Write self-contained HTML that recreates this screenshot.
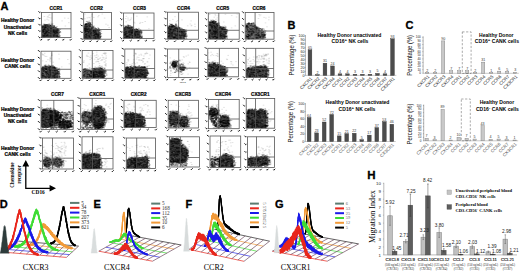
<!DOCTYPE html>
<html><head><meta charset="utf-8"><style>
html,body{margin:0;padding:0;background:#fff;}
svg{display:block;font-family:"Liberation Sans",sans-serif;}
</style></head><body>
<svg width="520" height="272" viewBox="0 0 520 272" font-family="'Liberation Sans',sans-serif">
<rect width="520" height="272" fill="#fff"/>
<defs><filter id="bl" x="-20%" y="-20%" width="140%" height="140%"><feGaussianBlur stdDeviation=".7"/></filter></defs>
<clipPath id="c0"><rect x="41.5" y="12.4" width="29.5" height="25.2"/></clipPath>
<g clip-path="url(#c0)"><g filter="url(#bl)" fill="#080808">
<path d="M41.5 37.6L41.5 27L43 25.8L46 25L50 25.3L53 26.5L55 28.5L58.6 29.3L58.6 37.6Z" fill-opacity="0.75"/>
</g></g>
<clipPath id="c1"><rect x="83.7" y="12.4" width="27.8" height="26.8"/></clipPath>
<g clip-path="url(#c1)"><g filter="url(#bl)" fill="#080808">
<path d="M83.7 39.2L83.7 26L86 23.5L89 23.5L91 25.5L92.5 28.5L95 30L99.5 30.5L99.5 39.2Z" fill-opacity="0.75"/>
</g></g>
<clipPath id="c2"><rect x="123.4" y="13" width="30.6" height="25.5"/></clipPath>
<g clip-path="url(#c2)"><g filter="url(#bl)" fill="#080808">
<path d="M123.4 38.5L123.4 28L125.5 26.5L129 26.5L132 28L134 30L140.5 30.8L140.5 38.5Z" fill-opacity="0.75"/>
</g></g>
<clipPath id="c3"><rect x="167.5" y="12.2" width="31" height="27"/></clipPath>
<g clip-path="url(#c3)"><g filter="url(#bl)" fill="#080808">
<path d="M167.5 39.2L167.5 27.5L170 25.8L174 25.7L177 27L179 29.5L184.7 30.5L184.7 39.2Z" fill-opacity="0.75"/>
</g></g>
<clipPath id="c4"><rect x="208.3" y="13" width="30.9" height="26.2"/></clipPath>
<g clip-path="url(#c4)"><g filter="url(#bl)" fill="#080808">
<path d="M208.3 39.2L208.3 24L210.5 22L214 21.8L216.5 23.5L218.5 26.5L221 27.8L225.8 28.5L225.8 39.2Z" fill-opacity="0.75"/>
</g></g>
<clipPath id="c5"><rect x="245.2" y="12.5" width="28.8" height="26.7"/></clipPath>
<g clip-path="url(#c5)"><g filter="url(#bl)" fill="#080808">
<path d="M245.2 39.2L245.2 26L248 24L252.5 24.2L255 27L258 29.5L263.9 31L263.9 39.2Z" fill-opacity="0.61"/>
</g></g>
<clipPath id="c6"><rect x="41" y="51.2" width="30" height="27.1"/></clipPath>
<g clip-path="url(#c6)"><g filter="url(#bl)" fill="#080808">
<path d="M41 78.3L41 68L44 66.5L49 66.5L53 67.5L56 69L58.2 70.5L58.2 78.3Z" fill-opacity="0.72"/>
</g></g>
<clipPath id="c7"><rect x="82.2" y="50.5" width="30.8" height="27.8"/></clipPath>
<g clip-path="url(#c7)"><g filter="url(#bl)" fill="#080808">
<path d="M82.2 78.3L82.2 71L84 69.5L89 69.5L92.5 71L92.5 78.3Z" fill-opacity="0.61"/>
<path d="M92.5 78.3L92.5 70L94 69L99 68.2L103 68.8L104.7 70.5L104.7 78.3Z" fill-opacity="0.78"/>
</g></g>
<clipPath id="c8"><rect x="124.8" y="49" width="29.9" height="29.2"/></clipPath>
<g clip-path="url(#c8)"><g filter="url(#bl)" fill="#080808">
<path d="M124.8 78.2L124.8 68.8L127 67.8L136 67.6L144 67.4L146.5 68.5L146.5 78.2Z" fill-opacity="0.78"/>
</g></g>
<clipPath id="c9"><rect x="167.5" y="49" width="31" height="28.5"/></clipPath>
<g clip-path="url(#c9)"><g filter="url(#bl)" fill="#080808">
<ellipse cx="174.2" cy="64.3" rx="2.6" ry="3.4" fill-opacity="0.74"/>
<ellipse cx="182.5" cy="68.3" rx="3" ry="2.1" fill-opacity="0.74"/>
</g></g>
<clipPath id="c10"><rect x="207.8" y="48.3" width="30.7" height="28.5"/></clipPath>
<g clip-path="url(#c10)"><g filter="url(#bl)" fill="#080808">
<path d="M207.8 76.8L207.8 65.5L210 64L215 63.8L218 65L219.5 66.5L223 66.8L225.7 68L225.7 76.8Z" fill-opacity="0.75"/>
</g></g>
<clipPath id="c11"><rect x="246" y="48.3" width="27.7" height="29.2"/></clipPath>
<g clip-path="url(#c11)"><g filter="url(#bl)" fill="#080808">
<path d="M246 77.5L246 69L250 67.5L258 67.2L263 66.5L267 67.5L267 77.5Z" fill-opacity="0.72"/>
</g></g>
<clipPath id="c12"><rect x="41" y="100.3" width="32.2" height="29.2"/></clipPath>
<g clip-path="url(#c12)"><g filter="url(#bl)" fill="#080808">
<path d="M41 127L41 111L44 109.5L50 109.8L55 111L59 113L60 118L58 123L52 126L45 127Z" fill-opacity="0.74"/>
<ellipse cx="65" cy="124.5" rx="6.5" ry="4.2" fill-opacity="0.74"/>
</g></g>
<clipPath id="c13"><rect x="80.7" y="98.3" width="32.8" height="31.2"/></clipPath>
<g clip-path="url(#c13)"><g filter="url(#bl)" fill="#080808">
<ellipse cx="86.5" cy="117.5" rx="5" ry="6.5" fill-opacity="0.61"/>
<ellipse cx="98.3" cy="117.8" rx="7" ry="11" fill-opacity="0.77"/>
</g></g>
<clipPath id="c14"><rect x="124" y="100.3" width="32.2" height="27.2"/></clipPath>
<g clip-path="url(#c14)"><g filter="url(#bl)" fill="#080808">
<path d="M124 127.5L124 114.5L127 113.5L134 114L139 115L142.5 116.5L143.5 119L143.5 127.5Z" fill-opacity="0.78"/>
</g></g>
<clipPath id="c15"><rect x="168.2" y="100.3" width="30.3" height="27.7"/></clipPath>
<g clip-path="url(#c15)"><g filter="url(#bl)" fill="#080808">
<ellipse cx="174" cy="118.5" rx="5.8" ry="6.8" fill-opacity="0.71"/>
<ellipse cx="184.2" cy="121.5" rx="4.2" ry="5.5" fill-opacity="0.71"/>
</g></g>
<clipPath id="c16"><rect x="208.5" y="99.5" width="30.7" height="29.2"/></clipPath>
<g clip-path="url(#c16)"><g filter="url(#bl)" fill="#080808">
<ellipse cx="213.5" cy="111.8" rx="4.6" ry="4.4" fill-opacity="0.71"/>
<ellipse cx="224.5" cy="121.5" rx="5" ry="5.6" fill-opacity="0.71"/>
</g></g>
<clipPath id="c17"><rect x="246.2" y="98.5" width="28.5" height="29.7"/></clipPath>
<g clip-path="url(#c17)"><g filter="url(#bl)" fill="#080808">
<path d="M246.2 128.2L246.2 112L250 110.5L256 110.5L262 110L265.5 111L266.2 114L266.2 128.2Z" fill-opacity="0.77"/>
</g></g>
<clipPath id="c18"><rect x="42.5" y="138" width="31" height="31"/></clipPath>
<g clip-path="url(#c18)"><g filter="url(#bl)" fill="#080808">
<ellipse cx="47.5" cy="162.5" rx="4.6" ry="5" fill-opacity="0.61"/>
<ellipse cx="57.8" cy="162.5" rx="4.8" ry="4.6" fill-opacity="0.59"/>
</g></g>
<clipPath id="c19"><rect x="82" y="136.8" width="31" height="32.2"/></clipPath>
<g clip-path="url(#c19)"><g filter="url(#bl)" fill="#080808">
<path d="M82 169L82 156L85 154.5L91 154L96 154.5L99 156L100.2 159L100.2 169Z" fill-opacity="0.78"/>
</g></g>
<clipPath id="c20"><rect x="126.3" y="138" width="29.2" height="30.5"/></clipPath>
<g clip-path="url(#c20)"><g filter="url(#bl)" fill="#080808">
<path d="M126.3 168.5L126.3 160L129 158.5L135 157.8L135 168.5Z" fill-opacity="0.71"/>
<path d="M135 168.5L135 157.8L141 157.5L146 156.5L148 158.5L148 168.5Z" fill-opacity="0.76"/>
</g></g>
<clipPath id="c21"><rect x="169.5" y="136.8" width="30" height="30.2"/></clipPath>
<g clip-path="url(#c21)"><g filter="url(#bl)" fill="#080808">
<path d="M169.5 162.5L169.5 141L172 139.2L177 139L180 140.5L181 145L184 147.5L187 151L187.4 157L185 161L178 162L169.5 162Z" fill-opacity="0.76"/>
</g></g>
<clipPath id="c22"><rect x="210" y="136" width="30.7" height="31.5"/></clipPath>
<g clip-path="url(#c22)"><g filter="url(#bl)" fill="#080808">
<path d="M219 167.5L219 157.5L222 156L225 154L228 155.5L232 157L233.2 160L233.2 167.5Z" fill-opacity="0.76"/>
</g></g>
<clipPath id="c23"><rect x="247.5" y="136.8" width="27" height="30.7"/></clipPath>
<g clip-path="url(#c23)"><g filter="url(#bl)" fill="#080808">
<path d="M247.5 166L247.5 158.5L251 157.5L258 157.2L263 156.5L267 157L268.5 159L268.5 165L260 166L250 166.5Z" fill-opacity="0.75"/>
</g></g>
<g stroke-linecap="square" fill="none">
<path d="M55.2 30.4h.6M42.5 36.8h.6M43.9 36.1h.6M42.3 33.2h.6M44 28.3h.6M48.7 34.5h.6M48.9 30.3h.6M48.4 31.6h.6M46.3 37h.6M44.8 26.7h.6M50.9 29.4h.6M53.1 29.6h.6M48.9 29h.6M50.6 28.5h.6M53 30.2h.6M53.6 28.7h.6M49.3 32h.6M53.8 33.2h.6M48.8 26.1h.6M86 37.6h.6M88.3 29.8h.6M92.8 32.7h.6M96.2 30.5h.6M96.6 31.6h.6M85.1 35.6h.6M90.2 27.8h.6M97.1 32.9h.6M87 32.6h.6M92 32.9h.6M86.7 37.6h.6M89.6 32.3h.6M88.7 30.3h.6M91.1 27.5h.6M90.1 28h.6M98.9 38.2h.6M86 35.6h.6M97.8 34h.6M136.2 36.1h.6M125.4 37.3h.6M126.3 34h.6M140.3 35h.6M130 34.3h.6M132.3 34.3h.6M133.2 37.5h.6M136.3 31.2h.6M136.3 34.7h.6M127.8 34.8h.6M133 33h.6M132.3 36.3h.6M135.4 37.3h.6M126.3 36.9h.6M130.7 37h.6M128.2 37.7h.6M124.4 36.3h.6M140.2 33.8h.6M175.9 26.6h.6M176.8 38.6h.6M179.1 36.2h.6M184.5 34.3h.6M173.6 35.3h.6M174.2 28h.6M182.1 38h.6M180.1 34.2h.6M176.1 32.3h.6M168.3 34.7h.6M179.2 31.1h.6M168.7 37.6h.6M177.9 37.7h.6M172.3 30.5h.6M169.3 33.2h.6M176.4 30h.6M173 28.3h.6M182.5 36.4h.6M180 33.4h.6M173 32.3h.6M180 37.2h.6M223.1 37.7h.6M221.2 38.9h.6M212 24h.6M211.9 31.2h.6M214 33.2h.6M214.7 29.6h.6M208.9 32.8h.6M221.4 32.4h.6M209.9 35.7h.6M209.4 33.9h.6M210.1 28.8h.6M221 29.4h.6M210.5 34.8h.6M208.7 38.5h.6M211.5 37h.6M218.8 38.6h.6M221.6 34.5h.6M214.5 37.4h.6M212.9 26.3h.6M209.5 26.9h.6M215.1 32.9h.6M221.9 31.2h.6M211.5 29.8h.6M247.4 37.2h.6M248.9 34.6h.6M256.4 30.8h.6M261.9 38.9h.6M248.5 28.7h.6M249.1 35h.6M250.4 27.7h.6M259.3 35.8h.6M248.3 29.3h.6M250.4 27.1h.6M261.5 35.6h.6M262.5 38.5h.6M247.3 37.5h.6M259.8 32.6h.6M257.4 31.5h.6M262.1 33h.6M248.7 34.3h.6M247.5 37.4h.6M245.4 25.9h.6M248.1 31.7h.6M261.2 34.5h.6M252.9 27.5h.6M246.2 32.8h.6M250.2 33.4h.6M257.7 29.9h.6M247.1 38h.6M262.6 35.6h.6M249 37.9h.6M256.9 32h.6M263.4 38.7h.6M252.1 36.7h.6M260.7 33.4h.6M259.4 34.4h.6M261.7 36.8h.6M45.6 74.3h.6M46.3 70.3h.6M49 75h.6M53.6 73h.6M53.1 77.4h.6M49.1 71.5h.6M48.6 70.7h.6M57.6 74.3h.6M47 74.9h.6M45.3 70.3h.6M51.8 75.7h.6M48.4 77.2h.6M43.9 73.5h.6M45 75.2h.6M44 74.3h.6M51.2 71.1h.6M42.9 67.7h.6M43.2 72.7h.6M56 71.3h.6M86.6 77.1h.6M87.5 70.4h.6M85.5 77.4h.6M89 71.8h.6M83.1 77.4h.6M90.9 77.2h.6M83.9 70.3h.6M85.6 77h.6M84.5 76.3h.6M104.6 75.6h.6M97.9 74.1h.6M102 70.1h.6M99.5 77.2h.6M100.4 69h.6M96.6 70.1h.6M104.1 73.7h.6M96 75.4h.6M98.7 77h.6M97 78.2h.6M132.6 78.2h.6M134.9 73.2h.6M138.5 77.1h.6M126.9 76.1h.6M133.7 71h.6M131.4 73.3h.6M127.9 74.2h.6M139.7 72.2h.6M138.7 77.4h.6M133.6 73.9h.6M133.8 71.8h.6M142.8 71.8h.6M143.2 73.5h.6M137 71.9h.6M144.9 77.5h.6M141.5 72.2h.6M137.6 71.6h.6M129.3 68.4h.6M125.8 73h.6M129.1 70.8h.6M131.3 67.9h.6M136.5 68.9h.6M136.5 74.8h.6M176.4 63.2h.6M173.8 67.4h.6M183.4 69h.6M182 68.7h.6M212.6 67h.6M223.6 70.7h.6M216.9 66.3h.6M214.5 67.7h.6M216.6 67.8h.6M219.9 72.4h.6M224.4 69.7h.6M225.3 76.2h.6M217.1 75.5h.6M223.6 68.9h.6M208.3 67.3h.6M210.4 72.2h.6M213 64.9h.6M219.9 66.7h.6M212.8 66.9h.6M220.6 67.9h.6M220.7 71.9h.6M222.7 75.6h.6M212.4 68.4h.6M261.2 71.2h.6M266.4 71h.6M254.7 73.7h.6M257.5 71.7h.6M264.7 69.5h.6M255.4 77.4h.6M256.6 74.2h.6M264.8 76h.6M250.7 67.9h.6M258.1 72h.6M248.9 70.8h.6M253.8 70.5h.6M263.3 75.9h.6M256.3 69.2h.6M256.6 74.3h.6M256.2 72.2h.6M248 74.2h.6M258.4 76.9h.6M259.2 69.4h.6M257.4 74.9h.6M47.8 118h.6M55.3 117h.6M53.8 119.8h.6M56.8 120.9h.6M42.2 120.3h.6M42.7 122.4h.6M56.8 117.7h.6M49.6 122.5h.6M47.9 123.9h.6M42.3 112.2h.6M41.6 123.9h.6M47.5 117.7h.6M46.6 120.8h.6M58.4 114.1h.6M53.7 113.4h.6M57.8 116.8h.6M48.1 118.4h.6M55.5 121.2h.6M53.6 122.3h.6M52.2 123.6h.6M50.7 123.9h.6M55 122.2h.6M48.1 114.9h.6M55.1 123.9h.6M66.9 121.3h.6M63.3 123.5h.6M65.8 120.7h.6M60.3 125.6h.6M61.3 123.9h.6M65.5 127.4h.6M89.9 121.4h.6M87.4 118.9h.6M85.2 115.1h.6M83.7 120.7h.6M83.2 117.5h.6M89.9 119.1h.6M86.8 120.4h.6M84.3 115.8h.6M86.9 118.9h.6M89.7 121.3h.6M82.5 119.8h.6M84.9 115.7h.6M101.2 116.2h.6M92.7 118.2h.6M93.3 116.4h.6M100 117h.6M102.7 126.1h.6M93 114h.6M95.7 112.8h.6M104 122.6h.6M100.8 121.6h.6M102.9 121.9h.6M103.8 115.4h.6M102.1 113h.6M95.2 108.8h.6M102.9 111.4h.6M94.3 117.9h.6M100.1 117.1h.6M103.3 114.5h.6M93.8 115.8h.6M98.7 118.3h.6M98.6 115.2h.6M96.3 128.1h.6M93 121.1h.6M93 124.3h.6M97.2 127h.6M133.7 116.9h.6M135.5 116.6h.6M127.6 115.6h.6M126.7 125.7h.6M138.8 118.4h.6M140 125.4h.6M124.9 118.7h.6M130 125.2h.6M136.8 122.5h.6M137.5 116.2h.6M140.5 119.6h.6M134.8 114.4h.6M126.1 119.5h.6M143.1 123.4h.6M131.2 122h.6M136.8 118.4h.6M134.6 116.4h.6M126.1 119h.6M124.2 127.2h.6M127.2 119.1h.6M129 125.7h.6M130 121.2h.6M132.1 126h.6M137.1 124h.6M178.4 115.1h.6M172.7 113.6h.6M177.7 116.3h.6M170.5 116.2h.6M174.6 119.2h.6M171.6 116.3h.6M176.5 122.8h.6M175.1 112.1h.6M176.4 121h.6M175.7 123.3h.6M172.7 123.3h.6M173.8 123.5h.6M176.8 120.8h.6M178.5 114.3h.6M169.7 120.5h.6M169.3 116.1h.6M176.4 119.9h.6M177.7 116.1h.6M168.6 119.8h.6M169.7 120.7h.6M180.7 123.9h.6M185.5 121.5h.6M183.8 126.5h.6M185.6 120.9h.6M182.4 125.7h.6M181.5 122.2h.6M182.2 117.4h.6M183.1 124h.6M182 121h.6M181.2 124.7h.6M210.7 114.6h.6M213.1 108.5h.6M217.6 112.6h.6M212.5 110h.6M217.4 111h.6M215.8 112.4h.6M215 112.9h.6M228.2 121.1h.6M224.2 120.7h.6M224.6 123h.6M222.2 125.8h.6M224.9 126.2h.6M220.3 118.7h.6M227.1 124.4h.6M265.2 123.1h.6M248.1 123.2h.6M259.3 117.7h.6M249 122.9h.6M251 116.2h.6M262 122.4h.6M260.6 111.9h.6M249.7 113.8h.6M258.4 116.8h.6M255.4 118.1h.6M258.6 120.3h.6M262 124.2h.6M256.3 123.5h.6M253.7 119.7h.6M264.9 112.3h.6M262.6 118.5h.6M264.9 123.2h.6M262.9 122.1h.6M246.3 114.8h.6M252.6 116h.6M263.4 114.7h.6M248.2 124.4h.6M260.8 115.2h.6M251.7 126.6h.6M249.1 110.9h.6M248.8 120.4h.6M252.8 118.8h.6M249.9 120.2h.6M263.6 125.9h.6M249.8 125.7h.6M247.1 122.8h.6M247.9 119.6h.6M251.7 119h.6M246.6 122.4h.6M256.9 113.8h.6M48.6 161.3h.6M45.9 159h.6M51.1 162.7h.6M44.6 159h.6M43.5 163.6h.6M47.4 162.9h.6M45.1 160.3h.6M51.5 163.6h.6M44.6 159.6h.6M49.5 165.7h.6M46 166.6h.6M47.8 162h.6M49.4 159.1h.6M47.4 162.9h.6M48 158.9h.6M47.9 159.3h.6M47.6 165.2h.6M44.2 162.8h.6M54.7 165.6h.6M59.5 158.9h.6M59.9 163h.6M59.6 159.3h.6M56.6 166h.6M58 162.4h.6M56.4 161.2h.6M54 164.4h.6M56.7 165.3h.6M61 161.1h.6M58.5 163h.6M58 164.9h.6M61.5 164.1h.6M56 165.6h.6M59.1 165h.6M56.3 165.6h.6M61.9 164.8h.6M59.2 158.1h.6M59.2 161h.6M58.7 163.4h.6M90.3 155.2h.6M87.3 166.3h.6M89.9 166.5h.6M82.1 163.4h.6M97.1 166.5h.6M98.7 156.5h.6M92.3 160.9h.6M93.6 156.6h.6M88 164.9h.6M99 159.3h.6M83.3 156.1h.6M94.6 158.4h.6M83.7 167.6h.6M83 163.5h.6M82.5 162.7h.6M91.5 157.8h.6M93.9 166.2h.6M98.7 164.8h.6M97 161.1h.6M97.7 159.5h.6M100.1 164.4h.6M97.8 162.4h.6M98.5 164.4h.6M94.5 165.4h.6M128.5 159.1h.6M135 161.1h.6M134.8 167.9h.6M133.2 161.6h.6M132.7 159.6h.6M134.6 163.3h.6M128.9 159.6h.6M143.9 162.6h.6M139.9 164.9h.6M138.8 163.3h.6M146.6 160.7h.6M141.4 159.5h.6M146.4 158.1h.6M145.6 163.8h.6M144.9 158.2h.6M145.8 161.2h.6M147.2 166.4h.6M140.8 166.6h.6M137.3 162.6h.6M140.7 161.2h.6M141.5 160.2h.6M185.7 153.9h.6M173 147.9h.6M173.8 156.1h.6M185.9 150.2h.6M181.9 161.2h.6M178.8 147.4h.6M173.2 139.6h.6M175.5 158.1h.6M173.9 159.2h.6M182.1 153.3h.6M186 157.2h.6M183.9 149.4h.6M169.6 143.9h.6M177.1 149h.6M173.4 152.5h.6M180.6 152.6h.6M171 160.6h.6M175.5 157.5h.6M172.9 157.5h.6M183.1 148.8h.6M173.8 147h.6M178.6 146.7h.6M174.8 145.9h.6M170.6 158.5h.6M171.5 160.6h.6M170.2 158.9h.6M171.2 160.9h.6M177.4 149.8h.6M183.3 157.1h.6M174.3 158.5h.6M186.9 154.9h.6M173.6 146h.6M178.6 161.1h.6M170.3 155.3h.6M170.6 151.8h.6M178.1 159.4h.6M224.5 165h.6M229.4 157.4h.6M229 161h.6M222.9 167h.6M227.4 166.3h.6M228.3 165.5h.6M229.6 166.2h.6M224.8 161.6h.6M229.2 160h.6M220.6 158.2h.6M230.2 159.3h.6M232.8 160.3h.6M229.2 162.3h.6M228.2 164.9h.6M228.8 165.8h.6M264.2 163.2h.6M254.5 162.7h.6M253.9 163.7h.6M253.2 160.7h.6M265.8 164.8h.6M251.8 159.7h.6M254.4 163.9h.6M255.7 160.9h.6M249.2 163.4h.6M252.3 163h.6M260.7 160.4h.6M260.5 158h.6M261.6 159.1h.6M266.7 164.2h.6M256.2 166.2h.6M263.5 157.5h.6M256.3 157.6h.6M264.5 163.5h.6M260.5 165.8h.6M264.8 163.1h.6" stroke="#aaa" stroke-width=".8" stroke-opacity=".3"/>
<path d="M177.2 62.9h.6M177.7 67.5h.6M174.2 66.1h.6M175.5 65.4h.6M177.4 66.5h.6M178.3 64.1h.6M171.7 64.4h.6M179.6 66h.6M182.7 64.5h.6M172.8 63.2h.6M175 65.7h.6M180 65.9h.6M174 69.1h.6M173.8 63.9h.6M177.4 61.3h.6M169.9 66.9h.6M177.5 61.4h.6M175.8 64.9h.6M181 64.7h.6M174.7 72.5h.6M179.6 67.6h.6M176 60.7h.6M170.6 70.9h.6M180.1 65.9h.6M180.8 68.3h.6M180.5 71.4h.6M179.4 66h.6M177.8 66.1h.6M174.6 66.3h.6M176.5 69.5h.6M178.6 66.1h.6M175.7 62.1h.6M173.4 68.6h.6M179.4 60.2h.6M179.6 64.4h.6M174.6 67.1h.6M169.9 68.1h.6M176 71h.6M182.3 65.2h.6M171.6 65.4h.6M180.8 69.8h.6M178.2 68.9h.6M176 67.1h.6M177.8 70.9h.6M179.1 68.9h.6M180.2 67.5h.6M173.5 66.4h.6M179.6 67.1h.6M174.7 72.2h.6M171.8 64.8h.6M175.6 63.2h.6M178.5 68.2h.6M181.1 72.3h.6M169.5 67.1h.6M173.2 66.4h.6M177.8 70.5h.6M181.5 63.8h.6M180.7 64.1h.6M175.7 70.9h.6M174.7 65.1h.6M176.2 68.5h.6M175.7 64.4h.6M178.2 71.4h.6M170.8 65.1h.6M176.6 64.7h.6M176.1 69.4h.6M174.1 66.1h.6M170 63.3h.6M69.7 123.8h.6M67.8 121.2h.6M66 114.1h.6M51.2 117.4h.6M72.1 123.7h.6M58.6 126.4h.6M51 127.6h.6M57.8 119.5h.6M67.2 122h.6M50.7 116.4h.6M53.4 113.3h.6M61 123.6h.6M52.5 115.4h.6M53.5 112.9h.6M63.9 119.5h.6M56.4 118.1h.6M61.1 119.2h.6M60.3 115.1h.6M60 112.9h.6M56.3 128.1h.6M56.1 117h.6M60.3 116.8h.6M65.6 112.3h.6M70.4 121.5h.6M51.9 124.3h.6M61.3 124.9h.6M56.6 114.9h.6M56.9 125.3h.6M65 120h.6M59.4 122.4h.6M65.5 114.7h.6M63.2 116.9h.6M64.6 117.3h.6M66.8 118.5h.6M70.8 120h.6M69.5 112.3h.6M60.1 125.5h.6M69 126.5h.6M52.9 122.1h.6M63.1 121.5h.6M63.9 125.2h.6M56.7 114.3h.6M56.1 116.8h.6M61.7 115.2h.6M68.2 120h.6M62.2 112.3h.6M59.6 121.1h.6M71.6 118.7h.6M52.8 125.2h.6M63.5 115h.6M55.5 116.4h.6M50.3 125.6h.6M51.1 123.5h.6M51.2 118.5h.6M57 117.9h.6M51 113h.6M61.8 125.4h.6M70.5 114.4h.6M55.2 113.6h.6M69.9 120.2h.6M64 126.5h.6M69.7 117h.6M68.6 111.7h.6M59.3 112.6h.6M54.3 119h.6M70.4 125.3h.6M50.2 115.4h.6M61.7 127.3h.6M61.9 112.8h.6M65.3 113.2h.6M54.2 125.7h.6M62.8 120.6h.6M52.8 119.1h.6M65.5 115.6h.6M50.9 118.4h.6M63.7 119.3h.6M60.5 115.8h.6M67 115.4h.6M66.1 116.2h.6M58.9 120.1h.6M58.2 113h.6M53.4 127.8h.6M59.8 122.7h.6M58.5 123h.6M67.6 125.8h.6M56.6 127h.6M56.4 116.7h.6M57.3 113.7h.6M55.4 119.7h.6M60.1 120.6h.6M67.1 117.4h.6M63.2 119.3h.6M54.1 126.2h.6M60.6 128.2h.6M60.4 113.8h.6M70.8 124.5h.6M54.7 113.9h.6M66.2 125.1h.6M71.4 117.3h.6M65 117.3h.6M52.2 126.3h.6M72.1 117.4h.6M60.2 122.3h.6M66.8 120.1h.6M68.8 118.3h.6M54.2 126.2h.6M62.1 124.9h.6M71.6 125.3h.6M59 127h.6M53 122.6h.6M54.9 114.3h.6M54 116h.6M53.2 113.1h.6M66.5 113.8h.6M56.9 125.4h.6M51 116.7h.6M66.5 114.3h.6M65.7 114.8h.6M55.4 113.9h.6M57.4 127.2h.6M53.2 117.3h.6M52 116.3h.6M63.5 123.8h.6M57.6 117.5h.6M60.6 114.5h.6M68 127.1h.6M58.8 122.1h.6M72.5 119.5h.6M65.6 124.3h.6M52.8 122.2h.6M70.6 126.3h.6M63.4 113.9h.6M62.2 114.7h.6M62.4 119h.6M66.4 125.8h.6M60.3 117.7h.6M70 114.4h.6M54.7 117.6h.6M66.2 126h.6M68.5 115.1h.6M69.3 113.9h.6M64.9 114.1h.6M53.1 112.8h.6M72.8 117.6h.6M71.9 126.5h.6M53.7 112.7h.6M53.2 128.2h.6M67.4 112.8h.6M62 115h.6M64.9 115.4h.6M62.3 115.7h.6M71.3 111.5h.6M71.8 122.6h.6M63.6 122.4h.6M72.4 118.3h.6M56.2 118.1h.6M64.3 121.8h.6M67.1 114.4h.6M50.5 117.6h.6M63.9 125.3h.6M55 119.1h.6M66.9 117.5h.6M55.4 120.8h.6M69.8 126.3h.6M54.8 116.7h.6M70.9 125.6h.6M50.8 125h.6M59.5 117.8h.6M68.1 125.8h.6M64.2 112.9h.6M71.5 115.2h.6M59.3 128.9h.6M52.1 127.3h.6M72 115.3h.6M70.6 126.6h.6M60.3 116.3h.6M55.7 123.4h.6M71.7 116.1h.6M59.7 122.4h.6M53 115.9h.6M70.5 125.7h.6M61.3 112.4h.6M51 116.6h.6M70 117.3h.6M64 116.3h.6M72.8 115h.6M54.4 113.2h.6M51.1 115.1h.6M57 115h.6M55.9 127h.6M71.1 126.5h.6M49.6 123.2h.6M72 126.8h.6M51.7 125.1h.6M57.1 118.4h.6M62.2 123.2h.6M58.1 126.7h.6M54.7 116.7h.6M62.4 119.1h.6M50.1 125.3h.6M49.8 120.5h.6M62.6 124.4h.6M53.5 118h.6M66.4 124.2h.6M61.1 121.6h.6M63.3 112.9h.6M60 124.8h.6M63.9 119h.6M60.4 125.2h.6M67.6 121h.6M63.7 117.2h.6M57.8 120.3h.6M52.7 120.8h.6M61.3 112.6h.6M55.6 128.1h.6M56.3 127.9h.6M51.1 126.6h.6M60.1 118.1h.6M50.3 124.2h.6M62.9 125.3h.6M63.2 122.9h.6M62.5 116h.6M50.5 118.5h.6M64.3 127.8h.6M68.8 111.4h.6M63.3 118.4h.6M66.6 122.5h.6M57.1 123.6h.6M52.7 124.1h.6M53.1 115.7h.6M70.1 124.9h.6M51.2 119.1h.6M70.3 118.5h.6M60.4 116.3h.6M55.2 127.5h.6M51 128.5h.6M48.1 123.1h.6M55.1 126.8h.6M49.9 116.4h.6M70.4 113.7h.6M72.6 113.1h.6M69.7 112.7h.6M64.4 112.5h.6M68.1 124.6h.6M61.3 114.9h.6M67.9 114.5h.6M61.5 115.5h.6M55.1 125.2h.6M57.9 115.1h.6M65.5 118h.6M71.4 122.6h.6M60.7 127.5h.6M60.6 121.9h.6M70.9 127.6h.6M52.2 118.2h.6M50.3 112.6h.6M54.6 127h.6M66.4 125.9h.6M52.2 114.8h.6M67.2 126.6h.6M51 119.2h.6M65.6 116.8h.6M55.2 114.8h.6M71.6 122.6h.6M67.1 118.6h.6M60.8 118.8h.6M50.2 122.4h.6M61.7 123.4h.6M52.6 121.7h.6M70.3 121.1h.6M72.6 123.3h.6M60.2 114.7h.6M59.4 127.6h.6M57.5 121.2h.6M56.1 115.7h.6M70.2 121.1h.6M59.4 124.5h.6M54.6 118h.6M59.6 119h.6M66.3 129.1h.6M56.1 114.9h.6M51.8 119.5h.6M55.3 120.3h.6M57.2 111.9h.6M70.4 112.3h.6M70.3 126.5h.6M56.2 120h.6M60.4 119.7h.6M54.2 125.3h.6M52.1 121.9h.6M55.4 117h.6M58.4 127.6h.6M65.9 117.8h.6M60 125.4h.6M51.2 113.1h.6M58.2 118.5h.6M52 120.7h.6M53.3 115.6h.6M60.2 121.6h.6M51.1 128.5h.6M69 120.7h.6M56.1 115.9h.6M58.4 115.1h.6M66.4 115.7h.6M56.3 120.3h.6M58.3 119.1h.6M65.5 118.6h.6M69 122.6h.6M60.2 115.5h.6M58.6 116.9h.6M59.9 124h.6M64.9 121.4h.6M66.1 118.8h.6M53.7 112.8h.6M67.4 113.2h.6M65.2 120.8h.6M72.3 122.9h.6M57.5 117.8h.6M70.5 115.9h.6M72.8 119.4h.6M53.9 116.2h.6M70.9 123h.6M64.3 124.8h.6M57.1 115.5h.6M57.6 119.9h.6M55.9 120.3h.6M55.3 117.2h.6M71.5 123.9h.6M70.2 126.8h.6M52.1 127.5h.6M57.8 111.5h.6M53.6 127.7h.6M62.2 115.9h.6M56.3 115.7h.6M67.2 121.3h.6M72.3 127.8h.6M58.9 121.2h.6M57.5 116.2h.6M67.3 114.7h.6M63.2 119.4h.6M70.6 116.7h.6M53 117.2h.6M64.1 114.5h.6M63.4 126.8h.6M68.8 121.6h.6M56.4 122.6h.6M56.4 120.1h.6M61.3 126.3h.6M54.3 119.4h.6M71.1 121.9h.6M72.5 123.1h.6M59.4 122.4h.6M63 126h.6M67.3 126.9h.6M52.6 120.1h.6M61.9 111.8h.6M56.4 124.9h.6M54.8 112.1h.6M52 117.4h.6M57.9 122.2h.6M56.8 111h.6M55.8 119.6h.6M58.3 114.4h.6M69.4 124.2h.6M50.4 124h.6M67.2 127.3h.6M60.9 114.3h.6M56.7 116.5h.6M59.6 126.7h.6M52.8 121.3h.6M71.3 115.5h.6M64.4 127.7h.6M68.2 116.7h.6M54.5 120.2h.6M52.5 128.4h.6M50.1 125.7h.6M65.8 122.4h.6M50.2 114.2h.6M61.1 121.8h.6M55.4 121.8h.6M68.8 112.5h.6M50.5 116h.6M69.9 119h.6M51.1 111.8h.6M64.5 124.5h.6M50.4 117.2h.6M94.4 127.3h.6M102.3 127h.6M99.3 127.3h.6M83.5 127.9h.6M98 129h.6M86.8 126.9h.6M101.1 124.3h.6M97.9 124.3h.6M90.9 128.4h.6M91.9 128.1h.6M89.4 125.8h.6M93.4 126.8h.6M83.4 128.7h.6M86.6 128.7h.6M102 125.2h.6M97.4 125.8h.6M98.9 123.7h.6M99.5 128.5h.6M101.7 128h.6M89.9 126.7h.6M99.9 125.7h.6M97.7 128.1h.6M86.1 128.3h.6M85.3 126.8h.6M89 127.4h.6M102.8 124.1h.6M96.3 125.8h.6M93.8 125.4h.6M85.2 126.3h.6M94.5 128.9h.6M85.3 127.5h.6M103.7 124.6h.6M97.8 128.6h.6M95.8 127h.6M98.4 127.9h.6M96.1 127.1h.6M89.7 127.7h.6M95.9 125.2h.6M103.5 127.4h.6M101 124.6h.6M95.5 129h.6M98.5 125.1h.6M98.5 127.9h.6M94.1 124.3h.6M96.3 127.2h.6M96.2 125.4h.6M97.3 125.2h.6M82.1 128.9h.6M87.1 127.8h.6M83.8 123.8h.6M91.6 124.1h.6M100.4 125.5h.6M82.9 128.3h.6M97.3 126.2h.6M91.8 127.5h.6M95.7 125.1h.6M87.2 125.4h.6M85.2 125.8h.6M94.8 127.7h.6M94.1 126.5h.6M95.3 128.1h.6M83.2 128.2h.6M86.9 125.6h.6M81.7 127h.6M87.5 124h.6M94.3 126.3h.6M102.5 124.7h.6M97.8 125.8h.6M97.7 128h.6M91.1 124.8h.6M94.5 124.3h.6M87.9 127.1h.6M101.3 125.1h.6M96.9 127.4h.6M85 126.6h.6M100.3 125.1h.6M87.7 124.4h.6M102.5 125.4h.6M99 124.3h.6M82.8 127.5h.6M83 123.8h.6M94.7 127.2h.6M81.5 127.2h.6M102.3 127.2h.6M100.8 126.2h.6M90.2 125.3h.6M90.1 127.6h.6M93.8 128.5h.6M89.9 125.5h.6M103.3 127.4h.6M101.3 126.1h.6M91.1 127.9h.6M87 129.1h.6M88.4 128.5h.6M100.2 125.1h.6M99.6 127h.6M102 127.3h.6M81.7 121.9h.6M86.8 125.9h.6M100.5 123.6h.6M93.3 126.7h.6M83.2 127.1h.6M102.1 125.1h.6M95.5 128.3h.6M93 122.3h.6M97 124.2h.6M97.4 124.9h.6M101.5 127.7h.6M88 127.8h.6M101.7 126.6h.6M99 125.4h.6M95.2 125.4h.6M93.9 124.6h.6M97.7 127.1h.6M103 123.3h.6M99.8 125.2h.6M97.2 128.7h.6M103.6 128.9h.6M89.9 127.7h.6M104.7 125.8h.6M82.4 125h.6M170.1 125.4h.6M175.2 127.3h.6M188.1 126.1h.6M179.8 126.4h.6M172 124.9h.6M173.5 125.9h.6M179.9 125.9h.6M169.5 125.1h.6M180.6 125.4h.6M176.2 125.7h.6M169.7 126.8h.6M181.9 125.3h.6M174 126.2h.6M179 127.3h.6M173.2 126.9h.6M169.8 126.7h.6M179.1 124.1h.6M177.9 127h.6M184.1 125.6h.6M178.5 126.1h.6M177.6 124.1h.6M169 123.2h.6M181.6 123.4h.6M176.1 127.7h.6M174.3 123h.6M186.5 124.1h.6M177 126.5h.6M186 127.4h.6M175 126.5h.6M170.3 125.7h.6M184.3 126.2h.6M188.3 126.8h.6M180.1 126.8h.6M183.3 123.7h.6M186.6 127h.6M188.7 126.5h.6M171.6 123.9h.6M171.2 125.9h.6M177.5 122.5h.6M171.2 126.5h.6M183.5 124.6h.6M179.7 125.2h.6M175.4 125.5h.6M176.2 125.9h.6M186.4 126.5h.6M172.7 123.4h.6M170.3 127.4h.6M184.1 125.7h.6M177 125.9h.6M182.8 124.1h.6M169.3 127h.6M179.5 125.4h.6M183.7 123.9h.6M180.6 124h.6M187.1 126h.6M187.4 126.9h.6M175.5 127.7h.6M184.6 124.1h.6M186.9 124.4h.6M173.3 127.1h.6M174.1 127.4h.6M172.9 123.8h.6M171.3 125.6h.6M169.5 125.1h.6M169 125h.6M184.9 123.1h.6M173.7 126.6h.6M183.4 126.1h.6M171.6 127.5h.6M172.5 124.4h.6M183 127h.6M173.9 124.6h.6M185.7 125.5h.6M173 124.5h.6M174.2 125.1h.6M183.3 125.8h.6M179 123.9h.6M180.1 126.1h.6M182.1 126.2h.6M188.1 124.7h.6M179.3 121.7h.6M173.9 126.5h.6M180.5 126.6h.6M181.3 127.4h.6M177.1 123.3h.6M175.5 126.3h.6M176.3 127h.6M176 124.9h.6M226.7 119h.6M224.9 123.4h.6M213.7 112.1h.6M218.7 125.3h.6M210 119.3h.6M226 123.5h.6M219.5 124.7h.6M229.1 124.5h.6M218.1 125.9h.6M215.8 123h.6M227.2 122.8h.6M215.4 119.1h.6M211.2 118.4h.6M209.2 114.1h.6M217.2 117.1h.6M215.1 126.8h.6M226.2 118.8h.6M214.1 117.7h.6M220.9 122.1h.6M221.7 127.8h.6M210.3 118.9h.6M209.4 117h.6M213.8 111.4h.6M214.1 114.9h.6M217.6 122.6h.6M212.9 121.8h.6M219.9 115.6h.6M220.7 121.8h.6M222.3 116.4h.6M214.1 125.1h.6M218 114.9h.6M213 116.8h.6M227.1 118.4h.6M218.5 125.3h.6M210.1 113.4h.6M215.8 123.2h.6M224.7 126.1h.6M212.2 116.7h.6M213.6 123.2h.6M213.1 124.3h.6M220.4 120.7h.6M215.5 115.5h.6M215.9 118.9h.6M222.6 122.9h.6M212.8 115.9h.6M215.1 120.8h.6M213.4 122.7h.6M222.7 116.9h.6M215.7 116.7h.6M210.8 119.4h.6M226.1 120.3h.6M229.6 124.1h.6M209.7 115.4h.6M222 115.1h.6M215.2 121.1h.6M216.2 118.6h.6M222.4 126.5h.6M222.4 123h.6M219.3 121.6h.6M216.4 116.7h.6M222.2 126.9h.6M222.8 128.2h.6M215.2 114.5h.6M222.1 125.8h.6M226.5 128.1h.6M217.2 123.8h.6M214.9 125.4h.6M222.4 116.6h.6M218.1 117.5h.6M208.9 115.8h.6M212 114.4h.6M222 115.5h.6M222.5 116.1h.6M222.1 118.2h.6M214.5 125.7h.6M227.4 120.9h.6M216.3 127.9h.6M212.1 119.7h.6M216.2 123.1h.6M224 126.6h.6M214.2 120.4h.6M229.4 125.1h.6M222.4 120.7h.6M214.4 122.5h.6M214.9 117.7h.6M223.5 118.3h.6M213.4 114.8h.6M220.7 119.3h.6M215.2 125h.6M216.3 126.8h.6M213.9 122.9h.6M226.4 121.8h.6M216.5 124h.6M227.7 120.4h.6M223.9 120.5h.6M212.4 116.2h.6M216.5 118.6h.6M211.7 121.5h.6M211.4 122.2h.6M222.3 125.2h.6M211.6 117.6h.6M213.9 124.2h.6M226.1 123.4h.6M224.7 125.8h.6M214 121.2h.6M227.4 127.7h.6M214.6 118.5h.6M213.8 122.2h.6M224.8 122.4h.6M215.7 119.6h.6M216.4 120.2h.6M218.3 119.8h.6M216.8 126h.6M221.7 122.4h.6M211.7 120.6h.6M227.1 127.7h.6M219.9 115.2h.6M215.8 126h.6M211.3 116.5h.6M228.5 124.7h.6M212.4 112.7h.6M217.4 118.1h.6M215.8 115.2h.6M220.6 117.5h.6M216.7 118.1h.6M215.4 122.2h.6M221.4 126.7h.6M220.6 126.3h.6M212.5 121.7h.6M222.3 115.5h.6M221.1 119h.6M213.8 123h.6M219.8 121.8h.6M214.4 121.3h.6M210.8 120.5h.6M213.8 116.2h.6M212.9 118.4h.6M219.8 115.4h.6M219.4 118.9h.6M227.3 125.5h.6M211.6 116.2h.6M226.4 126.6h.6M222.1 126.7h.6M227.6 120.8h.6M223.3 122.2h.6M212.5 124.3h.6M223.7 123.3h.6M214.3 121.5h.6M219.6 126.8h.6M218.8 126.3h.6M217.6 115h.6M216.2 118.9h.6M217.8 112.6h.6M226.6 118.7h.6M213.1 125.5h.6M212.8 114.8h.6M216.8 117.1h.6M223.8 117.9h.6M214 122.3h.6M219.1 125.5h.6M215.7 126.2h.6M214 111.9h.6M211.1 114.8h.6M212.2 117.9h.6M215.5 126.2h.6M212.2 122.6h.6M228 125.7h.6M225.5 123.7h.6M214.7 121.9h.6M216.5 124.7h.6M215.2 126.2h.6M209.5 116.1h.6M211.5 116.6h.6M224.3 117.9h.6M218.6 117.9h.6M227.8 117.7h.6M219 127.9h.6M211.7 112.4h.6M227.5 118.6h.6M213.1 118.4h.6M228.6 123.6h.6M221.9 126.2h.6M225.4 125.8h.6M211 114.5h.6M213.1 119h.6M220.1 122.4h.6M215.2 117.8h.6M225.6 122.3h.6M224.1 123h.6M228.3 121.2h.6M224.7 120.3h.6M228.2 124.1h.6M211.3 115.1h.6M212.8 119.1h.6M221.4 121.3h.6M212.3 116.4h.6M211.3 121.9h.6M213.5 110.3h.6M215.8 117.3h.6M212.2 112.3h.6M211.2 116.5h.6M215.4 124.4h.6M226.9 121.3h.6M221.8 122h.6M215.8 118.9h.6M213.7 121.8h.6M218.4 118.5h.6M211.3 110.5h.6M216.9 113.2h.6M218.1 127.6h.6M211.4 118.5h.6M211.9 118.8h.6M216.8 123.8h.6M211.7 120.8h.6M224 125.8h.6M222.3 125.3h.6M215.2 125.4h.6M212.8 112.6h.6M214.2 123.3h.6M213.5 120.6h.6M219.1 125.7h.6M227.4 117.2h.6M217.1 117.2h.6M216.5 124.2h.6M226.4 124.4h.6M210.7 117.6h.6M217.9 121.1h.6M213.8 121.6h.6M213.7 120.9h.6M211.5 121.4h.6M211.8 118.3h.6M219.6 118.4h.6M215.4 117.9h.6M219.3 127.4h.6M220.3 115.9h.6M212.9 119h.6M210.7 117.3h.6M228.2 123.3h.6M219.9 126.5h.6M213.3 127.9h.6M213.3 121h.6M219.9 119.3h.6M229 127.5h.6M211 116.6h.6M214.7 128.1h.6M221.1 116.8h.6M219.6 115.2h.6M223.3 126.5h.6M215.2 126.3h.6M219.1 119.4h.6M217.6 126.7h.6M220.2 116.8h.6M221.5 118.5h.6M216.5 125.4h.6M222 120.7h.6M229.1 125.9h.6M223.9 128.2h.6M225.1 123.6h.6M217.2 121.1h.6M220.5 126.6h.6M211.6 120.4h.6M221.1 124.7h.6M213.8 118h.6M211.9 115.9h.6M210.8 111.5h.6M223.4 116.2h.6M225.4 125.4h.6M214.5 124.7h.6M219.2 122.8h.6M225.1 124h.6M230.1 125.9h.6M216.1 119.8h.6M227.3 124.2h.6M216.9 127.3h.6M214.6 116.9h.6M217.2 114.5h.6M214.3 114.1h.6M216 119.6h.6M218.5 120.9h.6M220.9 117.2h.6M212.7 118.6h.6M223.2 123.9h.6M214.2 112.1h.6M211.6 111.9h.6M212 113.4h.6M219.9 121.8h.6M218.1 127.5h.6M221 119.1h.6M220.9 125.9h.6M213.7 123.3h.6M229.2 126.6h.6M211.3 119.7h.6M225.6 116.2h.6M210.6 112.1h.6M213.6 120.8h.6M230.8 125.8h.6M214 114.7h.6M214.5 114.5h.6M230.5 127.3h.6M217.9 114.3h.6M209.5 118.8h.6M228.4 126.6h.6M222.1 125.8h.6M213.8 115.5h.6M213.8 114h.6M219.5 114.1h.6M210.2 118.1h.6M217.1 114h.6M218.7 123.4h.6M226.1 115.8h.6M220.4 127.3h.6M216.3 117.9h.6M223.8 122.4h.6M214.3 114.2h.6M215.6 119.4h.6M216.2 125.2h.6M223.1 120.1h.6M215.3 124.6h.6M214.9 120.1h.6M218 122h.6M210.9 119h.6M222.1 121.3h.6M221.1 125.1h.6M215.6 125.7h.6M214.6 125.2h.6M215.9 122.7h.6M209.1 117.8h.6M214.5 118h.6M212.2 115.9h.6M218.3 112.9h.6M225.4 115.2h.6M212.6 113.8h.6M209.4 113.9h.6M212.6 123.2h.6M214.3 112.5h.6M218.5 123.5h.6M209.8 112.2h.6M209.8 114.4h.6M214 112.8h.6M226.8 122.5h.6M213.9 123h.6M224.6 123.1h.6M225.6 126.2h.6M227.8 122.2h.6M223.6 120.3h.6M215.7 126.2h.6M212.2 120.7h.6M212.4 118.8h.6M217.6 113.3h.6M227.7 120.9h.6M214.3 121.1h.6M216 124.2h.6M218.7 121.2h.6M175.6 159.9h.6M184.4 159.4h.6M186.8 161.2h.6M176.8 165h.6M181.6 163.8h.6M172.2 159.3h.6M173.1 160.6h.6M185.3 160.9h.6M179.5 159.7h.6M184.3 159.4h.6M172.3 165.7h.6M173.6 165.9h.6M170.5 163h.6M178.7 161.3h.6M182.6 162.5h.6M176.2 164.8h.6M185.8 165.2h.6M186 165.3h.6M184.9 163.7h.6M173.3 159.8h.6M175.5 160.2h.6M183.5 162.7h.6M181 160.8h.6M177 166.7h.6M184.4 165.7h.6M177.9 164.9h.6M180.6 161h.6M174.6 165.8h.6M173.8 161.7h.6M179.5 162.4h.6M172.8 160.8h.6M179.7 159.3h.6M173.2 161.5h.6M185.3 165.5h.6M171 160.5h.6M182.8 164.7h.6M178.2 163h.6M184 162.4h.6M183.1 165.9h.6M179 163.6h.6M182.2 166.6h.6M186.2 164h.6M171.3 162.1h.6M177.9 160.7h.6M173.5 162.6h.6M175.9 163.3h.6M172.6 163.3h.6M180.5 164.7h.6M182.2 159.7h.6M171 161.4h.6M184.7 162.8h.6M170.8 161.3h.6M170.6 164.3h.6M184.1 164.9h.6M181.4 159.2h.6M177.1 165.2h.6M182.3 163.8h.6M183.6 164.1h.6M180.2 163.2h.6M180.3 165.1h.6M176.2 160.1h.6M172.6 164.7h.6M185.2 162.3h.6M177.1 161.1h.6M177.8 160.2h.6M170.4 163h.6M183 160h.6M180.6 162.4h.6M186.7 163.6h.6M171.4 165.8h.6M171 162.1h.6M182.1 162.7h.6M181.4 165.4h.6M183.3 162.4h.6M175 164.6h.6M181.3 162.2h.6M172.4 164.2h.6M180.8 160.5h.6M171.6 162.8h.6M182.2 165.9h.6M180.1 160.8h.6M181.8 162.4h.6M170.9 165.2h.6M178 160.2h.6M177.1 163.1h.6M184.9 165h.6M171.5 164.7h.6M170.6 165h.6M179 160.2h.6M176.6 161.4h.6M183.2 161.3h.6M170.8 164.5h.6M186.2 166h.6M175.3 165.3h.6M180.9 164.3h.6M172.8 159.9h.6M173.2 164.4h.6M218.9 162.6h.6M217.6 158.5h.6M212 164.6h.6M214.1 162.5h.6M213.1 158h.6M217.8 158.1h.6M211.7 162.9h.6M213.6 165.6h.6M217.2 158.8h.6M215.2 165.1h.6M212.8 167.1h.6M210.9 162h.6M212.1 166.5h.6M210.5 159.1h.6M216.9 159.9h.6M213.9 166.8h.6M218 160h.6M211.2 164.5h.6M212.4 161.8h.6M217.7 159h.6M212.8 164.6h.6M219.4 164.7h.6M214.6 164.2h.6M218.3 154.8h.6M213.4 165.5h.6M211.8 165.6h.6M214.7 166.3h.6M213.3 159.3h.6M211.9 158.9h.6M216.6 159h.6M216.4 158.4h.6M210.6 164.7h.6M213.4 166.6h.6M211.7 163.8h.6M212.4 163.7h.6M211.8 162.1h.6M210.3 160.2h.6M216.1 161.2h.6M218.3 158.3h.6M215.9 165.1h.6M214.3 165.5h.6M212 156.6h.6M211.5 161.6h.6M212.2 161.2h.6M211.6 158.2h.6M215.3 157h.6M215.3 160.3h.6M213.9 159.7h.6M211.8 163.3h.6M212.1 166.5h.6M219.4 160.1h.6M213 166.9h.6M217.6 161.8h.6M215.2 160.1h.6M215.4 159.8h.6M211.9 159.3h.6M218.1 160.3h.6M214.7 163.4h.6M220 164.8h.6M210.5 165.5h.6M214.6 160.9h.6M214.8 157.1h.6M212.6 160.3h.6M212.6 158.6h.6M212.2 163.1h.6M211.2 165.9h.6M212.1 166h.6M218.2 161.5h.6M218.5 164.5h.6M214.6 160.6h.6M214.9 160.5h.6M211 164.3h.6M216.8 160.2h.6M217.1 165h.6M215.4 160.4h.6M217.6 159.5h.6M213.5 162.1h.6M217.4 165.6h.6M214.3 158.1h.6M212.8 164.9h.6M212.4 163.4h.6M215.4 159.9h.6M211.3 162.5h.6M214.8 159.5h.6M215.7 159.6h.6M215.2 164.3h.6M210.7 163.1h.6M213.7 161h.6M210.3 163.9h.6M217.5 158.6h.6M212.2 161.1h.6M219.7 161.8h.6M214.5 162.4h.6M216.6 163.1h.6M210.6 158.8h.6M216.9 158.8h.6M213.4 159.2h.6M216.7 164.8h.6M212.2 156.3h.6M214.5 164h.6M214.1 161.9h.6M214.4 157.5h.6M212.6 165.5h.6M211.8 163h.6M218.2 166.4h.6M216.3 159.7h.6M215 163.5h.6M211.3 159h.6M210.6 160.1h.6M214.4 166.7h.6M218.4 163.9h.6M214.6 164.8h.6M211.4 159.1h.6M211.9 165.5h.6M214.8 159.5h.6M219.3 165.1h.6M214.7 164.1h.6M211.8 161.7h.6M214.9 157.2h.6M213.7 159.7h.6M214.5 159.3h.6M216.8 159.5h.6M216.9 161.4h.6M219 160.6h.6M211.7 165h.6M215.6 163.9h.6M214.3 162.3h.6M215.7 159.1h.6M220.9 160.8h.6M210.7 160h.6M216.3 164.4h.6M213.4 164.1h.6M211.5 167h.6M211.8 164.8h.6M217.6 161.4h.6M216.5 164.1h.6M211.6 164.6h.6M213.8 163.3h.6M219.5 163.5h.6M213.4 166.9h.6M215.4 166.6h.6M214 162.7h.6M218.9 162h.6M213.6 164.4h.6M216.4 157h.6M211.6 166.3h.6M215 158.3h.6" stroke="#000" stroke-width=".7" stroke-opacity=".5"/>
<path d="M43.4 26.8h.6M44.6 27.3h.6M52.8 29.3h.6M45.7 27.3h.6M44 33.6h.6M51.4 28.2h.6M55.4 33.5h.6M48.8 32.7h.6M52.7 30.6h.6M43.1 29.6h.6M57.7 29.7h.6M54.7 35.9h.6M47.9 29.7h.6M50.3 28.2h.6M45.1 26.6h.6M53.2 31.4h.6M57.9 37.1h.6M56.4 36.9h.6M43.7 37.3h.6M56.4 32.8h.6M52.1 30.5h.6M48.8 26.8h.6M50.9 28.5h.6M43.6 36h.6M51.3 36h.6M46.5 32.3h.6M46.2 35.5h.6M45.1 33.2h.6M51 29.1h.6M42.9 31.1h.6M50.4 35.3h.6M45 27.3h.6M46.7 35.1h.6M45.5 33h.6M53.6 31.3h.6M43.4 31h.6M57.6 29.9h.6M51 30.3h.6M50.1 25.5h.6M56.6 32.3h.6M47.4 28.6h.6M44.7 36.8h.6M55.9 29.8h.6M51.8 32h.6M44.9 25.4h.6M41.9 27.1h.6M52.7 32.7h.6M58.4 33.3h.6M57.9 31.2h.6M55.8 31h.6M45.2 30.1h.6M42.8 32.3h.6M45.2 33.8h.6M44.5 33.7h.6M52.1 34h.6M53.2 30h.6M56.8 35.4h.6M54.6 32.6h.6M46 36.4h.6M58.1 37h.6M47.3 35.4h.6M53.1 35.6h.6M55.2 30.7h.6M48.3 35h.6M52.7 31.8h.6M43.2 35.6h.6M43 36.1h.6M45.3 26.7h.6M54.4 33.5h.6M48.5 32.5h.6M51 37h.6M50.2 31.8h.6M49.4 30.2h.6M53.3 36.7h.6M54.5 31.8h.6M47.5 26.2h.6M43.1 31.8h.6M56.5 35.9h.6M44.6 34.4h.6M55.3 31h.6M47.2 31.5h.6M53.9 30.7h.6M46.7 35.9h.6M48.2 30.3h.6M45.3 31.1h.6M53.6 29.6h.6M52.8 31.2h.6M46.4 31.9h.6M42.6 27.6h.6M44.1 35.7h.6M50.3 25.5h.6M46.1 31.4h.6M44.5 28.9h.6M57 30.6h.6M45.5 32.5h.6M43.4 31.6h.6M50.9 28.9h.6M54.2 32.8h.6M57.1 32.7h.6M44.6 27.3h.6M53.5 35.2h.6M42.6 30.3h.6M46.3 30.9h.6M56.4 32.1h.6M54.2 34.6h.6M46.2 32.8h.6M47.9 31h.6M50.6 33.4h.6M44.4 35.6h.6M44.3 28.9h.6M47.8 37h.6M42.1 37h.6M44.9 25.4h.6M43.6 29.5h.6M42.9 30.9h.6M47.4 34.3h.6M49.9 37.2h.6M57.2 36.3h.6M51.2 31.6h.6M44.4 29h.6M45.3 27.5h.6M52 29.1h.6M54.6 32.2h.6M56 31.4h.6M52.3 28h.6M53.4 30.1h.6M53.8 32.4h.6M43.9 28.8h.6M98.1 35.8h.6M94.5 30.8h.6M95.1 38.3h.6M86.5 23.9h.6M97.9 36.9h.6M85.4 26.7h.6M86.3 37.2h.6M98.2 34.5h.6M94.8 30.3h.6M86.9 26.5h.6M85 24.9h.6M88.2 32.2h.6M84.8 32.3h.6M91.6 28.3h.6M84.9 29.8h.6M97.1 35.1h.6M86.4 35.6h.6M85.1 30.8h.6M89.4 26.5h.6M84.5 28.2h.6M92.7 31.4h.6M96.6 33.5h.6M88.5 29h.6M86 27.9h.6M91.6 29.6h.6M88.3 35.7h.6M95.2 38h.6M92.3 32.6h.6M93.1 38h.6M88.9 36.9h.6M91.7 35.6h.6M93.1 30.6h.6M86.3 29.5h.6M85.8 34.3h.6M91.2 33.1h.6M85.7 31.7h.6M90.8 32.5h.6M91.2 32.2h.6M84.5 29h.6M85.6 24h.6M95.5 36.6h.6M87 29.5h.6M89.8 31.8h.6M86.9 28.8h.6M94.8 34.2h.6M96.3 34.5h.6M89 25.6h.6M96.3 34.5h.6M93.2 29.9h.6M84.4 30.5h.6M85.5 28.1h.6M95.8 32.7h.6M97.8 37h.6M95.1 38.2h.6M86.1 35.1h.6M93.7 32.1h.6M85.6 31.3h.6M98 34.7h.6M98.4 35.7h.6M84.7 29.8h.6M97.1 34.8h.6M91.4 30.6h.6M89.9 29.3h.6M89.3 30.9h.6M86.4 33.4h.6M92.8 31.2h.6M91.9 29.1h.6M92.1 28.2h.6M89.1 30.6h.6M93.4 35.6h.6M84.5 28.6h.6M87.5 30.7h.6M98 38.1h.6M95.1 38.2h.6M91.6 33.2h.6M85.8 34.9h.6M87.9 32.2h.6M87.4 31.5h.6M90 37.3h.6M92 35.5h.6M87.8 31.4h.6M92 28.4h.6M86.1 28.7h.6M94.4 32.6h.6M87.1 38.1h.6M85.9 26.2h.6M92.5 30.7h.6M97.5 36.9h.6M92.9 30.6h.6M85.5 31.1h.6M95.8 34h.6M85.2 36.3h.6M98.4 35.2h.6M86.4 37.6h.6M86 23.7h.6M94.8 34.3h.6M96 31.8h.6M93.9 35.4h.6M89.2 35.5h.6M89.7 30.7h.6M94.5 34.3h.6M94.6 35.8h.6M95.6 33.4h.6M99.4 38.8h.6M87.8 33.8h.6M95.6 30.9h.6M88.3 29h.6M86.2 36.1h.6M94 32.1h.6M85.4 24.5h.6M98.3 33.7h.6M84.5 37h.6M89.6 34.1h.6M96.5 38.3h.6M98.8 33.2h.6M95 36.9h.6M89.2 36.8h.6M89.2 36.6h.6M88.9 32.2h.6M85 29h.6M90.5 33.5h.6M98.9 38.3h.6M85.7 34.6h.6M85.5 24.5h.6M85.3 37.6h.6M94.9 31.7h.6M92.8 33.3h.6M85.4 31h.6M90.4 38.8h.6M86 30.4h.6M88.5 29.2h.6M87.2 29.7h.6M96.8 36h.6M91 34.4h.6M84.5 35.4h.6M96.7 33.8h.6M132 33h.6M130.1 30.3h.6M135.9 31.3h.6M140.4 38.2h.6M128.1 35.5h.6M132.7 35.7h.6M126.8 36.5h.6M131.5 33.9h.6M132.2 35.2h.6M126 31.7h.6M132.5 28.9h.6M131.4 33.2h.6M126.2 36.1h.6M136.7 34.3h.6M135.6 37.2h.6M135.4 36h.6M126.9 37.8h.6M135.5 31h.6M137.4 34.9h.6M125.8 37h.6M135.8 32h.6M137 32.2h.6M124.7 34.7h.6M131.9 32.6h.6M128.8 34.6h.6M140.3 32.1h.6M136.7 31.4h.6M131.4 32.7h.6M137.7 30.6h.6M124.2 35.8h.6M138.4 37.7h.6M129.5 28.6h.6M124.7 29.5h.6M132.9 30.3h.6M130.8 34.8h.6M131.4 30.8h.6M126.2 36.6h.6M123.8 32.7h.6M132.1 37.5h.6M129.9 34.4h.6M132.2 36.1h.6M132.3 37.9h.6M124.2 30.9h.6M134.6 34h.6M124.9 33.9h.6M135.4 34.9h.6M133.5 30.5h.6M124.6 27.9h.6M125.7 32.2h.6M134.4 33h.6M134.9 30.7h.6M126.6 33.6h.6M137.5 31h.6M126.1 37.5h.6M125.3 34.4h.6M130.2 31.7h.6M137.3 37.5h.6M128.9 27.6h.6M128.3 32.1h.6M130.4 37.3h.6M139.7 35h.6M132.3 36.9h.6M138.6 32.9h.6M138.1 34.6h.6M132.7 31.1h.6M136.1 37.8h.6M132.4 29.4h.6M130.3 30h.6M137.7 30.5h.6M132.8 31.3h.6M124.7 37.5h.6M134.8 35.2h.6M128.9 37.9h.6M131.4 31.3h.6M124.3 34.7h.6M134.5 34.2h.6M125.6 31.9h.6M123.9 32.8h.6M125.3 34.7h.6M127.2 36.1h.6M128.9 30.9h.6M129.5 35.2h.6M133.6 37h.6M128.8 37.4h.6M127.2 36.6h.6M137.5 35h.6M127.4 27.5h.6M129 31.9h.6M135 31.7h.6M127.4 27.8h.6M125.8 27h.6M128.5 36.6h.6M125.8 35.9h.6M140.1 36.4h.6M128.3 28.5h.6M129.7 33.9h.6M137.4 33.6h.6M131.8 30.3h.6M135.4 35.2h.6M137.3 31.8h.6M136.5 31.2h.6M126.1 33.8h.6M124.3 28.3h.6M139.6 38.1h.6M129.1 37.1h.6M139.2 36.2h.6M128.4 32h.6M135 35h.6M139 31.9h.6M130.3 32.3h.6M131.7 32.7h.6M140.3 36.6h.6M129.8 27.2h.6M126.9 36.3h.6M135.6 32.9h.6M131.5 32.1h.6M129.1 32.2h.6M125.5 33.4h.6M134.5 33h.6M136.8 36.7h.6M174.7 37.1h.6M174 30h.6M178.7 31.4h.6M176.5 28.2h.6M176.9 38.4h.6M176.2 28.7h.6M174.9 28.4h.6M177.9 30.8h.6M177.8 31.2h.6M170.6 29h.6M183.9 31.1h.6M181.1 31.7h.6M177.1 38.8h.6M169.5 35.5h.6M175.3 34.4h.6M168.6 35.7h.6M170.2 32.8h.6M182.5 34.9h.6M171.2 32.6h.6M180.1 37.5h.6M169.1 33.8h.6M170.8 38.4h.6M177.2 35h.6M177.2 31.8h.6M172.1 32.5h.6M181.4 35.5h.6M174.8 30h.6M178.6 34.9h.6M178.3 31.3h.6M168.4 34h.6M174.2 27h.6M179.3 35.4h.6M168.1 36.6h.6M178.3 37.9h.6M170.1 29.6h.6M178.1 31.9h.6M180.4 35.7h.6M175.9 38.5h.6M168.2 27.9h.6M174.2 37.5h.6M178.1 38h.6M175.5 26.9h.6M167.9 31.2h.6M174.6 37.1h.6M175.4 35.7h.6M178.8 35.1h.6M170.4 29.4h.6M183.9 38.7h.6M178.1 35.1h.6M170 38.6h.6M183.2 33.4h.6M168.2 37h.6M171.6 35.7h.6M171.6 34.6h.6M172 32h.6M171.9 36.1h.6M172.7 36.9h.6M183.7 37h.6M183.3 30.5h.6M180.5 38.8h.6M174.2 33.9h.6M184.6 34.1h.6M174.1 37.5h.6M182.1 36.1h.6M169.3 37.2h.6M172.5 26.6h.6M184.1 34.8h.6M169.4 28.3h.6M173.2 37.4h.6M179.6 30.6h.6M169.7 31.4h.6M181.9 32.9h.6M177.2 38.9h.6M183.8 36.3h.6M174.8 28.5h.6M173.8 38.3h.6M177.4 29.3h.6M173.1 29.8h.6M170.7 36.2h.6M167.9 33.1h.6M171.1 27.2h.6M181.2 34.1h.6M172.3 33.2h.6M172.7 30.4h.6M170.9 26.5h.6M182.2 32.2h.6M173.4 38.1h.6M180.5 37.8h.6M169.2 33.3h.6M170.9 33.6h.6M179.8 36.5h.6M169.4 31.1h.6M173.2 30.9h.6M171.1 30h.6M177.2 29.8h.6M178.1 31.3h.6M173 31.8h.6M175.1 30.8h.6M171.5 26.7h.6M174.1 26.4h.6M174.9 34.2h.6M180 30.3h.6M172.2 27h.6M168.4 28.1h.6M179.1 31.8h.6M181.1 31.5h.6M168.5 33.2h.6M173.4 29.1h.6M177.4 33.9h.6M172 26.6h.6M169.6 30.4h.6M176.2 35.5h.6M169 33.1h.6M183.5 35.7h.6M184.4 35.9h.6M169.9 34.4h.6M180.3 30.6h.6M184.1 31.8h.6M179.7 29.7h.6M173.7 37.2h.6M178 38.9h.6M170.1 29.2h.6M178.5 31.4h.6M181.1 32.1h.6M181.5 30.9h.6M184.3 35h.6M168.7 36.3h.6M184.2 31.7h.6M182.2 31.6h.6M173.8 37.8h.6M175.4 37.3h.6M172 33.7h.6M169.7 29.6h.6M184.2 32.9h.6M177.9 36.9h.6M218.6 29.7h.6M215.9 33.3h.6M213.2 31.7h.6M214.6 33.8h.6M216.5 37.2h.6M215.5 32.1h.6M214 36.7h.6M214.3 32.7h.6M213.7 33.8h.6M219 36h.6M215.2 34.4h.6M216.6 26.8h.6M213.7 23.2h.6M211.7 36.5h.6M219.5 27.2h.6M212.7 37.8h.6M213.4 37.1h.6M222.2 35h.6M210.5 25.6h.6M216.9 30.1h.6M214.1 31.3h.6M214.5 28.5h.6M212.7 33.5h.6M217.4 37.3h.6M217.9 30h.6M223.9 29.9h.6M212 29.8h.6M216 28.4h.6M214.9 27.3h.6M217.1 37.3h.6M209.7 24.8h.6M215 33.4h.6M209.6 30.7h.6M212.6 32.1h.6M219.9 38.9h.6M216.4 24.1h.6M221.4 29h.6M214 30.9h.6M224.3 36.2h.6M223.3 30.2h.6M215.7 31.1h.6M210.8 33.4h.6M221 31.8h.6M222.1 38.7h.6M220.2 34.9h.6M212.4 34.1h.6M210.2 24.3h.6M221.6 30.3h.6M214.3 25.8h.6M216 38.6h.6M211.8 26.4h.6M212.4 27.7h.6M211.7 27.4h.6M218.6 38.7h.6M224.9 29.8h.6M222.3 29.5h.6M209.8 31.9h.6M217.1 25.7h.6M211 25.9h.6M208.7 37.3h.6M214.7 32.4h.6M216.2 37.8h.6M221.8 29.2h.6M220.8 35.7h.6M209.3 25.1h.6M209.7 35.2h.6M219.9 27.5h.6M221.1 37.9h.6M212.1 22.4h.6M220.1 30.7h.6M213.6 26.3h.6M211.3 32.1h.6M217.9 33.5h.6M222.2 28h.6M225.7 33.7h.6M225.8 33.8h.6M208.6 37.2h.6M216.3 24.3h.6M217.1 32h.6M215.7 31.5h.6M224 31.6h.6M214.5 26.6h.6M222.2 35.1h.6M215.1 36.6h.6M217.5 32.1h.6M213.6 31.3h.6M210.3 30.4h.6M222 34h.6M215 31.1h.6M222.1 36.7h.6M214.7 35.3h.6M220.3 36.5h.6M220.1 33.9h.6M217 38.8h.6M216.8 37.2h.6M222.6 38.8h.6M215.1 29.5h.6M216.2 28.1h.6M215 36.9h.6M209.9 38.6h.6M217.8 34.6h.6M220.8 35.4h.6M225.2 36.5h.6M212.9 36.9h.6M223.4 36.1h.6M217.6 29.8h.6M214.9 27.5h.6M211.8 24.6h.6M212 22.2h.6M219 28.6h.6M224.7 29.4h.6M209.3 35.3h.6M219.4 32.9h.6M214.7 36.5h.6M209.4 36.8h.6M209.8 29.4h.6M221.4 30.6h.6M215.8 32.1h.6M214.1 23.6h.6M209.4 33.9h.6M211.6 34.3h.6M210.2 22.6h.6M216.6 25.8h.6M220.8 30h.6M215.1 36.8h.6M215.6 32.9h.6M214.9 38.9h.6M212 26h.6M214.5 32.1h.6M212.1 26.4h.6M225.2 31.2h.6M214.6 26.8h.6M224.4 29.3h.6M215.1 29.7h.6M223.6 34.5h.6M215.7 31h.6M214.3 34.1h.6M222.5 29.5h.6M211.6 28.7h.6M211.8 34.9h.6M220.5 34.2h.6M217.4 35.2h.6M213.4 25.5h.6M217.6 25.7h.6M211.5 27.1h.6M214.2 31.9h.6M213.5 23.1h.6M212.7 23.2h.6M220.9 30.6h.6M212.4 22.6h.6M225.5 33h.6M221 33.3h.6M216.5 38.3h.6M220.7 35.8h.6M224.2 37.3h.6M209.6 30.7h.6M209.7 30.4h.6M223.9 35.9h.6M209.2 31.1h.6M223.9 37h.6M221.7 30h.6M216.7 32.2h.6M218.1 34h.6M217.5 25.2h.6M223.4 29.7h.6M225.2 32.3h.6M218.8 32h.6M212.8 30.4h.6M220.4 32.1h.6M219.9 34.9h.6M221.1 28.2h.6M222.6 28.8h.6M219.5 31.2h.6M254.6 32.3h.6M255 34.7h.6M252.6 31.5h.6M255.6 35.2h.6M250.5 31.6h.6M251.1 38.6h.6M247.6 38.2h.6M249.5 38.1h.6M247.1 36.8h.6M253.6 32.3h.6M258.6 30h.6M256.7 29.8h.6M257.9 36.3h.6M253.6 32h.6M248.2 34.4h.6M255.1 27.1h.6M250 36.4h.6M247.4 36.5h.6M262.2 34.4h.6M247.8 36.7h.6M258 35.4h.6M255.4 34.5h.6M255.6 37.3h.6M251.5 35.4h.6M256.5 34.8h.6M250.9 31.7h.6M247.3 27.2h.6M258.2 32.2h.6M256.1 38.4h.6M252.1 28.4h.6M246.9 28.4h.6M256.3 30.4h.6M258.6 30.4h.6M255.6 34.5h.6M256.1 32h.6M260.1 36.8h.6M256.9 33.2h.6M248.3 38.5h.6M251.2 34.2h.6M263.1 34.7h.6M261.3 32.9h.6M261.3 32.7h.6M247.4 30.1h.6M246.3 26.2h.6M247.5 37.2h.6M259.4 36h.6M248.5 34.6h.6M246.4 36.2h.6M249.2 32h.6M248.7 35.5h.6M249.4 28.4h.6M251.2 30.2h.6M253.1 33.2h.6M250.2 35h.6M263.9 34h.6M251.8 34h.6M259.6 36.3h.6M256.4 28.6h.6M262.6 32.5h.6M258.9 34.8h.6M263.5 36.6h.6M252.5 31.9h.6M258.5 35.3h.6M256.1 36h.6M261.5 34.4h.6M263.4 35.7h.6M248.7 31.5h.6M255.9 37.8h.6M247.5 36.9h.6M258.7 30.2h.6M255.5 27.5h.6M249.6 33.1h.6M257.6 35.2h.6M248.5 38.7h.6M246.8 36.4h.6M247.8 37.2h.6M252.6 30.6h.6M246.2 26.5h.6M247.7 27.7h.6M260.2 37h.6M248.5 35.6h.6M250.8 29.1h.6M247.8 26.9h.6M246.4 25.8h.6M246.7 26.1h.6M253 32h.6M250.1 29.4h.6M248.5 31.7h.6M258.6 32.8h.6M262.6 37.3h.6M248.4 31.9h.6M256 29.1h.6M262.5 35.2h.6M247.3 32.1h.6M245.8 27.2h.6M257.9 33.9h.6M252.6 38.4h.6M255 35.6h.6M251.5 32.1h.6M251.3 33.5h.6M246.9 26.1h.6M251.1 34.6h.6M257.7 34h.6M251.8 33.9h.6M252.7 26.4h.6M257.1 37.6h.6M262.7 36.6h.6M247.7 30.2h.6M247.9 36.4h.6M258.9 35.1h.6M251.3 25.7h.6M251.1 33.2h.6M262 36h.6M257.8 35.8h.6M245.9 36.6h.6M252.3 29.9h.6M261.3 36.2h.6M263.5 31.3h.6M257.9 38h.6M259.7 37.5h.6M249.5 35.4h.6M250.8 29.3h.6M248.4 34.8h.6M262.2 38.7h.6M249.5 30.8h.6M247.3 29.5h.6M247.5 34.3h.6M261.5 35.4h.6M259 31.7h.6M245.6 35.4h.6M250 25.5h.6M246.4 25.8h.6M256.7 38.3h.6M255.4 28.5h.6M257.8 38h.6M261.1 34h.6M254.4 29.4h.6M256.5 31.9h.6M255.1 30.3h.6M245.8 27.8h.6M248.5 38.8h.6M245.6 31.4h.6M259.7 37.2h.6M253 38.6h.6M253.2 28.9h.6M254.9 27.7h.6M246.5 26.7h.6M255.1 31.7h.6M253.9 26.7h.6M256.4 37.8h.6M245.7 37.7h.6M248.7 36.9h.6M54.2 75.5h.6M55.3 71.1h.6M46.7 72.1h.6M44.6 76.5h.6M53.7 72.8h.6M56.6 70h.6M51.6 70.8h.6M47.9 76.4h.6M57.3 72.8h.6M49.8 76.7h.6M49.1 76.3h.6M46 69.3h.6M48.7 77.7h.6M54.6 74h.6M42.5 76.3h.6M48.3 67.4h.6M45.6 71.9h.6M43.7 68.7h.6M54.3 77.6h.6M56.7 76.9h.6M45.7 77.9h.6M48.4 74.9h.6M54.9 74.8h.6M57.2 77.2h.6M42 73h.6M48.7 77.6h.6M52.1 76.1h.6M49.9 71.7h.6M43.9 70.7h.6M42.5 73.5h.6M47.6 73.3h.6M53 72.8h.6M43 73.7h.6M45.8 72.1h.6M54.2 69.2h.6M45.8 66.5h.6M53.6 73.9h.6M45.8 72.8h.6M58.2 72.2h.6M47.4 71.1h.6M51.5 72.8h.6M41.6 74.7h.6M50.5 74.3h.6M48.9 68.9h.6M46.1 69.5h.6M56.3 70h.6M42.5 75.6h.6M54.3 77.1h.6M44.9 68.6h.6M43 69.5h.6M51.9 75.8h.6M45.7 66.9h.6M45.4 71.5h.6M55.4 73.2h.6M49.5 67.8h.6M49.6 70.4h.6M52.6 77.2h.6M52.4 69.6h.6M50 75.4h.6M42.1 75.6h.6M54.8 70.1h.6M53 67.9h.6M51.4 69.9h.6M42.6 68.7h.6M53.7 76.3h.6M48.2 74.5h.6M51.6 67.7h.6M51.5 75.7h.6M53.9 75.4h.6M50.3 74.8h.6M46.4 68.7h.6M57.1 73.8h.6M48.7 75.1h.6M42 69.8h.6M45.8 77.1h.6M43.4 75.9h.6M41.6 77.8h.6M46.1 72.5h.6M48.1 70h.6M53.8 70.6h.6M45.3 69h.6M49.9 73.3h.6M46.1 69h.6M54.4 77h.6M51.7 68.9h.6M51.5 70.3h.6M53 76h.6M55.7 72.8h.6M54.6 69.9h.6M50 70.4h.6M55.3 74.3h.6M53.8 77.7h.6M49.1 68h.6M45.1 66.6h.6M54 69.6h.6M43.2 70.3h.6M45.7 68.3h.6M46.7 75.9h.6M49.9 72h.6M49.6 69.6h.6M48.6 77.5h.6M52.6 67.5h.6M54.9 70.9h.6M46 69.5h.6M52.1 72.6h.6M56.7 71h.6M45 77h.6M47.1 73.5h.6M51.4 77.3h.6M51.4 69.9h.6M42 68.2h.6M46.3 74.4h.6M43.5 75.1h.6M43.3 71.4h.6M50.7 72.9h.6M48.8 71.9h.6M57.2 73.4h.6M46.4 74h.6M58.1 75.8h.6M49.5 70.8h.6M55.6 77.1h.6M56.1 73.8h.6M43.2 67.6h.6M84.1 75.1h.6M86.4 78h.6M83.9 74.5h.6M84.8 76.3h.6M92.2 71.5h.6M89.3 75.6h.6M91.3 72.5h.6M83.2 72.3h.6M85.7 70.6h.6M86 73.2h.6M90.9 71.2h.6M90.3 76.9h.6M88.7 76.3h.6M83.5 75.7h.6M82.5 77.1h.6M91.4 75.7h.6M87.9 71h.6M90.7 76.3h.6M87.6 74.3h.6M89.5 75.4h.6M90.8 71.6h.6M86.7 76.7h.6M84.7 72h.6M86.7 71.1h.6M85.9 78h.6M91.9 71.9h.6M90.9 71.5h.6M89.3 74.6h.6M87.2 76.3h.6M88.9 78h.6M84.3 76.3h.6M92 72.2h.6M88.9 74.3h.6M87.1 72.5h.6M88.7 70.9h.6M89.9 71.8h.6M89.6 76.3h.6M87.4 73.9h.6M83.2 75.7h.6M89.6 76h.6M90.7 77.8h.6M87.5 74.8h.6M86.5 74.9h.6M87.8 77.9h.6M90.7 73.5h.6M91.1 71.1h.6M86.7 76.9h.6M84.7 73.9h.6M87.2 70.4h.6M91 73.2h.6M84.7 71.4h.6M92.1 73.6h.6M89.6 70.4h.6M88.8 74.3h.6M84.5 71.3h.6M93.6 72.6h.6M95.4 69.7h.6M98.1 77h.6M97.9 76.6h.6M98.9 73.7h.6M101.3 72.1h.6M96 72.1h.6M99.9 75.6h.6M99.8 70.9h.6M99 73.1h.6M94.6 69.2h.6M95.3 75.1h.6M99.4 76.5h.6M100.8 75.7h.6M101.1 71.1h.6M99.8 70.7h.6M93.6 73h.6M94.9 69.4h.6M98.5 73.4h.6M101.6 76.4h.6M95.5 76.8h.6M100.3 77h.6M102 77.5h.6M99.7 74.2h.6M92.7 72.6h.6M101.3 74.4h.6M94.8 71.3h.6M99.9 71.5h.6M98.7 72.4h.6M102.1 70.8h.6M95.7 76.4h.6M98.1 71.2h.6M104.3 70.5h.6M94.4 74.5h.6M101.7 68.9h.6M96.9 72.8h.6M96.8 74.6h.6M103 77.8h.6M100.6 72.7h.6M99.9 72.5h.6M94 71h.6M92.6 75.1h.6M93.8 77.2h.6M93.1 75.7h.6M100.2 73.8h.6M102.4 76.3h.6M93.8 74.1h.6M99 76.1h.6M104 76h.6M95.8 71.2h.6M96.7 72.8h.6M104.1 75.9h.6M103.6 75.7h.6M98.9 72.6h.6M96.5 74.6h.6M96.1 72h.6M97.2 76.2h.6M97.1 75.2h.6M101.8 74.9h.6M94.4 77.1h.6M98.3 69.4h.6M100 68.4h.6M101.7 72.8h.6M101.7 71.7h.6M104.3 71.8h.6M101.9 74.7h.6M100.9 68.7h.6M92.5 75.8h.6M94.4 76h.6M101.3 68.9h.6M101.7 72.7h.6M94.3 75h.6M102.4 73.2h.6M98.1 75.4h.6M101.4 68.7h.6M99 69.7h.6M102.8 77.1h.6M94.4 75.8h.6M100.2 73.6h.6M95.1 74.7h.6M98.2 76.5h.6M99.3 70.9h.6M138.5 75.9h.6M130.1 72.4h.6M140.3 72.9h.6M134.2 75.1h.6M130.8 77.4h.6M141.2 74.2h.6M125.4 69.6h.6M130.6 77.5h.6M143.5 72.6h.6M146.4 75.4h.6M140.7 68.3h.6M142.3 71.3h.6M139.2 68.9h.6M134.1 70.2h.6M129 72h.6M126.7 73.8h.6M140.9 68.1h.6M144 70.2h.6M145.9 70.3h.6M134.5 73.1h.6M129.2 72.4h.6M136.7 69.6h.6M132.6 68.6h.6M126.8 68.3h.6M136.7 70.4h.6M142.1 74.8h.6M127 72h.6M136 76h.6M145.7 72.7h.6M125.8 72.5h.6M136 77.3h.6M132.5 72.6h.6M125.9 72.2h.6M146.2 74h.6M143.7 70.2h.6M126.2 71.8h.6M140.5 74h.6M134.6 72.3h.6M135.2 72.4h.6M132.7 68.8h.6M140.2 72.2h.6M129 74.5h.6M134.8 68.3h.6M146.4 75.7h.6M138.3 75.1h.6M133.1 69.5h.6M136.9 74.5h.6M140.1 67.5h.6M142.1 72.9h.6M133.5 68.5h.6M130 73.3h.6M131.2 70.8h.6M130 71.6h.6M140.3 69.2h.6M135 69.4h.6M130.2 69.6h.6M139.5 70.3h.6M144.7 76.5h.6M132.9 73.5h.6M143.7 75h.6M125.8 70.1h.6M140.7 76.6h.6M140.3 71.8h.6M136.4 76.3h.6M136 71h.6M137.7 68.7h.6M134.5 68.1h.6M144.8 75.4h.6M134.7 74.6h.6M129.8 68.9h.6M145.6 76.9h.6M141 69.5h.6M141.7 75.6h.6M127.3 71.8h.6M138 69.3h.6M143.2 68.6h.6M126.4 76.1h.6M128.6 75.7h.6M130.7 68.2h.6M138.6 76.9h.6M143.8 67.8h.6M145.4 77.5h.6M127.6 70h.6M128.5 75.4h.6M141.6 70.2h.6M139.8 75.7h.6M128.6 75.7h.6M127.2 75.2h.6M137.1 68.3h.6M143.9 77.1h.6M140 73.6h.6M137.5 76.9h.6M131 70.9h.6M144.7 77.9h.6M145.8 77.2h.6M146.3 69.3h.6M142.3 74.2h.6M138.7 75.4h.6M129.1 68.9h.6M130.9 75.1h.6M146.2 72.8h.6M132.3 69.9h.6M132.8 72.4h.6M134.7 75.2h.6M144.5 73.6h.6M144 76.8h.6M133.1 71.5h.6M129.7 72.8h.6M142 74.5h.6M138 76.1h.6M132.3 68.6h.6M137 77.6h.6M131.1 75.1h.6M135.9 72h.6M130.2 71.7h.6M137.9 73.3h.6M132.4 76h.6M128.7 69.5h.6M137.9 75.6h.6M137.5 70.3h.6M132.2 72.2h.6M144.2 67.7h.6M134.1 73.2h.6M129.4 75h.6M142.5 67.7h.6M130.6 77.9h.6M133.5 73.6h.6M139.4 76.3h.6M126.6 73.1h.6M129.4 76.9h.6M133 68.9h.6M127.5 74.2h.6M134.7 77.5h.6M138.5 70.5h.6M126.8 70.2h.6M142.3 68h.6M130.1 77.7h.6M131.5 73.9h.6M130.2 74.1h.6M133.5 76h.6M132.4 74.1h.6M142.7 70.3h.6M138.9 68.7h.6M141.3 71.1h.6M143.4 74.3h.6M142.1 73.8h.6M137.1 69.7h.6M144.4 77.8h.6M136 70.4h.6M138.9 72.9h.6M136 70.5h.6M173 65h.6M175.2 66.6h.6M174.1 62.8h.6M174.2 64.6h.6M173.7 63h.6M173.9 65.8h.6M172.1 64h.6M172.7 63h.6M174.9 65.3h.6M175.5 66.9h.6M174.1 64.1h.6M176.2 62.2h.6M173.1 63.6h.6M174 61.6h.6M175 61.1h.6M172.3 63.5h.6M176.2 66.4h.6M175.8 65.7h.6M176.6 63.7h.6M175.5 63.3h.6M181.3 68.6h.6M182.8 69.9h.6M182.5 69.5h.6M182.6 70.1h.6M180.7 68.5h.6M183.1 67.3h.6M183.3 70.1h.6M182.8 68.5h.6M185.2 67.5h.6M182.3 67.8h.6M184.5 67.6h.6M180.3 69.1h.6M183.2 67.6h.6M216.5 76h.6M219.6 72.5h.6M214.5 72.2h.6M224 71.9h.6M210.8 66.4h.6M217.8 73.6h.6M221.1 67.1h.6M211.4 68h.6M216.1 75.6h.6M213.4 72.7h.6M217.8 75.6h.6M210.4 72.3h.6M210.2 71.1h.6M216 70.3h.6M214.9 69.7h.6M211.1 67.7h.6M220.4 76.3h.6M220.9 68h.6M208.2 65.9h.6M211.3 75.5h.6M219.8 76.3h.6M223.8 69.8h.6M215.6 74.1h.6M222.8 75.1h.6M221.9 67.2h.6M212.8 74h.6M218.9 71.5h.6M213.5 72h.6M210.7 75.9h.6M224.1 69.8h.6M224.5 73.6h.6M223.3 76h.6M212.1 75.2h.6M221.9 69.4h.6M209.7 76h.6M218.7 66.3h.6M215.7 66.3h.6M211.8 72.7h.6M210.5 75.1h.6M210.5 68h.6M216.4 75.4h.6M220.7 71.1h.6M221 72.8h.6M217 64.7h.6M216.8 69.2h.6M213.1 66.8h.6M220.9 72.9h.6M212.1 67.4h.6M210.6 74h.6M208.2 69.4h.6M220.3 72.5h.6M216.5 70.8h.6M217.4 69.3h.6M219.3 67.5h.6M211.1 67.8h.6M217.4 74h.6M223.9 69.3h.6M217.5 66.8h.6M219.4 67.3h.6M222.2 72.4h.6M212.7 76.5h.6M219.9 70.4h.6M213.8 71.5h.6M217 69.8h.6M211.4 73h.6M223.2 74.8h.6M212.3 66.4h.6M213.6 67.8h.6M225.4 76.4h.6M219.6 75.3h.6M224.3 76.1h.6M215.5 64.5h.6M213.3 67.8h.6M224.6 75h.6M211 69.6h.6M217.9 67.2h.6M209.8 70.1h.6M209.2 73.4h.6M217.5 68.9h.6M210 76h.6M222.5 72.1h.6M214.1 76h.6M219.7 74.3h.6M213 70.5h.6M223.4 69.3h.6M216.1 69.1h.6M215.5 67.3h.6M213.1 64.9h.6M209.3 65.9h.6M222 73h.6M218.8 66.7h.6M208.8 66.3h.6M218.5 67.5h.6M220.1 72.6h.6M216.1 66.7h.6M214.4 74.7h.6M220.7 75.9h.6M213.3 75.4h.6M213 65.5h.6M212.4 67.5h.6M215.2 75.4h.6M216.1 69.7h.6M210.3 70h.6M214.7 65.6h.6M217.4 68.2h.6M217.5 68.1h.6M217.2 76h.6M223.5 75.2h.6M217 65.6h.6M214.7 74.7h.6M219.6 70.2h.6M224.3 73.7h.6M210.2 66.4h.6M221.7 74.7h.6M224.5 74.4h.6M221.3 75.8h.6M212.8 69.5h.6M213.4 64h.6M225 72.7h.6M220.3 69.5h.6M224.6 72.4h.6M218.2 74.2h.6M211 66.4h.6M211.2 73.5h.6M217 71.3h.6M208.9 72.9h.6M225.5 69.9h.6M210.2 74.4h.6M222.3 76.1h.6M218.6 69.8h.6M222.9 73.3h.6M213.3 68.4h.6M222.6 72.2h.6M213.4 75.8h.6M215.9 70.5h.6M218.6 66.5h.6M216.3 68.7h.6M213.8 68.5h.6M220.1 72.6h.6M212.7 74.4h.6M224.7 75.2h.6M221.6 74.2h.6M219.7 67h.6M265.2 77h.6M265.2 70.6h.6M251.2 69.8h.6M253.3 72.7h.6M257 70h.6M247.2 70.5h.6M258.5 71.8h.6M264.3 75.7h.6M257.5 71.7h.6M259.3 71.4h.6M260.4 75.8h.6M258 67.7h.6M252.9 77h.6M251.5 74.6h.6M260.6 75.5h.6M246.6 73.6h.6M249.8 75.8h.6M256.6 69.4h.6M260.2 67.4h.6M247.6 68.6h.6M256.1 76h.6M262.6 76.3h.6M251.4 70.3h.6M249.3 77.1h.6M262.1 67.2h.6M265.2 76.9h.6M262.3 74.5h.6M251.5 73.2h.6M263.9 75.8h.6M247 74.7h.6M262.2 74.7h.6M248.5 69.5h.6M252 67.8h.6M258.7 75.6h.6M260.9 67.7h.6M266 74.7h.6M248.9 76.8h.6M262.4 70h.6M266.2 76.5h.6M251.3 72.2h.6M257.4 72.7h.6M254.4 75.9h.6M249.9 76.5h.6M252.1 74.9h.6M258.4 72.8h.6M249.5 75.9h.6M253.3 70.1h.6M251.4 68.4h.6M253.2 70.8h.6M249.7 74h.6M265.4 73.6h.6M258 69h.6M259.9 71.3h.6M255.8 73.8h.6M262.3 70.5h.6M265.5 73.3h.6M249.1 70h.6M250 74.7h.6M262.8 71.9h.6M255.9 69h.6M260.3 76.9h.6M249.3 76.1h.6M250.4 75h.6M265.4 68.8h.6M253 74.6h.6M257.6 68.4h.6M248 71.5h.6M259 71.2h.6M254.9 67.7h.6M266.9 68.8h.6M258.9 68.9h.6M255.5 72.9h.6M257.4 72.3h.6M253.8 70h.6M253.4 75.1h.6M255.8 68.8h.6M260.9 71.7h.6M259.8 75.8h.6M250.4 72.8h.6M253.1 72.1h.6M254.4 69.6h.6M265.1 75.9h.6M251 69.3h.6M254.1 75.3h.6M265.7 71.4h.6M260.3 73.9h.6M264.6 67.8h.6M255.9 76.4h.6M260.2 71.5h.6M259.2 71.6h.6M252.1 73.2h.6M256.3 74.9h.6M264.5 76.6h.6M253.5 72.5h.6M254.3 72.5h.6M259.1 70.9h.6M258.6 70h.6M263.7 68.2h.6M255.8 73.9h.6M266.2 68h.6M265.5 67.4h.6M258.1 68.3h.6M265.7 76.7h.6M264 67.9h.6M255.9 75.7h.6M261.7 76h.6M249.3 69.5h.6M247.3 70h.6M248.5 68.2h.6M262.7 77h.6M259.4 70.6h.6M262.5 71h.6M247.6 72.7h.6M255.9 69.7h.6M251.7 72.3h.6M249.3 73.9h.6M261.6 66.9h.6M253.2 72.9h.6M265.4 74.7h.6M254.6 76.3h.6M260 67.5h.6M263.5 70.6h.6M255.3 70.7h.6M264.4 68.9h.6M250.3 71.9h.6M259 75.8h.6M249.8 76.9h.6M246.4 71.1h.6M257.9 74.2h.6M248.2 75.1h.6M250.3 69.8h.6M254.8 70.5h.6M251.8 76.6h.6M256.7 71.4h.6M251.5 69.7h.6M47.5 119.1h.6M57.3 122.6h.6M48.2 112.6h.6M52.4 121.1h.6M52.6 118.7h.6M42.7 116.7h.6M42.8 120.4h.6M57.6 115.5h.6M59 117.3h.6M46.7 110.6h.6M44.1 125h.6M55.8 113.9h.6M50.3 110.7h.6M42.8 117h.6M45.3 112.9h.6M48.3 112.9h.6M59.5 116.5h.6M49.9 123.9h.6M54.5 123.7h.6M49.3 118.9h.6M45.2 109.7h.6M43.3 115.2h.6M44.6 110.7h.6M46 117.4h.6M45.8 126.7h.6M44.4 121.9h.6M55.1 121.6h.6M44.4 110h.6M46.7 122.8h.6M57 116.1h.6M54.5 113h.6M50.3 119.5h.6M44.6 113.9h.6M49.7 109.9h.6M54.5 111h.6M53.1 119.2h.6M49.9 124.1h.6M59.4 117.5h.6M43.8 113.3h.6M42.2 120.7h.6M51.8 125.2h.6M41.4 123.1h.6M46.7 116.2h.6M51.2 119.9h.6M43.4 113.3h.6M46.8 117.5h.6M49.7 115.8h.6M55.4 120.6h.6M53.6 118.7h.6M57.3 122.7h.6M56.1 119.3h.6M45.2 119.3h.6M44.6 124.4h.6M50.3 111.5h.6M50.3 117.3h.6M45.8 117.5h.6M55.9 120.6h.6M55.7 112.1h.6M50.1 116.2h.6M44.3 120.7h.6M50.4 116.8h.6M45.8 125.3h.6M53.8 111.1h.6M50 124.7h.6M57.8 118.7h.6M49.1 115h.6M47.4 115.8h.6M41.6 125h.6M58 119.9h.6M44.8 116h.6M45 110.5h.6M42.7 110.6h.6M48 119.1h.6M51.4 124.4h.6M45.8 123.6h.6M49.4 122.2h.6M51.3 118h.6M54.2 115.3h.6M42.2 124.4h.6M55.9 115.2h.6M44.3 116h.6M42.7 117.1h.6M45.3 114.5h.6M45.5 122.1h.6M59.8 118.4h.6M51.8 111.1h.6M43.9 114.2h.6M42.7 113.8h.6M55.3 115.5h.6M43.5 117.5h.6M53 123.4h.6M42.2 114.6h.6M48.4 120.6h.6M48.5 114.7h.6M53.2 113.7h.6M47.9 117.3h.6M42.6 112.4h.6M45.9 115.2h.6M54.1 122.4h.6M55.6 120.6h.6M52.8 111.2h.6M43.7 113h.6M41.8 118.1h.6M43.5 124.4h.6M52.8 116.7h.6M57 116.6h.6M50.2 111.9h.6M56 122.8h.6M42.9 121.2h.6M52.1 115h.6M48.3 126h.6M51.2 112.2h.6M50.1 118.7h.6M48.2 122.4h.6M57.9 112.6h.6M50.1 118.5h.6M44.5 125.2h.6M42.9 120.3h.6M45 125.9h.6M57.2 114.2h.6M52.8 122.4h.6M52.1 111.4h.6M50.8 121.6h.6M51 125.5h.6M42.8 116.5h.6M57.9 120.9h.6M42.9 111.1h.6M50.8 121.7h.6M54.7 111.1h.6M42.3 122.3h.6M46.6 113h.6M51.2 110.6h.6M43.3 110.7h.6M46.1 122.3h.6M51.4 115.3h.6M50.4 125.6h.6M55.6 113.7h.6M57.6 112.4h.6M54 122.5h.6M49.4 123.5h.6M50.4 115h.6M47.2 120.1h.6M54 116.6h.6M59.2 117.9h.6M56.8 120h.6M55.8 120.5h.6M49.2 111.8h.6M41.7 114.3h.6M50.6 121.4h.6M53.4 113.1h.6M49.5 119.6h.6M45.1 110.4h.6M42.5 126.3h.6M50.7 117.5h.6M48.7 121.5h.6M43.3 112.8h.6M51.7 125.6h.6M47.1 125.7h.6M46 119.7h.6M42.9 123.3h.6M50.1 123.6h.6M44.1 123.3h.6M52.8 112.6h.6M41.3 120.4h.6M59.3 116.2h.6M41.5 115.2h.6M56.7 119.5h.6M50.4 115.7h.6M50.5 114.7h.6M54.4 119.9h.6M47.2 114.1h.6M45.8 126.8h.6M48.7 119.5h.6M48.1 112.5h.6M41.9 118.9h.6M52.6 119.9h.6M53.9 117.2h.6M42.4 113.4h.6M48.9 124.5h.6M50 111h.6M50.5 112h.6M56.3 119.3h.6M47 124.2h.6M44.8 121.3h.6M50.6 122.7h.6M53.3 123.1h.6M51.9 122.1h.6M49.4 117.8h.6M47.3 119.4h.6M53.6 122.4h.6M54.9 112h.6M45.2 118.9h.6M54.2 124.3h.6M55 118.9h.6M42.2 112.5h.6M41.6 112.8h.6M64.1 121h.6M67.8 127.6h.6M59.9 122.4h.6M69.5 127.5h.6M66 122.4h.6M59.1 125.4h.6M68.1 121.6h.6M68.3 126.8h.6M62.1 122h.6M62.6 123.4h.6M65.5 120.9h.6M64.9 125.2h.6M67.3 128.4h.6M62.5 122h.6M60 124.4h.6M67.3 122.5h.6M64.4 124.3h.6M64 126h.6M68 126.9h.6M64.6 128.2h.6M68.6 127.1h.6M64.4 123.7h.6M67.1 127.6h.6M70.6 123.3h.6M69.1 121.8h.6M60.8 124.6h.6M62.7 122.6h.6M70.3 126.9h.6M69.7 125h.6M67.2 122.2h.6M63.6 127.1h.6M67.1 125.3h.6M62.4 121h.6M64.9 121.6h.6M61.4 121.7h.6M67.7 125.1h.6M63.9 123h.6M66.7 123.1h.6M66.4 126.8h.6M67.3 123h.6M65.6 121.5h.6M69.2 121.5h.6M69.4 123.6h.6M62 124h.6M67.9 127.7h.6M63 124.3h.6M66.4 124.4h.6M63.3 122.1h.6M67.6 125.6h.6M68.8 127.3h.6M70.2 123.7h.6M62.4 127.1h.6M85 116.1h.6M90.5 117.8h.6M88.3 118.9h.6M82.9 120h.6M89.4 116.8h.6M84.4 113.5h.6M90.3 113.8h.6M90.1 118.1h.6M87.4 115.9h.6M84.6 121.4h.6M87.5 116.4h.6M87 116.4h.6M89.2 112.3h.6M88.8 112.8h.6M82.7 120.6h.6M88.3 117.7h.6M89.3 120.9h.6M86.7 121.7h.6M84.4 121.4h.6M89.6 113.5h.6M86.7 121h.6M85.2 116.1h.6M88.5 122.3h.6M84.7 112.2h.6M90 120.6h.6M85.3 114.7h.6M85.2 112.1h.6M88.9 122.6h.6M84.6 115.8h.6M90.9 117.6h.6M88.8 112.5h.6M87 122.3h.6M83.1 114.7h.6M88.4 120.1h.6M88.2 117.5h.6M86.9 122.8h.6M82.2 114.8h.6M88.7 115.2h.6M84.2 115.4h.6M86.7 116.7h.6M85.9 122.8h.6M90 113.2h.6M81.7 117.6h.6M89.1 121.4h.6M83.4 117.6h.6M89.5 117.9h.6M86.6 113.1h.6M86.6 122.6h.6M82.3 115.9h.6M85.5 112.4h.6M84.3 113.7h.6M87.3 116.9h.6M83 121.4h.6M85 114.4h.6M91.3 117.9h.6M90.9 119.4h.6M88.6 121.5h.6M91.1 119.8h.6M85.5 122.4h.6M89 122.2h.6M86.5 121.2h.6M89.1 119.1h.6M89.4 113.8h.6M82.6 115.2h.6M83.2 117.8h.6M83.2 120.7h.6M81.7 116.2h.6M85.3 112h.6M84.8 115.3h.6M99.5 110.6h.6M100.9 111.5h.6M94.8 110.6h.6M96.2 122.9h.6M102.9 115.7h.6M97.7 107.1h.6M94.5 122.2h.6M97 108.4h.6M100.5 117.6h.6M104.5 122.9h.6M97.5 121.8h.6M94.5 120.1h.6M98.2 116.1h.6M101.6 118.1h.6M98.3 115.9h.6M103.3 111.5h.6M100 121.2h.6M95.9 114.6h.6M105.2 118.9h.6M100.7 117.8h.6M99.6 123.6h.6M96.1 115.8h.6M98.6 128.3h.6M98.2 123h.6M102 122.7h.6M93.7 118.6h.6M94.1 124.3h.6M97.8 113.9h.6M102.1 115.9h.6M95.8 121.8h.6M105 114.6h.6M94.5 121.7h.6M94 111.2h.6M103 123.9h.6M96.2 111.3h.6M94.9 125.1h.6M104.1 114.7h.6M91.9 115.7h.6M101.6 113.4h.6M98.7 119.3h.6M99.1 123.1h.6M96.8 113.8h.6M98.4 114.3h.6M99.2 113.9h.6M98.2 114.4h.6M95.2 120.5h.6M102.5 116.9h.6M101.3 126.8h.6M103.5 119.7h.6M98.7 113.5h.6M103.6 122.9h.6M101.9 115.8h.6M96.9 123.1h.6M98.9 115.2h.6M98.9 121.6h.6M91.8 116h.6M104.6 114.9h.6M99.9 118.5h.6M92.7 116.4h.6M96 109h.6M104.8 119.9h.6M95.9 108.7h.6M99.8 111h.6M98.2 120.1h.6M95.2 116.8h.6M93.5 113.7h.6M93.2 114.2h.6M98.6 121.1h.6M98.4 111.8h.6M101.7 117.7h.6M104.8 117.8h.6M98.2 107.6h.6M94.9 117.8h.6M99.5 108h.6M91.7 116.5h.6M101.5 112.1h.6M97.5 116.5h.6M100 124.2h.6M97.4 116.7h.6M95.5 113.3h.6M104.4 117.6h.6M95.2 123.6h.6M98.2 126.8h.6M97.4 114.8h.6M92.6 114.2h.6M101.8 117.7h.6M99.5 125.9h.6M94.7 112h.6M93.8 112.7h.6M91.6 115.5h.6M102.6 113.5h.6M99.4 124.9h.6M94.6 116.1h.6M103.2 125.2h.6M93.9 118.9h.6M102.9 120.6h.6M104.8 118.3h.6M102.8 110.9h.6M102.1 113.6h.6M97.5 107.8h.6M98 109.3h.6M97.5 111.4h.6M105.1 119.3h.6M99.3 107.3h.6M99.6 127.5h.6M100.8 119.1h.6M102.8 125.3h.6M97.8 114h.6M93.9 114.7h.6M103.9 117.6h.6M91.8 116.4h.6M104 120h.6M100 127.3h.6M94 112h.6M100.8 124.3h.6M99.3 121.2h.6M94.6 122.4h.6M102.6 110.7h.6M95.8 125.9h.6M98.8 115.2h.6M103.4 116.6h.6M100.6 108.3h.6M101.6 109.3h.6M101.6 121.8h.6M97.6 109.6h.6M103.9 116h.6M92.8 112.3h.6M96.4 125.4h.6M99.2 112.7h.6M92.3 117.8h.6M101.9 120.2h.6M100.4 108.7h.6M99.2 127.7h.6M97.7 120.2h.6M97.9 112.5h.6M94.4 113.5h.6M95.9 109.7h.6M97.7 111.1h.6M93.9 115.4h.6M93.8 119.8h.6M96.2 113.5h.6M94.4 113.5h.6M97.5 127h.6M102.6 110.2h.6M95.7 111.8h.6M98.2 123.6h.6M103.1 115.8h.6M96.9 109.5h.6M100.2 119.2h.6M99.2 116.6h.6M103.3 114.7h.6M103.7 118h.6M101.6 122.9h.6M93.2 114.3h.6M97.5 114.5h.6M96.5 116.2h.6M99.7 116.2h.6M98.5 121.4h.6M99.6 127.5h.6M99.2 116.2h.6M92.5 119h.6M93.5 119.5h.6M98 126.3h.6M128 119.4h.6M133.2 126.2h.6M127.2 124.6h.6M132.7 126.9h.6M133.8 117.3h.6M131.5 126.7h.6M133.5 123.4h.6M135.2 123.3h.6M136.1 117.8h.6M136.1 124.2h.6M132.9 123.1h.6M127 114.5h.6M134.2 120.4h.6M139.5 121.6h.6M127.2 119.6h.6M126.1 127.2h.6M131.7 118.2h.6M127.7 120.3h.6M139.7 117.5h.6M134.6 114.2h.6M142.9 123.7h.6M127.7 114h.6M131.6 121.6h.6M135.8 125.6h.6M130.2 124.9h.6M134.6 119.5h.6M133.2 123.7h.6M138.4 119.2h.6M140.6 125.8h.6M131.7 123.9h.6M126.6 126.4h.6M125.8 126.8h.6M140.2 124.8h.6M140.5 119.9h.6M134.7 117.2h.6M135.3 115.4h.6M133 121.1h.6M141.9 121.9h.6M131.6 116.2h.6M140.3 125.7h.6M140.3 122.4h.6M125.5 126.2h.6M138.7 123h.6M132.2 114.4h.6M129.7 115.1h.6M141.7 124.2h.6M136.6 119.5h.6M134.4 121.7h.6M139.2 120.1h.6M140.5 119.8h.6M137 121.9h.6M128.1 113.9h.6M136.5 120.4h.6M131.6 124.2h.6M125.5 119.7h.6M134.8 117.5h.6M139.4 118h.6M130.3 116.3h.6M131.5 121.6h.6M130.7 125h.6M131.4 118.5h.6M128.6 124.4h.6M137 114.9h.6M138.1 117.4h.6M136.9 123.5h.6M133.7 126.2h.6M137.7 117.9h.6M127.8 118.3h.6M129.1 120h.6M132.7 125.2h.6M132.8 125.5h.6M125.3 115.4h.6M141.9 116.3h.6M133.2 123.9h.6M139.3 117h.6M124.8 122h.6M129.8 117.5h.6M137 125h.6M134.7 119.4h.6M131.5 125.7h.6M137.6 119.4h.6M141.2 123h.6M125.7 115.9h.6M134.6 120.1h.6M136.3 124.5h.6M142.9 124.6h.6M141.2 118.3h.6M134.8 120.3h.6M135.6 124.5h.6M137.8 125.4h.6M125.8 117.2h.6M129.8 120.5h.6M131.7 120.7h.6M125.3 123.2h.6M142.9 126.6h.6M133.7 116.6h.6M140.6 116h.6M136.5 126.6h.6M126.8 119h.6M137.5 116.2h.6M130.5 123.4h.6M139.6 119.8h.6M124.8 122.4h.6M133.4 114.3h.6M132 114.9h.6M126.6 124.8h.6M126.3 115.2h.6M133.6 121.3h.6M136.7 125.3h.6M142.5 118.7h.6M131.4 116.8h.6M124.8 119.9h.6M140.4 126.9h.6M128.5 125h.6M126.2 127.2h.6M131.2 119.1h.6M131.1 121.1h.6M131.6 123.2h.6M140.9 123.3h.6M140.7 125.1h.6M132.6 115.5h.6M138.3 126.4h.6M139.2 119.8h.6M130.4 118.1h.6M138.3 115.9h.6M124.5 122.8h.6M133.7 116.4h.6M129.7 127.1h.6M143.1 124.3h.6M132.8 123.5h.6M126.1 118.9h.6M134.5 116.7h.6M131.5 119.7h.6M133.6 117.7h.6M136.6 120.1h.6M127.7 119.2h.6M142.1 116.9h.6M131.3 122.8h.6M132 114.2h.6M138.7 122.6h.6M135.3 121.8h.6M133 118.1h.6M138.1 124.3h.6M139.7 123.7h.6M126.4 125.6h.6M127.3 124.5h.6M136.1 117.4h.6M126.5 126h.6M126.8 125.9h.6M133 123.1h.6M130.4 115.2h.6M143.5 127.2h.6M141.6 121.4h.6M128.7 126.3h.6M143.4 119.5h.6M129.6 114.8h.6M137.2 114.8h.6M131.7 126.9h.6M133.2 126.1h.6M128.8 124h.6M142.7 117.2h.6M131.2 126.7h.6M133.2 124.1h.6M142.9 122.6h.6M133.7 122.6h.6M125.8 125.8h.6M134.8 119.2h.6M132.9 125.4h.6M138.7 125.6h.6M138.6 118.1h.6M178.5 116.7h.6M172 113h.6M176.2 119.9h.6M174.8 124.1h.6M177.9 120.2h.6M173.5 115.9h.6M172.9 119.3h.6M177.3 122h.6M169 115.7h.6M169.7 114.8h.6M173.3 120.2h.6M177.2 113.6h.6M176.7 122.1h.6M173.2 123.2h.6M169.1 121.9h.6M177.3 116.1h.6M169.6 119.6h.6M175.6 114h.6M169.8 121.9h.6M178.5 117.3h.6M178.1 122.7h.6M171.9 121.1h.6M178 119.5h.6M174 115.1h.6M175.1 113.5h.6M178 120.1h.6M173 112.3h.6M170.3 117.9h.6M170.6 116.1h.6M174.8 118.9h.6M178.7 117.8h.6M173.7 121.5h.6M177.5 120.7h.6M176.2 123.1h.6M170.7 119.7h.6M176 120.5h.6M168.6 118.6h.6M171.4 119.2h.6M171.6 117.3h.6M177.7 119.5h.6M173.8 122.2h.6M174.8 116.8h.6M176.4 113.7h.6M172.7 123.2h.6M169.4 118.2h.6M171.1 115.5h.6M176.8 113.8h.6M178.4 120.5h.6M170 113.6h.6M169.9 116.6h.6M175.7 122.8h.6M169.1 115.6h.6M173.8 115.2h.6M172.2 123.9h.6M170.3 117.4h.6M170.1 120.5h.6M174.4 119.6h.6M176.9 118.4h.6M174.3 113.3h.6M172.3 114.4h.6M174.8 122.6h.6M173.1 112.6h.6M177.6 119.4h.6M177.1 113.9h.6M172.3 112.1h.6M173.5 113.3h.6M169.6 119.4h.6M176.6 117h.6M170.1 121.5h.6M170.5 120.2h.6M177.4 119.6h.6M177.3 122.9h.6M174.2 120.4h.6M175.7 120.1h.6M171.2 119.8h.6M178.6 116.1h.6M170.8 116h.6M178.2 121.9h.6M178.5 120.9h.6M175.5 118.1h.6M177.6 119.2h.6M174.2 112.5h.6M172.8 113.2h.6M182.4 119.5h.6M183.9 123.7h.6M182.5 122.5h.6M184.2 123.1h.6M181.8 122h.6M183.9 116.3h.6M183 126.4h.6M187.5 120.5h.6M184 121.6h.6M183.3 117.6h.6M181 120.1h.6M186 119.7h.6M181.7 119.2h.6M186 123.1h.6M185.1 117.9h.6M186.5 118.1h.6M181.3 125.2h.6M181.4 119.9h.6M184.9 119.8h.6M184.5 118.9h.6M187.5 121.6h.6M181.5 120.4h.6M187.1 123.1h.6M184.2 127h.6M184.3 126.3h.6M180.8 124.7h.6M186.1 122.6h.6M182.2 118.1h.6M184.7 117.2h.6M186.3 117.4h.6M181.6 117.7h.6M185.2 117.1h.6M188.2 119.9h.6M180.4 120.6h.6M186.5 117h.6M184.1 126.9h.6M182.3 125.7h.6M181.3 118.9h.6M184.7 118.2h.6M185.9 116.7h.6M183.1 123.5h.6M184 121h.6M183.3 121h.6M181.6 122.8h.6M182.8 121.9h.6M181 118.3h.6M182.4 126h.6M184.1 124.1h.6M183.9 126.7h.6M212.4 109.7h.6M212.2 110.2h.6M209.9 111.2h.6M214.1 114.9h.6M216.2 115h.6M214.1 113.3h.6M209.4 113.4h.6M211.9 114.3h.6M209.1 112h.6M215 114h.6M217 110.1h.6M212.1 108.8h.6M217.7 113.1h.6M211 110.6h.6M215.5 108.1h.6M214.7 111.7h.6M211.7 110.3h.6M212.6 115.6h.6M210.9 110.6h.6M212.7 112.8h.6M215.4 113.1h.6M213.8 109.1h.6M210.8 113.3h.6M214.4 110.3h.6M209.7 110.7h.6M214.8 108.5h.6M212.3 113.9h.6M210.5 110.7h.6M217.6 110.7h.6M213.5 114.7h.6M209.3 111.9h.6M216.2 109.3h.6M217.3 112.7h.6M213.5 112.2h.6M216.7 113.5h.6M215.8 114.3h.6M216.9 113.5h.6M214.3 111.4h.6M217.6 112.5h.6M213.1 109.7h.6M216.3 111h.6M215.3 113.6h.6M211.1 108.9h.6M211.1 114.9h.6M222.1 125.2h.6M225.3 120.3h.6M223.2 122.9h.6M225.8 117h.6M227.8 120.3h.6M227.8 119.1h.6M223.5 117h.6M229.1 123.3h.6M224.3 126.7h.6M224.1 119.6h.6M227.4 117.5h.6M226.9 121.8h.6M224.6 123.2h.6M227.9 118.9h.6M221.2 121.3h.6M220.4 122h.6M226.2 120.3h.6M227.5 122.5h.6M225.1 116.2h.6M228.3 124h.6M228.3 120.6h.6M223.7 125.3h.6M221.5 125.7h.6M220.6 119h.6M224.7 119.1h.6M223.9 116.1h.6M227.7 125.5h.6M224.3 115.9h.6M224.5 117.8h.6M229.2 120.3h.6M223.4 120.7h.6M223.1 126.5h.6M222.8 122.7h.6M228.3 118.9h.6M223.4 120.4h.6M228.4 123.6h.6M223.4 123.4h.6M225.6 117.9h.6M224.7 120.9h.6M223 120.2h.6M227 123.7h.6M224.2 117.4h.6M220.8 122.2h.6M227.6 125.9h.6M226.9 124.8h.6M225.2 121.5h.6M226.2 125.9h.6M225.7 119.2h.6M227.1 125.8h.6M226.4 125.6h.6M219.7 122.6h.6M228.8 118.9h.6M219.9 120.2h.6M226.1 116.4h.6M228.7 123.3h.6M225.4 122.9h.6M220 121.9h.6M228.2 123h.6M222 125.7h.6M223 122.3h.6M248.3 125.4h.6M256.1 124.1h.6M251.3 127.1h.6M250.3 118.9h.6M254.2 116.2h.6M264.3 112.4h.6M248.7 111.5h.6M251.5 123.1h.6M247 113.2h.6M258 120.9h.6M247.2 116.4h.6M262 126.4h.6M255.2 124.9h.6M258.7 118.5h.6M248.3 117.6h.6M252.1 117.1h.6M259.8 120.7h.6M248.4 123.1h.6M249.5 118.4h.6M254.6 127.7h.6M255.1 126.1h.6M258.5 127.3h.6M260.9 127.3h.6M264.2 118.5h.6M256.9 119.7h.6M247.6 116.2h.6M247.1 122.3h.6M262.7 126.1h.6M252.7 125.7h.6M265.4 112.1h.6M247 127.2h.6M256.3 121.9h.6M252.3 127.4h.6M259.3 118.2h.6M255 116.4h.6M256.4 118.9h.6M249.2 120.3h.6M252 126.9h.6M256.4 120.7h.6M256 122.6h.6M264.4 113.3h.6M252.7 125.5h.6M263.2 118h.6M254.4 125.6h.6M264.3 113.3h.6M255.7 127.7h.6M259.7 118.2h.6M265.8 126.7h.6M254.8 124.5h.6M264.6 124.9h.6M251.6 110.9h.6M260.6 123.4h.6M258.6 113.1h.6M258.3 116.5h.6M247 126.5h.6M256 123.6h.6M259.9 117h.6M260.7 112.3h.6M257.8 121.9h.6M248.5 113.2h.6M261.4 127.4h.6M255.5 127.1h.6M262.2 124.1h.6M257.3 111.9h.6M254.4 113.8h.6M248.6 112.9h.6M258.5 115.2h.6M253.3 113.9h.6M265.6 114h.6M248.3 117.8h.6M257.9 111.9h.6M261 127.8h.6M265.6 117.5h.6M252.6 127.9h.6M257.3 117.7h.6M250.2 118.9h.6M261.1 114h.6M255.4 124.6h.6M264.3 127h.6M258 122.6h.6M248 123.4h.6M255.6 113.6h.6M252.8 123.3h.6M257.7 118.3h.6M264.9 127.9h.6M246.8 116.1h.6M260.3 122h.6M246.7 113.5h.6M252 126.5h.6M256.4 125.9h.6M257.9 115.6h.6M261.6 120h.6M259.5 113.2h.6M261.7 121h.6M256.9 114.7h.6M265.2 125.8h.6M251.9 113.5h.6M259.5 116.5h.6M258.5 111.1h.6M247.7 113.2h.6M262.1 127.1h.6M262.5 127.9h.6M251.2 112.1h.6M261.2 127.2h.6M247 127.4h.6M256.8 124.7h.6M257.4 122.7h.6M266.1 125.9h.6M263.3 116.6h.6M251.7 113.5h.6M250.1 124.1h.6M265.8 116.4h.6M256.3 120.1h.6M255 122.5h.6M254.6 126.3h.6M254.3 126.9h.6M255.4 120.5h.6M265 125.6h.6M257.9 123.1h.6M262.1 119.3h.6M248.5 123h.6M260.9 112h.6M251.4 125.1h.6M261.7 110.8h.6M251.7 114h.6M248.9 116.9h.6M255.4 112.7h.6M248.1 127.5h.6M264.5 111.3h.6M266.2 121h.6M248.6 113.1h.6M265.8 116.9h.6M254.9 116.9h.6M258.8 119.2h.6M248.3 122.2h.6M256.7 124.7h.6M248.6 118.7h.6M247.5 119.1h.6M248.1 126.6h.6M259.4 126.7h.6M251.6 123.8h.6M258.3 117.4h.6M252.2 118.1h.6M264.8 122.9h.6M263.5 125.5h.6M254.8 115.5h.6M260.1 115.3h.6M252.3 122.6h.6M259.9 122.6h.6M251.2 124.6h.6M248.3 113.2h.6M260 117.7h.6M258 121h.6M265.1 120.1h.6M252.6 123.8h.6M247.1 116.6h.6M254.4 125.9h.6M251.3 115h.6M247.9 117.7h.6M266 116h.6M257.4 125.1h.6M261.5 124h.6M252.3 124.3h.6M248.4 115h.6M253.2 121.9h.6M257.4 119h.6M262.5 125h.6M260.3 124.8h.6M255.1 111.2h.6M255.5 112.4h.6M257.1 125.3h.6M264.6 113.5h.6M263.5 126.7h.6M249.2 117.8h.6M258.6 113.6h.6M255.8 119.8h.6M247.6 112.4h.6M248.7 123.3h.6M256.4 111.5h.6M254 114.2h.6M260.6 125.8h.6M251.1 124.2h.6M248.4 111.5h.6M262.7 121.9h.6M259.2 122.9h.6M261.8 120.1h.6M260.6 119.2h.6M249.3 112.1h.6M255.4 119h.6M262.5 111.8h.6M257.3 114.1h.6M265.2 125.5h.6M259.3 114.1h.6M257.5 112h.6M263.6 114.3h.6M251.6 127.2h.6M257.3 126.8h.6M265.3 126.3h.6M248.2 119.1h.6M253.4 112.1h.6M258.6 125.8h.6M257.6 118.9h.6M259.7 112.5h.6M254.9 121.6h.6M264.7 125.6h.6M246.6 125.6h.6M254.6 115.3h.6M255.1 122.6h.6M259 119.8h.6M246.9 124.6h.6M255.8 119.4h.6M247.6 126.5h.6M262.4 114h.6M264.4 111.4h.6M256.8 113.2h.6M248.5 119.6h.6M252.5 119.8h.6M259.8 118.3h.6M264.3 115.1h.6M252.8 120.2h.6M247 124.3h.6M256.2 122.6h.6M252.1 127.4h.6M251.2 115.6h.6M259.6 118.6h.6M254.4 124.4h.6M252.3 121h.6M249.6 124.7h.6M254.1 116.7h.6M258.6 111.6h.6M266.1 127.8h.6M251.8 119.8h.6M258.3 113.4h.6M257.8 126.5h.6M266 118.5h.6M250.7 113.6h.6M251.3 113h.6M251.7 120.8h.6M257.4 115.4h.6M255.7 116h.6M256 114.1h.6M252.3 122.2h.6M47.5 161h.6M48.7 165.7h.6M47.7 162.3h.6M43.7 160.1h.6M45.2 159.6h.6M44.1 165h.6M45.1 165.1h.6M48.3 166.3h.6M47 163.9h.6M43.5 161.3h.6M46.3 164.5h.6M44.4 164.5h.6M47.4 160.1h.6M46.3 166.4h.6M46.8 158.6h.6M48.7 162.3h.6M44.8 162.9h.6M47.3 163.2h.6M45.1 166.3h.6M48.7 164.5h.6M45.9 160.9h.6M44.6 163.8h.6M45.1 163.7h.6M49.7 159.9h.6M49.1 158.7h.6M44.1 165.9h.6M46.5 160.8h.6M45.3 164.4h.6M43.5 160.3h.6M48.8 165.8h.6M47.5 160.6h.6M47.4 160.6h.6M51.7 162.6h.6M46.4 166.2h.6M44.3 165.4h.6M45.4 162h.6M48.3 162.2h.6M49.1 162.3h.6M51.2 161.8h.6M48.5 164.3h.6M51.2 163.6h.6M43.4 163.6h.6M48.7 159.9h.6M45.2 165.6h.6M47.2 163.9h.6M48.8 164.2h.6M51 162.5h.6M50.3 159.5h.6M46.7 165.4h.6M45.3 161h.6M45.4 159.6h.6M44.8 164.9h.6M57 158.2h.6M58.3 159.7h.6M58.3 159.1h.6M57.6 167.1h.6M57 163.7h.6M60.8 165h.6M57.9 165.8h.6M60.1 159.5h.6M60.6 159.3h.6M61.8 164h.6M54.6 160.9h.6M61.4 161.5h.6M57.2 164.2h.6M59.9 162.1h.6M59.6 160.7h.6M55.7 165.1h.6M53.8 162.7h.6M59 158.2h.6M54.6 159.3h.6M54.8 163.3h.6M57.1 161.3h.6M60.8 166h.6M55.7 159.1h.6M55.1 164.2h.6M55.3 161h.6M59.3 166.1h.6M55.8 159h.6M62.3 161.5h.6M56.5 162.7h.6M58.9 165.8h.6M61.7 162.2h.6M59.3 159.4h.6M58.8 159.7h.6M55.5 159h.6M57.2 160.9h.6M59.3 165.1h.6M53.8 163h.6M60.6 162.2h.6M56.5 159.1h.6M60.3 162.7h.6M60.8 163.4h.6M59.6 160.9h.6M53.6 163.9h.6M56.4 161.9h.6M57.8 163.7h.6M58.7 162.6h.6M54.5 161.9h.6M56.1 166h.6M61.5 164.6h.6M58.8 164.8h.6M89.3 168.4h.6M83 157.4h.6M98.7 167.4h.6M98.5 163.2h.6M83.5 156.2h.6M93.2 168.5h.6M86.8 167.7h.6M96.7 167.1h.6M87.5 168.1h.6M95.8 167h.6M91.4 163.9h.6M92.3 158h.6M84.8 163.9h.6M84.3 168h.6M85.1 165.4h.6M87.2 156.1h.6M98.8 163h.6M96.3 154.8h.6M83 161.6h.6M99.4 167.8h.6M87 163.7h.6M92.6 167.6h.6M83.5 157.1h.6M93.6 154.4h.6M84.5 157.3h.6M82.9 163.4h.6M89.6 166.4h.6M88.8 155.7h.6M91 161.5h.6M98.7 157.3h.6M95.1 164.2h.6M96.6 160.6h.6M99.2 158.9h.6M86.2 167.4h.6M87.4 156.3h.6M87.8 165.7h.6M94.3 155.2h.6M88.3 160.3h.6M96.8 161.7h.6M91.8 155.7h.6M96.1 168.3h.6M88.1 161.8h.6M98.6 159.7h.6M95.1 157.8h.6M93.1 166.3h.6M99.2 159.7h.6M94.2 167h.6M97.8 161.1h.6M88.2 168.6h.6M92.7 165.3h.6M85.7 157.7h.6M96 167.2h.6M87.3 168.7h.6M97.1 165h.6M97.8 166.6h.6M99.1 161.8h.6M90.8 156.5h.6M90.6 167.9h.6M83.2 159.2h.6M96.1 167.6h.6M95.2 155.8h.6M87.2 157.1h.6M96.9 155.3h.6M97.2 165.3h.6M97.9 166.6h.6M82.8 155.8h.6M86.6 159.5h.6M87.2 165.8h.6M91.2 165.8h.6M87.4 159.1h.6M84.7 157.4h.6M94.1 168.3h.6M100.2 164h.6M95.3 166.6h.6M85.5 167h.6M87.3 159.4h.6M93.3 168.2h.6M85.6 163.9h.6M90.8 154.8h.6M97.9 160.4h.6M93.9 167.6h.6M98.9 160.1h.6M99.8 159.4h.6M94.1 161.2h.6M83 165.1h.6M99.1 161.8h.6M88.5 168.4h.6M91.5 167.7h.6M85.3 164.2h.6M91.1 161.8h.6M100.1 164.6h.6M88.7 162h.6M85 163.1h.6M88.8 163.3h.6M88.9 163h.6M91.5 168.4h.6M93.2 161.1h.6M83 163.8h.6M92.5 163h.6M85.5 163.8h.6M83.4 158.6h.6M82.6 168.4h.6M92.3 159.5h.6M85.5 166.4h.6M86.9 162.3h.6M96.3 157.5h.6M99.1 164.7h.6M83.6 161h.6M100.1 165.1h.6M83.2 163.9h.6M86.1 156.7h.6M87.8 164.4h.6M84.8 168h.6M89.3 159h.6M95.6 160.3h.6M86.1 162.4h.6M84.6 162.3h.6M99.9 160.1h.6M86.9 168.6h.6M89 157.5h.6M93.1 162.4h.6M89.1 154.8h.6M94.4 162h.6M93.3 160.9h.6M96.5 163.5h.6M89.4 158.6h.6M86.7 160.8h.6M99.7 159.5h.6M97.5 162.6h.6M94.7 166.6h.6M93.6 165.7h.6M91.2 160.2h.6M85.8 156.2h.6M97 162.2h.6M98.9 162.9h.6M87 160.4h.6M95.6 165h.6M98.9 156.5h.6M88.5 161.9h.6M97.4 163.8h.6M94.3 164.9h.6M92.6 160.9h.6M90.6 164.3h.6M98.2 163.8h.6M85.6 162.3h.6M96.7 167.4h.6M92.9 166.1h.6M82.8 161h.6M98.9 165.8h.6M96.3 165.6h.6M91.3 162.2h.6M87.3 155.9h.6M87.8 155.8h.6M83.2 164.5h.6M93.3 167.7h.6M93.9 164h.6M82.7 168.5h.6M83.6 161.7h.6M82.3 156.8h.6M91.4 157h.6M93.2 155.6h.6M91.7 157.1h.6M86.3 166.1h.6M86.9 157.6h.6M92.8 161.8h.6M90.1 165.4h.6M98.9 164.7h.6M90.4 168.5h.6M92.1 166.4h.6M89.1 166.7h.6M92.3 154.3h.6M90.9 155.2h.6M98.5 162.3h.6M89.8 155.5h.6M130 159.7h.6M131.2 158.7h.6M132.5 158.1h.6M127.6 163.4h.6M127 160h.6M133.5 158.7h.6M132.3 161h.6M131.3 164.6h.6M132.3 162h.6M133.1 159.2h.6M134.7 162.6h.6M133.9 158.8h.6M129.1 166.5h.6M127.7 162.4h.6M134.4 164h.6M131.4 161.9h.6M129.6 165.3h.6M131.5 162.4h.6M127.5 167h.6M133.7 163.9h.6M132.6 162.3h.6M131.6 160.7h.6M132.8 168h.6M127.7 164.5h.6M133.5 159.9h.6M132.1 164h.6M130.8 160.2h.6M131.1 160.9h.6M129.7 165.4h.6M132.8 166.5h.6M130.6 163.4h.6M130.8 168.1h.6M132.5 162.4h.6M130.8 166.8h.6M129.4 159.1h.6M131 161.5h.6M130.6 163h.6M131.1 160.3h.6M131.1 164.2h.6M126.9 166.7h.6M134.3 167.8h.6M134.7 160.6h.6M130.1 162.2h.6M131.2 162.5h.6M133.8 163.7h.6M129 167.3h.6M133 163.5h.6M129.6 160.9h.6M128.6 159.9h.6M130.6 164.4h.6M129.3 159.5h.6M128.2 166.1h.6M128.5 165.1h.6M134.9 167.6h.6M128.6 158.8h.6M127.9 167.6h.6M126.7 161.1h.6M128.7 166.2h.6M130.8 165.8h.6M132.5 163.7h.6M133.6 162.2h.6M139.1 157.7h.6M135.8 157.8h.6M141 159.6h.6M136.3 164.6h.6M139.6 167.1h.6M136.4 158.2h.6M145.1 157.2h.6M138.2 160.1h.6M139.6 164.3h.6M146 164.2h.6M140.7 163.2h.6M139.6 159.8h.6M143 158.2h.6M143.5 165.2h.6M141.3 160h.6M140.6 160.7h.6M137.9 164.2h.6M145.7 160.6h.6M136 168.1h.6M145.6 164.5h.6M139.1 165.2h.6M144.2 167.8h.6M138 158.7h.6M137.3 166.4h.6M142.1 167.7h.6M143 158.8h.6M144.7 162h.6M140.5 162.8h.6M142.3 162.5h.6M135.1 160.2h.6M147.6 159.2h.6M136.5 164.7h.6M138.8 165h.6M148 163h.6M136.9 160h.6M146.5 158.1h.6M137.5 168.1h.6M144.7 162h.6M143.5 159.9h.6M138.8 162.9h.6M147.7 161.9h.6M141.9 160.5h.6M136.5 162.4h.6M136.9 163.8h.6M141 165.8h.6M135.2 166.4h.6M136.1 164.6h.6M142.1 157.3h.6M146 165.8h.6M140.1 168.2h.6M144.5 160.9h.6M146.4 166.3h.6M136.9 158.7h.6M143 166.7h.6M145.6 157.2h.6M139.2 164.9h.6M146.1 163.4h.6M143.2 166.2h.6M143.6 164.6h.6M144.6 166.1h.6M143.8 168.1h.6M146.5 159.9h.6M139.2 164.1h.6M146.8 159h.6M141 159.4h.6M146.1 166.4h.6M144.9 164.6h.6M135.2 164.4h.6M143 159.8h.6M148 158.6h.6M144.5 158.5h.6M137.9 159h.6M146.7 158h.6M136.1 166.3h.6M146.7 162.8h.6M139.4 164.4h.6M146.7 167.1h.6M141.4 165.7h.6M137.1 165.5h.6M142.9 165.2h.6M139.6 164.8h.6M147.1 162.8h.6M138.2 160.3h.6M135 168.1h.6M137.4 163.5h.6M142 158h.6M143.8 162.2h.6M136 161.5h.6M135.5 160.8h.6M140.1 163.4h.6M141.6 166.9h.6M138.1 163.5h.6M145 167.5h.6M146.8 161.3h.6M136 166.4h.6M143.7 161.4h.6M136.9 163.7h.6M140.6 163.2h.6M138.7 163.6h.6M138.8 161.3h.6M141.8 159.9h.6M175.4 147.5h.6M182.3 152.1h.6M177 139.3h.6M181.3 149.9h.6M178 150.9h.6M175.4 150h.6M177.7 154.3h.6M186.6 154.7h.6M174.2 147.6h.6M175.7 154.8h.6M170.3 155.6h.6M179.7 149h.6M171.9 141.7h.6M182.3 153.8h.6M176.9 159.6h.6M172.2 154.3h.6M170.6 141.1h.6M176.6 148.2h.6M178.9 141.3h.6M174.9 160h.6M172.6 158.6h.6M186 157.3h.6M179.5 158.6h.6M185.3 156.6h.6M183.4 155.5h.6M175.4 143.8h.6M172.5 143.6h.6M176.7 143.1h.6M185.8 149.8h.6M171.3 154.6h.6M176.2 155h.6M170.4 158h.6M171.9 159.2h.6M172.9 158.3h.6M176 148.2h.6M177.5 149.9h.6M171.6 146.8h.6M179.3 152.5h.6M181.8 155h.6M179.6 148.1h.6M175.5 154.5h.6M178.6 140.2h.6M175 152.6h.6M176.5 152.2h.6M178.8 139.9h.6M174.9 142.4h.6M172.9 146.8h.6M177.4 151.8h.6M186.8 153.7h.6M174.4 141.7h.6M171.5 158.2h.6M177.9 148.7h.6M180.8 152.3h.6M170.5 140.4h.6M173.9 147.2h.6M178.1 142.2h.6M171 155.1h.6M182.6 160.8h.6M172 152.2h.6M173.9 156.6h.6M180.8 145.9h.6M177.3 141.1h.6M175.8 158.3h.6M179.6 151.2h.6M185.3 158.1h.6M172.8 153.2h.6M175.3 161.9h.6M186.8 156.1h.6M174.9 157.3h.6M174.7 154.1h.6M180.1 161.4h.6M173.3 146.1h.6M179.8 140.9h.6M174.9 158.1h.6M176.4 143.5h.6M171.3 141.5h.6M177.6 160.2h.6M178.2 151.8h.6M182.2 153.5h.6M184.8 153h.6M184.3 150.9h.6M179.5 153.7h.6M172.5 143.2h.6M172 148.4h.6M170.3 146.9h.6M174.2 143.3h.6M178.5 143.4h.6M177.2 149.2h.6M173.1 151.3h.6M170.5 148.6h.6M181 160.3h.6M170.9 143.8h.6M179 159h.6M177.5 160.3h.6M180.9 148.5h.6M182.5 155.5h.6M176.2 151.6h.6M176.9 154.4h.6M170.2 160.6h.6M178.5 147.8h.6M179.1 151.3h.6M177.1 139.3h.6M179.5 151.4h.6M173.4 154.3h.6M185.3 157.6h.6M177.8 143.2h.6M176.4 147h.6M175 146.1h.6M181.6 151.3h.6M180 151.9h.6M181.8 161h.6M173.4 145.6h.6M187.2 155h.6M177.6 161.6h.6M182.9 153.2h.6M177.1 144.4h.6M179.3 151.1h.6M175.5 139.6h.6M173.6 161.5h.6M180.4 161.1h.6M185 155.1h.6M173.4 160.7h.6M176.7 148.1h.6M175.3 149.7h.6M171.8 152.2h.6M173.2 145.4h.6M176 150.9h.6M179.5 145.5h.6M182.4 154h.6M169.9 160.7h.6M180.1 156.6h.6M170.7 149.2h.6M175.8 161.9h.6M177.4 154.8h.6M179.3 143.9h.6M185.1 156.8h.6M184.3 156.4h.6M172 142.9h.6M179.6 153.4h.6M181.9 159h.6M180.9 151.8h.6M171.9 150.9h.6M175.5 143.4h.6M176.6 147.6h.6M181.4 149.9h.6M179.6 151.6h.6M170.7 141.8h.6M171.6 157.3h.6M174.8 161.3h.6M173.7 139.1h.6M182.3 151.8h.6M172.5 141.1h.6M173.4 148.9h.6M176.6 156.4h.6M171.2 152.4h.6M184.3 150.2h.6M186.5 158.3h.6M183.9 148.5h.6M174.1 142.9h.6M180.7 149.6h.6M181.1 157.3h.6M179.8 147.7h.6M186.4 153.1h.6M174.1 141h.6M181.4 150.3h.6M172.7 155.4h.6M171.1 159.1h.6M181.1 146.2h.6M172.1 144.9h.6M183.6 156.9h.6M181.2 154.8h.6M174.3 155.4h.6M186.5 150.5h.6M177.4 139.2h.6M171.7 146.5h.6M182.9 148.7h.6M173.7 160h.6M183 160.8h.6M177.4 152h.6M179 140.8h.6M174.3 151.5h.6M178.5 147.2h.6M178.2 155h.6M178.5 151.6h.6M179.7 151.6h.6M170.5 151.3h.6M178.3 152.7h.6M177.1 154.9h.6M170.6 155.4h.6M186.3 153.9h.6M183.8 148.5h.6M171 144.8h.6M182.1 148.6h.6M171.7 153h.6M181.4 160.8h.6M176 156h.6M172.8 146.1h.6M173.9 155.4h.6M170.9 142.3h.6M174.8 161.5h.6M185.2 154.2h.6M176.7 141.5h.6M173.1 141.2h.6M173.9 151.6h.6M176.9 148.4h.6M175 153.2h.6M182.6 159.4h.6M176.4 153.7h.6M173.8 150.2h.6M174.2 154.7h.6M184.6 160.7h.6M179.1 147.1h.6M176.5 142.6h.6M183.7 149.2h.6M178.3 147.9h.6M187.1 152.8h.6M177.7 159.2h.6M180.3 151.9h.6M186.4 154.9h.6M184.5 157.1h.6M177.4 159.3h.6M186.3 152.4h.6M172.7 147.1h.6M177.9 147.2h.6M177.7 151.2h.6M170.1 149.4h.6M184.1 155.3h.6M177.6 153.1h.6M173.7 141.7h.6M181.7 147.8h.6M175.2 141.9h.6M184.3 152.3h.6M228.2 161.4h.6M225.6 157.7h.6M225.1 165.5h.6M230.8 166.3h.6M221 162.4h.6M231.6 165.4h.6M225.6 165.8h.6M225.7 164.1h.6M225.4 156.4h.6M228.1 165.5h.6M226.5 167.2h.6M224.7 157.3h.6M226.5 159.6h.6M226.4 155.8h.6M226.3 165.6h.6M222.4 165.1h.6M226.6 165.8h.6M226.8 159.8h.6M222.5 161.6h.6M226.4 156h.6M221.9 165.4h.6M222.9 159.5h.6M225.8 162.7h.6M230.5 164.2h.6M219.1 163.6h.6M220.2 161.5h.6M222.5 165.3h.6M225.4 164.6h.6M227 164.3h.6M220.5 157.7h.6M229.7 166.8h.6M230.6 159.7h.6M223.8 162.9h.6M232.5 163.2h.6M229.3 162.6h.6M231.5 156.9h.6M228.1 166.8h.6M220.1 161h.6M228.4 158.6h.6M226.5 159.1h.6M223.1 160h.6M229.6 161.4h.6M226 163.8h.6M232.6 159.9h.6M222.8 166.6h.6M220.1 164.2h.6M223.7 165.7h.6M230.6 161.9h.6M232.6 166.9h.6M232.2 163.8h.6M224.9 159.2h.6M223.3 160.7h.6M223.1 156.9h.6M228.3 159.3h.6M230.3 158.9h.6M219.9 158.6h.6M232.9 166.4h.6M232.6 165.9h.6M219.4 160.7h.6M220.7 157.7h.6M227.3 162.1h.6M228.5 157.2h.6M228.4 156.5h.6M229.7 160.1h.6M231.6 163.6h.6M230.9 165.5h.6M225 163.1h.6M226.3 160.2h.6M225.5 157.4h.6M232.6 162.1h.6M231.2 165.4h.6M227.3 157.8h.6M228.6 161.4h.6M228.9 159.9h.6M225.8 156.3h.6M228.4 156.5h.6M220.5 165.8h.6M226.2 156.9h.6M226.9 162.5h.6M223.5 161.2h.6M231.8 164.5h.6M227.7 161.5h.6M222.4 155.8h.6M229 159.6h.6M224.7 155.4h.6M220.8 166.8h.6M225.3 158.7h.6M226.7 162.8h.6M220.1 160.8h.6M230.9 163.4h.6M225.9 155.5h.6M221.6 161.8h.6M219.5 164.4h.6M231.1 166.8h.6M223.1 162h.6M221.6 165.8h.6M224 160.4h.6M231.3 160.2h.6M227.5 161.4h.6M227.4 159.1h.6M221.4 160.7h.6M222.3 160.5h.6M219.2 159.6h.6M229.8 158.5h.6M223.2 160.2h.6M228.1 164.1h.6M222.1 158.3h.6M231.5 161.1h.6M268.2 160.2h.6M251.8 165.5h.6M255.7 159.2h.6M249 163.7h.6M266 159.8h.6M257.2 160.6h.6M258.6 159h.6M267.4 162.1h.6M259.4 159.7h.6M266.2 163.7h.6M263.2 158.5h.6M261.7 157.3h.6M265.4 160.3h.6M264.4 163.2h.6M256.7 161.4h.6M268.4 164.2h.6M258.8 158.2h.6M248.8 164.7h.6M253.2 163.8h.6M256 157.8h.6M251.1 160.7h.6M258.4 159.5h.6M265.6 158.7h.6M256.6 159.4h.6M251.8 161.1h.6M249.8 158.4h.6M251.5 164.4h.6M254.5 162h.6M251.6 163.8h.6M263.6 157.8h.6M261.9 157.8h.6M257.7 163.4h.6M249.4 158.4h.6M251 163.4h.6M264.2 157h.6M264.4 163.5h.6M256.4 158.4h.6M251.9 161.2h.6M262.2 163.5h.6M256.5 160.8h.6M258.5 157.5h.6M254.7 164h.6M253.5 163.1h.6M264.7 162h.6M262.4 157.8h.6M262.1 164.4h.6M258.4 157.5h.6M250.6 162.3h.6M264.4 157.1h.6M251.9 163h.6M263.3 163.3h.6M249.1 159.8h.6M261.7 164.3h.6M264.6 163h.6M254.7 159.8h.6M260.7 165.1h.6M257.3 159.9h.6M264.4 157.4h.6M253.3 163.3h.6M266 157.1h.6M249.2 158.8h.6M251.7 159.5h.6M256.9 161.2h.6M262.9 163.3h.6M252.9 161.1h.6M249.8 159.4h.6M259.3 161.5h.6M263.1 158.4h.6M255.4 163.7h.6M260.5 158h.6M260.5 159.1h.6M265.8 160.6h.6M264.6 163.9h.6M262.7 162.2h.6M261.8 164.3h.6M264.2 157.2h.6M248.6 164.6h.6M262.4 159.4h.6M248.2 159.1h.6M263.2 165.5h.6M257.5 159h.6M266.5 157.3h.6M264 164.3h.6M263.5 157.7h.6M261.2 165.3h.6M259.6 165.3h.6M260.4 159.2h.6M256.8 163.1h.6M248 162.4h.6M265.5 164.1h.6M257.9 160.4h.6M262.1 165.4h.6M265.8 163.6h.6M251.4 158.4h.6M259.8 162.5h.6M263.7 163.9h.6M251 162.1h.6M266.2 164.1h.6M248.1 161.6h.6M258.1 158.1h.6M260.5 164h.6M265 160.4h.6M258.7 160.3h.6M250.3 160.7h.6M264.5 163.8h.6M264.4 163.2h.6M264.9 162.6h.6M265.5 157.7h.6M253.9 165.1h.6M252.8 163.4h.6M263 161.4h.6M261 161.8h.6M252.2 158h.6M266.1 163.9h.6M251.9 158.1h.6M257.8 159.7h.6M260.8 157.1h.6M262 160.4h.6M266.2 163.1h.6M262.7 163.4h.6M260 161.7h.6" stroke="#000" stroke-width=".8" stroke-opacity=".5"/>
<path d="M46.1 24.9h.6M54.5 27h.6M59.2 36.9h.6M44.8 24.6h.6M55.9 27.5h.6M44.5 25.2h.6M53.9 27.3h.6M45.6 24.8h.6M58.8 35.8h.6M55 28h.6M58.8 32.7h.6M41.9 25.9h.6M58.7 30.6h.6M47.4 24.4h.6M46.5 24.8h.6M50.6 25.1h.6M58.3 28.9h.6M58.8 32.1h.6M43 25.7h.6M44.5 24.5h.6M53.9 26h.6M43.8 25.5h.6M45 24.4h.6M58.9 29.9h.6M57.4 28.6h.6M42.4 25.8h.6M48.9 24.3h.6M53.5 26.8h.6M55.6 28.1h.6M53.9 27.2h.6M46.4 24.7h.6M47 24.9h.6M48 24.8h.6M58.9 30.2h.6M59.3 35.9h.6M56.6 26.8h.6M59 34.3h.6M56.7 28.5h.6M56.9 28.7h.6M59.1 36.8h.6M60 29.5h.6M52.8 26.1h.6M55.2 28.4h.6M51.9 24.2h.6M53.7 26.9h.6M55.6 28.4h.6M58.7 34.3h.6M56.6 28.7h.6M42.4 26.2h.6M59.1 36.8h.6M42 26.3h.6M60.2 32.2h.6M59.2 32.9h.6M52.4 25.5h.6M49.4 24.8h.6M53.8 25.6h.6M59.7 31.5h.6M57.6 29h.6M46.3 24.5h.6M55.1 27.3h.6M43.9 24.3h.6M55 27.7h.6M51.8 25.3h.6M43.5 24.3h.6M50.7 25.4h.6M52.3 24h.6M48 25h.6M59.7 31.9h.6M59.5 35.6h.6M54 26.5h.6M48.9 24.1h.6M50.9 24h.6M59.1 32.4h.6M92.3 26.6h.6M97.8 27.9h.6M95.8 29.1h.6M92.1 25.5h.6M100.2 35.6h.6M97 29.7h.6M92.5 27.6h.6M86.7 21.7h.6M96.6 29.8h.6M99.8 36.7h.6M96.2 29.6h.6M99.8 37.4h.6M95.3 30h.6M90.2 24h.6M94.8 27.8h.6M89.8 23.7h.6M97.2 30h.6M95.8 28.6h.6M90.2 24h.6M98.7 29.7h.6M100.3 38.2h.6M87.7 22.5h.6M99.9 33.2h.6M89.3 22.5h.6M99.6 34.9h.6M93.7 29.1h.6M97.7 29.3h.6M95.8 28.8h.6M90.1 24.4h.6M98.2 30.3h.6M89.8 23.7h.6M93.8 26.2h.6M92.3 27.7h.6M88.5 23.5h.6M98.6 29.8h.6M94.7 29.4h.6M85.2 24.2h.6M89.9 24.3h.6M95.1 29h.6M92.2 26.9h.6M90.8 25h.6M99.6 36.4h.6M93.4 28.9h.6M99.9 33.3h.6M98.8 30.3h.6M85.1 24.2h.6M90.1 22.6h.6M92.2 27.7h.6M100 34.5h.6M89.2 22.2h.6M87.9 23.4h.6M95.7 28.9h.6M99.6 36.6h.6M90.4 24.7h.6M99.6 31.1h.6M96.1 29.7h.6M91.5 24.5h.6M101 36.3h.6M88.3 23.1h.6M101.1 33.5h.6M97 29.9h.6M99.7 32.7h.6M94.1 29h.6M94.7 28h.6M84.6 24.6h.6M98.2 29.8h.6M92.4 26.9h.6M87.5 23.3h.6M100 37.3h.6M100 37.6h.6M92.8 26.5h.6M88.4 21.9h.6M89.9 23.1h.6M100 36.6h.6M100 33.2h.6M92.1 27.4h.6M98.4 28.6h.6M96.8 29.9h.6M96.4 29.8h.6M89.8 23.7h.6M98.3 28.6h.6M97.8 29.9h.6M85.1 24.1h.6M99.6 38.2h.6M99.7 34.7h.6M93.6 27.8h.6M92.2 27.5h.6M94.6 29.4h.6M99.3 30h.6M99.5 32.5h.6M92.6 27.9h.6M97.5 29.4h.6M99.5 35.1h.6M99.5 30.5h.6M95.5 29.7h.6M99.6 37.6h.6M92.9 28.1h.6M94.8 29.5h.6M100.2 34.3h.6M100.8 31h.6M100.3 36.3h.6M91.6 26h.6M140.5 30.5h.6M136.8 30.1h.6M128.3 26.3h.6M134.5 29.7h.6M126.8 26.4h.6M129.5 25.6h.6M136.9 29.4h.6M130.1 25.8h.6M131.3 26.9h.6M130.9 26.9h.6M132.7 27.3h.6M131.7 27.7h.6M141.4 37.5h.6M136.1 28.8h.6M127.9 25.4h.6M141 32.2h.6M133.4 28.2h.6M138.9 29.9h.6M140.8 32.4h.6M128.7 26.3h.6M137.5 29.8h.6M137.7 30.4h.6M131.2 27.5h.6M141.6 37.2h.6M140.9 37.7h.6M135.6 29.6h.6M137.2 30h.6M141.3 31.6h.6M141 33.2h.6M126.1 26h.6M140.5 30.8h.6M132.4 26.6h.6M130.5 26.4h.6M136.8 30h.6M134 29.7h.6M131.4 27.5h.6M137.6 30h.6M130.5 27.2h.6M128.1 25.3h.6M141 33.6h.6M141.6 37.3h.6M136.9 29.5h.6M135.6 28.7h.6M141.8 35.9h.6M140.5 35.2h.6M141.3 31.1h.6M124.7 26.7h.6M127.8 26.2h.6M136.5 29.5h.6M134.2 29.9h.6M140.7 31.3h.6M131.8 27.3h.6M128.4 25.7h.6M141.5 32.7h.6M134.8 29.5h.6M138.5 28.4h.6M137.9 30.1h.6M141.7 36.7h.6M134 29.7h.6M140 30h.6M141.1 36.3h.6M124.3 25.9h.6M133.6 29.2h.6M125.5 26.3h.6M132.2 28h.6M136.2 29.4h.6M141.3 32.4h.6M141.3 34.1h.6M135.1 30.1h.6M131.6 27.5h.6M141.1 37.7h.6M139.7 30.6h.6M140.3 30.2h.6M127.4 25.1h.6M136.6 29.2h.6M172.8 25.5h.6M185.6 36.2h.6M175.5 25.2h.6M185.1 33.7h.6M178.3 27.4h.6M186.2 38.5h.6M168.9 26.3h.6M181.8 29.9h.6M185 36h.6M182.1 29.2h.6M184.6 30.4h.6M169.5 25.9h.6M185.7 33.8h.6M170.5 24.6h.6M185 36.8h.6M170.6 24.9h.6M181.1 29.1h.6M178.7 28.3h.6M178.4 28.3h.6M178.4 28.1h.6M186 36h.6M185.6 33.7h.6M172.4 25.2h.6M175.6 25.7h.6M186.3 35.9h.6M169.1 25.9h.6M183.4 29.7h.6M179 27.8h.6M178.9 27.7h.6M173.4 25.7h.6M178.4 28.6h.6M181.6 28.4h.6M184.1 29.9h.6M184.3 29.8h.6M184.8 36.3h.6M184 30h.6M179 29.4h.6M168.8 26.6h.6M185.1 34h.6M184.9 32h.6M171.6 24.6h.6M181.2 29.6h.6M185.4 36.9h.6M172 25.5h.6M178.1 26.3h.6M182.6 29.6h.6M185.1 30.5h.6M177.8 26.8h.6M176.2 26.6h.6M179.9 29.4h.6M171.4 25.3h.6M183.1 30h.6M185.7 32.6h.6M177.7 27.7h.6M184.8 33.8h.6M186 30.1h.6M179.7 28.3h.6M171.7 25.4h.6M169.6 23.8h.6M183.1 29.6h.6M180.5 28h.6M180.3 29h.6M185.5 34h.6M176.5 25.2h.6M184.7 35.9h.6M169 25.8h.6M186.5 36.5h.6M182.9 30.1h.6M168.9 26.4h.6M177.9 27.2h.6M178.7 28.1h.6M171.6 24.2h.6M185.4 30.2h.6M184.8 36h.6M173.2 25.6h.6M173.2 25.7h.6M175.4 24.7h.6M175.4 24.8h.6M170.1 24.9h.6M185 35.5h.6M184.8 38.8h.6M184.9 34.6h.6M186.2 31.5h.6M179.6 28h.6M172.6 25.6h.6M180.5 29.8h.6M171.1 24.4h.6M183.1 30.1h.6M171 25.3h.6M178 28h.6M175.6 25h.6M185.6 31.7h.6M185.2 31.5h.6M179 28.2h.6M173.7 25.5h.6M185.9 37.7h.6M181.6 29.4h.6M185.4 34.4h.6M186.4 35.1h.6M185.1 32.5h.6M185.4 31.5h.6M211.6 21.8h.6M215.1 22h.6M225.2 27.2h.6M210.3 21.4h.6M217.1 24h.6M223.1 27.6h.6M226 36h.6M226.2 30.3h.6M226.4 32.5h.6M209.3 22.8h.6M226.5 30.3h.6M223.3 27h.6M212.8 21.2h.6M222.5 26.4h.6M224.4 27.9h.6M215.3 21.8h.6M224.2 27.4h.6M222.8 27.5h.6M226.2 36.9h.6M213.1 21.4h.6M209.1 22.2h.6M226 34.3h.6M220.7 27.6h.6M221.3 26.8h.6M226.3 31.2h.6M212.9 21.9h.6M225.4 27h.6M212.4 21.5h.6M218.2 23.5h.6M213 21.2h.6M214 21h.6M227.2 31.2h.6M226.1 32.1h.6M215.9 21.4h.6M215.5 22.1h.6M226 36.4h.6M217.9 25.1h.6M212.8 20.3h.6M226.2 36.1h.6M226.1 31.5h.6M226.3 29.8h.6M219.6 26.3h.6M226.2 29.6h.6M227 36.1h.6M218.1 24.1h.6M226.7 38.1h.6M215.1 22.3h.6M223.5 27.4h.6M223.8 27.7h.6M215.1 22.5h.6M209.4 22.4h.6M217.3 23h.6M218.7 23.8h.6M218.9 25.4h.6M217 23.6h.6M225.5 28.2h.6M225.9 31.6h.6M217.2 24.2h.6M219.4 26.7h.6M210.9 20.7h.6M210.1 22.3h.6M212.5 21.6h.6M215.7 22.8h.6M226.3 33.3h.6M212.4 21.6h.6M214.6 22.1h.6M214.2 21h.6M215.1 21.4h.6M226.2 30.9h.6M209.6 22.7h.6M226.5 30.1h.6M225.8 32.1h.6M219.1 25.7h.6M218.4 24.2h.6M220.7 27.3h.6M211.5 21.7h.6M227 30.3h.6M226 36.8h.6M218.7 26.3h.6M214.5 21.6h.6M216.4 23.3h.6M213.7 20.9h.6M218.4 22.5h.6M220.6 27h.6M216.5 23.6h.6M226.5 31.8h.6M221.6 27.7h.6M209.3 22.1h.6M222.1 27.5h.6M220.8 26.7h.6M226.2 35.1h.6M211.3 20.7h.6M219.9 26.9h.6M226.7 38.3h.6M218.5 24.9h.6M215 21.7h.6M208.7 21.6h.6M210.2 21.5h.6M218.7 25.6h.6M226 36.3h.6M226.3 37.1h.6M226.1 29.8h.6M217.5 24.4h.6M222.9 27.5h.6M225.8 33.4h.6M211.7 21.8h.6M213.3 21.7h.6M264.2 30.8h.6M264.3 35.9h.6M253.8 23.9h.6M255.1 26.1h.6M264 35.4h.6M253.6 25.2h.6M255.8 27.5h.6M248.6 23.9h.6M264.6 34.5h.6M265 37.8h.6M248.4 23.7h.6M256.3 28.1h.6M248.4 22.8h.6M257.5 28.9h.6M245.7 25.3h.6M247.5 24h.6M257 27.6h.6M261.8 30.2h.6M254 25.4h.6M264.5 35.2h.6M264.5 34.4h.6M247.8 23.9h.6M261.7 28.6h.6M264.5 36.1h.6M253.8 24.9h.6M255.2 26.9h.6M264.1 37.5h.6M264.4 34.4h.6M258.5 29.4h.6M264.2 34.1h.6M249 23.8h.6M246.3 24.8h.6M260.1 28.5h.6M245.9 23.6h.6M247.3 23.5h.6M258.6 28.2h.6M260.1 28.7h.6M262.6 28.7h.6M264.3 33h.6M257.1 28.3h.6M253.3 23h.6M257.5 27.2h.6M257.4 28.2h.6M264.6 32.5h.6M258.6 28.3h.6M259.7 28.7h.6M264.1 35.5h.6M255 26.1h.6M253.3 24.1h.6M251.7 23h.6M257 27.9h.6M264.8 31.6h.6M255.7 27h.6M247.7 23.8h.6M251.1 23.8h.6M249 23.3h.6M255.5 26.1h.6M254.9 24.9h.6M253.2 23.3h.6M264.4 35h.6M257.5 28.6h.6M249.5 23.6h.6M261.4 29.7h.6M254.5 25.6h.6M264.7 35.8h.6M253.2 23.9h.6M265.4 34.1h.6M245.7 24.6h.6M258.7 29.1h.6M251.6 23.9h.6M264 34.2h.6M263.8 29.2h.6M251.3 23.9h.6M264.6 32.7h.6M251.5 23.9h.6M251.3 23.6h.6M261.4 29.9h.6M256.2 27.7h.6M265.3 30.8h.6M259.3 29.1h.6M254.9 25.6h.6M264.1 35.5h.6M264.5 36.6h.6M249 23.9h.6M250.5 23.5h.6M256.5 26.7h.6M254.7 26.5h.6M256.6 28.3h.6M264.3 37.1h.6M255 26.9h.6M262 30.3h.6M255.8 27.2h.6M265.1 37.6h.6M262.1 29.4h.6M264.5 35.1h.6M253.3 22.8h.6M261.1 29.9h.6M264 38.3h.6M254.2 25.4h.6M258.6 28h.6M251.4 23.5h.6M248.8 23.2h.6M248.7 23.1h.6M260.4 29.1h.6M256.5 27.4h.6M264.6 38h.6M246.8 24.9h.6M247.8 23.4h.6M58.5 73.6h.6M59 73.5h.6M58.9 77.1h.6M58.3 73.9h.6M45.8 66h.6M44.4 65.7h.6M54.3 68h.6M53.9 67.4h.6M55.2 68h.6M58.7 72.4h.6M52 66.4h.6M58 69.7h.6M44.8 65.2h.6M59 72.6h.6M55.6 68.8h.6M59.1 76.3h.6M49.6 65.9h.6M53.7 67.4h.6M53.4 67.3h.6M50 66.5h.6M54.4 68.1h.6M42.7 66.4h.6M58.3 74.5h.6M57.5 68.9h.6M47 66.2h.6M50.6 66.7h.6M59.1 76.8h.6M58.9 75.6h.6M53.8 66.7h.6M59.7 74.2h.6M59.5 77.3h.6M58.6 76.6h.6M56.8 69.3h.6M50.2 66.6h.6M52 65.8h.6M59.3 70.7h.6M59.3 69.2h.6M51.5 66.2h.6M54.5 68h.6M54 67.4h.6M47.7 66.3h.6M58.2 71.3h.6M42.3 66.8h.6M58.8 68.3h.6M58.4 71.6h.6M49.5 66.4h.6M48.5 65.3h.6M58.9 75.4h.6M51.9 67h.6M47.5 66.4h.6M58.9 76.8h.6M54.1 66.9h.6M55.9 68.9h.6M57.6 69.6h.6M50.1 66.1h.6M52.9 65.4h.6M53.8 67.6h.6M58.5 69.6h.6M58 69.7h.6M52 67.2h.6M56.4 67.5h.6M55 68.4h.6M53 66.9h.6M58.4 71.5h.6M42.3 67.3h.6M58.3 77.3h.6M50 66.5h.6M58.6 69.3h.6M58.3 74h.6M58.4 73.1h.6M54.9 67.3h.6M54.4 67.6h.6M57.4 69.6h.6M51.4 66.9h.6M58.8 77.5h.6M56.5 68.3h.6M45.6 65.9h.6M54.9 68.5h.6M59.7 76.7h.6M54.4 67.7h.6M42 67.4h.6M44 66.3h.6M58.2 69.5h.6M50.4 66.8h.6M55 68.2h.6M59 73.9h.6M53.2 66.5h.6M48.9 66h.6M45.1 66h.6M58.4 71.7h.6M58.7 74.2h.6M92.7 70.5h.6M92.6 76.9h.6M86 69.4h.6M85.3 69.1h.6M93.1 73.1h.6M92.1 70.6h.6M92.7 76.9h.6M88.2 69.3h.6M93.1 74.4h.6M92.8 76.1h.6M85.3 68.7h.6M89.9 69.4h.6M83.5 69.8h.6M92.9 72.3h.6M92.7 72.3h.6M92.6 74.3h.6M84 68.8h.6M92.6 73.7h.6M86.6 69.2h.6M84.6 69.5h.6M93.3 75.7h.6M84.7 69.1h.6M83.4 69.7h.6M89.3 68h.6M83 69.3h.6M93.3 76.8h.6M93.2 77.2h.6M93 75.7h.6M91.9 70h.6M92.7 76h.6M92.5 77.5h.6M92.9 77h.6M84.9 69h.6M92.7 74.6h.6M82.6 70h.6M91.6 69.8h.6M83 69.6h.6M83.7 69.1h.6M92.3 68.7h.6M87 68.9h.6M91.9 77.1h.6M96 68h.6M104.4 69h.6M99.2 67.3h.6M104.9 72.8h.6M91.5 76.4h.6M92.5 74.6h.6M91.4 76.4h.6M92.3 76.6h.6M105.1 70.4h.6M93.1 68.9h.6M92.1 74h.6M105.6 75.1h.6M104.9 73.4h.6M104.1 68.3h.6M105.1 71.7h.6M94.5 68.3h.6M91.8 76.5h.6M102.5 67.8h.6M91.2 72.6h.6M106.1 73.2h.6M90.8 72.2h.6M100 67.9h.6M97.4 68.3h.6M92.4 77.8h.6M105.4 70.9h.6M104.9 76.6h.6M93.7 68.4h.6M92.2 70.8h.6M105.7 71.7h.6M93.6 69h.6M104.1 69.1h.6M96.2 68.2h.6M105.4 70.7h.6M98.2 67.7h.6M104.9 72.1h.6M95.9 68.5h.6M105 76.3h.6M100.2 67.3h.6M94.6 68.7h.6M91.4 68.6h.6M91.8 74.1h.6M91 76.6h.6M99.3 68.1h.6M97.3 68.2h.6M106.5 75h.6M91.2 72.1h.6M91.2 75.3h.6M101.3 68.2h.6M100.6 68.1h.6M92.5 74.7h.6M92.3 75.3h.6M94.1 68.4h.6M92.8 68.4h.6M93.1 68.8h.6M147 73.9h.6M141.1 67.2h.6M126.1 68h.6M132.8 67.3h.6M125.6 67.6h.6M130.2 66.6h.6M144.9 67.6h.6M146.6 71.7h.6M147.1 73.4h.6M125.4 68.2h.6M144.3 67.3h.6M142.5 67h.6M127.9 67.3h.6M131.8 67.5h.6M146.9 73.2h.6M134 67h.6M147.1 71.5h.6M127.8 67.7h.6M146.6 67.1h.6M125.6 68.3h.6M130.1 67.6h.6M136 67.5h.6M134.1 67.2h.6M131.2 65.3h.6M131.6 67.5h.6M145.5 68h.6M148.3 73.2h.6M144.3 66.7h.6M146.9 68.6h.6M132.6 67.3h.6M148.1 73.9h.6M141.2 66.5h.6M127.9 67.6h.6M138 67.1h.6M138.9 67h.6M135.3 66.4h.6M143.6 67.1h.6M137.5 67.2h.6M147 70.2h.6M127.5 67h.6M141.4 67.3h.6M147.4 72.3h.6M147.4 77.3h.6M130.7 66.5h.6M135.6 67.6h.6M146.9 71.4h.6M146.8 72.3h.6M146.6 75.4h.6M137.6 67.1h.6M127.2 67.6h.6M127.2 67.1h.6M146.7 72.5h.6M134.7 67.4h.6M147.2 72.8h.6M133.6 66.8h.6M143.4 67.1h.6M134.8 66.7h.6M132.9 66.3h.6M146.9 70.4h.6M143.9 67.2h.6M130.4 67.4h.6M147.2 73.7h.6M147.4 71.9h.6M136 67.5h.6M128.5 67h.6M147.2 69.9h.6M144.4 67.4h.6M131.7 67.7h.6M147.7 73.6h.6M146.8 75.3h.6M147.5 72.8h.6M130.2 66.7h.6M134.5 67.2h.6M126 67.7h.6M134.7 66.4h.6M127.2 67.6h.6M138.8 66.2h.6M139 67.2h.6M130.7 66.8h.6M125.9 67.5h.6M129.5 66.9h.6M146.7 74.3h.6M142.4 67.2h.6M140.5 67.2h.6M146.7 70.5h.6M144.6 67h.6M125.7 68.1h.6M142.5 67.3h.6M144.5 67.6h.6M136.7 66.8h.6M136.4 67h.6M139.1 65.5h.6M127.5 67.6h.6M144.6 66.9h.6M144.4 67.2h.6M125.9 66.9h.6M134.3 67.2h.6M146.5 74h.6M146.5 68.8h.6M147.8 73h.6M141.3 67h.6M142.6 66.8h.6M135.1 66.7h.6M126.9 66.4h.6M139.3 67h.6M177.2 65.5h.6M174 60.1h.6M178.3 64.2h.6M176.9 65.5h.6M174.6 67.7h.6M176.6 62.3h.6M177 61.6h.6M176.6 68h.6M172.9 61.3h.6M170.8 62h.6M172.8 67.7h.6M172.9 61h.6M176.8 62.1h.6M172.4 67.8h.6M176 61.2h.6M184.2 66h.6M179.2 67.5h.6M179.2 69.3h.6M183.6 70.5h.6M186.6 69.2h.6M182.9 65.3h.6M185.2 67.1h.6M179.8 71.9h.6M179.6 70.9h.6M180.8 70.3h.6M181.7 71.1h.6M213.5 63.7h.6M214 63.5h.6M227.3 69.7h.6M218.6 64.9h.6M225.9 68.1h.6M217.9 64.4h.6M212.5 61.9h.6M220.6 65.4h.6M214 63.6h.6M211.8 63.7h.6M212.9 63.7h.6M214 63.7h.6M224.1 66.6h.6M226.3 70.4h.6M226.7 67.9h.6M225.8 72.8h.6M226.3 71.9h.6M225 66.4h.6M220.6 66.4h.6M217.7 64.3h.6M226.7 71.3h.6M208.7 64.7h.6M226.7 71.8h.6M225.7 74.2h.6M211.9 62.6h.6M227.3 70.2h.6M221.8 66.5h.6M214.2 63.2h.6M226.8 70.2h.6M220.6 66.2h.6M208.9 62.9h.6M220.4 65.7h.6M213.8 63.7h.6M222.3 66.6h.6M225.7 71.5h.6M213.9 63.8h.6M223 66.1h.6M226.6 75.4h.6M223.9 66.5h.6M217.5 62.8h.6M218.3 64.7h.6M209 64h.6M220.5 65.8h.6M227 75.2h.6M225.9 72.2h.6M213.5 62.9h.6M212.4 63h.6M213.4 62.6h.6M210.2 63.9h.6M218.1 64.9h.6M215.4 63.8h.6M220.6 64.8h.6M222.5 65.9h.6M224.9 67.5h.6M214.6 63h.6M208.6 64.7h.6M219.3 65h.6M211.2 62.2h.6M211 63.5h.6M217.7 64.6h.6M226.5 75.7h.6M219 65.3h.6M224.6 66.6h.6M226.2 72.8h.6M208.8 64.2h.6M226.9 75.5h.6M214.3 63h.6M219.9 65.1h.6M226.8 72.1h.6M214.8 63.6h.6M224.4 66.8h.6M218.8 65.7h.6M208.7 64.5h.6M226.1 74.7h.6M209.4 62.6h.6M219.5 66.4h.6M215.3 63.1h.6M222 66.1h.6M217.3 63.7h.6M215.5 62.4h.6M226.2 72.5h.6M225.8 69.8h.6M226.4 68.2h.6M223.9 66.5h.6M226.3 75.1h.6M219.4 66h.6M227.3 71.2h.6M209.6 63.2h.6M225.7 73.6h.6M227.4 68h.6M217.5 62.9h.6M248.5 67.9h.6M267.9 74.5h.6M266 66.8h.6M264.9 66h.6M268.4 72.4h.6M265.8 66.9h.6M253 66.8h.6M267.3 68.7h.6M248.1 67.3h.6M267.7 70.4h.6M255.7 66h.6M261.9 66.6h.6M258.3 67.1h.6M256.8 66.9h.6M247.6 68.3h.6M252.3 66.3h.6M251.7 67.3h.6M268.4 70.8h.6M257.7 66.2h.6M268.2 70.2h.6M256.5 66.8h.6M252.4 66.4h.6M257.9 67h.6M264.5 66.1h.6M265.3 66.6h.6M246.5 68.4h.6M259.8 65.7h.6M261.3 66.7h.6M267.1 71.5h.6M260.7 65.9h.6M250.5 66.3h.6M265.3 65.4h.6M263.3 64.6h.6M254.6 66.8h.6M259.1 66.3h.6M267.5 73.4h.6M267.2 77h.6M267 73.4h.6M263.7 66.1h.6M267.2 70h.6M253.7 67.2h.6M267.4 70.2h.6M257.3 66.3h.6M267.1 73h.6M268 74.1h.6M267.7 76.7h.6M258.1 66.6h.6M266.8 67.3h.6M248.3 67.5h.6M267.2 70h.6M269.1 74h.6M254.9 67.2h.6M268.3 75.4h.6M247.5 68.3h.6M256.8 67.1h.6M255.9 67.1h.6M259.5 66.8h.6M267.4 71.1h.6M267.7 72.4h.6M259.4 66.7h.6M265.2 66.6h.6M267.3 71.9h.6M268.1 71.3h.6M253.4 67.2h.6M258.3 66.5h.6M268.1 69.6h.6M256.5 67.2h.6M264.5 66.2h.6M263.1 66h.6M250.5 65.7h.6M260.8 66.2h.6M254.3 67.2h.6M267.2 74.2h.6M264.2 66.6h.6M267 70.6h.6M267 70.7h.6M267.1 68.5h.6M255.6 66.5h.6M260.1 66.2h.6M264 66.4h.6M267.3 76.4h.6M248 67.9h.6M267.5 75.2h.6M253.6 66h.6M255.6 67.2h.6M260.6 66.4h.6M258.8 66.9h.6M267.3 69.5h.6M267.5 66.7h.6M264.4 66.6h.6M249.6 67h.6M255 65.4h.6M267.2 68.2h.6M267.3 75h.6M261.6 66h.6M265.8 67.1h.6M267.1 75.1h.6M267.5 75.7h.6M257.4 67.1h.6M267.5 74.5h.6M256.1 67.2h.6M268.3 70.3h.6M267.9 71.3h.6M61 118.4h.6M53.8 110.6h.6M55.9 124.3h.6M42.6 110.1h.6M46.8 109.4h.6M56.4 125.5h.6M45.8 128.2h.6M48.4 126.7h.6M59.9 119h.6M44.7 127.4h.6M49.4 126.5h.6M60.6 117h.6M53.8 110.6h.6M54.2 110.6h.6M43.9 127.4h.6M60.2 117.5h.6M47.3 127.4h.6M58.9 124.2h.6M57.1 124.4h.6M48.2 109h.6M54.9 110.1h.6M41.8 127.5h.6M41.5 109h.6M60.7 115h.6M60.5 117.2h.6M48.3 108.4h.6M59.3 122.6h.6M53.7 108.7h.6M55.3 110.9h.6M43.4 109.6h.6M57.2 112h.6M55.2 125.1h.6M59.9 115.5h.6M42.8 109.7h.6M60.9 117.4h.6M48.8 109.1h.6M56.7 123.8h.6M50.3 108.1h.6M43.7 127.4h.6M60.6 116.4h.6M59.4 119.8h.6M47 127.5h.6M42.1 109.9h.6M54.5 110.7h.6M47.4 108.1h.6M42.9 127.9h.6M50 127.9h.6M42.2 127.4h.6M42.8 127.3h.6M59.2 112.7h.6M46.5 127h.6M56.4 111h.6M55.5 125.2h.6M53.6 110.2h.6M49.8 127.3h.6M55.6 111h.6M55.3 110.7h.6M60.2 115.9h.6M42.6 128h.6M45.8 108.8h.6M49 126.9h.6M51.9 109.4h.6M58.3 112.1h.6M45.3 127.2h.6M59.1 120.5h.6M46.4 127.5h.6M54.4 110.1h.6M50 126.7h.6M56.2 124.9h.6M53.8 125.4h.6M61.1 116h.6M58.5 122.2h.6M54.9 125.4h.6M47.6 127h.6M58.4 123.9h.6M53.6 109.2h.6M60.1 118.1h.6M46.4 109.2h.6M60.1 114.9h.6M44 109.4h.6M42 127.8h.6M58.8 112.5h.6M60.6 116.5h.6M56.9 111.1h.6M62 118.1h.6M49.6 109.6h.6M50.2 126.5h.6M53.2 125.5h.6M59.9 121.4h.6M48.3 127h.6M54.4 110h.6M44.5 109.1h.6M59.3 120.5h.6M56.4 123.9h.6M51.1 126.6h.6M44.1 127.5h.6M43.2 109h.6M50.5 109h.6M59.4 122.7h.6M42.6 109.7h.6M43.4 109.2h.6M48.6 126.8h.6M59.8 118.5h.6M43.6 127.7h.6M60.1 116.7h.6M55.8 110.8h.6M59.8 116.9h.6M54.2 125.2h.6M47.3 126.8h.6M45.9 109h.6M60 117.3h.6M59.4 114.5h.6M60.6 117.4h.6M58.2 112.2h.6M50.1 108.5h.6M58.4 123.2h.6M60 115.4h.6M58.2 124.2h.6M60.4 117.3h.6M52.3 126.1h.6M58.8 112.5h.6M47.1 127.3h.6M58 123.2h.6M60.3 114.8h.6M44.9 127.3h.6M59.8 121.7h.6M52 127.1h.6M58.4 122.2h.6M42.6 110.1h.6M50.1 126.4h.6M60.8 118.6h.6M51.1 127.8h.6M44.9 109.1h.6M50.1 108.1h.6M51.6 126.1h.6M59.8 121.1h.6M45.8 128h.6M45.2 127.4h.6M42 107.8h.6M53.5 110.5h.6M51 109.9h.6M60 113.4h.6M58 111.7h.6M60 115.8h.6M47.5 127.1h.6M50.2 126.6h.6M48.2 127.3h.6M60.4 117.9h.6M59.9 123h.6M72.3 125.8h.6M63.2 129h.6M60.7 127.8h.6M62.9 119.8h.6M58.4 124h.6M70.8 126.7h.6M61.9 120.2h.6M70 121.7h.6M70.4 121h.6M58.8 127.2h.6M63.4 128.6h.6M62.8 120.1h.6M60.2 120.2h.6M59.2 122.3h.6M62.7 118.6h.6M59.6 121.2h.6M58.4 125.3h.6M60.1 121.7h.6M62.6 119.8h.6M58.4 124.5h.6M60.1 120.8h.6M70.7 126.7h.6M58.8 126.3h.6M67.3 120.3h.6M65.1 120h.6M59.7 121.4h.6M69.7 120.8h.6M60.7 128h.6M59.2 127.6h.6M67.9 120.5h.6M64.6 128.8h.6M58 124.2h.6M71.3 126.7h.6M58.2 125.7h.6M69.3 127.8h.6M61 128.5h.6M58.8 126.8h.6M62.8 120.2h.6M62.6 120h.6M70.5 120.7h.6M60.8 120h.6M68.9 128.7h.6M58.5 125.6h.6M61.2 128.3h.6M59.5 121.1h.6M62.8 120.4h.6M63.5 119.9h.6M68.9 120.7h.6M71.5 126.2h.6M92.2 115.9h.6M91.9 116.4h.6M89.3 111.2h.6M91.7 120.2h.6M83.1 122.4h.6M90.6 112.6h.6M87.2 124h.6M91.4 119.9h.6M91.6 114.6h.6M87.3 110.2h.6M91.8 120.1h.6M82.4 112.5h.6M86.9 124.6h.6M81.1 121.2h.6M85.7 125.7h.6M85.8 124.8h.6M82.6 112h.6M83.9 124.2h.6M91.5 117.9h.6M83.8 123.1h.6M88.7 124h.6M84.1 111.5h.6M89.9 123.1h.6M89.9 112.4h.6M90.5 112.6h.6M81.2 119.1h.6M81.5 116.8h.6M90.2 122.7h.6M87.5 123.9h.6M90.3 122.7h.6M87.9 124h.6M81.8 120.8h.6M82.4 122.7h.6M84 123.2h.6M83.8 111h.6M92.7 117.1h.6M85.4 124.3h.6M81.3 113.7h.6M81.2 121.8h.6M87 124.1h.6M89.9 123h.6M85.2 123.9h.6M86.4 125.3h.6M86 124.4h.6M91.7 117.4h.6M81.1 114.9h.6M92.1 116.3h.6M91.5 116.1h.6M82.3 113.7h.6M91.9 113.2h.6M92.9 115.7h.6M91.4 121.9h.6M91.3 121.5h.6M81.5 115.4h.6M83.1 112.3h.6M85.8 124.8h.6M91.7 114.1h.6M82.1 113.5h.6M92.5 109.2h.6M95.3 128.6h.6M101.9 128.8h.6M92.1 110.1h.6M91.3 121.6h.6M91.3 114.4h.6M93.8 107.8h.6M93.6 108.8h.6M93.4 127.4h.6M103.6 109.7h.6M94.1 105.9h.6M91.2 119.7h.6M105.7 120.1h.6M91.1 116.5h.6M97.7 106.6h.6M95.7 107.4h.6M107.1 120.8h.6M89.2 118.2h.6M101.2 107h.6M91 116.6h.6M100.3 107.2h.6M91.3 117.8h.6M91 121.3h.6M103 126h.6M91.6 121.1h.6M91.3 112.4h.6M104.1 109.7h.6M102.7 108.5h.6M106.2 117.9h.6M95 107.7h.6M91.5 113.3h.6M93.1 109.2h.6M91.5 110.1h.6M99.6 128.6h.6M102.6 126.7h.6M106.6 113.6h.6M101 107.3h.6M91.8 113.5h.6M100.8 128.5h.6M95.8 107.4h.6M100.1 129.1h.6M101.1 107.3h.6M105.4 111.7h.6M96 107.2h.6M104.9 124.4h.6M98.8 106h.6M95.8 128.7h.6M92.5 110h.6M105.8 117.9h.6M95.3 107.8h.6M98.3 106.5h.6M95.7 106.1h.6M105.9 118h.6M94.2 107.5h.6M92.2 111.9h.6M105.6 120.8h.6M105 113h.6M105.3 116.3h.6M91.2 122.4h.6M104.8 113.1h.6M105.1 112.8h.6M90.5 117.5h.6M92.1 111.2h.6M104.7 111.9h.6M89.8 119.6h.6M94.2 107.9h.6M106 117.6h.6M104.1 124.6h.6M104.5 110.1h.6M105.6 120.7h.6M91.4 110.7h.6M104.1 108.7h.6M105.4 123h.6M91.5 120.7h.6M105.1 123.1h.6M92.6 111.2h.6M104.1 108.2h.6M92.8 125.5h.6M91 110h.6M99.2 106.8h.6M99.8 105.8h.6M93.1 109.3h.6M92.4 125.3h.6M94.4 106.6h.6M91.7 113.2h.6M105.8 112h.6M101.9 127.7h.6M104.5 123.2h.6M102 107.2h.6M91 120.8h.6M97.6 106.5h.6M105.6 116.5h.6M102.5 108.5h.6M104.5 124.6h.6M90.7 118.5h.6M91.7 124.2h.6M90.6 120.3h.6M100.8 106.7h.6M104.5 110.8h.6M97.5 106h.6M101 107.1h.6M91 122.6h.6M100.4 105.5h.6M105.8 118.6h.6M97.2 128.8h.6M92.1 112.4h.6M92.6 110.6h.6M91.3 117.1h.6M103.7 110.6h.6M105.7 122h.6M103.8 125.6h.6M104.7 113.1h.6M104.3 109.5h.6M91.1 117.6h.6M91.3 120.6h.6M105.4 116.1h.6M94.3 108.2h.6M94.9 128.3h.6M92 111.2h.6M99.2 105.6h.6M103.6 108.8h.6M101.4 106.3h.6M104.5 126.1h.6M91.2 118.4h.6M103.2 125.9h.6M103.5 110.2h.6M105.7 112.7h.6M99.2 106.5h.6M89.3 116.6h.6M101.2 107.1h.6M93.5 126.2h.6M104.4 112.2h.6M100.5 106.8h.6M97.4 105.5h.6M105.5 114.8h.6M97.9 106.7h.6M105.8 117.4h.6M106.2 122.1h.6M139.8 115h.6M143.4 117.7h.6M133.3 113.9h.6M127.2 111.7h.6M144.5 122.3h.6M129.8 113.4h.6M145.2 126.1h.6M140.6 114.5h.6M130.7 112.9h.6M134.9 113.7h.6M125.3 114h.6M143 117.3h.6M125.7 113.2h.6M142.6 116.3h.6M126 113.4h.6M142.3 116.2h.6M145 123.6h.6M140.3 114.9h.6M137.3 114.3h.6M128.2 113.5h.6M134.5 113.5h.6M144 120.7h.6M143.7 116.9h.6M132.5 112.4h.6M130.4 112.3h.6M125.6 113.4h.6M134.9 113.2h.6M143.8 127.1h.6M137.6 114.6h.6M127.6 113.4h.6M139 114.9h.6M144 122.3h.6M125.8 113.6h.6M139.7 115.1h.6M144 122.1h.6M143.6 117.7h.6M138.5 114h.6M143.8 123.1h.6M130.8 113.4h.6M143.9 116.4h.6M130.6 113.5h.6M144.3 119.8h.6M125.8 112.9h.6M132.6 113h.6M136.3 113.5h.6M144.6 120.5h.6M125.2 113.5h.6M131.4 113.8h.6M124.5 113.5h.6M144 123.3h.6M144.2 120.8h.6M143.5 123.6h.6M145.4 125.1h.6M143.9 119.4h.6M142.8 117.1h.6M140.2 113.9h.6M144.5 120.9h.6M143.7 123.1h.6M134 113.8h.6M136.9 114.4h.6M144.2 121.5h.6M125.1 114h.6M139.4 115.1h.6M140.7 115.6h.6M143.5 125.3h.6M125.5 113.2h.6M124.9 114.1h.6M144.3 124h.6M144.8 122.5h.6M132.8 113.3h.6M140.4 114h.6M138.8 114.9h.6M144.3 122.7h.6M143.3 118.1h.6M143.9 125.4h.6M144.7 120.8h.6M144 120.9h.6M143.6 124.1h.6M144.2 122.6h.6M128.4 112.3h.6M125.7 113h.6M144.6 120.5h.6M144 117.5h.6M129.8 111.7h.6M144.2 120.7h.6M134.6 113.9h.6M130.2 113.6h.6M136.1 113.7h.6M144.4 119.1h.6M135.5 113.6h.6M138.7 114.5h.6M144 126.6h.6M130.3 112.1h.6M130.7 113.6h.6M141.4 115.6h.6M139.3 114.6h.6M135.3 114.3h.6M133.1 113.5h.6M143.8 117h.6M132.6 112.9h.6M144.1 124.7h.6M131.4 112.8h.6M144.5 125.9h.6M144 126.4h.6M125.9 113.6h.6M132.5 112.4h.6M132.7 113.7h.6M144.8 125.4h.6M130.7 113.7h.6M144.2 123.2h.6M129.9 112.9h.6M135.5 113h.6M140 113.2h.6M137.3 113.6h.6M144.3 119.7h.6M136.3 114.2h.6M134 113.5h.6M144 118.8h.6M143.8 124.2h.6M138.9 113.9h.6M142.7 117h.6M132.9 113.1h.6M169.5 123.2h.6M176.3 124.8h.6M169.2 123.1h.6M179 123.3h.6M179.3 115.2h.6M176.2 111.6h.6M172.2 111.7h.6M176.4 112.1h.6M178.4 112.6h.6M170.5 125.1h.6M171.4 111.7h.6M179 123.2h.6M177.7 112h.6M179.9 119.1h.6M170.1 112.5h.6M170.3 124.3h.6M180.4 122.8h.6M170.6 124h.6M171 125.1h.6M179 122.9h.6M179.7 120.8h.6M178.4 112h.6M173.7 125.8h.6M170 111.5h.6M176.4 124.8h.6M176.5 111.9h.6M176.8 124.6h.6M174.5 125.8h.6M169.8 112.1h.6M179 122.9h.6M171.5 125.6h.6M180 113.8h.6M171.1 125.3h.6M180.1 119.6h.6M171.5 124.8h.6M172.7 110.4h.6M170.9 111.9h.6M170.4 123.9h.6M178.1 124.9h.6M170.4 112.5h.6M179.7 122.4h.6M180 122.6h.6M171 124.5h.6M174.5 111.5h.6M169.8 123.6h.6M173.2 111.6h.6M180.9 117.6h.6M177.6 125h.6M170 111.7h.6M180.8 118.3h.6M176.9 111.7h.6M179.5 114.9h.6M171.4 125.1h.6M173.1 111.5h.6M169.5 123.2h.6M169.3 113.5h.6M175.3 111.3h.6M180.1 115.3h.6M180 115.9h.6M180.3 124h.6M175.4 126.1h.6M178 123.9h.6M176.9 112h.6M180.6 116.4h.6M176.9 112.2h.6M180 121.4h.6M169.6 111.8h.6M179.8 117.3h.6M179.9 122.3h.6M175.1 125.9h.6M181.7 126.6h.6M182 116.4h.6M181.6 126.6h.6M184.2 127.3h.6M181 117.9h.6M188.3 124.8h.6M189.4 119.5h.6M178.8 122.3h.6M188.5 125.3h.6M188.5 120.3h.6M179.4 119.3h.6M181.5 116.1h.6M179.7 123.4h.6M178.6 124.2h.6M186.9 125.8h.6M180.9 125.6h.6M182.5 116.1h.6M190.4 121.9h.6M181.1 117.1h.6M189.3 124.4h.6M183.4 116h.6M188.8 122.6h.6M188.2 116.9h.6M179.9 121.3h.6M179.5 120.3h.6M186.1 115.8h.6M185.2 127.1h.6M179.5 123.8h.6M179.4 120.4h.6M188.4 123h.6M182.5 126.7h.6M186.5 116h.6M180.4 124.7h.6M186.7 126.4h.6M179.8 124h.6M179.9 124.4h.6M180 123.3h.6M188.7 121.9h.6M179 123.9h.6M186.8 126.2h.6M188.4 120h.6M217.9 107.8h.6M209.1 113.8h.6M218.1 114.1h.6M218.6 114h.6M214 116.6h.6M219 110.8h.6M210.1 108.5h.6M208.9 114.9h.6M211.2 107.2h.6M217.3 108.9h.6M217.3 115.2h.6M218.7 110.3h.6M212.3 106.8h.6M212.8 116.4h.6M209.2 114.5h.6M217.7 114.3h.6M210.7 107.4h.6M215.4 116.3h.6M209.7 114.7h.6M211.5 106.3h.6M209.8 114.9h.6M215.6 116h.6M218.5 109.3h.6M218.2 111.3h.6M216 116h.6M216.5 106.1h.6M210.1 108.4h.6M217.5 114.2h.6M209.9 116h.6M216.7 115.6h.6M218.2 111.9h.6M209.4 108h.6M215.8 117h.6M218.6 111.1h.6M209.8 114.8h.6M210.9 116.6h.6M219.7 123.3h.6M227.4 116.9h.6M224.1 127.2h.6M224.2 127.2h.6M227.5 126.5h.6M229.6 124.2h.6M220.5 116.5h.6M226 126.9h.6M219.5 124.6h.6M225.2 127.2h.6M217.8 121.3h.6M220.9 126.6h.6M219.2 121h.6M228.6 117.8h.6M223 115.8h.6M225.7 127.9h.6M225.7 114.6h.6M225.4 115.9h.6M223 115.9h.6M228.2 117.1h.6M218.8 120.7h.6M220.6 116.9h.6M219.9 124.1h.6M225.7 127h.6M221.3 116.7h.6M220.4 117.2h.6M229.6 121.9h.6M223.8 114.9h.6M227.5 116.8h.6M228.3 125.9h.6M229 125.1h.6M219.2 121.6h.6M223.8 127.6h.6M220.6 126.1h.6M223.1 127.2h.6M229.6 120.4h.6M225.3 128.2h.6M229.8 120h.6M220.3 126.2h.6M219.3 118.8h.6M227.2 126.8h.6M219.8 124.8h.6M227.9 116.3h.6M224 115h.6M221.8 116.5h.6M227.6 126.2h.6M231.2 120.4h.6M219.7 119.7h.6M227.6 115.7h.6M219.9 119.2h.6M252.2 109.5h.6M267.2 113.3h.6M266.9 126.4h.6M250.1 110.2h.6M255.9 109.9h.6M266.3 118.6h.6M262.2 109.7h.6M246.7 109.5h.6M248.6 110.5h.6M252.1 108.6h.6M266.3 125.9h.6M249.9 110.2h.6M267.4 113.5h.6M266.4 111.3h.6M266.4 125h.6M267.5 125.9h.6M249.3 109.7h.6M267.5 125.3h.6M246.9 111.6h.6M268.1 113.9h.6M266.4 125.8h.6M248.6 109.7h.6M249.1 110.7h.6M267.1 120.3h.6M259.3 109.4h.6M266.4 117h.6M254.3 110.2h.6M248.3 110.4h.6M266.5 118h.6M248.4 110.7h.6M267 126h.6M248.6 109.7h.6M267.1 112.1h.6M250.9 110.3h.6M267.8 121.2h.6M266.9 117.4h.6M247.6 111.1h.6M252 109.4h.6M248.5 110.4h.6M257.6 110.3h.6M267.1 120.5h.6M250.6 110.2h.6M267.3 118.1h.6M267.4 113.6h.6M248 110.7h.6M254.5 109.5h.6M248.7 109.1h.6M251.8 109.8h.6M267.4 117.2h.6M254.3 109.6h.6M253.2 110.2h.6M265.9 112.3h.6M259 110.1h.6M260.3 109.7h.6M262.6 109.8h.6M266.5 126.9h.6M259.9 110.1h.6M262.7 109.4h.6M252.1 109.8h.6M255.9 109.4h.6M266.5 126h.6M266.9 123.7h.6M267.5 123.7h.6M258.5 110h.6M266.8 122.5h.6M260.9 109.1h.6M254.2 110.4h.6M264.9 110.3h.6M267.1 119h.6M253.6 110.2h.6M266.3 115.7h.6M251.2 110h.6M266.4 125.9h.6M249.9 110.2h.6M266.5 110.7h.6M259.5 108.7h.6M261.3 109.1h.6M267.5 121.8h.6M247 110.8h.6M266.4 122.9h.6M261.1 109.8h.6M266 112h.6M262.8 109.6h.6M267.8 125.2h.6M266.8 119.2h.6M266.2 122.6h.6M266.8 117.8h.6M264.8 110.5h.6M267.3 122h.6M266.2 114.7h.6M266.3 115.5h.6M265.5 110.2h.6M248.6 110h.6M253.3 110.3h.6M250.8 110.1h.6M267.1 114h.6M266.2 125.5h.6M266.3 122.9h.6M247 111h.6M252.4 110.3h.6M260.1 110h.6M251.9 110.3h.6M264.7 110.5h.6M267.1 114.2h.6M259.9 109.7h.6M266.5 124.1h.6M250.7 109.1h.6M260.8 108.8h.6M266.3 122.7h.6M266.2 125.5h.6M266.4 125.2h.6M267 119.2h.6M266.8 119h.6M264.1 110.1h.6M266.5 117.4h.6M267.3 116.2h.6M264.9 108.8h.6M261.3 109.9h.6M267.3 117.6h.6M248 111.1h.6M254.8 109.7h.6M252.5 110.3h.6M248.9 110.5h.6M266.9 122.8h.6M262.9 110h.6M266.6 114.6h.6M248.3 109.9h.6M266.4 125.6h.6M266.4 120.7h.6M247.1 111.2h.6M254.7 108.5h.6M260.1 109.2h.6M266.5 121.2h.6M266.2 117.8h.6M48.3 168h.6M43.1 159.7h.6M45.1 167.6h.6M46.1 157.2h.6M53 159.6h.6M52 159.7h.6M52.2 164.9h.6M51.7 165h.6M48.3 168.5h.6M50.3 167.4h.6M52.5 164.3h.6M54.1 164.2h.6M44.1 157.4h.6M44.8 156.7h.6M49.1 157.5h.6M46.8 156.9h.6M51.7 160.3h.6M43.5 166.4h.6M51.6 157.2h.6M46.7 167.5h.6M52.1 166.3h.6M52.3 165.3h.6M46.4 167.4h.6M50.8 167.3h.6M47.8 157.3h.6M48.5 168.1h.6M45.6 156.7h.6M52.3 160.1h.6M52.4 158.9h.6M46 157.7h.6M45.5 157.9h.6M51.1 159.3h.6M52.5 160.5h.6M44.1 158.2h.6M48.7 168h.6M52.4 164.6h.6M42.9 161.1h.6M50.9 158.4h.6M50.3 158.2h.6M46.9 157.5h.6M49.1 167.9h.6M52.6 164.6h.6M61.4 165.8h.6M53 161.1h.6M59.3 167.2h.6M53.2 165.3h.6M53.5 160h.6M63.3 165.1h.6M59 167.8h.6M61.5 165.9h.6M53.1 165.3h.6M63.6 163.3h.6M58.9 167.5h.6M63.2 164.8h.6M53.1 160.2h.6M56.7 157.3h.6M63.1 162.5h.6M63 160.7h.6M59.4 156.9h.6M53.3 159.5h.6M52.9 161.7h.6M55.1 156.6h.6M55.7 157.8h.6M56.7 158h.6M56.5 167.1h.6M52.7 164h.6M55.2 166.9h.6M62.8 162.1h.6M57.8 157.8h.6M60.2 158.3h.6M57.5 167.5h.6M53.2 167.6h.6M63.1 166.2h.6M53.6 158.5h.6M61.7 167.6h.6M63.7 160.8h.6M62.9 161.4h.6M54 158.2h.6M62.5 160.3h.6M54 166.9h.6M96.5 154h.6M82.9 155.3h.6M99.5 156.8h.6M83.4 154.7h.6M98.1 154.2h.6M100.7 168.2h.6M101.3 163.9h.6M100.7 167.9h.6M100.8 159.3h.6M86.7 153.3h.6M94.6 154.1h.6M87.6 154.3h.6M94.8 153.6h.6M94.4 154.2h.6M83.8 154.2h.6M93.9 153.7h.6M98.6 153.9h.6M100.4 157.3h.6M96.3 154.6h.6M85 153.2h.6M82.5 154.5h.6M101.4 162.7h.6M95.3 154.4h.6M98.1 154.6h.6M83.8 153.4h.6M85.1 154.2h.6M90.4 153.9h.6M100.3 157.5h.6M96.4 154.7h.6M100.8 167.4h.6M92.4 153h.6M91.8 153.2h.6M98.7 155.1h.6M89.1 153.2h.6M96.3 153.1h.6M92.3 153.7h.6M101 162.7h.6M100.4 160.8h.6M83.5 154h.6M96.9 154.2h.6M100.3 165.4h.6M84.3 154.6h.6M86.4 154.2h.6M100.6 168.4h.6M98.6 155.4h.6M98.4 154.4h.6M96.8 153.8h.6M84.2 154.5h.6M99.1 155h.6M99.4 156.3h.6M83.5 155.1h.6M97.3 154.7h.6M98.8 155.3h.6M82.8 155.1h.6M99.8 155.4h.6M94.4 154.2h.6M101 163.1h.6M94 153.8h.6M88.4 153.4h.6M91.9 153.5h.6M101.2 165.3h.6M100.5 159.3h.6M100.4 161.4h.6M89 153.7h.6M93.5 154.1h.6M101.5 166.9h.6M101.8 165.6h.6M98.1 154.8h.6M82.5 154.8h.6M87 153.7h.6M93.7 153.9h.6M88.9 153h.6M92.8 153.9h.6M100.3 161.1h.6M102 162.6h.6M100.8 164.4h.6M100.2 162.4h.6M83 154.8h.6M92 153.9h.6M91.9 153.4h.6M85.5 152.9h.6M100.2 163.5h.6M99.2 156.1h.6M98.5 155.6h.6M94.3 152.9h.6M83.8 154.7h.6M101.4 166.1h.6M97.8 155.3h.6M100.6 160.5h.6M93.4 154h.6M99.5 154.7h.6M96.2 154.3h.6M99.9 155.8h.6M87.6 153.9h.6M101.4 161.6h.6M94.6 153.7h.6M100.7 167.3h.6M100.2 159.1h.6M101.8 168.4h.6M100.6 164.2h.6M135.1 165.5h.6M131.8 157.2h.6M129.2 157.1h.6M135.9 162.1h.6M132.4 157.9h.6M133.7 157h.6M128.5 158h.6M134.6 156.3h.6M135.6 160.2h.6M131.2 158.2h.6M135.8 167.6h.6M130.2 157.6h.6M135.2 160.9h.6M131.5 157.2h.6M130.7 158.2h.6M135.3 166.6h.6M136.1 162.2h.6M135.6 166.6h.6M136.5 159.3h.6M135.1 162.7h.6M135.4 158.3h.6M136 167.6h.6M136 165.5h.6M135.8 159.8h.6M135.3 165.9h.6M135.4 168h.6M136.5 161.9h.6M128.1 158.9h.6M130.8 157.7h.6M131.7 157.5h.6M135 164.3h.6M136.2 160.9h.6M133.5 157.5h.6M135.8 161.5h.6M135.3 163.7h.6M135.1 157.7h.6M146.8 157.2h.6M134.9 162.4h.6M147.6 156.8h.6M149 157h.6M134.7 163.7h.6M148.9 163.7h.6M146.9 157.2h.6M145.3 156.3h.6M149.6 164.8h.6M142.9 157.1h.6M134.6 157.6h.6M148.4 163.9h.6M149 165.3h.6M148.1 166.1h.6M135 165.5h.6M148.1 162.4h.6M149 160.9h.6M144.7 156.8h.6M138.5 157.2h.6M134.7 159.8h.6M148.1 160.5h.6M139.8 157.5h.6M146.9 157h.6M146.9 155.8h.6M148.5 160.9h.6M148.3 166.6h.6M141.1 157.2h.6M133.7 167.6h.6M136.2 156.5h.6M134 159.3h.6M134.4 165.6h.6M134 160.4h.6M134.8 158.9h.6M133.7 162.6h.6M142.2 156.7h.6M136.7 156.1h.6M134.8 158.3h.6M134.7 159.9h.6M133.7 161.1h.6M148 160.5h.6M134.6 166h.6M148.4 166.1h.6M148.3 160.5h.6M133.1 161h.6M144.7 156.5h.6M134.6 164.9h.6M137.3 155.7h.6M148.4 158.6h.6M146 156.2h.6M134.7 162.7h.6M148.4 168h.6M140.2 157.5h.6M148.6 162h.6M148.7 165.3h.6M146 154.9h.6M148.3 160.3h.6M134.9 165.2h.6M133.9 159.6h.6M133.5 160.4h.6M145.2 156.1h.6M133.9 166.8h.6M134.3 167.5h.6M137 157.7h.6M148.3 167.9h.6M149.3 167.4h.6M134.2 161.1h.6M135 166h.6M146.6 154.9h.6M134.9 161h.6M174.5 138.6h.6M183.3 146.4h.6M185.5 148.5h.6M172.8 162.5h.6M175.9 162h.6M187.5 155.5h.6M182.1 161.6h.6M170 139.8h.6M184.5 145.9h.6M187.5 158.1h.6M174.1 162.4h.6M186.8 150.6h.6M182.3 145.7h.6M183.1 145.1h.6M181.2 142.2h.6M175.3 162.1h.6M186 149.4h.6M187.1 159.3h.6M176.9 162.1h.6M173.3 162h.6M171.3 137.5h.6M176.4 138.8h.6M186.1 150h.6M178.7 139.5h.6M180.3 140.5h.6M180.2 163h.6M184.7 148.2h.6M182.3 144.6h.6M180.7 143h.6M176.2 162.4h.6M176.6 162.7h.6M186 160h.6M187.2 153.4h.6M181.9 145.3h.6M181.1 140.5h.6M172.4 162.1h.6M178.8 162h.6M185.9 159.9h.6M170.1 162h.6M176.1 139h.6M183 162.2h.6M185.4 161.5h.6M179.7 162.7h.6M185.8 149.5h.6M171.2 139.2h.6M171.3 139.7h.6M181.5 140.7h.6M182.5 145h.6M186 162.6h.6M172.6 138.4h.6M178.6 162h.6M172.8 162.4h.6M187.6 152.9h.6M179.7 139.7h.6M172.3 163.6h.6M186.7 158.4h.6M187.6 149.7h.6M185.7 161.1h.6M185.1 148.4h.6M172.1 162.4h.6M172.1 138.5h.6M173.7 163.8h.6M181.5 140.3h.6M178.9 162.4h.6M187.5 155.5h.6M184.8 161.1h.6M184.7 147.8h.6M181.7 145.6h.6M177.9 162.4h.6M185.7 147.4h.6M183.2 161.7h.6M188.1 155.8h.6M187.8 151.2h.6M176.2 138.1h.6M172.7 137.3h.6M187.5 156.2h.6M176 138.4h.6M186.4 160.6h.6M185.9 148.8h.6M184 161.7h.6M178.2 139.2h.6M174.7 139h.6M182.3 161.9h.6M171 162h.6M175.2 138.7h.6M182.8 145.2h.6M187.7 155.6h.6M177.4 139h.6M181.2 144.2h.6M170.2 162.6h.6M181.9 144.8h.6M187.7 151.1h.6M187.7 151.4h.6M174.6 138.7h.6M173.9 138.8h.6M186.2 149.8h.6M187.7 150.7h.6M173.7 162.8h.6M186.4 159h.6M180.5 140.8h.6M184.8 147.3h.6M185 146.9h.6M174.4 138.6h.6M180.8 143.6h.6M187.2 150.9h.6M181.2 162.6h.6M183.2 144.7h.6M188.2 157.5h.6M181.5 161.6h.6M181.3 162.1h.6M180.3 142.1h.6M186.5 149.6h.6M184.4 161.3h.6M179.1 163.3h.6M181.1 140.2h.6M184.9 161.4h.6M183.7 146.5h.6M178.4 162.1h.6M187.7 154.9h.6M177.1 162.3h.6M177.5 138.1h.6M177.9 163h.6M187.4 153.1h.6M170.2 139.8h.6M186.4 150.3h.6M172.6 139.2h.6M178 138.5h.6M180.8 162.2h.6M179.8 140h.6M177.4 162.9h.6M182.2 145.6h.6M171.6 138.6h.6M184.4 161.3h.6M172 163h.6M185.9 159.5h.6M170.2 140h.6M185.4 149h.6M187.8 156.4h.6M187.2 150.9h.6M175.1 138.9h.6M173.9 138.9h.6M182 145.8h.6M184.4 161.8h.6M182.8 161.6h.6M179.3 162.8h.6M171.8 163.5h.6M178.1 139.4h.6M187.1 149.3h.6M173.4 138.6h.6M177.8 139.3h.6M179.5 140h.6M174.9 162.9h.6M187.2 159.4h.6M184.6 146h.6M171.2 138.5h.6M180.6 140.8h.6M181.9 163.2h.6M185.2 160.7h.6M176.7 162.4h.6M187.8 155.8h.6M180.4 162.5h.6M179.1 139.8h.6M185.6 148.3h.6M185.9 160h.6M177 162.1h.6M184.3 147.6h.6M187.3 152.4h.6M186 160.1h.6M181.4 143.5h.6M171.7 162.1h.6M176.1 138.2h.6M177.9 162.2h.6M187.4 148.3h.6M188 152.7h.6M187.2 153h.6M178.5 162.7h.6M187.4 154.1h.6M185.6 146.9h.6M180.7 141.9h.6M187.2 153.4h.6M172.4 139.2h.6M232.9 157.4h.6M220.1 156.8h.6M226.4 154.4h.6M233.7 161.3h.6M218.9 164.1h.6M218.5 159.5h.6M229.9 155.7h.6M228.6 155.7h.6M218.7 165.3h.6M233.9 161.9h.6M234.7 165.1h.6M218.9 166.7h.6M218.9 162.6h.6M217.6 163.6h.6M233.9 158.7h.6M224.6 154.2h.6M233.7 164.8h.6M223.2 154.6h.6M233.3 160.6h.6M235.3 162.7h.6M218.4 165.5h.6M217.5 159.5h.6M230.8 156.2h.6M231.2 155.5h.6M225.8 153.7h.6M227.4 154.7h.6M217.9 158.7h.6M223 155.2h.6M220 156.9h.6M233.3 165.7h.6M223.1 154.7h.6M218.8 166.3h.6M232.3 157.1h.6M227.7 154.8h.6M233.4 165.1h.6M222 155.8h.6M233.2 162.2h.6M222.2 155.8h.6M225.7 153.8h.6M231.1 155.6h.6M226.6 153.5h.6M232.5 157.2h.6M218.9 156.9h.6M225.5 153.5h.6M232.4 157.7h.6M218.5 161.4h.6M233.4 158.5h.6M229.7 156.1h.6M231.9 156.5h.6M219 166.7h.6M219.7 156.6h.6M218.9 164h.6M232.4 158.1h.6M233.7 161.2h.6M233.2 166.4h.6M228.7 154.6h.6M226.9 154.2h.6M218.9 161.5h.6M225.7 153.7h.6M234.5 163.3h.6M217.2 162.6h.6M231.7 156.1h.6M233.9 165.7h.6M230.7 156.1h.6M222.7 154.2h.6M218.4 159.6h.6M229.8 155.6h.6M218.9 162.2h.6M218.9 158h.6M232.3 156.5h.6M230.5 154.9h.6M217 163.6h.6M234.1 161h.6M234.3 165h.6M223.8 153.3h.6M234.9 164.9h.6M220.9 156.1h.6M225.6 154h.6M218.7 166.1h.6M233.3 159h.6M233.4 162.3h.6M234.1 160.4h.6M219 162.8h.6M218.6 161.6h.6M228.2 155.1h.6M218.5 164.7h.6M256.6 156.6h.6M264.8 166.2h.6M263.9 156.4h.6M261.2 166.7h.6M264.4 156.2h.6M267.5 165.9h.6M257.9 166.4h.6M269.3 160.5h.6M267 156.7h.6M266.4 165.3h.6M268.9 160.7h.6M248 157.5h.6M262.3 155.8h.6M269 162.3h.6M266.6 165.9h.6M259.6 166.3h.6M258.4 166.4h.6M262.9 155h.6M268.7 164h.6M255.9 157.1h.6M253.9 157.3h.6M265.5 156.2h.6M269.4 159.5h.6M251.4 166.8h.6M260.9 166.5h.6M263.9 155.2h.6M256.1 157h.6M262 165.9h.6M258.2 166.5h.6M253.5 167h.6M269.1 161h.6M266.7 156.9h.6M259.9 156.8h.6M264.4 165.9h.6M255.7 156.8h.6M254 167h.6M251 157.2h.6M250.8 166.5h.6M266.9 165.6h.6M269.2 160.8h.6M269.8 162.2h.6M266.7 156.7h.6M261 156.7h.6M251.6 156.3h.6M265.4 156h.6M264.5 156.5h.6M255.9 156.7h.6M268.9 161.4h.6M257.7 156.2h.6M250.2 156.6h.6M250.4 157.3h.6M260.9 156.8h.6M262.3 154.8h.6M250.1 166.6h.6M260.6 156.6h.6M253.4 157.3h.6M269.1 157.3h.6M269.5 164.7h.6M261.2 166h.6M257.8 166.6h.6M264.8 166.3h.6M264.7 156.2h.6M267.7 165.3h.6M254.5 166.7h.6M268.4 158.6h.6M259.7 166.2h.6M261.5 156.7h.6M250.1 166.9h.6M254.6 166.5h.6M256.9 155.8h.6M268.7 160.1h.6M259.7 166.5h.6M265.8 166.3h.6M256.2 166.2h.6M264.4 166.1h.6M267.8 156.6h.6M270.3 164.1h.6M256.7 156.9h.6M262.2 155.8h.6M268.4 158h.6M252.4 166.7h.6M250.3 157.1h.6M256.5 157.2h.6M270.2 161.2h.6M268.6 160.3h.6M266.8 155.2h.6M253.2 156.9h.6M266.4 166.9h.6M268.8 162.1h.6M269.2 160.2h.6M270.1 162.8h.6M258.4 166.7h.6M265.4 155.7h.6M258.5 157h.6" stroke="#000" stroke-width=".65" stroke-opacity=".45"/>
<path d="M48.3 20h.6M49.1 17.6h.6M46.8 19.2h.6M49.5 14.8h.6M47.1 16.9h.6M47.9 16.9h.6M44.1 16.5h.6M50.9 18h.6M50.8 22.1h.6M44.7 20.1h.6M42.1 24.3h.6M48.3 15.2h.6M61.8 20.9h.6M64.4 18.1h.6M68.5 22.7h.6M54.2 25.5h.6M68 18.3h.6M65.1 26h.6M91.8 14.5h.6M88.9 20.7h.6M84.6 18.8h.6M90.5 20h.6M87 21.4h.6M91.3 16.1h.6M86 21.4h.6M90 17.9h.6M91.9 22.8h.6M88.8 17.4h.6M84.7 14.1h.6M87.1 17.9h.6M93.5 17.4h.6M107.6 25.2h.6M98.5 15.6h.6M108.8 27.6h.6M105.7 24.2h.6M104.3 18.1h.6M102 14h.6M97.8 16.8h.6M130.4 19.4h.6M127.7 18.1h.6M133.3 14.8h.6M125.4 18.6h.6M125.9 21.8h.6M133.6 22.2h.6M129.5 20.2h.6M127.8 20h.6M131.1 18h.6M126.1 16.3h.6M134.5 23h.6M147 16.9h.6M144.9 21.5h.6M136.6 16.2h.6M148.6 28.7h.6M139.6 23.5h.6M142.2 22.5h.6M140.1 22.4h.6M172.5 19.4h.6M172.2 24.4h.6M177.4 20.6h.6M176.3 21.6h.6M171.3 24.9h.6M169.5 20.7h.6M175.6 23.9h.6M175.4 23.3h.6M175.8 23.8h.6M174.7 16.7h.6M190.8 20.9h.6M190 24h.6M194.8 26.6h.6M191.3 25.3h.6M191.1 25.9h.6M194.6 24.2h.6M187.4 25.8h.6M181.7 19.9h.6M212.3 19.9h.6M215.6 19.3h.6M218 15.8h.6M217.1 17.9h.6M217.5 20.1h.6M214 17.2h.6M209.3 14.5h.6M215.3 15.7h.6M210.6 19.8h.6M215 14.4h.6M231.3 27.9h.6M231.4 15.6h.6M236.3 17h.6M219.4 26.7h.6M225.1 14.3h.6M235 25.9h.6M224.4 25.9h.6M223.5 22h.6M237 14.1h.6M219.4 27.3h.6M260.4 14.9h.6M268.7 17.2h.6M257.9 27.2h.6M265.2 22.9h.6M258.2 18.5h.6M255.1 24.7h.6M266.7 26.8h.6M265.6 18h.6M258.9 14.5h.6M259.3 15.9h.6M268.5 19.8h.6M263.8 17.4h.6M46 61.6h.6M47.8 65.7h.6M50.4 56.9h.6M49.6 60.2h.6M49.9 58h.6M51.3 53.5h.6M42.5 54.9h.6M51 65.4h.6M45.6 64.5h.6M50 61.7h.6M51.2 55.3h.6M50.5 58.5h.6M44.1 55.2h.6M42.8 54.7h.6M48.2 64.4h.6M42 53.9h.6M47.6 59.7h.6M49.9 58.1h.6M45 56.4h.6M42.4 60.9h.6M44.4 53.3h.6M50 59.7h.6M51.5 55.1h.6M46.3 56.4h.6M51.6 54.9h.6M67.5 59.5h.6M58.6 54.2h.6M61.4 66.9h.6M69 63.8h.6M59 58.9h.6M53 62.2h.6M103 59h.6M104.3 53.9h.6M98 66.8h.6M96.7 61.2h.6M99.3 65.9h.6M103.2 53.5h.6M105.7 58.4h.6M96.5 54.3h.6M101.3 67h.6M98.3 59.7h.6M96.5 57.5h.6M105.9 57.8h.6M105.7 64.8h.6M101.6 59.5h.6M101.9 55.3h.6M94.9 66.7h.6M105.7 63.6h.6M105.7 66h.6M100.1 57.8h.6M105.4 52.7h.6M99.4 65.5h.6M104.6 67.8h.6M102.3 57.3h.6M104.1 53.5h.6M105.9 55.9h.6M101.9 66.2h.6M105.1 65.3h.6M99.1 63.6h.6M97.3 59.2h.6M102 60.2h.6M95.4 57.4h.6M101.2 66.3h.6M105.6 53.5h.6M104.9 62.1h.6M104.8 64.8h.6M103.9 62.1h.6M94.3 55.8h.6M98.2 61.8h.6M104.4 59.2h.6M96.1 55.6h.6M105.5 60.8h.6M97.8 59h.6M105.1 54.1h.6M100.7 60.6h.6M97.8 61.5h.6M104.1 52.3h.6M97.9 56.1h.6M92.7 53.6h.6M96.4 52.1h.6M93.6 63.5h.6M99.4 58.6h.6M95.7 61.9h.6M94.4 59.2h.6M103.4 57.4h.6M95.1 67.7h.6M91.2 58h.6M87.7 56.4h.6M87.2 65.9h.6M91.4 58.2h.6M89.9 59.6h.6M90.7 55.8h.6M83.2 62.2h.6M88.1 53.1h.6M86.4 56.2h.6M88.9 64h.6M84.2 68.8h.6M83.4 62.2h.6M89.6 57.2h.6M86.6 55.2h.6M83.8 60.8h.6M142.6 62.2h.6M149.7 55h.6M138.9 60.2h.6M142.8 61.4h.6M146.2 53.7h.6M146.9 66.2h.6M147.2 62.2h.6M147.1 53.5h.6M136.9 62.9h.6M134.6 65h.6M143.6 56h.6M138.4 57.4h.6M140.6 60h.6M141.2 60.5h.6M144.8 63.6h.6M141.2 55.2h.6M144.8 54h.6M147.3 66.3h.6M141 66.4h.6M147.2 61.4h.6M148.7 58.6h.6M148.8 65.7h.6M142.1 60.1h.6M138.5 66.4h.6M135.6 54.6h.6M138.9 55.1h.6M143.3 58.8h.6M142.5 58.6h.6M140.7 54.2h.6M136.3 59.1h.6M135 53.2h.6M138.7 59.8h.6M134.9 63.7h.6M136.9 57.2h.6M146.2 52.3h.6M143.6 58.6h.6M135.7 53.4h.6M144.3 64.2h.6M145.1 53.6h.6M135.2 53.7h.6M133.5 55.7h.6M127.9 61.1h.6M127.8 59.7h.6M126.5 62.8h.6M132.1 63.6h.6M128.1 60.1h.6M133.8 62.6h.6M129.5 64.5h.6M133.4 59.4h.6M133.7 63h.6M133.3 61h.6M126.5 64.7h.6M180 68.9h.6M181.9 59.9h.6M183.3 56.6h.6M174.4 66.3h.6M177.5 60.7h.6M170.2 75.4h.6M184.4 70.3h.6M186 56.1h.6M170.3 62.6h.6M174.7 67.6h.6M182.5 73.7h.6M170.5 73.3h.6M170.8 69h.6M183.8 57.3h.6M183.6 63.4h.6M180.2 61.1h.6M182 70.5h.6M173.9 66.7h.6M183.4 66.2h.6M168.5 68.8h.6M172.6 72.6h.6M170 57.9h.6M187.8 74.1h.6M171.2 68h.6M175.3 66.5h.6M171.5 65.8h.6M189.2 62h.6M189.3 67.8h.6M188 55.1h.6M180.5 71.6h.6M179.6 73.1h.6M180.8 74.4h.6M189.5 62.4h.6M176.3 72h.6M182.9 62.8h.6M178.1 60.6h.6M181.4 64.5h.6M181.8 74.2h.6M187.9 63.8h.6M181.3 74.4h.6M214.5 60.8h.6M215.9 55.6h.6M212.7 61.2h.6M208.2 52.9h.6M217.5 56.5h.6M216.9 53.5h.6M217.3 55.7h.6M217.6 54.1h.6M208.3 62.2h.6M208.5 59.5h.6M210.8 52.2h.6M213.2 55.4h.6M211.9 54.4h.6M210.5 55.7h.6M230.6 61.6h.6M222.8 63.3h.6M227 59.6h.6M235.7 61.6h.6M231.2 61.9h.6M231.1 63.9h.6M232.6 65h.6M221.1 61.2h.6M226.4 59.1h.6M227.9 55.4h.6M264.4 64.9h.6M265.7 54.3h.6M258.9 57.9h.6M258.1 61.1h.6M266.1 54.5h.6M263.2 59.3h.6M265.4 54.3h.6M267 63h.6M263.9 64.2h.6M264.9 55.3h.6M263.7 56.6h.6M268.7 60.8h.6M268.6 58.9h.6M257 57.2h.6M260.5 65.7h.6M259.5 61.9h.6M256.2 57.9h.6M268 54h.6M257.2 61.6h.6M262.8 62h.6M261.2 59h.6M266.5 55.3h.6M261.8 56.1h.6M263.2 61.8h.6M262.1 65.1h.6M262.6 58.5h.6M258.2 55.4h.6M267.6 54.2h.6M268.9 58.2h.6M264.1 55.4h.6M264 55.7h.6M264.1 65.3h.6M265.5 55.7h.6M265.7 55.9h.6M268.7 63h.6M257 56.8h.6M265.7 65.3h.6M268.6 63.7h.6M255.6 64.3h.6M259.3 55.5h.6M261.3 55.8h.6M268.9 61.2h.6M261.6 57.3h.6M263.8 61.5h.6M259.2 56.7h.6M256 57.1h.6M264.2 59.3h.6M266.3 59.3h.6M258.2 63.1h.6M263.6 58h.6M256.9 58.9h.6M261.5 56.5h.6M263.3 54.2h.6M256.2 61.5h.6M256.3 62.7h.6M260.3 59.2h.6M264.1 58.5h.6M266.3 60.7h.6M256.6 56.6h.6M258.3 59.4h.6M252.3 63.6h.6M253.9 61.1h.6M248.1 63.6h.6M250.7 63.7h.6M249 65.4h.6M249.7 61.4h.6M253.4 57h.6M249.1 58.1h.6M250.6 61h.6M253 59.5h.6M247.8 59.7h.6M247.1 62h.6M247.9 59.8h.6M247.1 65.7h.6M71.5 114.2h.6M45.2 119.1h.6M47.3 109.1h.6M64.7 117.9h.6M51.8 108.3h.6M47 105.2h.6M71.1 116.9h.6M62.2 113.2h.6M47 125.8h.6M62.4 127.5h.6M66.7 114.6h.6M53.5 109.6h.6M46.4 108.7h.6M50.4 117.4h.6M52.9 116.8h.6M59.8 110.4h.6M54.5 109.4h.6M53.4 124.3h.6M64.5 115.9h.6M49.9 120.3h.6M55.4 112.5h.6M53.4 123.1h.6M60.9 123h.6M66.2 127.8h.6M69.7 118.8h.6M57.8 110h.6M50.3 110.5h.6M47 110h.6M53.1 124.6h.6M63.3 117.8h.6M51.1 127.5h.6M60.7 118.8h.6M52.7 120.2h.6M46.5 107.9h.6M66.1 116.5h.6M58.3 112.9h.6M68.8 124.8h.6M67.7 117.5h.6M50.5 112.5h.6M44.1 108.9h.6M85 121.5h.6M109.5 108.5h.6M88.1 109.3h.6M92.5 108.6h.6M103.8 113.7h.6M100.4 109.8h.6M85.7 105.6h.6M82.2 108.6h.6M91.8 118.9h.6M104.7 122.3h.6M91 118h.6M94.6 118.9h.6M87.6 111.3h.6M85.7 124.9h.6M92.7 116.5h.6M89.9 120.5h.6M105.5 105.4h.6M95.6 100.6h.6M106.1 104.2h.6M101.5 120.5h.6M86.1 112.5h.6M102.9 107.4h.6M86.8 114.9h.6M92.9 111.2h.6M95.4 103.5h.6M81.7 125.6h.6M108.5 122.6h.6M109.9 104.3h.6M97 123.1h.6M84.4 109.4h.6M84.2 104.7h.6M108.7 106.8h.6M101.3 121.5h.6M108.5 121h.6M98.8 117.4h.6M99.3 112.4h.6M83.8 117.7h.6M110.7 103.4h.6M105.3 122.1h.6M107.9 106.9h.6M142 108.3h.6M134.1 107.3h.6M145.4 104.5h.6M143 110.6h.6M125.1 111.7h.6M145.6 115h.6M149.5 111.9h.6M140.4 107.2h.6M126.9 107.5h.6M148.2 109.8h.6M143.6 105.2h.6M147.3 111.7h.6M147.5 105.4h.6M129.3 104.3h.6M140.7 110.9h.6M133.8 106.3h.6M139.3 113.3h.6M147.6 106.1h.6M126.1 113h.6M127.9 110.3h.6M140.8 110.9h.6M139.4 107.9h.6M134.5 109.8h.6M125.7 106.1h.6M127.2 111.6h.6M126.4 112.5h.6M149.7 114.6h.6M128.6 113h.6M127.7 108.8h.6M147 112.3h.6M128.8 104.1h.6M131.8 110h.6M127.6 104.9h.6M126 114.9h.6M141.8 109.7h.6M174 117.1h.6M188.7 111.9h.6M178.9 106.4h.6M187.6 112.8h.6M186 113.9h.6M176 105.1h.6M186.1 115h.6M187.3 117.6h.6M181.4 124h.6M173 119.9h.6M176.9 110.8h.6M175.1 110.6h.6M175.9 120.7h.6M171.8 121h.6M178.3 116.3h.6M173.4 115.9h.6M170.2 110.9h.6M181.7 115.6h.6M178.4 115.7h.6M181.9 120.1h.6M171.8 126.4h.6M177.1 110.4h.6M187.4 109.4h.6M171.1 110.9h.6M187.2 115.7h.6M188.7 106.5h.6M181.3 113.3h.6M182.3 114.3h.6M188.9 126h.6M171 104.5h.6M190.4 116h.6M181.4 119.7h.6M188.4 104.9h.6M175.8 118.8h.6M190.6 112.7h.6M179.8 114.2h.6M174.5 110.9h.6M189.2 113.4h.6M191.6 115.1h.6M180.3 116.1h.6M227.3 116h.6M225.3 119.5h.6M217.5 111.3h.6M214 123.4h.6M229.4 115.1h.6M213.2 108.4h.6M221.8 109.3h.6M221.9 121.3h.6M229.2 117.5h.6M210.1 121.4h.6M224.7 127.8h.6M215.9 105h.6M217.8 126.8h.6M217.9 121.9h.6M217.4 112h.6M210.3 119.7h.6M223.7 107.4h.6M218.8 112.7h.6M222.2 119.5h.6M222 113.4h.6M223.9 112.8h.6M221.6 125.8h.6M221 123.2h.6M219.1 124.7h.6M226 123.6h.6M226 110.3h.6M217.4 104.5h.6M212.8 105.1h.6M220.3 127.3h.6M228.5 115.1h.6M227.4 118.5h.6M215.9 126h.6M217.1 115.5h.6M214.7 125.6h.6M221.2 113.9h.6M227.9 120.2h.6M209 106.4h.6M215.3 116h.6M227.4 115.2h.6M230.7 124.6h.6M262.5 108.6h.6M251.3 117.6h.6M260.2 117.3h.6M265.4 112.2h.6M253.6 122.7h.6M271.4 111.7h.6M249.8 108.6h.6M267.2 117.9h.6M263.2 105.2h.6M270.2 112.9h.6M259.3 112.2h.6M258.5 111.6h.6M255.8 109.9h.6M250.7 127.6h.6M268.6 109.8h.6M267.2 126.2h.6M254 114.4h.6M251.3 113.9h.6M250.1 122.1h.6M264.8 125.8h.6M249.1 121.2h.6M257.3 114.8h.6M259.8 115.4h.6M270.5 120.7h.6M263.8 116.6h.6M262.1 113.2h.6M250.6 124.3h.6M269.7 121.7h.6M262.4 121.6h.6M249.9 124.3h.6M51.5 163.2h.6M53.3 166.7h.6M44.3 155.2h.6M46.5 162.9h.6M57.2 161.4h.6M49.5 160.5h.6M60.3 162.2h.6M44.6 150.2h.6M53.5 154.4h.6M43.6 157.9h.6M48.6 156.4h.6M59 164.7h.6M44.1 160.1h.6M58.5 156h.6M44.5 155.6h.6M65.7 161.4h.6M63.9 158.7h.6M63.8 147.1h.6M53 155h.6M46.8 153.4h.6M44.9 152.2h.6M64.3 150.1h.6M49.6 163.8h.6M46.8 155.2h.6M46.7 166.8h.6M50.5 151.3h.6M44.3 164.6h.6M59.5 151h.6M52.4 157.9h.6M65.4 148.1h.6M50.7 156.3h.6M62 146.1h.6M62.7 159.9h.6M48.4 163h.6M57.5 163.4h.6M61.3 155.1h.6M44.9 161.4h.6M48.5 162.7h.6M44.1 158.4h.6M56.5 157.4h.6M45.1 159.1h.6M60.5 151.6h.6M60 147.9h.6M52.3 156.1h.6M59.6 151.8h.6M52.9 160.2h.6M57.8 157h.6M57 158.8h.6M46.1 153.3h.6M43.6 147h.6M60.5 162.8h.6M56.5 145.6h.6M55.9 166.1h.6M58.3 155.1h.6M56.4 152.8h.6M64.1 145.1h.6M43.1 155.7h.6M60.1 152.9h.6M45.6 152.9h.6M57.5 165.5h.6M62 148.7h.6M54.6 162.5h.6M57 157.9h.6M55.6 148.6h.6M44.8 161.5h.6M55.6 161h.6M58.5 150.4h.6M62.5 164.1h.6M43.5 154.7h.6M57.6 148.7h.6M43.1 147.4h.6M57.9 147.1h.6M65.9 146.3h.6M58.9 147.5h.6M58.1 150.3h.6M50.9 155.6h.6M51.7 152.8h.6M55.7 156.9h.6M65.3 160.8h.6M51.6 145.5h.6M61.7 148.9h.6M61.6 156.4h.6M54 153.1h.6M61.4 152.7h.6M60 151.6h.6M64.1 142.3h.6M61 146.9h.6M65.1 155.4h.6M57.7 146.4h.6M60.9 149.2h.6M61.2 142.4h.6M64.2 153.9h.6M65.5 150.8h.6M64.6 143.2h.6M65.4 147.2h.6M55.6 143.4h.6M63.9 152.8h.6M52.9 146.5h.6M64.4 151.8h.6M56.7 157.1h.6M89.5 150.5h.6M89.7 152.2h.6M87.1 154h.6M86.2 153.5h.6M89.3 150.7h.6M98.4 148.5h.6M97.6 150.9h.6M96.9 149.5h.6M85.7 151.6h.6M96 155.2h.6M89.9 152.6h.6M96 157.1h.6M90.5 153.1h.6M92.5 155.5h.6M97 149.1h.6M89.1 151.4h.6M90.6 155.1h.6M99.8 148.4h.6M86.6 152.1h.6M84.6 154h.6M102.6 148.8h.6M102.3 148h.6M96.5 152h.6M99.1 151.6h.6M90.3 150h.6M104.4 161.5h.6M105.5 163h.6M104.8 159.7h.6M105.9 159.6h.6M103.6 165.7h.6M105.2 162.4h.6M106.3 166.9h.6M106.7 161.2h.6M102 162.9h.6M104.7 164.6h.6M146.7 153.1h.6M129.9 150.5h.6M134.6 153.5h.6M139.2 151.8h.6M140.5 151h.6M149 152h.6M129.4 148.4h.6M140.6 153h.6M134.1 151.8h.6M145.3 153.7h.6M143.8 150.8h.6M144.9 152.9h.6M139.4 153.3h.6M141 153.6h.6M141.9 155.4h.6M143.7 150.6h.6M141.1 146.1h.6M146.2 151.8h.6M132 146.8h.6M138.2 152.1h.6M127.3 147.3h.6M139.5 146.7h.6M136.5 147.2h.6M147.5 146.7h.6M142.3 154.1h.6M144.5 146.7h.6M137.1 145.2h.6M134.7 155.1h.6M143.8 146.5h.6M136 145.5h.6M144.9 147.4h.6M136.3 156.7h.6M147.6 147.5h.6M148.7 149.1h.6M144.5 156.7h.6M189.4 151.2h.6M176.6 142.1h.6M178.5 149.3h.6M170.8 154.5h.6M184.1 156.8h.6M183.7 144.7h.6M183.2 161h.6M178.6 161.4h.6M175 158.4h.6M177.7 141.3h.6M177.2 141.5h.6M179.9 144.7h.6M186.4 147.6h.6M175.2 164.1h.6M185.7 162.7h.6M191.5 164.5h.6M186.4 164.4h.6M181.4 155.8h.6M179.7 160.5h.6M171.7 141.1h.6M181.3 160.9h.6M182 156.7h.6M185.8 158.6h.6M181.7 163.2h.6M173.7 155.8h.6M184.3 149.2h.6M188.9 144.6h.6M179.9 161h.6M187.5 141.4h.6M181.2 142.1h.6M178.4 155.2h.6M189 146.7h.6M177.2 154.9h.6M179 165.9h.6M181.1 152.7h.6M188.7 159.1h.6M187.3 141.4h.6M191.7 152h.6M172.1 141.2h.6M186.2 153.2h.6M186.2 164h.6M180.2 148.8h.6M171 140.2h.6M190.8 162.5h.6M179.3 162.5h.6M175.9 163.7h.6M171.4 150.3h.6M183.2 143.4h.6M173.6 155.7h.6M179.1 141.7h.6M219.3 150.9h.6M232.3 142.6h.6M217.9 140.5h.6M225 141.7h.6M226.9 148.7h.6M218.2 149.6h.6M230.9 146h.6M216.1 151.8h.6M228.6 140.2h.6M216.7 142.4h.6M222.3 141.5h.6M218.2 151.7h.6M215.4 154.7h.6M216.8 141.7h.6M221.2 145.8h.6M227.9 147h.6M229.5 152.3h.6M221.7 142.7h.6M232.3 154.9h.6M225.6 144.3h.6M216.3 149.9h.6M230.4 142.8h.6M225.9 154.9h.6M219.8 143.2h.6M232 152h.6M223.9 150.1h.6M228.6 150.2h.6M227.5 150.1h.6M220.4 142.6h.6M228.9 152.1h.6M216 151.1h.6M225.7 141.5h.6M218.7 147.5h.6M224.6 150.1h.6M230 140.1h.6M233.1 155.5h.6M217.2 161.2h.6M212.7 162.9h.6M220.8 163.1h.6M224.4 160.1h.6M218.7 157.8h.6M231.9 165.6h.6M215.8 161.4h.6M235.2 157.3h.6M217 160h.6M214 161.7h.6M213.5 160.1h.6M215 159.1h.6M221.3 156.5h.6M231.4 160.3h.6M222.2 159.3h.6M220.1 163.4h.6M234.2 165.9h.6M211.1 161.1h.6M214.5 163.4h.6M265.1 150.5h.6M265.5 149.4h.6M269.8 153.9h.6M258.6 147.7h.6M263.7 154.3h.6M263.9 150.8h.6M269.8 146.2h.6M268.9 147.1h.6M261.3 147.9h.6M257.9 147.2h.6M268.8 152.6h.6M258.4 146.4h.6M269.6 154h.6M268.7 149.5h.6M257.2 154.3h.6M269.5 150.9h.6M262.5 152.8h.6M258.4 153.3h.6M268.7 151.1h.6M259.2 154h.6M266.9 146.3h.6M260 150.3h.6M262.9 148.9h.6M261.3 154.6h.6M262.3 148.9h.6" stroke="#000" stroke-width=".55" stroke-opacity=".22"/>
</g>
<g fill="none" stroke="#555" stroke-width=".8">
<rect x="41.5" y="12.4" width="29.5" height="25.2"/>
<path d="M52.1 12.4V37.6"/>
<path d="M52.1 28.8H71"/>
<rect x="83.7" y="12.4" width="27.8" height="26.8"/>
<path d="M92.2 12.4V39.2"/>
<path d="M92.2 29.5H111.5"/>
<rect x="123.4" y="13" width="30.6" height="25.5"/>
<path d="M133.6 13V38.5"/>
<path d="M133.6 30.3H154"/>
<rect x="167.5" y="12.2" width="31" height="27"/>
<path d="M178.6 12.2V39.2"/>
<path d="M178.6 30.3H198.5"/>
<rect x="208.3" y="13" width="30.9" height="26.2"/>
<path d="M218.8 13V39.2"/>
<path d="M218.8 30.3H239.2"/>
<rect x="245.2" y="12.5" width="28.8" height="26.7"/>
<path d="M255.1 12.5V39.2"/>
<path d="M255.1 31H274"/>
<rect x="41" y="51.2" width="30" height="27.1"/>
<path d="M51.8 51.2V78.3"/>
<path d="M51.8 69.3H71"/>
<rect x="82.2" y="50.5" width="30.8" height="27.8"/>
<path d="M92.3 50.5V78.3"/>
<path d="M92.3 70H113"/>
<rect x="124.8" y="49" width="29.9" height="29.2"/>
<path d="M134.2 49V78.2"/>
<path d="M134.2 68.5H154.7"/>
<rect x="167.5" y="49" width="31" height="28.5"/>
<path d="M178.7 49V77.5"/>
<path d="M178.7 68.2H198.5"/>
<rect x="207.8" y="48.3" width="30.7" height="28.5"/>
<path d="M219.4 48.3V76.8"/>
<path d="M219.4 67.7H238.5"/>
<rect x="246" y="48.3" width="27.7" height="29.2"/>
<path d="M255.7 48.3V77.5"/>
<path d="M255.7 68.5H273.7"/>
<rect x="41" y="100.3" width="32.2" height="29.2"/>
<path d="M53.8 100.3V129.5"/>
<rect x="80.7" y="98.3" width="32.8" height="31.2"/>
<path d="M92.2 98.3V129.5"/>
<path d="M104.7 119H113.5"/>
<rect x="124" y="100.3" width="32.2" height="27.2"/>
<path d="M135.3 100.3V127.5"/>
<path d="M135.3 118.3H156.2"/>
<rect x="168.2" y="100.3" width="30.3" height="27.7"/>
<path d="M178.5 100.3V128"/>
<path d="M178.5 118.3H198.5"/>
<rect x="208.5" y="99.5" width="30.7" height="29.2"/>
<path d="M218.7 99.5V128.7"/>
<path d="M218.7 119H239.2"/>
<rect x="246.2" y="98.5" width="28.5" height="29.7"/>
<path d="M255.5 98.5V128.2"/>
<path d="M255.5 119H274.7"/>
<rect x="42.5" y="138" width="31" height="31"/>
<path d="M52.5 138V169"/>
<path d="M52.5 158.2H73.5"/>
<rect x="82" y="136.8" width="31" height="32.2"/>
<path d="M92.5 136.8V169"/>
<path d="M92.5 158.5H113"/>
<rect x="126.3" y="138" width="29.2" height="30.5"/>
<path d="M136.7 138V168.5"/>
<path d="M136.7 158H155.5"/>
<rect x="169.5" y="136.8" width="30" height="30.2"/>
<path d="M180.3 136.8V167"/>
<path d="M187.4 157.5H199.5"/>
<rect x="210" y="136" width="30.7" height="31.5"/>
<path d="M220.5 136V167.5"/>
<path d="M220.5 157H240.7"/>
<rect x="247.5" y="136.8" width="27" height="30.7"/>
<path d="M256.5 136.8V167.5"/>
<path d="M256.5 157H274.5"/>
</g>
<path d="M38.5 11.3l1.3 1.4l.6-.5M42.2 38.9l-1.4 1.4l-.4-.6M38.5 17.6l1.3 1.4l.6-.5M49.6 38.9l-1.4 1.4l-.4-.6M38.5 23.9l1.3 1.4l.6-.5M57 38.9l-1.4 1.4l-.4-.6M38.5 30.2l1.3 1.4l.6-.5M64.3 38.9l-1.4 1.4l-.4-.6M38.5 36.5l1.3 1.4l.6-.5M71.7 38.9l-1.4 1.4l-.4-.6M80.7 11.3l1.3 1.4l.6-.5M84.4 40.5l-1.4 1.4l-.4-.6M80.7 18l1.3 1.4l.6-.5M91.4 40.5l-1.4 1.4l-.4-.6M80.7 24.7l1.3 1.4l.6-.5M98.3 40.5l-1.4 1.4l-.4-.6M80.7 31.4l1.3 1.4l.6-.5M105.2 40.5l-1.4 1.4l-.4-.6M80.7 38.1l1.3 1.4l.6-.5M112.2 40.5l-1.4 1.4l-.4-.6M120.4 11.9l1.3 1.4l.6-.5M124.1 39.8l-1.4 1.4l-.4-.6M120.4 18.3l1.3 1.4l.6-.5M131.8 39.8l-1.4 1.4l-.4-.6M120.4 24.6l1.3 1.4l.6-.5M139.4 39.8l-1.4 1.4l-.4-.6M120.4 31l1.3 1.4l.6-.5M147 39.8l-1.4 1.4l-.4-.6M120.4 37.4l1.3 1.4l.6-.5M154.7 39.8l-1.4 1.4l-.4-.6M164.5 11.1l1.3 1.4l.6-.5M168.2 40.5l-1.4 1.4l-.4-.6M164.5 17.8l1.3 1.4l.6-.5M175.9 40.5l-1.4 1.4l-.4-.6M164.5 24.6l1.3 1.4l.6-.5M183.7 40.5l-1.4 1.4l-.4-.6M164.5 31.4l1.3 1.4l.6-.5M191.4 40.5l-1.4 1.4l-.4-.6M164.5 38.1l1.3 1.4l.6-.5M199.2 40.5l-1.4 1.4l-.4-.6M205.3 11.9l1.3 1.4l.6-.5M209 40.5l-1.4 1.4l-.4-.6M205.3 18.4l1.3 1.4l.6-.5M216.7 40.5l-1.4 1.4l-.4-.6M205.3 25l1.3 1.4l.6-.5M224.4 40.5l-1.4 1.4l-.4-.6M205.3 31.6l1.3 1.4l.6-.5M232.2 40.5l-1.4 1.4l-.4-.6M205.3 38.1l1.3 1.4l.6-.5M239.9 40.5l-1.4 1.4l-.4-.6M242.2 11.4l1.3 1.4l.6-.5M245.9 40.5l-1.4 1.4l-.4-.6M242.2 18.1l1.3 1.4l.6-.5M253.1 40.5l-1.4 1.4l-.4-.6M242.2 24.8l1.3 1.4l.6-.5M260.3 40.5l-1.4 1.4l-.4-.6M242.2 31.4l1.3 1.4l.6-.5M267.5 40.5l-1.4 1.4l-.4-.6M242.2 38.1l1.3 1.4l.6-.5M274.7 40.5l-1.4 1.4l-.4-.6M38 50.1l1.3 1.4l.6-.5M41.7 79.6l-1.4 1.4l-.4-.6M38 56.9l1.3 1.4l.6-.5M49.2 79.6l-1.4 1.4l-.4-.6M38 63.6l1.3 1.4l.6-.5M56.7 79.6l-1.4 1.4l-.4-.6M38 70.4l1.3 1.4l.6-.5M64.2 79.6l-1.4 1.4l-.4-.6M38 77.2l1.3 1.4l.6-.5M71.7 79.6l-1.4 1.4l-.4-.6M79.2 49.4l1.3 1.4l.6-.5M82.9 79.6l-1.4 1.4l-.4-.6M79.2 56.4l1.3 1.4l.6-.5M90.6 79.6l-1.4 1.4l-.4-.6M79.2 63.3l1.3 1.4l.6-.5M98.3 79.6l-1.4 1.4l-.4-.6M79.2 70.2l1.3 1.4l.6-.5M106 79.6l-1.4 1.4l-.4-.6M79.2 77.2l1.3 1.4l.6-.5M113.7 79.6l-1.4 1.4l-.4-.6M121.8 47.9l1.3 1.4l.6-.5M125.5 79.5l-1.4 1.4l-.4-.6M121.8 55.2l1.3 1.4l.6-.5M133 79.5l-1.4 1.4l-.4-.6M121.8 62.5l1.3 1.4l.6-.5M140.4 79.5l-1.4 1.4l-.4-.6M121.8 69.8l1.3 1.4l.6-.5M147.9 79.5l-1.4 1.4l-.4-.6M121.8 77.1l1.3 1.4l.6-.5M155.4 79.5l-1.4 1.4l-.4-.6M164.5 47.9l1.3 1.4l.6-.5M168.2 78.8l-1.4 1.4l-.4-.6M164.5 55l1.3 1.4l.6-.5M175.9 78.8l-1.4 1.4l-.4-.6M164.5 62.1l1.3 1.4l.6-.5M183.7 78.8l-1.4 1.4l-.4-.6M164.5 69.3l1.3 1.4l.6-.5M191.4 78.8l-1.4 1.4l-.4-.6M164.5 76.4l1.3 1.4l.6-.5M199.2 78.8l-1.4 1.4l-.4-.6M204.8 47.2l1.3 1.4l.6-.5M208.5 78.1l-1.4 1.4l-.4-.6M204.8 54.3l1.3 1.4l.6-.5M216.2 78.1l-1.4 1.4l-.4-.6M204.8 61.4l1.3 1.4l.6-.5M223.8 78.1l-1.4 1.4l-.4-.6M204.8 68.6l1.3 1.4l.6-.5M231.5 78.1l-1.4 1.4l-.4-.6M204.8 75.7l1.3 1.4l.6-.5M239.2 78.1l-1.4 1.4l-.4-.6M243 47.2l1.3 1.4l.6-.5M246.7 78.8l-1.4 1.4l-.4-.6M243 54.5l1.3 1.4l.6-.5M253.6 78.8l-1.4 1.4l-.4-.6M243 61.8l1.3 1.4l.6-.5M260.6 78.8l-1.4 1.4l-.4-.6M243 69.1l1.3 1.4l.6-.5M267.5 78.8l-1.4 1.4l-.4-.6M243 76.4l1.3 1.4l.6-.5M274.4 78.8l-1.4 1.4l-.4-.6M38 99.2l1.3 1.4l.6-.5M41.7 130.8l-1.4 1.4l-.4-.6M38 106.5l1.3 1.4l.6-.5M49.8 130.8l-1.4 1.4l-.4-.6M38 113.8l1.3 1.4l.6-.5M57.8 130.8l-1.4 1.4l-.4-.6M38 121.1l1.3 1.4l.6-.5M65.9 130.8l-1.4 1.4l-.4-.6M38 128.4l1.3 1.4l.6-.5M73.9 130.8l-1.4 1.4l-.4-.6M77.7 97.2l1.3 1.4l.6-.5M81.4 130.8l-1.4 1.4l-.4-.6M77.7 105l1.3 1.4l.6-.5M89.6 130.8l-1.4 1.4l-.4-.6M77.7 112.8l1.3 1.4l.6-.5M97.8 130.8l-1.4 1.4l-.4-.6M77.7 120.6l1.3 1.4l.6-.5M106 130.8l-1.4 1.4l-.4-.6M77.7 128.4l1.3 1.4l.6-.5M114.2 130.8l-1.4 1.4l-.4-.6M121 99.2l1.3 1.4l.6-.5M124.7 128.8l-1.4 1.4l-.4-.6M121 106l1.3 1.4l.6-.5M132.8 128.8l-1.4 1.4l-.4-.6M121 112.8l1.3 1.4l.6-.5M140.8 128.8l-1.4 1.4l-.4-.6M121 119.6l1.3 1.4l.6-.5M148.8 128.8l-1.4 1.4l-.4-.6M121 126.4l1.3 1.4l.6-.5M156.9 128.8l-1.4 1.4l-.4-.6M165.2 99.2l1.3 1.4l.6-.5M168.9 129.3l-1.4 1.4l-.4-.6M165.2 106.1l1.3 1.4l.6-.5M176.5 129.3l-1.4 1.4l-.4-.6M165.2 113.1l1.3 1.4l.6-.5M184 129.3l-1.4 1.4l-.4-.6M165.2 120l1.3 1.4l.6-.5M191.6 129.3l-1.4 1.4l-.4-.6M165.2 126.9l1.3 1.4l.6-.5M199.2 129.3l-1.4 1.4l-.4-.6M205.5 98.4l1.3 1.4l.6-.5M209.2 130l-1.4 1.4l-.4-.6M205.5 105.7l1.3 1.4l.6-.5M216.9 130l-1.4 1.4l-.4-.6M205.5 113l1.3 1.4l.6-.5M224.5 130l-1.4 1.4l-.4-.6M205.5 120.3l1.3 1.4l.6-.5M232.2 130l-1.4 1.4l-.4-.6M205.5 127.6l1.3 1.4l.6-.5M239.9 130l-1.4 1.4l-.4-.6M243.2 97.4l1.3 1.4l.6-.5M246.9 129.5l-1.4 1.4l-.4-.6M243.2 104.8l1.3 1.4l.6-.5M254 129.5l-1.4 1.4l-.4-.6M243.2 112.2l1.3 1.4l.6-.5M261.1 129.5l-1.4 1.4l-.4-.6M243.2 119.7l1.3 1.4l.6-.5M268.3 129.5l-1.4 1.4l-.4-.6M243.2 127.1l1.3 1.4l.6-.5M275.4 129.5l-1.4 1.4l-.4-.6M39.5 136.9l1.3 1.4l.6-.5M43.2 170.3l-1.4 1.4l-.4-.6M39.5 144.7l1.3 1.4l.6-.5M51 170.3l-1.4 1.4l-.4-.6M39.5 152.4l1.3 1.4l.6-.5M58.7 170.3l-1.4 1.4l-.4-.6M39.5 160.2l1.3 1.4l.6-.5M66.5 170.3l-1.4 1.4l-.4-.6M39.5 167.9l1.3 1.4l.6-.5M74.2 170.3l-1.4 1.4l-.4-.6M79 135.7l1.3 1.4l.6-.5M82.7 170.3l-1.4 1.4l-.4-.6M79 143.8l1.3 1.4l.6-.5M90.5 170.3l-1.4 1.4l-.4-.6M79 151.8l1.3 1.4l.6-.5M98.2 170.3l-1.4 1.4l-.4-.6M79 159.8l1.3 1.4l.6-.5M106 170.3l-1.4 1.4l-.4-.6M79 167.9l1.3 1.4l.6-.5M113.7 170.3l-1.4 1.4l-.4-.6M123.3 136.9l1.3 1.4l.6-.5M127 169.8l-1.4 1.4l-.4-.6M123.3 144.5l1.3 1.4l.6-.5M134.3 169.8l-1.4 1.4l-.4-.6M123.3 152.2l1.3 1.4l.6-.5M141.6 169.8l-1.4 1.4l-.4-.6M123.3 159.8l1.3 1.4l.6-.5M148.9 169.8l-1.4 1.4l-.4-.6M123.3 167.4l1.3 1.4l.6-.5M156.2 169.8l-1.4 1.4l-.4-.6M166.5 135.7l1.3 1.4l.6-.5M170.2 168.3l-1.4 1.4l-.4-.6M166.5 143.3l1.3 1.4l.6-.5M177.7 168.3l-1.4 1.4l-.4-.6M166.5 150.8l1.3 1.4l.6-.5M185.2 168.3l-1.4 1.4l-.4-.6M166.5 158.3l1.3 1.4l.6-.5M192.7 168.3l-1.4 1.4l-.4-.6M166.5 165.9l1.3 1.4l.6-.5M200.2 168.3l-1.4 1.4l-.4-.6M207 134.9l1.3 1.4l.6-.5M210.7 168.8l-1.4 1.4l-.4-.6M207 142.8l1.3 1.4l.6-.5M218.4 168.8l-1.4 1.4l-.4-.6M207 150.7l1.3 1.4l.6-.5M226 168.8l-1.4 1.4l-.4-.6M207 158.5l1.3 1.4l.6-.5M233.7 168.8l-1.4 1.4l-.4-.6M207 166.4l1.3 1.4l.6-.5M241.4 168.8l-1.4 1.4l-.4-.6M244.5 135.7l1.3 1.4l.6-.5M248.2 168.8l-1.4 1.4l-.4-.6M244.5 143.4l1.3 1.4l.6-.5M254.9 168.8l-1.4 1.4l-.4-.6M244.5 151.1l1.3 1.4l.6-.5M261.7 168.8l-1.4 1.4l-.4-.6M244.5 158.7l1.3 1.4l.6-.5M268.4 168.8l-1.4 1.4l-.4-.6M244.5 166.4l1.3 1.4l.6-.5M275.2 168.8l-1.4 1.4l-.4-.6" stroke="#111" stroke-width="1" fill="none"/>
<text x="56" y="10.3" font-size="4.7" font-weight="bold" text-anchor="middle" stroke="#000" stroke-width=".22">CCR1</text>
<text x="96.5" y="10.3" font-size="4.7" font-weight="bold" text-anchor="middle" stroke="#000" stroke-width=".22">CCR2</text>
<text x="139.5" y="10.3" font-size="4.7" font-weight="bold" text-anchor="middle" stroke="#000" stroke-width=".22">CCR3</text>
<text x="183.5" y="10.3" font-size="4.7" font-weight="bold" text-anchor="middle" stroke="#000" stroke-width=".22">CCR4</text>
<text x="222.7" y="10.3" font-size="4.7" font-weight="bold" text-anchor="middle" stroke="#000" stroke-width=".22">CCR5</text>
<text x="259" y="10.3" font-size="4.7" font-weight="bold" text-anchor="middle" stroke="#000" stroke-width=".22">CCR6</text>
<text x="57.4" y="96" font-size="4.7" font-weight="bold" text-anchor="middle" stroke="#000" stroke-width=".22">CCR7</text>
<text x="97.3" y="96" font-size="4.7" font-weight="bold" text-anchor="middle" stroke="#000" stroke-width=".22">CXCR1</text>
<text x="138.6" y="96" font-size="4.7" font-weight="bold" text-anchor="middle" stroke="#000" stroke-width=".22">CXCR2</text>
<text x="183" y="96" font-size="4.7" font-weight="bold" text-anchor="middle" stroke="#000" stroke-width=".22">CXCR3</text>
<text x="223" y="96" font-size="4.7" font-weight="bold" text-anchor="middle" stroke="#000" stroke-width=".22">CXCR4</text>
<text x="260.3" y="96" font-size="4.7" font-weight="bold" text-anchor="middle" stroke="#000" stroke-width=".22">CX3CR1</text>
<text x="17.6" y="22.3" font-size="4.85" font-weight="bold" text-anchor="middle" stroke="#000" stroke-width=".22">Healthy Donor</text>
<text x="17.6" y="28.6" font-size="4.85" font-weight="bold" text-anchor="middle" stroke="#000" stroke-width=".22">Unactivated</text>
<text x="17.6" y="34.6" font-size="4.85" font-weight="bold" text-anchor="middle" stroke="#000" stroke-width=".22">NK cells</text>
<text x="17.6" y="62" font-size="4.85" font-weight="bold" text-anchor="middle" stroke="#000" stroke-width=".22">Healthy Donor</text>
<text x="17.6" y="68" font-size="4.85" font-weight="bold" text-anchor="middle" stroke="#000" stroke-width=".22">CANK cells</text>
<text x="17.6" y="111" font-size="4.85" font-weight="bold" text-anchor="middle" stroke="#000" stroke-width=".22">Healthy Donor</text>
<text x="17.6" y="117.2" font-size="4.85" font-weight="bold" text-anchor="middle" stroke="#000" stroke-width=".22">Unactivated</text>
<text x="17.6" y="123" font-size="4.85" font-weight="bold" text-anchor="middle" stroke="#000" stroke-width=".22">NK cells</text>
<text x="17.6" y="150.2" font-size="4.85" font-weight="bold" text-anchor="middle" stroke="#000" stroke-width=".22">Healthy Donor</text>
<text x="17.6" y="156.2" font-size="4.85" font-weight="bold" text-anchor="middle" stroke="#000" stroke-width=".22">CANK cells</text>
<text x="0.4" y="10.2" font-size="11" font-weight="bold" stroke="#000" stroke-width=".3">A</text>
<path d="M25.8 165V188.3H50.5" stroke="#000" stroke-width="1.3" fill="none"/>
<path d="M25.8 160L22.4 166.4H29.2Z M56 188.3L49.6 185V191.6Z" fill="#000"/>
<text x="14.2" y="175" font-size="5.2" font-weight="bold" text-anchor="middle" font-family="'Liberation Serif',serif" transform="rotate(-90 14.2 175)">Chemokine</text>
<text x="21" y="174.5" font-size="5.2" font-weight="bold" text-anchor="middle" font-family="'Liberation Serif',serif" transform="rotate(-90 21 174.5)">receptor</text>
<text x="38.2" y="194.4" font-size="5.4" font-weight="bold" text-anchor="middle" font-family="'Liberation Serif',serif">CD16</text>
<text x="182.7" y="82.8" font-size="2.4" font-weight="bold" text-anchor="middle" fill="#555">CD16</text>
<text x="287.4" y="29.4" font-size="11" font-weight="bold" stroke="#000" stroke-width=".3">B</text>
<text x="405.4" y="29.4" font-size="11" font-weight="bold" stroke="#000" stroke-width=".3">C</text>
<path d="M305.4 35V75.4" stroke="#666" stroke-width=".5"/>
<path d="M305.4 75.4H396.35" stroke="#777" stroke-width=".4"/>
<text x="304.4" y="76.7" font-size="3.6" text-anchor="end" fill="#222">0</text>
<path d="M304.6 75.4h1" stroke="#666" stroke-width=".4"/>
<text x="304.4" y="72.76" font-size="3.6" text-anchor="end" fill="#222">10</text>
<path d="M304.6 71.46h1" stroke="#666" stroke-width=".4"/>
<text x="304.4" y="68.82" font-size="3.6" text-anchor="end" fill="#222">20</text>
<path d="M304.6 67.52h1" stroke="#666" stroke-width=".4"/>
<text x="304.4" y="64.88" font-size="3.6" text-anchor="end" fill="#222">30</text>
<path d="M304.6 63.58h1" stroke="#666" stroke-width=".4"/>
<text x="304.4" y="60.94" font-size="3.6" text-anchor="end" fill="#222">40</text>
<path d="M304.6 59.64h1" stroke="#666" stroke-width=".4"/>
<text x="304.4" y="57" font-size="3.6" text-anchor="end" fill="#222">50</text>
<path d="M304.6 55.7h1" stroke="#666" stroke-width=".4"/>
<text x="304.4" y="53.06" font-size="3.6" text-anchor="end" fill="#222">60</text>
<path d="M304.6 51.76h1" stroke="#666" stroke-width=".4"/>
<text x="304.4" y="49.12" font-size="3.6" text-anchor="end" fill="#222">70</text>
<path d="M304.6 47.82h1" stroke="#666" stroke-width=".4"/>
<text x="304.4" y="45.18" font-size="3.6" text-anchor="end" fill="#222">80</text>
<path d="M304.6 43.88h1" stroke="#666" stroke-width=".4"/>
<text x="304.4" y="41.24" font-size="3.6" text-anchor="end" fill="#222">90</text>
<path d="M304.6 39.94h1" stroke="#666" stroke-width=".4"/>
<text x="304.4" y="37.3" font-size="3.6" text-anchor="end" fill="#222">100</text>
<path d="M304.6 36h1" stroke="#666" stroke-width=".4"/>
<rect x="308.1" y="49.79" width="3.75" height="25.61" fill="#4c4c4c" stroke="#333" stroke-width=".4"/>
<text x="309.98" y="48.79" font-size="3.6" text-anchor="middle" fill="#333">65</text>
<text x="312.48" y="79" font-size="4.5" text-anchor="end" fill="#222" transform="rotate(-45 312.48 79)">CXCR1</text>
<rect x="315.6" y="74.6" width="3.75" height="0.8" fill="#4c4c4c" stroke="#333" stroke-width=".4"/>
<text x="317.48" y="73.6" font-size="3.6" text-anchor="middle" fill="#333">2</text>
<text x="319.98" y="79" font-size="4.5" text-anchor="end" fill="#222" transform="rotate(-45 319.98 79)">CXCR2</text>
<rect x="323.1" y="63.19" width="3.75" height="12.21" fill="#4c4c4c" stroke="#333" stroke-width=".4"/>
<text x="324.98" y="62.19" font-size="3.6" text-anchor="middle" fill="#333">31</text>
<text x="327.48" y="79" font-size="4.5" text-anchor="end" fill="#222" transform="rotate(-45 327.48 79)">CXCR3</text>
<rect x="330.6" y="65.94" width="3.75" height="9.46" fill="#4c4c4c" stroke="#333" stroke-width=".4"/>
<text x="332.48" y="64.94" font-size="3.6" text-anchor="middle" fill="#333">24</text>
<text x="334.98" y="79" font-size="4.5" text-anchor="end" fill="#222" transform="rotate(-45 334.98 79)">CXCR4</text>
<rect x="338.1" y="73.82" width="3.75" height="1.58" fill="#4c4c4c" stroke="#333" stroke-width=".4"/>
<text x="339.98" y="72.82" font-size="3.6" text-anchor="middle" fill="#333">4</text>
<text x="342.48" y="79" font-size="4.5" text-anchor="end" fill="#222" transform="rotate(-45 342.48 79)">CCR1</text>
<rect x="345.6" y="73.82" width="3.75" height="1.58" fill="#4c4c4c" stroke="#333" stroke-width=".4"/>
<text x="347.48" y="72.82" font-size="3.6" text-anchor="middle" fill="#333">4</text>
<text x="349.98" y="79" font-size="4.5" text-anchor="end" fill="#222" transform="rotate(-45 349.98 79)">CCR2</text>
<rect x="353.1" y="74.22" width="3.75" height="1.18" fill="#4c4c4c" stroke="#333" stroke-width=".4"/>
<text x="354.98" y="73.22" font-size="3.6" text-anchor="middle" fill="#333">3</text>
<text x="357.48" y="79" font-size="4.5" text-anchor="end" fill="#222" transform="rotate(-45 357.48 79)">CCR3</text>
<rect x="360.6" y="74.22" width="3.75" height="1.18" fill="#4c4c4c" stroke="#333" stroke-width=".4"/>
<text x="362.48" y="73.22" font-size="3.6" text-anchor="middle" fill="#333">3</text>
<text x="364.98" y="79" font-size="4.5" text-anchor="end" fill="#222" transform="rotate(-45 364.98 79)">CCR4</text>
<rect x="368.1" y="74.22" width="3.75" height="1.18" fill="#4c4c4c" stroke="#333" stroke-width=".4"/>
<text x="369.98" y="73.22" font-size="3.6" text-anchor="middle" fill="#333">3</text>
<text x="372.48" y="79" font-size="4.5" text-anchor="end" fill="#222" transform="rotate(-45 372.48 79)">CCR5</text>
<rect x="375.6" y="73.43" width="3.75" height="1.97" fill="#4c4c4c" stroke="#333" stroke-width=".4"/>
<text x="377.48" y="72.43" font-size="3.6" text-anchor="middle" fill="#333">5</text>
<text x="379.98" y="79" font-size="4.5" text-anchor="end" fill="#222" transform="rotate(-45 379.98 79)">CCR6</text>
<rect x="383.1" y="73.82" width="3.75" height="1.58" fill="#4c4c4c" stroke="#333" stroke-width=".4"/>
<text x="384.98" y="72.82" font-size="3.6" text-anchor="middle" fill="#333">4</text>
<text x="387.48" y="79" font-size="4.5" text-anchor="end" fill="#222" transform="rotate(-45 387.48 79)">CCR7</text>
<rect x="390.6" y="38.76" width="3.75" height="36.64" fill="#4c4c4c" stroke="#333" stroke-width=".4"/>
<text x="392.48" y="37.76" font-size="3.6" text-anchor="middle" fill="#333">93</text>
<text x="394.98" y="79" font-size="4.5" text-anchor="end" fill="#222" transform="rotate(-45 394.98 79)">CX3CR1</text>
<text x="349.4" y="37" font-size="5.05" font-weight="bold" text-anchor="middle">Healthy Donor unactivated</text>
<text x="350" y="43.2" font-size="5.05" font-weight="bold" text-anchor="middle">CD16<tspan font-size="4.4" dy="-2.1">+</tspan><tspan dy="2.1"> NK cells</tspan></text>
<text x="0" y="0" font-size="6.8" text-anchor="middle" fill="#111" transform="translate(293.7 55) rotate(-90) scale(0.87 1)">Percentage (%)</text>
<path d="M305.3 103V141.5" stroke="#666" stroke-width=".5"/>
<path d="M305.3 141.5H395.72" stroke="#777" stroke-width=".4"/>
<text x="304.3" y="142.8" font-size="3.6" text-anchor="end" fill="#222">0</text>
<path d="M304.5 141.5h1" stroke="#666" stroke-width=".4"/>
<text x="304.3" y="135.3" font-size="3.6" text-anchor="end" fill="#222">20</text>
<path d="M304.5 134h1" stroke="#666" stroke-width=".4"/>
<text x="304.3" y="127.8" font-size="3.6" text-anchor="end" fill="#222">40</text>
<path d="M304.5 126.5h1" stroke="#666" stroke-width=".4"/>
<text x="304.3" y="120.3" font-size="3.6" text-anchor="end" fill="#222">60</text>
<path d="M304.5 119h1" stroke="#666" stroke-width=".4"/>
<text x="304.3" y="112.8" font-size="3.6" text-anchor="end" fill="#222">80</text>
<path d="M304.5 111.5h1" stroke="#666" stroke-width=".4"/>
<text x="304.3" y="105.3" font-size="3.6" text-anchor="end" fill="#222">100</text>
<path d="M304.5 104h1" stroke="#666" stroke-width=".4"/>
<rect x="307.25" y="117.5" width="3.75" height="24" fill="#4c4c4c" stroke="#333" stroke-width=".4"/>
<text x="309.12" y="116.5" font-size="3.6" text-anchor="middle" fill="#333">64</text>
<text x="311.62" y="145.1" font-size="4.5" text-anchor="end" fill="#555" transform="rotate(-45 311.62 145.1)">CXCR1</text>
<rect x="314.77" y="132.88" width="3.75" height="8.62" fill="#4c4c4c" stroke="#333" stroke-width=".4"/>
<text x="316.64" y="131.88" font-size="3.6" text-anchor="middle" fill="#333">23</text>
<text x="319.14" y="145.1" font-size="4.5" text-anchor="end" fill="#555" transform="rotate(-45 319.14 145.1)">CXCR2</text>
<rect x="322.29" y="122" width="3.75" height="19.5" fill="#4c4c4c" stroke="#333" stroke-width=".4"/>
<text x="324.17" y="121" font-size="3.6" text-anchor="middle" fill="#333">52</text>
<text x="326.67" y="145.1" font-size="4.5" text-anchor="end" fill="#555" transform="rotate(-45 326.67 145.1)">CXCR3</text>
<rect x="329.81" y="114.5" width="3.75" height="27" fill="#4c4c4c" stroke="#333" stroke-width=".4"/>
<text x="331.69" y="113.5" font-size="3.6" text-anchor="middle" fill="#333">72</text>
<text x="334.19" y="145.1" font-size="4.5" text-anchor="end" fill="#555" transform="rotate(-45 334.19 145.1)">CXCR4</text>
<rect x="337.33" y="135.88" width="3.75" height="5.62" fill="#4c4c4c" stroke="#333" stroke-width=".4"/>
<text x="339.2" y="134.88" font-size="3.6" text-anchor="middle" fill="#333">15</text>
<text x="341.7" y="145.1" font-size="4.5" text-anchor="end" fill="#555" transform="rotate(-45 341.7 145.1)">CCR1</text>
<rect x="344.85" y="133.62" width="3.75" height="7.88" fill="#4c4c4c" stroke="#333" stroke-width=".4"/>
<text x="346.73" y="132.62" font-size="3.6" text-anchor="middle" fill="#333">21</text>
<text x="349.23" y="145.1" font-size="4.5" text-anchor="end" fill="#555" transform="rotate(-45 349.23 145.1)">CCR2</text>
<rect x="352.37" y="133.25" width="3.75" height="8.25" fill="#4c4c4c" stroke="#333" stroke-width=".4"/>
<text x="354.25" y="132.25" font-size="3.6" text-anchor="middle" fill="#333">22</text>
<text x="356.75" y="145.1" font-size="4.5" text-anchor="end" fill="#555" transform="rotate(-45 356.75 145.1)">CCR3</text>
<rect x="359.89" y="139.62" width="3.75" height="1.88" fill="#4c4c4c" stroke="#333" stroke-width=".4"/>
<text x="361.76" y="138.62" font-size="3.6" text-anchor="middle" fill="#333">5</text>
<text x="364.26" y="145.1" font-size="4.5" text-anchor="end" fill="#555" transform="rotate(-45 364.26 145.1)">CCR4</text>
<rect x="367.41" y="135.12" width="3.75" height="6.38" fill="#4c4c4c" stroke="#333" stroke-width=".4"/>
<text x="369.28" y="134.12" font-size="3.6" text-anchor="middle" fill="#333">17</text>
<text x="371.78" y="145.1" font-size="4.5" text-anchor="end" fill="#555" transform="rotate(-45 371.78 145.1)">CCR5</text>
<rect x="374.93" y="127.62" width="3.75" height="13.88" fill="#4c4c4c" stroke="#333" stroke-width=".4"/>
<text x="376.81" y="126.62" font-size="3.6" text-anchor="middle" fill="#333">37</text>
<text x="379.31" y="145.1" font-size="4.5" text-anchor="end" fill="#555" transform="rotate(-45 379.31 145.1)">CCR6</text>
<rect x="382.45" y="121.62" width="3.75" height="19.88" fill="#4c4c4c" stroke="#333" stroke-width=".4"/>
<text x="384.32" y="120.62" font-size="3.6" text-anchor="middle" fill="#333">53</text>
<text x="386.82" y="145.1" font-size="4.5" text-anchor="end" fill="#555" transform="rotate(-45 386.82 145.1)">CCR7</text>
<rect x="389.97" y="124.25" width="3.75" height="17.25" fill="#4c4c4c" stroke="#333" stroke-width=".4"/>
<text x="391.85" y="123.25" font-size="3.6" text-anchor="middle" fill="#333">46</text>
<text x="394.35" y="145.1" font-size="4.5" text-anchor="end" fill="#555" transform="rotate(-45 394.35 145.1)">CX3CR1</text>
<text x="357.5" y="104.4" font-size="5.05" font-weight="bold" text-anchor="middle">Healthy Donor unactivated</text>
<text x="357" y="110.6" font-size="5.05" font-weight="bold" text-anchor="middle">CD16<tspan font-size="4.4" dy="-2.1">+</tspan><tspan dy="2.1"> NK cells</tspan></text>
<text x="0" y="0" font-size="6.8" text-anchor="middle" fill="#111" transform="translate(293.4 121.8) rotate(-90) scale(0.88 1)">Percentage (%)</text>
<path d="M423.1 36.3V73.3" stroke="#666" stroke-width=".5"/>
<path d="M423.1 73.3H518.8" stroke="#777" stroke-width=".4"/>
<text x="420.8" y="74.38" font-size="3" text-anchor="end" fill="#222">0</text>
<path d="M422.3 73.3h1" stroke="#666" stroke-width=".4"/>
<text x="420.8" y="70.78" font-size="3" text-anchor="end" fill="#222">10</text>
<path d="M422.3 69.7h1" stroke="#666" stroke-width=".4"/>
<text x="420.8" y="67.18" font-size="3" text-anchor="end" fill="#222">20</text>
<path d="M422.3 66.1h1" stroke="#666" stroke-width=".4"/>
<text x="420.8" y="63.58" font-size="3" text-anchor="end" fill="#222">30</text>
<path d="M422.3 62.5h1" stroke="#666" stroke-width=".4"/>
<text x="420.8" y="59.98" font-size="3" text-anchor="end" fill="#222">40</text>
<path d="M422.3 58.9h1" stroke="#666" stroke-width=".4"/>
<text x="420.8" y="56.38" font-size="3" text-anchor="end" fill="#222">50</text>
<path d="M422.3 55.3h1" stroke="#666" stroke-width=".4"/>
<text x="420.8" y="52.78" font-size="3" text-anchor="end" fill="#222">60</text>
<path d="M422.3 51.7h1" stroke="#666" stroke-width=".4"/>
<text x="420.8" y="49.18" font-size="3" text-anchor="end" fill="#222">70</text>
<path d="M422.3 48.1h1" stroke="#666" stroke-width=".4"/>
<text x="420.8" y="45.58" font-size="3" text-anchor="end" fill="#222">80</text>
<path d="M422.3 44.5h1" stroke="#666" stroke-width=".4"/>
<text x="420.8" y="41.98" font-size="3" text-anchor="end" fill="#222">90</text>
<path d="M422.3 40.9h1" stroke="#666" stroke-width=".4"/>
<text x="420.8" y="38.38" font-size="3" text-anchor="end" fill="#222">100</text>
<path d="M422.3 37.3h1" stroke="#666" stroke-width=".4"/>
<rect x="425.6" y="72.5" width="3.2" height="0.8" fill="#c8c8c8" stroke="#777" stroke-width=".4"/>
<text x="427.2" y="71.5" font-size="3.6" text-anchor="middle" fill="#333">2</text>
<text x="429.7" y="76.9" font-size="4.5" text-anchor="end" fill="#222" transform="rotate(-45 429.7 76.9)">CXCR1</text>
<rect x="433.6" y="72.5" width="3.2" height="0.8" fill="#c8c8c8" stroke="#777" stroke-width=".4"/>
<text x="435.2" y="71.5" font-size="3.6" text-anchor="middle" fill="#333">2</text>
<text x="437.7" y="76.9" font-size="4.5" text-anchor="end" fill="#222" transform="rotate(-45 437.7 76.9)">CXCR2</text>
<rect x="441.6" y="40.9" width="3.2" height="32.4" fill="#c8c8c8" stroke="#777" stroke-width=".4"/>
<text x="443.2" y="39.9" font-size="3.6" text-anchor="middle" fill="#333">90</text>
<text x="445.7" y="76.9" font-size="4.5" text-anchor="end" fill="#222" transform="rotate(-45 445.7 76.9)">CXCR3</text>
<rect x="449.6" y="70.78" width="3.2" height="2.52" fill="#c8c8c8" stroke="#777" stroke-width=".4"/>
<text x="451.2" y="69.78" font-size="3.6" text-anchor="middle" fill="#333">7</text>
<text x="453.7" y="76.9" font-size="4.5" text-anchor="end" fill="#222" transform="rotate(-45 453.7 76.9)">CXCR4</text>
<rect x="457.6" y="70.78" width="3.2" height="2.52" fill="#c8c8c8" stroke="#777" stroke-width=".4"/>
<text x="459.2" y="69.78" font-size="3.6" text-anchor="middle" fill="#333">7</text>
<text x="461.7" y="76.9" font-size="4.5" text-anchor="end" fill="#222" transform="rotate(-45 461.7 76.9)">CCR1</text>
<rect x="465.6" y="70.78" width="3.2" height="2.52" fill="#c8c8c8" stroke="#777" stroke-width=".4"/>
<text x="467.2" y="69.78" font-size="3.6" text-anchor="middle" fill="#333">7</text>
<text x="469.7" y="76.9" font-size="4.5" text-anchor="end" fill="#222" transform="rotate(-45 469.7 76.9)">CCR2</text>
<rect x="473.6" y="72.5" width="3.2" height="0.8" fill="#c8c8c8" stroke="#777" stroke-width=".4"/>
<text x="475.2" y="71.5" font-size="3.6" text-anchor="middle" fill="#333">2</text>
<text x="477.7" y="76.9" font-size="4.5" text-anchor="end" fill="#222" transform="rotate(-45 477.7 76.9)">CCR3</text>
<rect x="481.6" y="62.14" width="3.2" height="11.16" fill="#c8c8c8" stroke="#777" stroke-width=".4"/>
<text x="483.2" y="61.14" font-size="3.6" text-anchor="middle" fill="#333">31</text>
<text x="485.7" y="76.9" font-size="4.5" text-anchor="end" fill="#222" transform="rotate(-45 485.7 76.9)">CCR4</text>
<rect x="489.6" y="72.5" width="3.2" height="0.8" fill="#c8c8c8" stroke="#777" stroke-width=".4"/>
<text x="491.2" y="71.5" font-size="3.6" text-anchor="middle" fill="#333">1</text>
<text x="493.7" y="76.9" font-size="4.5" text-anchor="end" fill="#222" transform="rotate(-45 493.7 76.9)">CCR5</text>
<rect x="497.6" y="71.14" width="3.2" height="2.16" fill="#c8c8c8" stroke="#777" stroke-width=".4"/>
<text x="499.2" y="70.14" font-size="3.6" text-anchor="middle" fill="#333">6</text>
<text x="501.7" y="76.9" font-size="4.5" text-anchor="end" fill="#222" transform="rotate(-45 501.7 76.9)">CCR6</text>
<rect x="505.6" y="71.5" width="3.2" height="1.8" fill="#c8c8c8" stroke="#777" stroke-width=".4"/>
<text x="507.2" y="70.5" font-size="3.6" text-anchor="middle" fill="#333">5</text>
<text x="509.7" y="76.9" font-size="4.5" text-anchor="end" fill="#222" transform="rotate(-45 509.7 76.9)">CCR7</text>
<rect x="513.6" y="72.22" width="3.2" height="1.08" fill="#c8c8c8" stroke="#777" stroke-width=".4"/>
<text x="515.2" y="71.22" font-size="3.6" text-anchor="middle" fill="#333">3</text>
<text x="517.7" y="76.9" font-size="4.5" text-anchor="end" fill="#222" transform="rotate(-45 517.7 76.9)">CX3CR1</text>
<rect x="462.3" y="31.9" width="8.8" height="41.6" fill="none" stroke="#555" stroke-width=".5" stroke-dasharray="2.2 1.6"/>
<text x="496.3" y="37" font-size="5.05" font-weight="bold" text-anchor="middle">Healthy Donor</text>
<text x="496.9" y="43.4" font-size="5.05" font-weight="bold" text-anchor="middle">CD16<tspan font-size="4.4" dy="-2.1">+</tspan><tspan dy="2.1"> CANK cells</tspan></text>
<text x="0" y="0" font-size="6.4" text-anchor="middle" fill="#111" transform="translate(412.3 55.3) rotate(-90) scale(0.92 1)">Percentage (%)</text>
<path d="M423.7 104.6V140.8" stroke="#666" stroke-width=".5"/>
<path d="M423.7 140.8H518.2" stroke="#777" stroke-width=".4"/>
<text x="421.4" y="141.88" font-size="3" text-anchor="end" fill="#222">0</text>
<path d="M422.9 140.8h1" stroke="#666" stroke-width=".4"/>
<text x="421.4" y="138.36" font-size="3" text-anchor="end" fill="#222">10</text>
<path d="M422.9 137.28h1" stroke="#666" stroke-width=".4"/>
<text x="421.4" y="134.84" font-size="3" text-anchor="end" fill="#222">20</text>
<path d="M422.9 133.76h1" stroke="#666" stroke-width=".4"/>
<text x="421.4" y="131.32" font-size="3" text-anchor="end" fill="#222">30</text>
<path d="M422.9 130.24h1" stroke="#666" stroke-width=".4"/>
<text x="421.4" y="127.8" font-size="3" text-anchor="end" fill="#222">40</text>
<path d="M422.9 126.72h1" stroke="#666" stroke-width=".4"/>
<text x="421.4" y="124.28" font-size="3" text-anchor="end" fill="#222">50</text>
<path d="M422.9 123.2h1" stroke="#666" stroke-width=".4"/>
<text x="421.4" y="120.76" font-size="3" text-anchor="end" fill="#222">60</text>
<path d="M422.9 119.68h1" stroke="#666" stroke-width=".4"/>
<text x="421.4" y="117.24" font-size="3" text-anchor="end" fill="#222">70</text>
<path d="M422.9 116.16h1" stroke="#666" stroke-width=".4"/>
<text x="421.4" y="113.72" font-size="3" text-anchor="end" fill="#222">80</text>
<path d="M422.9 112.64h1" stroke="#666" stroke-width=".4"/>
<text x="421.4" y="110.2" font-size="3" text-anchor="end" fill="#222">90</text>
<path d="M422.9 109.12h1" stroke="#666" stroke-width=".4"/>
<text x="421.4" y="106.68" font-size="3" text-anchor="end" fill="#222">100</text>
<path d="M422.9 105.6h1" stroke="#666" stroke-width=".4"/>
<rect x="425" y="138.34" width="3.2" height="2.46" fill="#c8c8c8" stroke="#777" stroke-width=".4"/>
<text x="426.6" y="137.34" font-size="3.6" text-anchor="middle" fill="#333">7</text>
<text x="429.1" y="144.4" font-size="4.5" text-anchor="end" fill="#555" transform="rotate(-45 429.1 144.4)">CXCR1</text>
<rect x="433" y="139.74" width="3.2" height="1.06" fill="#c8c8c8" stroke="#777" stroke-width=".4"/>
<text x="434.6" y="138.74" font-size="3.6" text-anchor="middle" fill="#333">3</text>
<text x="437.1" y="144.4" font-size="4.5" text-anchor="end" fill="#555" transform="rotate(-45 437.1 144.4)">CXCR2</text>
<rect x="441" y="109.47" width="3.2" height="31.33" fill="#c8c8c8" stroke="#777" stroke-width=".4"/>
<text x="442.6" y="108.47" font-size="3.6" text-anchor="middle" fill="#333">89</text>
<text x="445.1" y="144.4" font-size="4.5" text-anchor="end" fill="#555" transform="rotate(-45 445.1 144.4)">CXCR3</text>
<rect x="449" y="140" width="3.2" height="0.8" fill="#c8c8c8" stroke="#777" stroke-width=".4"/>
<text x="450.6" y="139" font-size="3.6" text-anchor="middle" fill="#333">2</text>
<text x="453.1" y="144.4" font-size="4.5" text-anchor="end" fill="#555" transform="rotate(-45 453.1 144.4)">CXCR4</text>
<rect x="457" y="137.28" width="3.2" height="3.52" fill="#c8c8c8" stroke="#777" stroke-width=".4"/>
<text x="458.6" y="136.28" font-size="3.6" text-anchor="middle" fill="#333">10</text>
<text x="461.1" y="144.4" font-size="4.5" text-anchor="end" fill="#555" transform="rotate(-45 461.1 144.4)">CCR1</text>
<rect x="465" y="138.34" width="3.2" height="2.46" fill="#c8c8c8" stroke="#777" stroke-width=".4"/>
<text x="466.6" y="137.34" font-size="3.6" text-anchor="middle" fill="#333">7</text>
<text x="469.1" y="144.4" font-size="4.5" text-anchor="end" fill="#555" transform="rotate(-45 469.1 144.4)">CCR2</text>
<rect x="473" y="139.04" width="3.2" height="1.76" fill="#c8c8c8" stroke="#777" stroke-width=".4"/>
<text x="474.6" y="138.04" font-size="3.6" text-anchor="middle" fill="#333">5</text>
<text x="477.1" y="144.4" font-size="4.5" text-anchor="end" fill="#555" transform="rotate(-45 477.1 144.4)">CCR3</text>
<rect x="481" y="125.66" width="3.2" height="15.14" fill="#c8c8c8" stroke="#777" stroke-width=".4"/>
<text x="482.6" y="124.66" font-size="3.6" text-anchor="middle" fill="#333">43</text>
<text x="485.1" y="144.4" font-size="4.5" text-anchor="end" fill="#555" transform="rotate(-45 485.1 144.4)">CCR4</text>
<rect x="489" y="139.39" width="3.2" height="1.41" fill="#c8c8c8" stroke="#777" stroke-width=".4"/>
<text x="490.6" y="138.39" font-size="3.6" text-anchor="middle" fill="#333">4</text>
<text x="493.1" y="144.4" font-size="4.5" text-anchor="end" fill="#555" transform="rotate(-45 493.1 144.4)">CCR5</text>
<rect x="497" y="139.04" width="3.2" height="1.76" fill="#c8c8c8" stroke="#777" stroke-width=".4"/>
<text x="498.6" y="138.04" font-size="3.6" text-anchor="middle" fill="#333">5</text>
<text x="501.1" y="144.4" font-size="4.5" text-anchor="end" fill="#555" transform="rotate(-45 501.1 144.4)">CCR6</text>
<rect x="505" y="139.74" width="3.2" height="1.06" fill="#c8c8c8" stroke="#777" stroke-width=".4"/>
<text x="506.6" y="138.74" font-size="3.6" text-anchor="middle" fill="#333">3</text>
<text x="509.1" y="144.4" font-size="4.5" text-anchor="end" fill="#555" transform="rotate(-45 509.1 144.4)">CCR7</text>
<rect x="513" y="140" width="3.2" height="0.8" fill="#c8c8c8" stroke="#777" stroke-width=".4"/>
<text x="514.6" y="139" font-size="3.6" text-anchor="middle" fill="#333">1</text>
<text x="517.1" y="144.4" font-size="4.5" text-anchor="end" fill="#555" transform="rotate(-45 517.1 144.4)">CX3CR1</text>
<rect x="461.3" y="99" width="9" height="41.8" fill="none" stroke="#555" stroke-width=".5" stroke-dasharray="2.2 1.6"/>
<text x="496.9" y="104.2" font-size="5.05" font-weight="bold" text-anchor="middle">Healthy Donor</text>
<text x="497.4" y="110.7" font-size="5.05" font-weight="bold" text-anchor="middle">CD16<tspan font-size="4.4" dy="-2.1">-</tspan><tspan dy="2.1"> CANK cells</tspan></text>
<text x="0" y="0" font-size="6.4" text-anchor="middle" fill="#111" transform="translate(412.3 124) rotate(-90) scale(0.92 1)">Percentage (%)</text>
<path d="M6.4 252.4L66.4 257.4" stroke="#e8261c" stroke-width=".7" fill="none"/>
<path d="M9.4 249.6L69.5 254.6" stroke="#2a2ae8" stroke-width=".7" fill="none"/>
<path d="M12.5 246.8L72.5 251.8" stroke="#3edc34" stroke-width=".7" fill="none"/>
<path d="M15.5 243.9L75.5 248.9" stroke="#f29a38" stroke-width=".7" fill="none"/>
<path d="M18.6 241.1L78.6 246.1" stroke="#222222" stroke-width=".7" fill="none"/>
<path d="M6.4 252.4L18.6 241.1M13.1 253L25.3 241.7M19.7 253.5L31.9 242.2M26.4 254.1L38.6 242.8M33.1 254.6L45.3 243.3M39.7 255.2L51.9 243.9M46.4 255.7L58.6 244.4M53.1 256.3L65.3 245M59.7 256.8L71.9 245.5M66.4 257.4L78.6 246.1" stroke="#6e4a60" stroke-width=".7" fill="none"/>
<path d="M50.5 243.8L50.8 243.2L51.1 243.8L51.3 242.9L51.6 243.6L51.9 242.6L52.1 243.5L52.4 242.7L52.7 243.1L53 242.2L53.2 242.9L53.5 242.1L53.8 242.4L54 241.3L54.3 242.3L54.6 241.1L54.8 241.3L55.1 240.4L55.4 240.3L55.7 239L55.9 239.8L56.2 237.7L56.5 238.7L56.7 236.9L57 237.4L57.3 235.1L57.5 234.9L57.8 232.3L58.1 233.5L58.4 231.2L58.6 231L58.9 229L59.2 229.5L59.4 226.2L59.7 226.4L60 223.4L60.2 224L60.5 220.6L60.8 220.8L61.1 217.3L61.3 216.7L61.6 213.7L61.9 215L62.1 211.4L62.4 211.2L62.7 208.8L62.9 209.9L63.2 207L63.5 208.8L63.8 206.9L64 210.1L64.3 208.9L64.6 211.7L64.8 211.9L65.1 215.2L65.4 214.2L65.6 217.6L65.9 218.2L66.2 221.6L66.5 221L66.7 224.2L67 224.5L67.3 227.3L67.5 228.3L67.8 231.2L68.1 230L68.3 233.8L68.6 232.6L68.9 235.1L69.2 235.1L69.4 237.2L69.7 236.9L70 239.9L70.2 239.3L70.5 240.4L70.8 240.6L71 242.1L71.3 241.4L71.6 242.6L71.9 242.4L72.1 243.2L72.4 243L72.7 244L72.9 243.4L73.2 244.5L73.5 244.1L73.7 245.2L74 244.7L74.3 245.3L74.6 244.6L74.8 245.5L75.1 245.2L75.4 245.5L75.6 245.9" stroke="#000000" stroke-width="1.28" fill="none" stroke-linejoin="round"/>
<path d="M50.5 243.8L50.8 243L51.1 243.7L51.3 242.8L51.6 243.8L51.9 242.7L52.1 243.3L52.4 242.5L52.7 243L53 242.1L53.2 242.7L53.5 241.9L53.8 242.3L54 241.6L54.3 241.7L54.6 240.8L54.8 241.7L55.1 240.3L55.4 240.5L55.7 239.5L55.9 240L56.2 237.7L56.5 238.9L56.7 236.3L57 236.6L57.3 235.1L57.5 235.7L57.8 233.1L58.1 233.7L58.4 230.6L58.6 231.3L58.9 228.1L59.2 228.4L59.4 225.5L59.7 226.9L60 223.4L60.2 224L60.5 220.8L60.8 220.2L61.1 216.6L61.3 217.9L61.6 214.3L61.9 214.2L62.1 211.3L62.4 211.7L62.7 209.5L62.9 209.7L63.2 207.9L63.5 209.3L63.8 207L64 210.2L64.3 209.8L64.6 211.8L64.8 212.2L65.1 214.6L65.4 214.6L65.6 218.2L65.9 218.1L66.2 221.6L66.5 221.4L66.7 224.6L67 224.1L67.3 227.9L67.5 227.6L67.8 231.4L68.1 230.3L68.3 233L68.6 232.9L68.9 235.4L69.2 235.4L69.4 237.5L69.7 236.9L70 239.4L70.2 238.4L70.5 240.4L70.8 240.1L71 241.7L71.3 241.5L71.6 242.9L71.9 242.1L72.1 243.7L72.4 243.3L72.7 244.1L72.9 243.5L73.2 244.4L73.5 244.3L73.7 245L74 244.4L74.3 245.4L74.6 244.7L74.8 245.6L75.1 245.1L75.4 245.6L75.6 245.9" stroke="#000000" stroke-width="1.28" fill="none" stroke-linejoin="round"/>
<path d="M50.5 243.8L50.8 242.9L51.1 243.5L51.3 242.8L51.6 243.4L51.9 242.8L52.1 243.4L52.4 242.6L52.7 242.9L53 242.2L53.2 243.1L53.5 242.1L53.8 242.3L54 241.3L54.3 241.7L54.6 241.2L54.8 241.1L55.1 240.1L55.4 240.3L55.7 239.5L55.9 240.1L56.2 237.5L56.5 238.5L56.7 237L57 236.8L57.3 235.2L57.5 235.9L57.8 232.5L58.1 233.5L58.4 230.3L58.6 230.9L58.9 228.7L59.2 229.5L59.4 226.4L59.7 226L60 223.3L60.2 223.3L60.5 220.2L60.8 220.3L61.1 216.8L61.3 218L61.6 214.1L61.9 214.5L62.1 211.8L62.4 211.6L62.7 209.4L62.9 209.6L63.2 206.6L63.5 208.7L63.8 206.9L64 210.3L64.3 208.8L64.6 211.8L64.8 211.3L65.1 214.6L65.4 215.4L65.6 218.2L65.9 218.8L66.2 222.1L66.5 221.7L66.7 225.5L67 224.4L67.3 227.6L67.5 227.5L67.8 231L68.1 230.7L68.3 233.3L68.6 232.6L68.9 235.7L69.2 234.7L69.4 237.9L69.7 237.5L70 239.6L70.2 239L70.5 240.8L70.8 240.2L71 242L71.3 241.1L71.6 242.5L71.9 242.5L72.1 243.2L72.4 242.9L72.7 243.9L72.9 243.9L73.2 244.4L73.5 244.3L73.7 245L74 244.7L74.3 245.2L74.6 244.9L74.8 245.7L75.1 244.9L75.4 245.6L75.6 245.9" stroke="#000000" stroke-width="1.28" fill="none" stroke-linejoin="round"/>
<path d="M30.2 245.1L30.5 244.4L30.7 245.2L31 244.2L31.3 245.1L31.5 244.4L31.8 245.1L32.1 244.1L32.4 244.9L32.6 243.8L32.9 244.4L33.2 243.4L33.4 244.2L33.7 243.1L34 243.9L34.2 242.6L34.5 243.7L34.8 242.1L35 243.3L35.3 241.5L35.6 242.4L35.9 240.8L36.1 242.3L36.4 240.6L36.7 240.6L36.9 239.4L37.2 240.4L37.5 238.7L37.8 239.3L38 237.2L38.3 238.6L38.6 235.9L38.8 237.5L39.1 233.7L39.4 236.2L39.6 231.9L39.9 233.4L40.2 231.2L40.5 231.9L40.7 229.8L41 231.6L41.3 227.8L41.5 230.4L41.8 227L42.1 228.9L42.3 226.3L42.6 227.9L42.9 224.6L43.2 226.7L43.4 224.7L43.7 227.2L44 223.7L44.2 227.3L44.5 225.2L44.8 227.6L45 225.8L45.3 227.4L45.6 225.4L45.9 227.7L46.1 226.4L46.4 228.2L46.7 226.9L46.9 229L47.2 226.9L47.5 229.1L47.7 228.2L48 230.7L48.3 228.8L48.6 230.3L48.8 228.3L49.1 231.8L49.4 229.4L49.6 232.4L49.9 229.9L50.2 232L50.4 230.3L50.7 234.4L51 231.2L51.2 234.1L51.5 232.9L51.8 235.3L52.1 233.4L52.3 235.4L52.6 232.7L52.9 236.3L53.1 234.3L53.4 236.1L53.7 234.7L54 237.1L54.2 236.1L54.5 238.8L54.8 235.9L55 238.9L55.3 236.6L55.6 239.6L55.8 237.4L56.1 239L56.4 238.3L56.7 239.5L56.9 239.2L57.2 240.3L57.5 238.9L57.7 241.1L58 239.6L58.3 242.1L58.5 239.6L58.8 242L59.1 240.2L59.4 242.4L59.6 240.7L59.9 242.6L60.2 241.9L60.4 242.9L60.7 242.3L61 243.8L61.2 242.9L61.5 243.8L61.8 243L62.1 244.9L62.3 243.5L62.6 245.3L62.9 244.2L63.1 245.6L63.4 244.1L63.7 246L63.9 244.6L64.2 245.5L64.5 244.7L64.8 246.2L65 245.5L65.3 246.4L65.6 245.9L65.8 246.7L66.1 246.2L66.4 246.7L66.6 245.9L66.9 247.5L67.2 246.1L67.5 247.2L67.7 246.6L68 247.5L68.3 246.7L68.5 247.7L68.8 246.9L69.1 247.7L69.3 247.5L69.6 248.4L69.9 247.5L70.2 248.4L70.4 247.6L70.7 248.4L71 247.6L71.2 248.6L71.5 247.5L71.8 248.6L72 248.1L72.3 248.7" stroke="#f29a38" stroke-width="1.28" fill="none" stroke-linejoin="round"/>
<path d="M30.2 245.1L30.5 244.6L30.7 245.1L31 244.4L31.3 245L31.5 244.5L31.8 244.6L32.1 243.8L32.4 244.5L32.6 243.6L32.9 244.8L33.2 243.8L33.4 244L33.7 243.6L34 244L34.2 242.7L34.5 243.7L34.8 242.7L35 243.3L35.3 242.1L35.6 242.4L35.9 241.2L36.1 242.1L36.4 239.9L36.7 241.2L36.9 239.1L37.2 240.9L37.5 238L37.8 240L38 236.8L38.3 238.5L38.6 235.7L38.8 236.9L39.1 234.7L39.4 236L39.6 233.3L39.9 233.2L40.2 230.5L40.5 232.7L40.7 229L41 231L41.3 228.3L41.5 229.5L41.8 226.6L42.1 227.8L42.3 226.2L42.6 227.4L42.9 225L43.2 226.4L43.4 224L43.7 227.5L44 224.3L44.2 227.7L44.5 225.5L44.8 227.4L45 225L45.3 228.2L45.6 225L45.9 228.6L46.1 227.1L46.4 228.1L46.7 226.5L46.9 228.4L47.2 226.6L47.5 230.2L47.7 227.6L48 230.5L48.3 227.6L48.6 230.1L48.8 228.3L49.1 232L49.4 230.5L49.6 232.5L49.9 231L50.2 232.9L50.4 230.6L50.7 234.1L51 231.3L51.2 233.9L51.5 231.8L51.8 234.7L52.1 233.5L52.3 235.8L52.6 233.9L52.9 236.6L53.1 234.6L53.4 237.2L53.7 235.1L54 236.9L54.2 236.3L54.5 237.9L54.8 235.3L55 239.3L55.3 236.7L55.6 239.1L55.8 237.1L56.1 239.9L56.4 237.4L56.7 240.7L56.9 238.6L57.2 241.1L57.5 238.7L57.7 240.4L58 239L58.3 241.6L58.5 239.9L58.8 242.6L59.1 241.1L59.4 242.4L59.6 240.8L59.9 243.4L60.2 242L60.4 243.2L60.7 241.8L61 244.3L61.2 242.9L61.5 243.9L61.8 242.7L62.1 244.9L62.3 243.1L62.6 244.7L62.9 243.9L63.1 245.4L63.4 244.3L63.7 245.7L63.9 244.7L64.2 245.6L64.5 245.2L64.8 246.3L65 245.7L65.3 246.2L65.6 246L65.8 247.1L66.1 246.3L66.4 246.9L66.6 245.9L66.9 246.9L67.2 246.7L67.5 247.7L67.7 246.7L68 247.5L68.3 246.5L68.5 247.6L68.8 247L69.1 248.2L69.3 247L69.6 247.9L69.9 247.3L70.2 247.9L70.4 247.5L70.7 248.3L71 247.7L71.2 248.6L71.5 247.8L71.8 248.5L72 248.2L72.3 248.7" stroke="#f29a38" stroke-width="1.28" fill="none" stroke-linejoin="round"/>
<path d="M30.2 245.1L30.5 244.5L30.7 244.9L31 244.2L31.3 245.2L31.5 244.5L31.8 244.9L32.1 244.3L32.4 244.7L32.6 243.5L32.9 244.8L33.2 243.4L33.4 244.5L33.7 242.9L34 244.4L34.2 242.7L34.5 243.6L34.8 242.4L35 243.4L35.3 241.3L35.6 242.2L35.9 241L36.1 242.3L36.4 240.2L36.7 240.7L36.9 239.1L37.2 240.2L37.5 237.7L37.8 238.6L38 237.5L38.3 238.2L38.6 235.4L38.8 237.5L39.1 234.9L39.4 234.9L39.6 233.4L39.9 234.4L40.2 230.7L40.5 233.4L40.7 229.9L41 230.5L41.3 227.7L41.5 230.2L41.8 225.9L42.1 227.4L42.3 225.8L42.6 227.1L42.9 223.7L43.2 226.7L43.4 224.2L43.7 226L44 225.3L44.2 227.3L44.5 225.5L44.8 226.4L45 224.4L45.3 226.8L45.6 225.6L45.9 227.8L46.1 226.6L46.4 229.3L46.7 227.4L46.9 228.4L47.2 226.6L47.5 229.1L47.7 227.6L48 230L48.3 228.1L48.6 230.8L48.8 229.5L49.1 231.5L49.4 229.3L49.6 231.7L49.9 230.2L50.2 233.1L50.4 231.2L50.7 234.1L51 231.9L51.2 233.9L51.5 232.7L51.8 235.1L52.1 232.6L52.3 236.2L52.6 234.4L52.9 236.4L53.1 234.3L53.4 237L53.7 235.6L54 237.7L54.2 234.8L54.5 237.4L54.8 236.5L55 238.4L55.3 237.1L55.6 239.3L55.8 237.5L56.1 240.1L56.4 237.2L56.7 240.6L56.9 238L57.2 240.7L57.5 238.8L57.7 241.7L58 239.5L58.3 241L58.5 240.1L58.8 242.6L59.1 240.6L59.4 243.1L59.6 241.5L59.9 243.4L60.2 241.2L60.4 243.1L60.7 242.1L61 243.6L61.2 242.6L61.5 244.5L61.8 242.7L62.1 244.4L62.3 244L62.6 245.4L62.9 243.9L63.1 244.9L63.4 244.4L63.7 246L63.9 244.9L64.2 246.3L64.5 245.3L64.8 246.5L65 245.2L65.3 246.8L65.6 245.6L65.8 246.9L66.1 246L66.4 247L66.6 245.9L66.9 246.9L67.2 246.8L67.5 247.7L67.7 246.8L68 247.9L68.3 247.1L68.5 247.9L68.8 246.8L69.1 247.9L69.3 247L69.6 247.8L69.9 247.6L70.2 248.5L70.4 247.8L70.7 248.1L71 247.6L71.2 248.5L71.5 247.8L71.8 248.3L72 247.7L72.3 248.7" stroke="#f29a38" stroke-width="1.28" fill="none" stroke-linejoin="round"/>
<path d="M14.2 246.9L14.4 246.2L14.7 246.8L15 246L15.3 246.8L15.5 245.9L15.8 246.9L16.1 246.3L16.3 246.8L16.6 245.9L16.9 247.1L17.2 246.1L17.4 246.7L17.7 246.1L18 246.9L18.2 245.8L18.5 246.6L18.8 245.1L19 246L19.3 245.7L19.6 246.5L19.9 244.7L20.1 246.3L20.4 244.7L20.7 246.2L20.9 244.6L21.2 245.4L21.5 243.9L21.7 245.3L22 243.3L22.3 244.7L22.6 243.8L22.8 243.9L23.1 243.1L23.4 243.7L23.6 242.8L23.9 243.2L24.2 241.9L24.4 243.4L24.7 240.3L25 242.7L25.2 240.4L25.5 241.9L25.8 238.7L26.1 240L26.3 238.4L26.6 240.1L26.9 237.2L27.1 238.8L27.4 235.5L27.7 237.2L28 234.9L28.2 236.9L28.5 233L28.8 235.8L29 232.1L29.3 232.9L29.6 230.1L29.8 231.3L30.1 229.2L30.4 229.7L30.7 227L30.9 228.3L31.2 224.6L31.5 226.4L31.7 223.8L32 224.3L32.3 221.1L32.5 223L32.8 219.1L33.1 220.6L33.4 218.2L33.6 219.5L33.9 217.1L34.2 218.3L34.4 213.5L34.7 216.9L35 212.6L35.2 214.4L35.5 211.9L35.8 214L36 209.8L36.3 213L36.6 210.3L36.9 212.7L37.1 210.9L37.4 213.4L37.7 211.4L37.9 214.2L38.2 212.9L38.5 216L38.8 215.7L39 219.3L39.3 217.7L39.6 221.2L39.8 219.1L40.1 222.2L40.4 220.2L40.6 223.6L40.9 222.8L41.2 227L41.5 224.4L41.7 227.9L42 226.2L42.3 229.8L42.5 229L42.8 231.3L43.1 230.5L43.3 233.3L43.6 232.9L43.9 235.5L44.2 233.2L44.4 237.7L44.7 236L45 238.2L45.2 237.1L45.5 240.5L45.8 237.2L46 241.1L46.3 238.7L46.6 241.5L46.9 239.9L47.1 243.5L47.4 242L47.7 243.7L47.9 241.9L48.2 244.5L48.5 243.6L48.7 245.4L49 244.2L49.3 245.6L49.6 244.6L49.8 246.4L50.1 245.6L50.4 246.7L50.6 246.4L50.9 247.2L51.2 246.4L51.4 247.7L51.7 247.6L52 248.4L52.3 247.5L52.5 248.8L52.8 248.2L53.1 248.7L53.3 248.1L53.6 249.6L53.9 248.6L54.1 249.2L54.4 248.6L54.7 249.4L55 248.8L55.2 249.7L55.5 249.1L55.8 250.3L56 249.4L56.3 250.4L56.6 249.7L56.8 250.4L57.1 249.8L57.4 250.5L57.7 249.8L57.9 250.5L58.2 250.6" stroke="#3edc34" stroke-width="1.28" fill="none" stroke-linejoin="round"/>
<path d="M14.2 246.9L14.4 246.1L14.7 246.9L15 246L15.3 247L15.5 245.8L15.8 246.6L16.1 246.2L16.3 246.6L16.6 245.9L16.9 246.5L17.2 245.6L17.4 246.6L17.7 245.9L18 246.5L18.2 245.8L18.5 246.7L18.8 245.2L19 246.5L19.3 245L19.6 246.4L19.9 244.9L20.1 245.8L20.4 245.1L20.7 246L20.9 244.7L21.2 245.8L21.5 244.5L21.7 245.5L22 244L22.3 245.3L22.6 243.5L22.8 245L23.1 242.5L23.4 244.5L23.6 242L23.9 243.8L24.2 242.2L24.4 243.2L24.7 241.3L25 241.8L25.2 240.5L25.5 240.7L25.8 238.6L26.1 241.1L26.3 237.8L26.6 239.3L26.9 237.4L27.1 238.8L27.4 236.6L27.7 236.9L28 235.3L28.2 235.6L28.5 233.5L28.8 235.8L29 232.9L29.3 234.5L29.6 229.8L29.8 231.9L30.1 228.8L30.4 231.2L30.7 226.5L30.9 228.5L31.2 225.6L31.5 226.7L31.7 224.2L32 225.8L32.3 222.6L32.5 222.4L32.8 220.2L33.1 222.4L33.4 217.7L33.6 220.3L33.9 215.3L34.2 217.1L34.4 214.2L34.7 216.2L35 212.2L35.2 214.8L35.5 210.8L35.8 213.7L36 209.3L36.3 212.8L36.6 209.2L36.9 212.6L37.1 210.7L37.4 212.7L37.7 212.1L37.9 214.6L38.2 213.2L38.5 215.7L38.8 215.8L39 218.6L39.3 216.8L39.6 221.1L39.8 219.8L40.1 221.9L40.4 220.8L40.6 225.1L40.9 223.9L41.2 227.4L41.5 224.7L41.7 228.8L42 227.3L42.3 231.4L42.5 228.7L42.8 233.1L43.1 230L43.3 233L43.6 231.6L43.9 235.5L44.2 233.2L44.4 236.6L44.7 235.7L45 239.4L45.2 236.1L45.5 240.7L45.8 237.5L46 241.8L46.3 240.3L46.6 242.2L46.9 241.2L47.1 242.4L47.4 241.3L47.7 243.6L47.9 242.4L48.2 245.2L48.5 243.6L48.7 245.2L49 244.1L49.3 246L49.6 244.7L49.8 246.8L50.1 245.7L50.4 247.2L50.6 246.1L50.9 247.4L51.2 246.6L51.4 248.3L51.7 247.2L52 248.8L52.3 247.3L52.5 249.1L52.8 247.5L53.1 248.7L53.3 247.9L53.6 249.5L53.9 248.3L54.1 249.7L54.4 249L54.7 249.7L55 248.9L55.2 250.2L55.5 248.8L55.8 249.9L56 249.5L56.3 250.4L56.6 249.7L56.8 250L57.1 249.9L57.4 250.5L57.7 249.9L57.9 250.4L58.2 250.6" stroke="#3edc34" stroke-width="1.28" fill="none" stroke-linejoin="round"/>
<path d="M14.2 246.9L14.4 246.1L14.7 246.9L15 246L15.3 247L15.5 246.1L15.8 246.8L16.1 245.8L16.3 247L16.6 245.9L16.9 247L17.2 245.9L17.4 247L17.7 246L18 246.5L18.2 245.8L18.5 246.7L18.8 245.6L19 246.7L19.3 244.9L19.6 246.6L19.9 244.8L20.1 245.8L20.4 244.9L20.7 245.5L20.9 244.4L21.2 245.5L21.5 243.9L21.7 244.8L22 243.6L22.3 245.3L22.6 243.6L22.8 244.6L23.1 242.3L23.4 244L23.6 242.5L23.9 243.9L24.2 241.4L24.4 242.4L24.7 240.8L25 242.9L25.2 240.3L25.5 242L25.8 238.6L26.1 241.5L26.3 237.5L26.6 239.8L26.9 236.9L27.1 238.1L27.4 235.5L27.7 238.2L28 235.2L28.2 237.1L28.5 234.3L28.8 234.8L29 232L29.3 233.6L29.6 231.3L29.8 231.3L30.1 229.8L30.4 230.7L30.7 228.1L30.9 229.3L31.2 224.6L31.5 226L31.7 223.9L32 225.3L32.3 220.9L32.5 223.5L32.8 220.2L33.1 222L33.4 217.8L33.6 219.6L33.9 216.3L34.2 218.2L34.4 214.3L34.7 216.2L35 212L35.2 214L35.5 212L35.8 213.3L36 210.7L36.3 212.7L36.6 209.9L36.9 212.9L37.1 210.7L37.4 214L37.7 210.7L37.9 214L38.2 212.8L38.5 216.7L38.8 214.4L39 218.8L39.3 217L39.6 220.5L39.8 219.3L40.1 222.7L40.4 221.3L40.6 223.8L40.9 222.2L41.2 227.4L41.5 226L41.7 228.2L42 226.4L42.3 230.1L42.5 228.5L42.8 231.3L43.1 230L43.3 234.8L43.6 231.8L43.9 236.1L44.2 234.2L44.4 237.6L44.7 236L45 239.3L45.2 236.5L45.5 239.1L45.8 237.4L46 241.3L46.3 239.3L46.6 242.6L46.9 241.3L47.1 243.7L47.4 241.3L47.7 244L47.9 242.1L48.2 244.9L48.5 243.6L48.7 245.5L49 243.9L49.3 246.3L49.6 245.4L49.8 246.3L50.1 245.3L50.4 247.7L50.6 245.9L50.9 248L51.2 246.8L51.4 248.5L51.7 247.2L52 248.4L52.3 247.5L52.5 248.5L52.8 248.2L53.1 248.7L53.3 248.3L53.6 249.3L53.9 248.8L54.1 249.6L54.4 248.6L54.7 249.4L55 249L55.2 249.6L55.5 249.4L55.8 249.8L56 249.6L56.3 249.9L56.6 249.6L56.8 250.4L57.1 249.5L57.4 250.4L57.7 249.7L57.9 250.3L58.2 250.6" stroke="#3edc34" stroke-width="1.28" fill="none" stroke-linejoin="round"/>
<path d="M4.6 249.1L4.9 248.2L5.2 248.8L5.5 248.1L5.7 249.3L6 248.1L6.3 248.8L6.5 248.4L6.8 248.7L7.1 248.3L7.3 248.6L7.6 247.5L7.9 248.7L8.2 247.8L8.4 248.7L8.7 247.1L9 248.8L9.2 247.7L9.5 247.9L9.8 246.8L10.1 248.2L10.3 246.8L10.6 247.9L10.9 246.6L11.1 247.7L11.4 245.7L11.7 247.1L11.9 245.9L12.2 247.2L12.5 245.2L12.8 246.6L13 245.2L13.3 246.2L13.6 243.8L13.8 245.6L14.1 243.6L14.4 244.1L14.6 242.2L14.9 243.8L15.2 242.3L15.4 243.4L15.7 241L16 242.5L16.3 239.4L16.5 241.9L16.8 239.7L17.1 240.2L17.3 237.3L17.6 239.6L17.9 237.4L18.1 239.3L18.4 234.8L18.7 236.2L19 234.1L19.2 235.7L19.5 232.5L19.8 234.5L20 230.3L20.3 232.9L20.6 229L20.9 231.3L21.1 228.9L21.4 229.1L21.7 227.1L21.9 228.1L22.2 225.3L22.5 226.4L22.7 223.6L23 225.5L23.3 221.5L23.6 223.6L23.8 220.5L24.1 223.5L24.4 219.1L24.6 221.3L24.9 219L25.2 221.1L25.4 217.9L25.7 221.3L26 218.7L26.2 223L26.5 219.6L26.8 223.9L27.1 222.4L27.3 225L27.6 223.4L27.9 226.4L28.1 225.4L28.4 227.9L28.7 225.5L28.9 229.4L29.2 228.4L29.5 231.1L29.8 228.2L30 232.8L30.3 230.5L30.6 234.7L30.8 232.8L31.1 235.7L31.4 233.1L31.6 237.8L31.9 234.2L32.2 238.8L32.5 236.6L32.7 239.5L33 237L33.3 241.4L33.5 238.6L33.8 241.3L34.1 239.8L34.4 242.3L34.6 241.3L34.9 243.3L35.2 242.4L35.4 245.2L35.7 243.2L36 246.2L36.2 243.4L36.5 246L36.8 245.6L37.1 247.6L37.3 245.2L37.6 247.5L37.9 246.9L38.1 248.7L38.4 246.7L38.7 249L38.9 247.2L39.2 248.7L39.5 248.4L39.8 249.7L40 248.5L40.3 250L40.6 248.7L40.8 250.5L41.1 249.5L41.4 250.7L41.6 250L41.9 251.4L42.2 250L42.5 251.3L42.7 250.6L43 251.3L43.3 250.9L43.5 251.8L43.8 251.1L44.1 252.1L44.3 251.2L44.6 252L44.9 251.2L45.2 252L45.4 251.7L45.7 252.5L46 251.4L46.2 252.6L46.5 251.5L46.8 252.7L47 251.6L47.3 252.7L47.6 252L47.9 252.8" stroke="#1a1ae8" stroke-width="1.28" fill="none" stroke-linejoin="round"/>
<path d="M4.6 248.9L4.9 248.2L5.2 248.8L5.5 248.5L5.7 249.1L6 248.1L6.3 248.8L6.5 248L6.8 249L7.1 248L7.3 249L7.6 248.2L7.9 248.5L8.2 247.7L8.4 248.3L8.7 247.3L9 248.6L9.2 247.6L9.5 248.1L9.8 247.4L10.1 247.9L10.3 246.8L10.6 247.7L10.9 246.3L11.1 247.8L11.4 246.6L11.7 246.8L11.9 245.4L12.2 246.8L12.5 245.6L12.8 246.7L13 244.7L13.3 245.4L13.6 243.5L13.8 244.6L14.1 243.6L14.4 244L14.6 243.3L14.9 244.3L15.2 241L15.4 244.1L15.7 240.3L16 242.7L16.3 239.3L16.5 241.6L16.8 237.9L17.1 241.2L17.3 238.1L17.6 238.9L17.9 236.3L18.1 238.7L18.4 235.9L18.7 237.6L19 234.3L19.2 236.7L19.5 232.6L19.8 235.2L20 231.7L20.3 233.6L20.6 229.3L20.9 231L21.1 228.8L21.4 229.7L21.7 227.1L21.9 227.8L22.2 225.3L22.5 226.5L22.7 223.8L23 226.1L23.3 223L23.6 223.5L23.8 221.2L24.1 222L24.4 220.1L24.6 222.4L24.9 219.3L25.2 221.7L25.4 219L25.7 221.2L26 219.7L26.2 222.2L26.5 221.1L26.8 223L27.1 222.4L27.3 225.8L27.6 222.9L27.9 226.9L28.1 225.3L28.4 227.4L28.7 226.8L28.9 228.9L29.2 226.9L29.5 231L29.8 228.3L30 232.1L30.3 231.2L30.6 233L30.8 231.7L31.1 236L31.4 234.1L31.6 236.4L31.9 234.1L32.2 237.3L32.5 237.4L32.7 239.7L33 238.5L33.3 241.2L33.5 238.9L33.8 241.6L34.1 239.9L34.4 243.4L34.6 241.6L34.9 243.9L35.2 241.5L35.4 245.7L35.7 242.6L36 246.2L36.2 244.2L36.5 245.9L36.8 245.3L37.1 247.2L37.3 245.7L37.6 247.8L37.9 246.7L38.1 248.7L38.4 247L38.7 248.7L38.9 247.7L39.2 249L39.5 248.3L39.8 249.5L40 248.4L40.3 249.9L40.6 249.4L40.8 250.6L41.1 249.7L41.4 250.9L41.6 249.6L41.9 251.2L42.2 250.1L42.5 251.7L42.7 250.8L43 251.9L43.3 250.5L43.5 251.9L43.8 251L44.1 251.7L44.3 250.9L44.6 252.4L44.9 251.3L45.2 252.3L45.4 251.8L45.7 252.2L46 251.6L46.2 252.6L46.5 251.8L46.8 252.7L47 251.6L47.3 252.7L47.6 251.7L47.9 252.8" stroke="#1a1ae8" stroke-width="1.28" fill="none" stroke-linejoin="round"/>
<path d="M4.6 249.1L4.9 248.6L5.2 248.9L5.5 248.2L5.7 249.2L6 248.4L6.3 248.7L6.5 247.9L6.8 248.9L7.1 248.1L7.3 249.2L7.6 247.8L7.9 248.7L8.2 247.8L8.4 248.9L8.7 247.7L9 248.2L9.2 247.1L9.5 248.6L9.8 247.1L10.1 248.1L10.3 246.9L10.6 247.8L10.9 246.3L11.1 247.5L11.4 245.8L11.7 246.9L11.9 245.6L12.2 246.9L12.5 245.1L12.8 246.2L13 244.2L13.3 245.7L13.6 244.6L13.8 244.7L14.1 242.9L14.4 244.6L14.6 242.2L14.9 243.4L15.2 241.8L15.4 242.5L15.7 240.7L16 242.7L16.3 239.7L16.5 241.2L16.8 239.5L17.1 239.9L17.3 238.1L17.6 240L17.9 235.9L18.1 238.4L18.4 234.9L18.7 236.9L19 234.1L19.2 236.3L19.5 232.5L19.8 234.5L20 231.7L20.3 232L20.6 230.2L20.9 230.5L21.1 228.9L21.4 229.8L21.7 227.1L21.9 228.5L22.2 224.4L22.5 227.2L22.7 223.8L23 225.9L23.3 221.4L23.6 223.1L23.8 220.9L24.1 222.8L24.4 220.1L24.6 222.5L24.9 218.4L25.2 220.2L25.4 219.1L25.7 220.8L26 219.4L26.2 221.6L26.5 220.8L26.8 222.9L27.1 221.9L27.3 225.7L27.6 224L27.9 225.5L28.1 224.4L28.4 227.6L28.7 225.4L28.9 228.4L29.2 227.1L29.5 231.5L29.8 228.5L30 232.4L30.3 229.8L30.6 234.5L30.8 232L31.1 235.6L31.4 234.7L31.6 236.6L31.9 235.5L32.2 238L32.5 237.1L32.7 239.4L33 237L33.3 241.4L33.5 239.5L33.8 241.4L34.1 240.1L34.4 243.7L34.6 241.9L34.9 243.1L35.2 242.1L35.4 244.4L35.7 242.5L36 245.9L36.2 243.4L36.5 246.6L36.8 244.7L37.1 247.1L37.3 246.2L37.6 247.1L37.9 246.7L38.1 248.8L38.4 247.4L38.7 248.2L38.9 247.4L39.2 249L39.5 248.5L39.8 250.1L40 248.2L40.3 250.5L40.6 249.1L40.8 250.7L41.1 249.8L41.4 251.1L41.6 250.2L41.9 250.6L42.2 250.3L42.5 251.3L42.7 250.7L43 251.3L43.3 250.9L43.5 251.6L43.8 251.2L44.1 252.2L44.3 251.4L44.6 252.1L44.9 251.3L45.2 252.4L45.4 251.4L45.7 252.4L46 251.3L46.2 252.5L46.5 252L46.8 252.7L47 251.9L47.3 252.7L47.6 252L47.9 252.8" stroke="#1a1ae8" stroke-width="1.28" fill="none" stroke-linejoin="round"/>
<path d="M1.6 252L1.9 250.9L2.1 251.6L2.4 251.1L2.7 252.1L3 250.7L3.2 252L3.5 250.5L3.8 251.7L4 250.7L4.3 251L4.6 250.7L4.8 251.3L5.1 250.1L5.4 250.8L5.7 250L5.9 250.6L6.2 249.8L6.5 250.8L6.7 248.9L7 250.1L7.3 248L7.5 249.1L7.8 247.9L8.1 248.7L8.4 247.7L8.6 248.8L8.9 245.8L9.2 247L9.4 245.1L9.7 247.3L10 244.3L10.2 245.6L10.5 242.2L10.8 244.9L11.1 242.3L11.3 244.3L11.6 239.5L11.9 241.9L12.1 239.4L12.4 240.4L12.7 237.1L12.9 239.6L13.2 234.9L13.5 237L13.8 233L14 234.1L14.3 231.9L14.6 231.6L14.8 228.4L15.1 230.3L15.4 225.7L15.6 227.1L15.9 225.1L16.2 224.4L16.5 221.5L16.7 222.3L17 219.2L17.3 219.5L17.5 215.9L17.8 218.6L18.1 214.1L18.3 215.7L18.6 213.2L18.9 213.4L19.2 210.6L19.4 212.3L19.7 209.5L20 212.9L20.2 210.7L20.5 214.2L20.8 212.7L21 217.4L21.3 214.8L21.6 218.4L21.9 218.1L22.1 221.5L22.4 220.7L22.7 223.3L22.9 223.3L23.2 227.2L23.5 225.6L23.7 229.6L24 228.6L24.3 231.7L24.6 231.5L24.8 233.2L25.1 232.6L25.4 236.7L25.6 235L25.9 238.8L26.2 237.3L26.4 240.3L26.7 239.4L27 242.3L27.2 241.4L27.5 244.8L27.8 242.8L28.1 245.8L28.3 243.3L28.6 246.2L28.9 244.3L29.1 247.1L29.4 246.1L29.7 248.7L30 246.9L30.2 249.4L30.5 248.1L30.8 250L31 249.7L31.3 250.8L31.6 249.9L31.8 251.9L32.1 250.4L32.4 252.3L32.6 250.8L32.9 252.6L33.2 252.2L33.5 253.1L33.7 252.1L34 253.8L34.3 252.7L34.5 253.8L34.8 253.1L35.1 254.3L35.4 253.2L35.6 254L35.9 253.4L36.2 254.3L36.4 254L36.7 254.4L37 254.2L37.2 254.5L37.5 254L37.8 255L38.1 254.4L38.3 255L38.6 255.1" stroke="#e8261c" stroke-width="1.28" fill="none" stroke-linejoin="round"/>
<path d="M1.6 251.6L1.9 251.3L2.1 252L2.4 251.3L2.7 251.7L3 251.1L3.2 251.5L3.5 251L3.8 251.9L4 250.8L4.3 251.6L4.6 250.7L4.8 251L5.1 250.3L5.4 250.8L5.7 249.4L5.9 251L6.2 249.7L6.5 250.3L6.7 248.5L7 249.6L7.3 248.8L7.5 249.7L7.8 248L8.1 248.5L8.4 247.7L8.6 248.5L8.9 245.8L9.2 246.9L9.4 245.9L9.7 247.4L10 244.8L10.2 245.2L10.5 242.9L10.8 244.7L11.1 241.3L11.3 243.3L11.6 239.9L11.9 241.3L12.1 239.7L12.4 240.8L12.7 236.6L12.9 239.1L13.2 235.2L13.5 236.8L13.8 233.8L14 234.3L14.3 232.1L14.6 231.9L14.8 229.8L15.1 230.1L15.4 227.2L15.6 228.6L15.9 223.8L16.2 224.7L16.5 222.4L16.7 223.2L17 219L17.3 219.9L17.5 215.8L17.8 217.3L18.1 214.7L18.3 215.5L18.6 213.2L18.9 213.4L19.2 210.1L19.4 213.6L19.7 211L20 213.2L20.2 211.3L20.5 214.4L20.8 214L21 216.1L21.3 215.6L21.6 219.7L21.9 218.5L22.1 221.4L22.4 220.4L22.7 224.5L22.9 223.8L23.2 227.6L23.5 224.7L23.7 229.9L24 227.8L24.3 232.7L24.6 230.9L24.8 233.2L25.1 233.2L25.4 236L25.6 234.2L25.9 238.6L26.2 238L26.4 240.3L26.7 238.7L27 242.1L27.2 240.9L27.5 244.4L27.8 242.5L28.1 245.2L28.3 243.3L28.6 246.4L28.9 244.3L29.1 247.7L29.4 245.9L29.7 248.7L30 247.3L30.2 249.6L30.5 247.8L30.8 250.6L31 248.9L31.3 250.8L31.6 250.1L31.8 251.9L32.1 251L32.4 252.3L32.6 251.6L32.9 252.7L33.2 252.2L33.5 252.7L33.7 252.5L34 253.6L34.3 252.5L34.5 253.7L34.8 252.6L35.1 254.2L35.4 253.3L35.6 254.2L35.9 253.7L36.2 254.4L36.4 254L36.7 254.7L37 253.7L37.2 254.9L37.5 253.8L37.8 255L38.1 254.4L38.3 255L38.6 255.1" stroke="#e8261c" stroke-width="1.28" fill="none" stroke-linejoin="round"/>
<path d="M1.6 251.9L1.9 251.2L2.1 252L2.4 250.6L2.7 251.7L3 250.8L3.2 251.5L3.5 250.5L3.8 251.8L4 250.5L4.3 251.6L4.6 250.6L4.8 251.1L5.1 249.9L5.4 251.3L5.7 249.9L5.9 250.4L6.2 249.7L6.5 249.9L6.7 248.8L7 250.2L7.3 248.9L7.5 249.1L7.8 247.4L8.1 248.9L8.4 247.6L8.6 248.1L8.9 246L9.2 247.8L9.4 245.9L9.7 247.4L10 244.3L10.2 246.1L10.5 242.6L10.8 244.7L11.1 242.7L11.3 244.2L11.6 240.6L11.9 241.6L12.1 239.3L12.4 240.4L12.7 236.2L12.9 237.7L13.2 235.9L13.5 237.7L13.8 232.8L14 233.9L14.3 230.7L14.6 231.6L14.8 229.6L15.1 229.5L15.4 227.4L15.6 227.2L15.9 223.3L16.2 224.9L16.5 222.4L16.7 222.3L17 219.1L17.3 221.2L17.5 216.9L17.8 218.3L18.1 213.9L18.3 216.3L18.6 212.9L18.9 213.9L19.2 210L19.4 213.8L19.7 209.9L20 212.9L20.2 211.8L20.5 214.3L20.8 212.6L21 216.6L21.3 215.1L21.6 219L21.9 218.5L22.1 220.9L22.4 221.1L22.7 225L22.9 222.6L23.2 227.1L23.5 226.3L23.7 229L24 229L24.3 231.2L24.6 231.3L24.8 233.2L25.1 232.6L25.4 236L25.6 235.6L25.9 238.1L26.2 236.5L26.4 240.2L26.7 238.6L27 241.5L27.2 239.9L27.5 244.5L27.8 242.3L28.1 245.2L28.3 243.5L28.6 247.5L28.9 244.6L29.1 247.1L29.4 246.4L29.7 248.1L30 247.2L30.2 249.9L30.5 249L30.8 251L31 248.7L31.3 251.1L31.6 249.5L31.8 251.4L32.1 251.1L32.4 251.8L32.6 251L32.9 252.6L33.2 251.8L33.5 252.7L33.7 252.4L34 253.6L34.3 253L34.5 253.5L34.8 253L35.1 254.4L35.4 253.3L35.6 254.2L35.9 253.5L36.2 254.8L36.4 253.4L36.7 254.5L37 254.2L37.2 254.8L37.5 253.9L37.8 255L38.1 254.4L38.3 255L38.6 255.1" stroke="#e8261c" stroke-width="1.28" fill="none" stroke-linejoin="round"/>
<path d="M0 253.2L0.2 253L0.5 251.4L0.7 251.2L0.9 249.9L1.1 247.5L1.4 247.2L1.6 245.1L1.8 242.8L2.1 241.6L2.3 239.7L2.5 237.6L2.8 236.1L3 233.3L3.2 231.1L3.5 230.2L3.7 229.1L3.9 226.6L4.1 227.1L4.4 226.2L4.6 225.4L4.8 226.6L5.1 227.1L5.3 226.5L5.5 227.8L5.7 229.5L6 231L6.2 233.5L6.4 236.1L6.7 237.8L6.9 238.9L7.1 242.1L7.4 243.8L7.6 244.7L7.8 247.5L8.1 248.3L8.3 250.1L8.5 250.2L8.7 251.9L9 253.1L9.2 253.2 Z" fill="#2d3b3b" stroke="#2d3b3b" stroke-width=".4"/>
<path d="M70 202.9H79.4" stroke="#5b7b70" stroke-width="2"/>
<text x="81.2" y="204.62" font-size="5.2" fill="#222" font-family="'Liberation Serif',serif">5</text>
<path d="M70 207.8H79.4" stroke="#e8261c" stroke-width="2"/>
<text x="81.2" y="209.49" font-size="5.2" fill="#222" font-family="'Liberation Serif',serif">34</text>
<path d="M70 212.6H79.4" stroke="#1a1ae8" stroke-width="2"/>
<text x="81.2" y="214.36" font-size="5.2" fill="#222" font-family="'Liberation Serif',serif">78</text>
<path d="M70 217.5H79.4" stroke="#3edc34" stroke-width="2"/>
<text x="81.2" y="219.23" font-size="5.2" fill="#222" font-family="'Liberation Serif',serif">207</text>
<path d="M70 222.4H79.4" stroke="#f29a38" stroke-width="2"/>
<text x="81.2" y="224.1" font-size="5.2" fill="#222" font-family="'Liberation Serif',serif">373</text>
<path d="M70 227.2H79.4" stroke="#000000" stroke-width="2"/>
<text x="81.2" y="228.97" font-size="5.2" fill="#222" font-family="'Liberation Serif',serif">621</text>
<text x="35.6" y="270.3" font-size="8" text-anchor="middle" font-family="'Liberation Serif',serif">CXCR3</text>
<text x="-0.2" y="207.5" font-size="11" font-weight="bold" stroke="#000" stroke-width=".3">D</text>
<path d="M98.8 251.2L152.5 261.2" stroke="#e8261c" stroke-width=".7" fill="none"/>
<path d="M105.9 247.2L159.7 257.2" stroke="#2a2ae8" stroke-width=".7" fill="none"/>
<path d="M113.1 243.1L166.9 253.1" stroke="#3edc34" stroke-width=".7" fill="none"/>
<path d="M120.3 239.1L174.1 249.1" stroke="#f29a38" stroke-width=".7" fill="none"/>
<path d="M127.5 235L181.2 245" stroke="#222222" stroke-width=".7" fill="none"/>
<path d="M98.8 251.2L127.5 235M104.7 252.4L133.5 236.1M110.7 253.5L139.4 237.2M116.7 254.6L145.4 238.3M122.6 255.7L151.4 239.4M128.6 256.8L157.4 240.6M134.6 257.9L163.3 241.7M140.6 259L169.3 242.8M146.5 260.1L175.3 243.9M152.5 261.2L181.2 245" stroke="#6e4a60" stroke-width=".7" fill="none"/>
<path d="M124.9 234.5L125.1 234.2L125.4 233.6L125.6 233.3L125.9 232.2L126.1 231.4L126.3 229.5L126.6 228L126.8 225L127.1 222.8L127.3 218.6L127.6 216.2L127.8 213.1L128 211.6L128.3 209L128.5 209.4L128.8 208.5L129 210L129.2 209.6L129.5 211.7L129.7 212.1L130 215L130.2 216.1L130.5 218.8L130.7 219.6L130.9 222.3L131.2 223L131.4 225.8L131.7 225.9L131.9 228.4L132.1 228.5L132.4 230L132.6 230.2L132.9 231.5L133.1 231.4L133.4 232.2L133.6 232.2L133.8 233.2L134.1 233L134.3 233.7L134.6 233.5L134.8 233.9L135.1 233.7L135.3 234.5L135.5 234.2L135.8 234.6L136 234.6L136.3 235L136.5 235L136.7 235.5L137 235.2L137.2 235.8L137.5 235.7L137.7 236L138 235.9L138.2 236.3L138.4 236.1L138.7 236.5L138.9 236.4L139.2 236.7L139.4 236.7L139.6 237L139.9 237.3" stroke="#000000" stroke-width="1.2" fill="none" stroke-linejoin="round"/>
<path d="M124.9 234.5L125.1 234.1L125.4 233.5L125.6 233.2L125.9 232.1L126.1 231.4L126.3 229.4L126.6 228.2L126.8 224.5L127.1 223.1L127.3 218.8L127.6 216.7L127.8 212.7L128 211.7L128.3 209.4L128.5 209.2L128.8 208.1L129 210L129.2 209.7L129.5 211.8L129.7 212.2L130 214.5L130.2 215.6L130.5 218.8L130.7 219.3L130.9 222.6L131.2 223.1L131.4 226L131.7 226.1L131.9 228L132.1 228.4L132.4 230L132.6 230.2L132.9 231.5L133.1 231.3L133.4 232.3L133.6 232.1L133.8 233L134.1 232.7L134.3 233.6L134.6 233.3L134.8 234L135.1 233.9L135.3 234.4L135.5 234.3L135.8 234.7L136 234.6L136.3 235.2L136.5 234.9L136.7 235.6L137 235.2L137.2 235.7L137.5 235.5L137.7 236.1L138 235.8L138.2 236.5L138.4 236.2L138.7 236.7L138.9 236.5L139.2 236.8L139.4 236.6L139.6 237.1L139.9 237.3" stroke="#000000" stroke-width="1.2" fill="none" stroke-linejoin="round"/>
<path d="M124.9 234.5L125.1 234.1L125.4 233.6L125.6 233.3L125.9 232.3L126.1 231.4L126.3 229.3L126.6 227.9L126.8 224.7L127.1 222.4L127.3 219L127.6 216.3L127.8 213L128 211.2L128.3 209.1L128.5 209.1L128.8 208.4L129 209.4L129.2 209.4L129.5 211.8L129.7 212.1L130 215.1L130.2 215.8L130.5 218.6L130.7 219.5L130.9 222L131.2 223.2L131.4 225.6L131.7 225.9L131.9 228.2L132.1 228.7L132.4 230.1L132.6 230.3L132.9 231.3L133.1 231.2L133.4 232.4L133.6 232.1L133.8 233.2L134.1 232.7L134.3 233.7L134.6 233.4L134.8 233.9L135.1 233.9L135.3 234.5L135.5 234.2L135.8 234.8L136 234.5L136.3 235.3L136.5 235L136.7 235.6L137 235.3L137.2 235.8L137.5 235.7L137.7 236.2L138 235.8L138.2 236.4L138.4 236.2L138.7 236.7L138.9 236.4L139.2 236.8L139.4 236.7L139.6 237.1L139.9 237.3" stroke="#000000" stroke-width="1.2" fill="none" stroke-linejoin="round"/>
<path d="M119.6 238.9L119.9 238.6L120.1 238.2L120.4 238.2L120.6 237L120.8 237.1L121.1 235.5L121.3 234.4L121.6 231.8L121.8 230.7L122.1 227.3L122.3 225.8L122.5 221.7L122.8 220.4L123 216.7L123.3 215.7L123.5 213.5L123.8 213.4L124 212.4L124.2 215.2L124.5 216.5L124.7 220.7L125 223.7L125.2 229.1L125.4 231.7L125.7 235.1L125.9 236.6L126.2 238.4L126.4 238.9L126.7 239.9L126.9 240.3" stroke="#f29a38" stroke-width="1.12" fill="none" stroke-linejoin="round"/>
<path d="M119.6 238.9L119.9 238.8L120.1 238.2L120.4 238.3L120.6 237.3L120.8 236.8L121.1 235.2L121.3 234.8L121.6 232L121.8 230.7L122.1 227.8L122.3 226.2L122.5 222L122.8 220.3L123 216.8L123.3 215.8L123.5 213.2L123.8 213.5L124 212.6L124.2 215.1L124.5 216.3L124.7 221.2L125 223.6L125.2 228.9L125.4 231L125.7 235.1L125.9 236.3L126.2 238.5L126.4 239L126.7 239.8L126.9 240.3" stroke="#f29a38" stroke-width="1.12" fill="none" stroke-linejoin="round"/>
<path d="M119.6 238.9L119.9 238.6L120.1 238.2L120.4 238.1L120.6 237.1L120.8 237L121.1 235.3L121.3 234.5L121.6 231.8L121.8 230.7L122.1 227.5L122.3 225.8L122.5 221.8L122.8 220.6L123 217.1L123.3 215.6L123.5 213.1L123.8 213.2L124 212.4L124.2 215.1L124.5 216.2L124.7 221.1L125 224L125.2 228.6L125.4 231.7L125.7 235L125.9 236.2L126.2 238.3L126.4 238.8L126.7 239.8L126.9 240.3" stroke="#f29a38" stroke-width="1.12" fill="none" stroke-linejoin="round"/>
<path d="M109.6 242.5L109.8 242.5L110 241.7L110.3 242.5L110.5 241.9L110.8 242.5L111 241.9L111.2 242L111.5 241.5L111.7 242.2L112 241.5L112.2 241.7L112.5 241L112.7 242L112.9 241.1L113.2 241.5L113.4 240.9L113.7 241.4L113.9 240.7L114.1 241L114.4 240.3L114.6 241.1L114.9 240.3L115.1 240.8L115.4 240.4L115.6 240.8L115.8 240.1L116.1 240.8L116.3 239.8L116.6 240.7L116.8 240L117 240.8L117.3 240.1L117.5 241.3L117.8 240.3L118 241.4L118.3 240.5L118.5 240.7L118.7 239.9L119 241.2L119.2 239.7L119.5 240.4L119.7 239.9L120 240.6L120.2 239L120.4 239.8L120.7 238.5L120.9 239.7L121.2 237.9L121.4 238.8L121.6 237.3L121.9 237.4L122.1 236.5L122.4 237.2L122.6 235.1L122.9 236L123.1 234.8L123.3 236L123.6 233.7L123.8 235.5L124.1 233.7L124.3 235.4L124.5 233.5L124.8 235.7L125 234.2L125.3 234.6L125.5 234.1L125.8 235.2L126 234L126.2 236.3L126.5 235.4L126.7 237.1L127 235L127.2 237L127.4 236.1L127.7 238.4L127.9 236.8L128.2 238.8L128.4 237.6L128.7 239L128.9 238.2L129.1 239.8L129.4 238.4L129.6 240.4L129.9 239L130.1 240.6L130.4 239.4L130.6 241.2L130.8 239.7L131.1 241.4L131.3 240L131.6 241.4L131.8 240.5L132 241.3L132.3 241L132.5 242.4L132.8 241.2L133 242L133.3 241.7L133.5 242.4L133.7 241.5L134 242.5L134.2 242.1L134.5 243L134.7 242.1L134.9 243.7L135.2 242.4L135.4 244.1L135.7 242.8L135.9 244.3L136.2 243.7L136.4 244.4L136.6 244L136.9 245.1L137.1 244L137.4 245L137.6 244.4L137.9 245.5L138.1 245.3L138.3 245.7L138.6 245.4L138.8 246.2L139.1 245.6L139.3 246.8L139.5 246.3L139.8 246.7L140 246.6L140.3 247.2L140.5 246.7L140.8 247.3L141 246.9L141.2 247.8L141.5 247.1L141.7 247.9L142 247.5L142.2 248.3L142.4 247.7L142.7 248.5L142.9 247.8L143.2 248.5L143.4 248.2L143.7 248.8" stroke="#3edc34" stroke-width="1.12" fill="none" stroke-linejoin="round"/>
<path d="M109.6 242.5L109.8 242.3L110 241.9L110.3 242.2L110.5 241.8L110.8 242.3L111 241.6L111.2 242.3L111.5 241.4L111.7 242.3L112 241.6L112.2 241.9L112.5 241.1L112.7 241.6L112.9 240.7L113.2 241.7L113.4 240.8L113.7 241.2L113.9 240.3L114.1 241L114.4 240.6L114.6 241.3L114.9 240.3L115.1 240.8L115.4 239.9L115.6 241.2L115.8 240.3L116.1 241L116.3 240.1L116.6 240.9L116.8 240.4L117 241L117.3 240.2L117.5 240.9L117.8 240L118 241.4L118.3 240.6L118.5 241.2L118.7 239.8L119 240.7L119.2 239.8L119.5 240.7L119.7 239.3L120 240.3L120.2 239.1L120.4 240.2L120.7 238.5L120.9 239.2L121.2 237.8L121.4 238.7L121.6 236.9L121.9 238L122.1 236.5L122.4 237.3L122.6 235.2L122.9 236.7L123.1 234.3L123.3 236.1L123.6 234.6L123.8 235.7L124.1 233.1L124.3 235L124.5 233.2L124.8 234.9L125 233.2L125.3 235.7L125.5 233.8L125.8 236L126 234.4L126.2 235.5L126.5 234.6L126.7 236.7L127 235.9L127.2 237.2L127.4 236.1L127.7 238.4L127.9 237.5L128.2 238.9L128.4 238L128.7 239.7L128.9 238L129.1 239.5L129.4 238.4L129.6 240.1L129.9 238.8L130.1 240.3L130.4 239.8L130.6 241.1L130.8 240.4L131.1 241.4L131.3 240.7L131.6 241.6L131.8 240.7L132 241.9L132.3 240.9L132.5 242L132.8 241.3L133 242.5L133.3 241L133.5 242.4L133.7 241.8L134 242.9L134.2 242.1L134.5 242.9L134.7 242.2L134.9 243.8L135.2 242.8L135.4 243.8L135.7 243L135.9 243.9L136.2 243.7L136.4 244.8L136.6 243.9L136.9 244.8L137.1 244.1L137.4 245.3L137.6 244.7L137.9 245.5L138.1 245L138.3 245.9L138.6 245.7L138.8 246.5L139.1 245.9L139.3 246.5L139.5 246.3L139.8 247L140 246.3L140.3 247.1L140.5 246.5L140.8 247.5L141 246.8L141.2 247.6L141.5 247.3L141.7 248.1L142 247.6L142.2 248.1L142.4 247.8L142.7 248.5L142.9 248.1L143.2 248.4L143.4 248.2L143.7 248.8" stroke="#3edc34" stroke-width="1.12" fill="none" stroke-linejoin="round"/>
<path d="M109.6 242.5L109.8 242.3L110 241.8L110.3 242.2L110.5 241.8L110.8 242.3L111 241.7L111.2 242.2L111.5 241.6L111.7 242.2L112 241.5L112.2 242L112.5 241.1L112.7 241.7L112.9 241L113.2 241.4L113.4 240.5L113.7 241.5L113.9 240.3L114.1 241.2L114.4 240.1L114.6 241.1L114.9 240.5L115.1 241L115.4 240.3L115.6 240.6L115.8 240L116.1 240.6L116.3 239.8L116.6 241.2L116.8 240.2L117 240.7L117.3 240.3L117.5 240.7L117.8 240.1L118 241.4L118.3 240.1L118.5 240.8L118.7 240.1L119 241.1L119.2 239.8L119.5 240.4L119.7 239.3L120 240.3L120.2 239.3L120.4 240L120.7 238.2L120.9 239.6L121.2 237.6L121.4 239.1L121.6 236.9L121.9 238.4L122.1 236.1L122.4 237.3L122.6 235.2L122.9 236.3L123.1 234.5L123.3 236.1L123.6 233.6L123.8 235.9L124.1 234.3L124.3 235.2L124.5 233.7L124.8 235.7L125 233.8L125.3 235.8L125.5 234.3L125.8 236.1L126 234L126.2 235.8L126.5 234.4L126.7 236.4L127 235L127.2 237.7L127.4 236.3L127.7 238.1L127.9 236.8L128.2 238.2L128.4 237.4L128.7 239.2L128.9 238.6L129.1 239.7L129.4 239L129.6 240L129.9 239.3L130.1 240.8L130.4 240L130.6 240.9L130.8 240.2L131.1 241.7L131.3 240.7L131.6 241.4L131.8 240.5L132 241.6L132.3 240.7L132.5 242.4L132.8 241.3L133 242.6L133.3 241L133.5 242.4L133.7 241.3L134 243.1L134.2 242.2L134.5 243L134.7 242.6L134.9 243.6L135.2 242.5L135.4 244L135.7 243.4L135.9 244.2L136.2 243.8L136.4 244.3L136.6 243.8L136.9 244.9L137.1 244.3L137.4 245.1L137.6 244.6L137.9 245.5L138.1 245.3L138.3 245.7L138.6 245.2L138.8 246.2L139.1 245.7L139.3 246.5L139.5 246L139.8 246.7L140 246.6L140.3 247L140.5 246.6L140.8 247.5L141 247.1L141.2 247.9L141.5 247.5L141.7 248.2L142 247.6L142.2 248.1L142.4 247.6L142.7 248.5L142.9 248L143.2 248.6L143.4 248.2L143.7 248.8" stroke="#3edc34" stroke-width="1.12" fill="none" stroke-linejoin="round"/>
<path d="M123.6 250.5L123.9 250.3L124.1 249.7L124.4 250.2L124.6 249.6L124.9 249.6L125.1 248.8L125.3 248.9L125.6 247.7L125.8 248L126.1 245.8L126.3 246.2L126.6 243.4L126.8 243.1L127 240.5L127.3 240.2L127.5 237.5L127.8 236.8L128 233.8L128.2 235L128.5 233L128.7 233.1L129 232.3L129.2 233.1L129.5 232.1L129.7 234.2L129.9 232L130.2 233.8L130.4 232.6L130.7 235.1L130.9 234.4L131.1 236.3L131.4 236.3L131.6 238L131.9 236.8L132.1 239L132.4 239.3L132.6 241.2L132.8 240.1L133.1 241.9L133.3 241.5L133.6 243.1L133.8 242.7L134 244.6L134.3 243.6L134.5 245.6L134.8 245.4L135 246.5L135.3 246L135.5 247.3L135.7 246.5L136 247.8L136.2 247.2L136.5 248.2L136.7 247.5L137 249L137.2 247.9L137.4 249.2L137.7 249L137.9 249.8L138.2 249.2L138.4 249.9L138.6 249.2L138.9 250.5L139.1 250L139.4 251.1L139.6 250.4L139.9 251.1L140.1 250.6L140.3 251.4L140.6 250.9L140.8 251.9L141.1 251.4L141.3 252.1L141.5 251.8L141.8 252.3L142 251.8L142.3 252.7L142.5 252L142.8 253L143 252.6L143.2 253L143.5 252.7L143.7 253.5L144 252.7L144.2 253.7L144.4 253.1L144.7 253.7L144.9 253.2L145.2 253.8L145.4 253.5L145.7 254L145.9 253.7L146.1 254.6L146.4 254L146.6 254.4L146.9 254L147.1 254.5L147.4 254.3L147.6 254.9L147.8 255" stroke="#1a1ae8" stroke-width="1.12" fill="none" stroke-linejoin="round"/>
<path d="M123.6 250.5L123.9 250.3L124.1 249.6L124.4 250.4L124.6 249.5L124.9 249.8L125.1 248.8L125.3 249L125.6 247.9L125.8 248L126.1 246.2L126.3 245.6L126.6 243.4L126.8 243.6L127 239.9L127.3 239.7L127.5 237.4L127.8 237.3L128 234.9L128.2 235.3L128.5 232.8L128.7 233.5L129 231.6L129.2 233.1L129.5 231.5L129.7 233.1L129.9 232.2L130.2 234.9L130.4 233.2L130.7 235.1L130.9 234.5L131.1 237.1L131.4 235.7L131.6 237.5L131.9 236.8L132.1 239.3L132.4 239.1L132.6 241.3L132.8 240.5L133.1 242.8L133.3 242L133.6 243.6L133.8 242.6L134 244.9L134.3 244L134.5 245.8L134.8 245.4L135 246.3L135.3 246.2L135.5 247.3L135.7 246.1L136 247.6L136.2 247.1L136.5 248.5L136.7 247.6L137 249L137.2 248.3L137.4 249L137.7 248.5L137.9 249.6L138.2 249L138.4 250.2L138.6 249.3L138.9 250.8L139.1 249.7L139.4 251L139.6 250.4L139.9 251.1L140.1 250.3L140.3 251.6L140.6 250.8L140.8 251.9L141.1 251.4L141.3 252.2L141.5 251.6L141.8 252.2L142 252L142.3 252.7L142.5 252L142.8 252.8L143 252.2L143.2 253.1L143.5 252.6L143.7 253.3L144 252.8L144.2 253.7L144.4 252.9L144.7 253.9L144.9 253.3L145.2 254.1L145.4 253.7L145.7 254L145.9 253.8L146.1 254.4L146.4 254L146.6 254.4L146.9 254L147.1 254.7L147.4 254.4L147.6 254.7L147.8 255" stroke="#1a1ae8" stroke-width="1.12" fill="none" stroke-linejoin="round"/>
<path d="M123.6 250.5L123.9 250.5L124.1 249.8L124.4 250L124.6 249.3L124.9 249.9L125.1 248.7L125.3 248.9L125.6 247.5L125.8 248L126.1 246.1L126.3 246.2L126.6 243.5L126.8 243.1L127 240.3L127.3 239.8L127.5 237.3L127.8 237.8L128 234.7L128.2 234.3L128.5 232.1L128.7 233.2L129 232L129.2 234L129.5 232.1L129.7 233.9L129.9 232.6L130.2 234.8L130.4 232.8L130.7 235.1L130.9 234.8L131.1 237.2L131.4 236L131.6 238.3L131.9 237.2L132.1 239.4L132.4 238.8L132.6 241.3L132.8 240.7L133.1 242.5L133.3 242L133.6 243.6L133.8 242.3L134 245L134.3 243.8L134.5 245.5L134.8 244.7L135 246.8L135.3 246L135.5 247.2L135.7 246.6L136 248.3L136.2 247L136.5 248.1L136.7 247.7L137 249.1L137.2 248.6L137.4 249.1L137.7 248.6L137.9 250.1L138.2 249.2L138.4 250.3L138.6 249.5L138.9 250.8L139.1 249.9L139.4 250.9L139.6 250.5L139.9 251L140.1 250.4L140.3 251.6L140.6 250.8L140.8 251.6L141.1 251.2L141.3 252L141.5 251.3L141.8 252.2L142 251.7L142.3 252.4L142.5 252L142.8 253.1L143 252.5L143.2 253L143.5 252.8L143.7 253.4L144 253L144.2 253.3L144.4 253.1L144.7 253.9L144.9 253.3L145.2 253.9L145.4 253.7L145.7 254.2L145.9 253.7L146.1 254.4L146.4 253.8L146.6 254.4L146.9 254L147.1 254.8L147.4 254.1L147.6 254.9L147.8 255" stroke="#1a1ae8" stroke-width="1.12" fill="none" stroke-linejoin="round"/>
<path d="M114 254.1L114.3 254.1L114.5 253.4L114.8 254.2L115 253.4L115.3 254.3L115.5 253.2L115.7 254.1L116 252.8L116.2 253.7L116.5 252.5L116.7 254.4L116.9 252.4L117.2 253.2L117.4 252.5L117.7 253.5L117.9 252.1L118.2 252.7L118.4 251.7L118.6 252.8L118.9 250.5L119.1 252.9L119.4 251.1L119.6 251.8L119.8 249.8L120.1 252.2L120.3 249.8L120.6 251.5L120.8 248.5L121.1 250.3L121.3 248.7L121.5 250L121.8 248.1L122 248.9L122.3 247.9L122.5 249.8L122.7 245.8L123 249.5L123.2 246.8L123.5 248.1L123.7 246.2L124 247L124.2 245.5L124.4 249.2L124.7 244.8L124.9 248.9L125.2 243.9L125.4 247.5L125.7 243.3L125.9 248.9L126.1 244.2L126.4 249L126.6 245.2L126.9 248.8L127.1 245.9L127.3 247.5L127.6 246.4L127.8 249.4L128.1 245.8L128.3 250L128.6 246.8L128.8 250.7L129 248.2L129.3 250.6L129.5 247.6L129.8 252.4L130 249.3L130.2 251.2L130.5 250.4L130.7 252.3L131 251.4L131.2 252.7L131.5 251.6L131.7 253.9L131.9 252.4L132.2 254L132.4 253L132.7 255.2L132.9 253.8L133.2 256.4L133.4 254.7L133.6 256.5L133.9 255.6L134.1 257L134.4 255.8L134.6 257.1L134.8 255.7L135.1 257.7L135.3 256.3L135.6 257.8L135.8 257L136.1 258.2L136.3 257.2L136.5 258L136.8 257.5L137 258.4L137.3 257.3L137.5 258.5" stroke="#e8261c" stroke-width="1.2" fill="none" stroke-linejoin="round"/>
<path d="M114 254.1L114.3 254.1L114.5 252.9L114.8 254.2L115 252.7L115.3 254.3L115.5 253.5L115.7 254.3L116 253.3L116.2 253.8L116.5 252.7L116.7 253.9L116.9 252.7L117.2 253.2L117.4 252.3L117.7 253.3L117.9 251.9L118.2 253.6L118.4 251.5L118.6 253.1L118.9 251.4L119.1 252.6L119.4 250.8L119.6 251.9L119.8 249.8L120.1 252L120.3 249.8L120.6 250.8L120.8 249L121.1 250.7L121.3 248.5L121.5 250.6L121.8 247.2L122 250.7L122.3 246.1L122.5 249.2L122.7 246.1L123 249.7L123.2 245.9L123.5 249L123.7 246.2L124 247.5L124.2 246L124.4 246.9L124.7 243.5L124.9 247.2L125.2 243.8L125.4 249L125.7 243.4L125.9 249L126.1 245.5L126.4 247.2L126.6 246.1L126.9 247.3L127.1 246.1L127.3 248.8L127.6 244.8L127.8 248.7L128.1 245.3L128.3 250.5L128.6 247.2L128.8 251L129 248.4L129.3 251.4L129.5 248.3L129.8 250.7L130 249L130.2 251.7L130.5 251L130.7 253L131 251.3L131.2 254L131.5 251.6L131.7 254.1L131.9 252.3L132.2 255L132.4 252.6L132.7 255.2L132.9 253.9L133.2 255.3L133.4 255L133.6 256.6L133.9 254.9L134.1 257L134.4 255.5L134.6 257.6L134.8 255.7L135.1 257.4L135.3 256.1L135.6 257.6L135.8 256.5L136.1 258.1L136.3 256.9L136.5 258.3L136.8 257L137 258L137.3 257.8L137.5 258.5" stroke="#e8261c" stroke-width="1.2" fill="none" stroke-linejoin="round"/>
<path d="M114 254.1L114.3 254.1L114.5 253L114.8 254.2L115 252.9L115.3 253.9L115.5 253.2L115.7 254.4L116 253.2L116.2 254.1L116.5 252.8L116.7 254.2L116.9 252.9L117.2 254.1L117.4 252.1L117.7 253.5L117.9 251.7L118.2 253.5L118.4 252.1L118.6 252.5L118.9 251.5L119.1 253.3L119.4 250.3L119.6 252.7L119.8 250.3L120.1 251.2L120.3 249.4L120.6 251.2L120.8 249.2L121.1 250.5L121.3 247.2L121.5 249.6L121.8 247.6L122 250.6L122.3 247.7L122.5 250.2L122.7 246.3L123 248.8L123.2 245L123.5 249.6L123.7 246.3L124 248.4L124.2 244.8L124.4 248.8L124.7 243.6L124.9 248.9L125.2 245.4L125.4 247.1L125.7 245.8L125.9 247.7L126.1 243.9L126.4 247.7L126.6 243.8L126.9 247.5L127.1 246.2L127.3 247.9L127.6 246.8L127.8 249.3L128.1 246.4L128.3 249.9L128.6 247.3L128.8 250.8L129 247.8L129.3 250L129.5 248.1L129.8 250.5L130 249.2L130.2 252.9L130.5 249.6L130.7 252L131 251.3L131.2 253.8L131.5 252.2L131.7 254.9L131.9 253.3L132.2 254.8L132.4 252.8L132.7 255.5L132.9 254L133.2 256.2L133.4 254.9L133.6 256L133.9 255.4L134.1 256.9L134.4 255.7L134.6 257.5L134.8 255.5L135.1 257.1L135.3 256.3L135.6 257.3L135.8 256.5L136.1 258.2L136.3 256.6L136.5 258.2L136.8 256.9L137 258.4L137.3 257.8L137.5 258.5" stroke="#e8261c" stroke-width="1.2" fill="none" stroke-linejoin="round"/>
<path d="M91 253.1L91.2 252.9L91.3 251.8L91.5 250.3L91.6 249.2L91.8 248.6L92 247.9L92.1 246L92.3 243.8L92.4 243.6L92.6 240.8L92.8 238.6L92.9 238L93.1 236.3L93.2 234.4L93.4 232.3L93.6 231.3L93.7 230.4L93.9 229L94 229.3L94.2 229.6L94.4 228.4L94.5 229.2L94.7 230.5L94.8 231.4L95 232.8L95.2 235L95.3 235.7L95.5 236.9L95.6 240L95.8 240.9L96 243.1L96.1 245L96.3 245.6L96.4 248.2L96.6 248.6L96.8 249.7L96.9 251.4L97.1 252.5L97.2 252.2L97.4 253.1 Z" fill="#d9dddd" stroke="#d9dddd" stroke-width=".4"/>
<path d="M151.2 203.6H160.2" stroke="#5b7b70" stroke-width="2"/>
<text x="162" y="205.32" font-size="5.2" fill="#333" font-family="'Liberation Serif',serif">5</text>
<path d="M151.2 208.4H160.2" stroke="#e8261c" stroke-width="2"/>
<text x="162" y="210.08" font-size="5.2" fill="#333" font-family="'Liberation Serif',serif">168</text>
<path d="M151.2 213.1H160.2" stroke="#1a1ae8" stroke-width="2"/>
<text x="162" y="214.84" font-size="5.2" fill="#333" font-family="'Liberation Serif',serif">112</text>
<path d="M151.2 217.9H160.2" stroke="#3edc34" stroke-width="2"/>
<text x="162" y="219.6" font-size="5.2" fill="#333" font-family="'Liberation Serif',serif">35</text>
<path d="M151.2 222.6H160.2" stroke="#f29a38" stroke-width="2"/>
<text x="162" y="224.36" font-size="5.2" fill="#333" font-family="'Liberation Serif',serif">10</text>
<path d="M151.2 227.4H160.2" stroke="#000000" stroke-width="2"/>
<text x="162" y="229.12" font-size="5.2" fill="#333" font-family="'Liberation Serif',serif">6</text>
<text x="116.9" y="270.4" font-size="8" text-anchor="middle" font-family="'Liberation Serif',serif">CXCR4</text>
<text x="93.4" y="207.5" font-size="11" font-weight="bold" stroke="#000" stroke-width=".3">E</text>
<path d="M189 249.4L244 261.3" stroke="#e8261c" stroke-width=".7" fill="none"/>
<path d="M195.4 244.4L250.4 256.3" stroke="#2a2ae8" stroke-width=".7" fill="none"/>
<path d="M201.8 239.3L256.8 251.2" stroke="#3edc34" stroke-width=".7" fill="none"/>
<path d="M208.2 234.3L263.2 246.2" stroke="#f29a38" stroke-width=".7" fill="none"/>
<path d="M214.6 229.3L269.6 241.2" stroke="#222222" stroke-width=".7" fill="none"/>
<path d="M189 249.4L214.6 229.3M195.1 250.7L220.7 230.6M201.2 252L226.8 231.9M207.3 253.4L232.9 233.3M213.4 254.7L239 234.6M219.6 256L245.2 235.9M225.7 257.3L251.3 237.2M231.8 258.7L257.4 238.6M237.9 260L263.5 239.9M244 261.3L269.6 241.2" stroke="#6e4a60" stroke-width=".7" fill="none"/>
<path d="M216.6 229.7L216.9 229.1L217.1 229.1L217.4 227.6L217.6 227.1L217.9 224.1L218.1 222.5L218.4 217.9L218.6 214L218.9 207.7L219.1 204.7L219.4 199.6L219.6 198.5L219.9 196L220.1 197.5L220.3 196.2L220.6 198.3L220.8 198.2L221.1 201.8L221.3 203.2L221.6 206.9L221.8 206.7L222.1 211.3L222.3 211L222.6 214.7L222.8 215.5L223.1 218.4L223.3 218.3L223.6 221.4L223.8 220.9L224.1 223.9L224.3 222.1L224.6 224.4L224.8 223.4L225.1 225.6L225.3 224.1L225.5 225.2L225.8 224.5L226 225.9L226.3 224.8L226.5 227L226.8 225.6L227 226.5L227.3 226.1L227.5 227.4L227.8 225.9L228 227.8L228.3 226.6L228.5 228L228.8 226.8L229 228.8L229.3 227.9L229.5 228.6L229.8 228L230 228.8L230.2 228.7L230.5 229.9L230.7 229.1L231 229.8L231.2 229.5L231.5 230.2L231.7 229.3L232 231L232.2 229.9L232.5 231.1L232.7 230.5L233 231.5L233.2 230.8L233.5 231.5L233.7 231.3L234 232.3L234.2 231.3L234.5 232.1L234.7 231.6L234.9 232.6L235.2 232.2L235.4 233L235.7 232.5L235.9 233.3L236.2 232.6L236.4 233.4L236.7 232.9L236.9 233.8L237.2 233.1L237.4 233.8L237.7 233.3L237.9 233.8L238.2 233.5L238.4 234.4L238.7 233.5L238.9 234.5L239.2 233.7L239.4 234.4L239.7 234.7" stroke="#000000" stroke-width="1.2" fill="none" stroke-linejoin="round"/>
<path d="M216.6 229.7L216.9 228.8L217.1 229.2L217.4 227.6L217.6 227.4L217.9 223.9L218.1 222.6L218.4 216.8L218.6 214L218.9 208.6L219.1 204.5L219.4 199.1L219.6 197.8L219.9 196.1L220.1 197.1L220.3 196.1L220.6 198.3L220.8 198.5L221.1 202L221.3 202.3L221.6 206.9L221.8 207.5L222.1 210.8L222.3 211.5L222.6 215.9L222.8 215.6L223.1 218.7L223.3 219.1L223.6 221.3L223.8 220.7L224.1 223.6L224.3 222.7L224.6 224.3L224.8 223.9L225.1 224.9L225.3 224.2L225.5 225.7L225.8 224.6L226 226.6L226.3 224.9L226.5 226.4L226.8 225.7L227 227L227.3 225.6L227.5 227.6L227.8 226.3L228 227.9L228.3 226.9L228.5 227.8L228.8 226.8L229 228.4L229.3 227.2L229.5 229L229.8 228.3L230 229.5L230.2 228.2L230.5 229.3L230.7 228.8L231 230.1L231.2 229.3L231.5 230.5L231.7 229.7L232 230.5L232.2 230L232.5 231.1L232.7 230.1L233 231.1L233.2 230.7L233.5 231.7L233.7 231L234 232.1L234.2 231.6L234.5 232.6L234.7 231.7L234.9 232.8L235.2 232.2L235.4 232.7L235.7 232.5L235.9 233.4L236.2 232.6L236.4 233.4L236.7 232.8L236.9 233.4L237.2 233.2L237.4 234L237.7 233.2L237.9 234.1L238.2 233.4L238.4 234.3L238.7 234L238.9 234.4L239.2 233.7L239.4 234.7L239.7 234.7" stroke="#000000" stroke-width="1.2" fill="none" stroke-linejoin="round"/>
<path d="M216.6 229.7L216.9 229.1L217.1 229.3L217.4 227.5L217.6 226.9L217.9 223.8L218.1 222.6L218.4 216.9L218.6 214.7L218.9 208.6L219.1 205.3L219.4 199.4L219.6 198.9L219.9 196.3L220.1 196.8L220.3 195.5L220.6 199.3L220.8 198.8L221.1 202L221.3 202.8L221.6 206.7L221.8 206.9L222.1 210.9L222.3 211.3L222.6 216.1L222.8 215.3L223.1 219.4L223.3 219.3L223.6 221.6L223.8 221.5L224.1 222.9L224.3 222.3L224.6 224L224.8 223.6L225.1 224.8L225.3 224.5L225.5 225.6L225.8 224.3L226 225.9L226.3 225.4L226.5 226.9L226.8 225.2L227 227L227.3 225.5L227.5 227.6L227.8 226.3L228 228L228.3 226.9L228.5 227.8L228.8 226.9L229 228.8L229.3 227.2L229.5 228.6L229.8 228L230 229.5L230.2 228.6L230.5 229.8L230.7 228.7L231 230.1L231.2 229L231.5 230L231.7 229.9L232 230.6L232.2 230.3L232.5 230.8L232.7 230.1L233 231.3L233.2 231L233.5 231.7L233.7 231.2L234 232.2L234.2 231.5L234.5 232.1L234.7 231.8L234.9 232.9L235.2 231.9L235.4 233L235.7 232.1L235.9 233L236.2 232.8L236.4 233.1L236.7 232.8L236.9 233.4L237.2 232.9L237.4 234L237.7 233.1L237.9 233.9L238.2 233.7L238.4 234.2L238.7 233.8L238.9 234.4L239.2 234L239.4 234.7L239.7 234.7" stroke="#000000" stroke-width="1.2" fill="none" stroke-linejoin="round"/>
<path d="M207.8 234.2L208 233.7L208.3 234L208.5 233.4L208.8 233.5L209 232.2L209.2 232.4L209.5 230.3L209.7 232.1L210 228.7L210.2 229.8L210.5 225.9L210.7 226L211 221.8L211.2 222.7L211.5 219.3L211.7 221.2L212 215.5L212.2 218.2L212.5 215.7L212.7 218.8L213 213.4L213.2 216.5L213.5 213.4L213.7 217.9L213.9 215.8L214.2 217.3L214.4 216.1L214.7 218.7L214.9 216L215.2 219L215.4 216.5L215.7 217.5L215.9 216.7L216.2 219.9L216.4 216.4L216.7 219.1L216.9 215.1L217.2 220.6L217.4 217.2L217.7 221.7L217.9 216.9L218.2 221.5L218.4 219.7L218.6 223.1L218.9 221L219.1 224.4L219.4 219.7L219.6 223.2L219.9 222.6L220.1 224.6L220.4 221.6L220.6 224.8L220.9 223L221.1 226.8L221.4 223.2L221.6 226.6L221.9 223.6L222.1 227.2L222.4 224.8L222.6 228.8L222.9 225.1L223.1 230.2L223.4 228L223.6 230.6L223.8 226.9L224.1 231.6L224.3 229.3L224.6 232.1L224.8 229.3L225.1 232.3L225.3 230.5L225.6 234L225.8 230.3L226.1 234L226.3 232L226.6 234.7L226.8 232.7L227.1 233.9L227.3 233.1L227.6 235.3L227.8 233.6L228.1 236.3L228.3 234.2L228.5 236.4L228.8 234.4L229 236.2L229.3 234.4L229.5 237.4L229.8 235.6L230 236.7L230.3 236.4L230.5 237.5L230.8 236L231 237.9L231.3 236.4L231.5 238.7L231.8 237.5L232 238.2L232.3 236.8L232.5 238.8L232.8 238L233 238.6L233.3 238.4L233.5 239.4L233.7 238.3L234 239.7L234.2 238.4L234.5 239.7L234.7 239.1L235 240.1L235.2 239.2L235.5 240.2L235.7 239.3L236 240.3L236.2 239.4L236.5 240.4L236.7 239.5L237 240.5" stroke="#f29a38" stroke-width="1.12" fill="none" stroke-linejoin="round"/>
<path d="M207.8 234.2L208 233.2L208.3 234.3L208.5 232.7L208.8 234.1L209 232.7L209.2 233.1L209.5 231.3L209.7 230.7L210 227.6L210.2 229.2L210.5 225.1L210.7 225.4L211 223L211.2 223L211.5 219.5L211.7 219.6L212 215.5L212.2 219.4L212.5 214.6L212.7 218.3L213 213.4L213.2 218.7L213.5 214.1L213.7 218.3L213.9 214.6L214.2 217.7L214.4 215.4L214.7 217L214.9 213.9L215.2 217.1L215.4 216L215.7 218.5L215.9 214.3L216.2 218.1L216.4 216.8L216.7 217.9L216.9 216.8L217.2 218.9L217.4 218.1L217.7 220.3L217.9 218.6L218.2 221.9L218.4 218L218.6 222.4L218.9 218.7L219.1 222.9L219.4 219.6L219.6 223.5L219.9 221.3L220.1 224.7L220.4 222.9L220.6 226.4L220.9 222.6L221.1 225.2L221.4 222.9L221.6 226.1L221.9 223.3L222.1 228.3L222.4 224.1L222.6 229.6L222.9 226.4L223.1 228.4L223.4 226.2L223.6 230.5L223.8 228.7L224.1 231.7L224.3 229.9L224.6 232.2L224.8 229.7L225.1 232L225.3 230.7L225.6 232.7L225.8 231.7L226.1 233.4L226.3 231.5L226.6 234.6L226.8 233L227.1 235.2L227.3 233L227.6 235.3L227.8 233.7L228.1 235.9L228.3 233.9L228.5 236.2L228.8 235.2L229 237L229.3 235L229.5 236.5L229.8 235.2L230 237.6L230.3 236.3L230.5 237.7L230.8 236.3L231 238.2L231.3 236.4L231.5 237.8L231.8 236.7L232 238L232.3 237.8L232.5 238.4L232.8 237.9L233 239.3L233.3 237.8L233.5 239.7L233.7 238.6L234 239.9L234.2 239L234.5 240L234.7 238.9L235 239.8L235.2 239.2L235.5 240L235.7 239.6L236 240.3L236.2 239.4L236.5 240.2L236.7 239.8L237 240.5" stroke="#f29a38" stroke-width="1.12" fill="none" stroke-linejoin="round"/>
<path d="M207.8 234.2L208 233.8L208.3 234L208.5 233.5L208.8 234.2L209 231.9L209.2 232.9L209.5 230.6L209.7 231.3L210 228L210.2 228.7L210.5 224.9L210.7 227.1L211 221.5L211.2 223.4L211.5 219.3L211.7 220L212 215.4L212.2 219L212.5 214.9L212.7 218.9L213 213.6L213.2 217L213.5 215.6L213.7 218.1L213.9 215.8L214.2 217.1L214.4 215.7L214.7 219.1L214.9 215.8L215.2 218.7L215.4 214.2L215.7 217.9L215.9 214.3L216.2 219.9L216.4 215.2L216.7 218L216.9 217.5L217.2 219.7L217.4 217L217.7 221.4L217.9 218.3L218.2 221.4L218.4 218.2L218.6 221.8L218.9 220.1L219.1 223.5L219.4 219.7L219.6 223.4L219.9 222.5L220.1 225.8L220.4 221.9L220.6 225.6L220.9 223.9L221.1 225.1L221.4 224.6L221.6 226.6L221.9 224.2L222.1 228.6L222.4 226.4L222.6 229.4L222.9 227L223.1 228.6L223.4 227.6L223.6 230.2L223.8 228.1L224.1 232L224.3 229.7L224.6 232.1L224.8 230.1L225.1 233.1L225.3 230.8L225.6 233.1L225.8 231.4L226.1 234.5L226.3 231.1L226.6 233.8L226.8 231.7L227.1 234.4L227.3 233.2L227.6 234.8L227.8 233.3L228.1 235.7L228.3 233.9L228.5 236.3L228.8 234.4L229 237L229.3 234.9L229.5 236.6L229.8 236L230 237.5L230.3 236.1L230.5 238L230.8 236.9L231 238.1L231.3 237L231.5 238.1L231.8 237.1L232 238.8L232.3 237.9L232.5 239.2L232.8 238L233 238.6L233.3 238.2L233.5 239.3L233.7 237.8L234 239.3L234.2 238.1L234.5 240L234.7 239.2L235 240.1L235.2 239.4L235.5 240L235.7 239.3L236 240.3L236.2 239.6L236.5 240.3L236.7 240L237 240.5" stroke="#f29a38" stroke-width="1.12" fill="none" stroke-linejoin="round"/>
<path d="M209.5 241L209.8 241.1L210 240.2L210.3 240.3L210.5 239.2L210.8 240L211 237.3L211.3 238.7L211.5 234.6L211.8 236.3L212 233.2L212.2 233.4L212.5 229.3L212.7 231.1L213 226.2L213.2 227.3L213.5 223.9L213.7 225.2L214 222.2L214.2 224.8L214.5 223.4L214.7 226.6L215 223.9L215.2 226L215.5 224.3L215.7 227.9L216 224L216.2 226.9L216.5 224.8L216.7 228.6L217 224L217.2 227.8L217.4 226.4L217.7 230.6L217.9 226.4L218.2 231.1L218.4 228.2L218.7 231L218.9 229.1L219.2 231.2L219.4 229.4L219.7 232.1L219.9 229.9L220.2 235.1L220.4 231.6L220.7 234L220.9 232.9L221.2 235.7L221.4 233.4L221.7 236.2L221.9 234.2L222.2 236.9L222.4 235.9L222.6 238.6L222.9 235.5L223.1 238.1L223.4 236.6L223.6 238.5L223.9 236.6L224.1 239.7L224.4 238.7L224.6 240.7L224.9 238.6L225.1 240.7L225.4 240L225.6 241.7L225.9 240.1L226.1 242.6L226.4 241L226.6 243.3L226.9 241.7L227.1 243.7L227.3 241.7L227.6 243.7L227.8 242.9L228.1 244.5L228.3 242.9L228.6 244.7L228.8 243.5L229.1 245L229.3 244.2L229.6 245.2L229.8 243.9L230.1 245.5L230.3 244.6L230.6 245.6L230.8 244.4L231.1 245.7" stroke="#3edc34" stroke-width="1.12" fill="none" stroke-linejoin="round"/>
<path d="M209.5 241L209.8 241.1L210 239.8L210.3 240.4L210.5 238.8L210.8 239.4L211 237.2L211.3 238.8L211.5 234.9L211.8 236.4L212 233.3L212.2 234L212.5 230L212.7 231.1L213 226.7L213.2 227L213.5 224.4L213.7 226.9L214 222.9L214.2 226.2L214.5 222.5L214.7 225L215 221.7L215.2 227.3L215.5 222.6L215.7 225.5L216 224.8L216.2 228.3L216.5 224.6L216.7 227.9L217 225.6L217.2 229L217.4 225.4L217.7 230.7L217.9 227.7L218.2 231.2L218.4 226.5L218.7 231.2L218.9 229.3L219.2 231.1L219.4 229.9L219.7 232.9L219.9 230.6L220.2 232.7L220.4 230.9L220.7 234.9L220.9 231.6L221.2 236.5L221.4 233.2L221.7 236.4L221.9 234L222.2 236L222.4 235L222.6 236.8L222.9 235L223.1 239.2L223.4 236.4L223.6 239.2L223.9 237.8L224.1 239.4L224.4 238.9L224.6 240.3L224.9 238.6L225.1 241L225.4 240L225.6 241.8L225.9 239.8L226.1 242.3L226.4 241L226.6 242.6L226.9 241.6L227.1 243.6L227.3 241.9L227.6 243.5L227.8 243L228.1 244.1L228.3 243.2L228.6 244.1L228.8 243.4L229.1 245L229.3 244L229.6 244.8L229.8 244.6L230.1 245.4L230.3 244.6L230.6 245.5L230.8 244.6L231.1 245.7" stroke="#3edc34" stroke-width="1.12" fill="none" stroke-linejoin="round"/>
<path d="M209.5 241L209.8 241.1L210 240L210.3 240.2L210.5 239.2L210.8 239.5L211 237.1L211.3 237.6L211.5 235.2L211.8 235.8L212 232.8L212.2 232.7L212.5 227.8L212.7 231.7L213 224.8L213.2 227.3L213.5 224.7L213.7 226.7L214 222.3L214.2 226.6L214.5 222.8L214.7 226.5L215 222.6L215.2 226.6L215.5 222.3L215.7 226.7L216 222.9L216.2 226.8L216.5 223.7L216.7 227.8L217 224.3L217.2 229.6L217.4 224.9L217.7 229.2L217.9 227.2L218.2 229.6L218.4 228.1L218.7 230.8L218.9 228.1L219.2 231.4L219.4 229.9L219.7 232.6L219.9 229.6L220.2 233.3L220.4 230.9L220.7 236L220.9 232.3L221.2 236L221.4 232.2L221.7 236.9L221.9 233.8L222.2 236L222.4 235.1L222.6 237.9L222.9 236L223.1 238.3L223.4 236L223.6 239.1L223.9 236.9L224.1 240.5L224.4 238.4L224.6 240.8L224.9 239.7L225.1 241.6L225.4 239.2L225.6 241.9L225.9 239.7L226.1 242.6L226.4 240.6L226.6 242.3L226.9 241.9L227.1 243.1L227.3 242.7L227.6 243.6L227.8 242.2L228.1 244.2L228.3 243L228.6 244.5L228.8 243.6L229.1 245.1L229.3 244L229.6 245.4L229.8 244.4L230.1 245.5L230.3 244.2L230.6 245.6L230.8 245.1L231.1 245.7" stroke="#3edc34" stroke-width="1.12" fill="none" stroke-linejoin="round"/>
<path d="M204.4 246.3L204.6 245.1L204.9 246.4L205.1 245.5L205.4 245.7L205.6 244.6L205.9 245.8L206.1 243.2L206.3 245.4L206.6 241.8L206.8 243.1L207.1 239.6L207.3 242.8L207.6 236.9L207.8 239.5L208.1 234.9L208.3 238.8L208.6 233L208.8 235.1L209.1 232.6L209.3 236.3L209.6 232.5L209.8 236.3L210.1 230.4L210.3 235.9L210.6 231.8L210.8 235.9L211 233.2L211.3 236.9L211.5 233.8L211.8 239.1L212 235.6L212.3 239L212.5 234.8L212.8 239L213 235.6L213.3 241.9L213.5 238.2L213.8 241.6L214 237L214.3 240.8L214.5 236.4L214.8 240.1L215 235.9L215.3 237L215.5 233.6L215.8 236.6L216 233.8L216.2 236.6L216.5 232.9L216.7 237.4L217 236.1L217.2 238.8L217.5 234.5L217.7 239.1L218 235.1L218.2 238.4L218.5 236.6L218.7 239.3L219 236.7L219.2 240L219.5 239.1L219.7 241.1L220 237.7L220.2 242.8L220.5 240L220.7 242.4L220.9 239.9L221.2 245.5L221.4 241.4L221.7 245L221.9 242.4L222.2 246.2L222.4 244.1L222.7 247L222.9 245.3L223.2 247.7L223.4 246.4L223.7 248.6L223.9 246.9L224.2 248.9L224.4 247.1L224.7 249.2L224.9 247.3L225.2 249.1L225.4 248.4L225.7 249.9L225.9 249.1L226.1 250.7L226.4 249L226.6 250.4L226.9 249.8L227.1 251.2L227.4 250.2L227.6 250.9L227.9 249.9L228.1 251.5L228.4 250.2L228.6 251.6" stroke="#1a1ae8" stroke-width="1.12" fill="none" stroke-linejoin="round"/>
<path d="M204.4 246.3L204.6 245L204.9 246.4L205.1 244.9L205.4 246.5L205.6 244.1L205.9 246.3L206.1 243.8L206.3 244.9L206.6 242.3L206.8 243.6L207.1 239.3L207.3 242.4L207.6 236.3L207.8 238.4L208.1 236.4L208.3 237.3L208.6 233.6L208.8 235.7L209.1 231.9L209.3 235.3L209.6 230.4L209.8 236.4L210.1 232.3L210.3 236.9L210.6 231.7L210.8 235.3L211 232.8L211.3 238.3L211.5 233.9L211.8 239.2L212 235.5L212.3 238.6L212.5 236.9L212.8 240.6L213 237.7L213.3 239.1L213.5 237.9L213.8 240.2L214 237.6L214.3 241.1L214.5 236.1L214.8 240.3L215 234.5L215.3 236.9L215.5 233.8L215.8 239.2L216 235L216.2 236.6L216.5 235L216.7 238.5L217 235.5L217.2 237.3L217.5 236.1L217.7 238.1L218 235.2L218.2 240.1L218.5 237.1L218.7 241.8L219 237.1L219.2 242.1L219.5 237.5L219.7 242.7L220 238.1L220.2 241.7L220.5 239.7L220.7 242.9L220.9 239.9L221.2 245.3L221.4 242.7L221.7 244.8L221.9 243.9L222.2 245.6L222.4 243.9L222.7 246L222.9 245.6L223.2 247.5L223.4 246.1L223.7 247.5L223.9 247L224.2 248.8L224.4 247.1L224.7 248.8L224.9 248.1L225.2 249.9L225.4 248.5L225.7 250L225.9 248.4L226.1 251L226.4 249.3L226.6 250.9L226.9 249.9L227.1 251.1L227.4 249.7L227.6 251.1L227.9 250.8L228.1 251.5L228.4 250.5L228.6 251.6" stroke="#1a1ae8" stroke-width="1.12" fill="none" stroke-linejoin="round"/>
<path d="M204.4 246.3L204.6 245.7L204.9 246.4L205.1 245.1L205.4 246.5L205.6 244.3L205.9 245.8L206.1 243.7L206.3 243.9L206.6 241.5L206.8 243.3L207.1 240.9L207.3 241.7L207.6 236.9L207.8 240.5L208.1 236L208.3 239L208.6 231.8L208.8 236.1L209.1 231L209.3 234.3L209.6 230.8L209.8 234.4L210.1 230.3L210.3 236.8L210.6 234L210.8 237.2L211 233.5L211.3 237.6L211.5 235.3L211.8 237.3L212 236.8L212.3 240.4L212.5 237.6L212.8 238.7L213 236.1L213.3 241.1L213.5 236.6L213.8 241L214 235.4L214.3 238.9L214.5 236.4L214.8 237.8L215 235.2L215.3 239.7L215.5 234.2L215.8 236.5L216 232.6L216.2 238.1L216.5 235.4L216.7 239.5L217 235.7L217.2 237.7L217.5 235.2L217.7 238.8L218 236.6L218.2 238.4L218.5 236.1L218.7 240.4L219 238.1L219.2 241.9L219.5 237.7L219.7 242.8L220 238L220.2 243.7L220.5 240.6L220.7 244.5L220.9 240.4L221.2 244.2L221.4 242.2L221.7 246L221.9 242.3L222.2 246.8L222.4 244.3L222.7 246.9L222.9 244.6L223.2 247.3L223.4 245.6L223.7 248.1L223.9 245.9L224.2 248.6L224.4 246.8L224.7 249.3L224.9 248.2L225.2 249.5L225.4 248.7L225.7 250.5L225.9 249.2L226.1 250.5L226.4 249.9L226.6 250.8L226.9 249.7L227.1 251.2L227.4 250.1L227.6 251.1L227.9 250.1L228.1 251.5L228.4 250.9L228.6 251.6" stroke="#1a1ae8" stroke-width="1.12" fill="none" stroke-linejoin="round"/>
<path d="M191.5 249.9L191.8 248.8L192 250.1L192.3 248.7L192.5 250.2L192.8 248.4L193 250.1L193.3 247.6L193.5 249.7L193.8 247.3L194 248.2L194.3 245.7L194.5 248.4L194.7 245.2L195 245.9L195.2 243.7L195.5 243.8L195.7 241.4L196 243.7L196.2 239L196.5 242.2L196.7 237.4L197 240.7L197.2 236.7L197.5 238.9L197.7 233.9L198 237.7L198.2 234.6L198.5 236.8L198.7 232.8L199 238.1L199.2 234L199.4 238.4L199.7 234.1L199.9 238.1L200.2 234.5L200.4 239.1L200.7 234.3L200.9 237.2L201.2 235.3L201.4 238.2L201.7 236.2L201.9 240.3L202.2 235.1L202.4 239.9L202.7 234.4L202.9 240.2L203.2 234.4L203.4 240.8L203.7 235.1L203.9 240.9L204.2 236.3L204.4 240L204.6 236.6L204.9 239.8L205.1 237.6L205.4 242.9L205.6 237.6L205.9 244L206.1 237.9L206.4 244.8L206.6 239.5L206.9 243.1L207.1 241.2L207.4 245.2L207.6 241.1L207.9 245.2L208.1 243.6L208.4 247.8L208.6 243L208.9 248.6L209.1 245.6L209.3 247.9L209.6 246.7L209.8 249.6L210.1 247.4L210.3 249.1L210.6 249L210.8 250L211.1 249.4L211.3 251.2L211.6 250.2L211.8 251.7L212.1 250L212.3 252.3L212.6 251.6L212.8 253.2L213.1 252.2L213.3 254.1L213.6 251.8L213.8 254.4L214.1 252.5L214.3 254.1L214.5 253.3L214.8 254.3L215 254L215.3 254.8L215.5 254L215.8 255.2L216 254.6L216.3 255.2L216.5 255.4" stroke="#e8261c" stroke-width="1.2" fill="none" stroke-linejoin="round"/>
<path d="M191.5 249.9L191.8 249L192 250.1L192.3 248.5L192.5 249.7L192.8 248.1L193 250.2L193.3 247.8L193.5 248.7L193.8 247.8L194 247.9L194.3 245.4L194.5 247.2L194.7 243.7L195 245.5L195.2 242.4L195.5 244.3L195.7 240.5L196 243.6L196.2 240.3L196.5 242.4L196.7 236.4L197 239.6L197.2 237.3L197.5 237.6L197.7 235.5L198 236.9L198.2 235.5L198.5 238.4L198.7 232.6L199 236.1L199.2 233L199.4 238.6L199.7 233.4L199.9 237.1L200.2 233.3L200.4 238.3L200.7 234.1L200.9 239.7L201.2 234.3L201.4 238.5L201.7 236.6L201.9 238.2L202.2 234.3L202.4 238.8L202.7 234.6L202.9 238.3L203.2 234.8L203.4 238.4L203.7 236.3L203.9 240L204.2 237.1L204.4 239.5L204.6 237.4L204.9 241.5L205.1 238.8L205.4 241.8L205.6 237.6L205.9 244L206.1 239.2L206.4 244.7L206.6 240.6L206.9 244.3L207.1 241.9L207.4 245.8L207.6 242.8L207.9 246.5L208.1 242.6L208.4 246L208.6 244.3L208.9 247.9L209.1 245.3L209.3 247.9L209.6 245.9L209.8 250.1L210.1 247.8L210.3 249.4L210.6 248.1L210.8 250.9L211.1 249.6L211.3 251.7L211.6 250.2L211.8 252.2L212.1 251.2L212.3 252.6L212.6 251L212.8 253.8L213.1 251.7L213.3 253.3L213.6 252.5L213.8 253.6L214.1 253.2L214.3 254.4L214.5 252.7L214.8 255L215 254.1L215.3 255.1L215.5 254.3L215.8 254.9L216 253.7L216.3 255.3L216.5 255.4" stroke="#e8261c" stroke-width="1.2" fill="none" stroke-linejoin="round"/>
<path d="M191.5 249.9L191.8 248.5L192 250.1L192.3 249.1L192.5 250.2L192.8 248.3L193 249.7L193.3 247.7L193.5 249.4L193.8 247L194 247.9L194.3 246.4L194.5 247.4L194.7 244.8L195 246.5L195.2 243.2L195.5 244.3L195.7 240.4L196 242.8L196.2 238.8L196.5 241.1L196.7 237.7L197 239.4L197.2 237.2L197.5 239.8L197.7 234.6L198 238.8L198.2 234.3L198.5 236.9L198.7 233.5L199 238.8L199.2 235.4L199.4 237.9L199.7 234.4L199.9 237.9L200.2 235L200.4 238.6L200.7 236.3L200.9 237.8L201.2 235.3L201.4 237.8L201.7 236.7L201.9 238.7L202.2 235.7L202.4 238.8L202.7 235.7L202.9 240.8L203.2 235.9L203.4 240.2L203.7 237.1L203.9 240.1L204.2 235L204.4 241.3L204.6 237.3L204.9 240.5L205.1 238.6L205.4 243L205.6 239.3L205.9 242.4L206.1 238.5L206.4 245.1L206.6 240.9L206.9 244.2L207.1 242.2L207.4 246.1L207.6 241.3L207.9 246.2L208.1 242.8L208.4 247.9L208.6 244.7L208.9 246.9L209.1 244L209.3 249.6L209.6 246.7L209.8 249.2L210.1 246.9L210.3 250.3L210.6 248.3L210.8 250.9L211.1 248.2L211.3 251.7L211.6 249.5L211.8 252.2L212.1 249.8L212.3 253.4L212.6 251.3L212.8 253.2L213.1 251.5L213.3 253.7L213.6 252.1L213.8 253.6L214.1 252.6L214.3 254.8L214.5 253.1L214.8 254.3L215 253.7L215.3 255.1L215.5 254.3L215.8 255.2L216 254.4L216.3 255.3L216.5 255.4" stroke="#e8261c" stroke-width="1.2" fill="none" stroke-linejoin="round"/>
<path d="M183.5 251.2L183.7 251L183.8 249.8L183.9 248.5L184.1 246.3L184.2 244.7L184.4 244.4L184.6 242.6L184.7 240L184.8 237.9L185 235.9L185.2 232.2L185.3 231.1L185.4 228.9L185.6 226.3L185.8 224.5L185.9 221.5L186.1 221.3L186.2 219.6L186.3 218.5L186.5 218.2L186.7 219.5L186.8 219.2L186.9 221.6L187.1 222.2L187.2 224.8L187.4 225.3L187.6 228.7L187.7 230.6L187.8 233.1L188 234.5L188.2 236.8L188.3 239.9L188.4 241.8L188.6 243.2L188.8 245.3L188.9 247.5L189.1 249L189.2 249.5L189.3 250.3L189.5 251.2 Z" fill="#d7dbdb" stroke="#d7dbdb" stroke-width=".4"/>
<path d="M250 203.6H258.9" stroke="#5b7b70" stroke-width="2"/>
<text x="262.5" y="203.6" font-size="4.5" text-anchor="middle" fill="#555" font-family="'Liberation Serif',serif" transform="rotate(90 262.5 203.6)">5</text>
<path d="M250 208.3H258.9" stroke="#e8261c" stroke-width="2"/>
<text x="262.5" y="208.3" font-size="4.5" text-anchor="middle" fill="#555" font-family="'Liberation Serif',serif" transform="rotate(90 262.5 208.3)">57</text>
<path d="M250 213H258.9" stroke="#1a1ae8" stroke-width="2"/>
<text x="262.5" y="213" font-size="4.5" text-anchor="middle" fill="#555" font-family="'Liberation Serif',serif" transform="rotate(90 262.5 213)">513</text>
<path d="M250 217.7H258.9" stroke="#3edc34" stroke-width="2"/>
<text x="262.5" y="217.7" font-size="4.5" text-anchor="middle" fill="#555" font-family="'Liberation Serif',serif" transform="rotate(90 262.5 217.7)">34</text>
<path d="M250 222.4H258.9" stroke="#f29a38" stroke-width="2"/>
<text x="262.5" y="222.4" font-size="4.5" text-anchor="middle" fill="#555" font-family="'Liberation Serif',serif" transform="rotate(90 262.5 222.4)">52</text>
<path d="M250 227.1H258.9" stroke="#000000" stroke-width="2"/>
<text x="262.5" y="227.1" font-size="4.5" text-anchor="middle" fill="#555" font-family="'Liberation Serif',serif" transform="rotate(90 262.5 227.1)">5</text>
<text x="213.8" y="269.9" font-size="8" text-anchor="middle" font-family="'Liberation Serif',serif">CCR2</text>
<text x="185.4" y="207.5" font-size="11" font-weight="bold" stroke="#000" stroke-width=".3">F</text>
<path d="M272.3 251.2L327.2 261.2" stroke="#e8261c" stroke-width=".7" fill="none"/>
<path d="M280.2 246.9L335.1 256.9" stroke="#2a2ae8" stroke-width=".7" fill="none"/>
<path d="M288 242.6L342.9 252.6" stroke="#3edc34" stroke-width=".7" fill="none"/>
<path d="M295.9 238.3L350.8 248.3" stroke="#f29a38" stroke-width=".7" fill="none"/>
<path d="M303.7 233.9L358.6 243.9" stroke="#222222" stroke-width=".7" fill="none"/>
<path d="M272.3 251.2L303.7 233.9M278.4 252.4L309.8 235.1M284.5 253.5L315.9 236.2M290.6 254.6L322 237.3M296.7 255.7L328.1 238.4M302.8 256.8L334.2 239.5M308.9 257.9L340.3 240.6M315 259L346.4 241.7M321.1 260.1L352.5 242.8M327.2 261.2L358.6 243.9" stroke="#6e4a60" stroke-width=".7" fill="none"/>
<path d="M304.7 234.1L305 233.6L305.2 233.7L305.5 232.7L305.7 232.2L306 230L306.2 228.5L306.5 224.2L306.7 221.4L307 216.6L307.2 213.3L307.5 208.3L307.7 205.8L308 203.4L308.2 204.7L308.4 203.6L308.7 206.1L308.9 206.2L309.2 209.1L309.4 209.2L309.7 213.1L309.9 214.1L310.2 217.1L310.4 218.5L310.7 221.4L310.9 221.7L311.2 224.9L311.4 225.5L311.7 227L311.9 227.6L312.2 228.8L312.4 228.9L312.6 230.3L312.9 229.9L313.1 231L313.4 230.6L313.6 231.8L313.9 231.1L314.1 231.9L314.4 231.5L314.6 232.4L314.9 231.8L315.1 233L315.4 232.2L315.6 233.3L315.9 232.5L316.1 233.7L316.4 233.3L316.6 234L316.8 233.6L317.1 234.1L317.3 234.1L317.6 234.8L317.8 234.5L318.1 235.1L318.3 234.6L318.6 235.4L318.8 235L319.1 235.7L319.3 235.4L319.6 235.9L319.8 235.7L320.1 236.2L320.3 235.9L320.6 236.4L320.8 236.3L321 236.5L321.3 236.4L321.5 237L321.8 236.5L322 237.1L322.3 236.7L322.5 237.2L322.8 237.4" stroke="#000000" stroke-width="1.2" fill="none" stroke-linejoin="round"/>
<path d="M304.7 234.1L305 233.7L305.2 233.8L305.5 232.7L305.7 232L306 230.1L306.2 228.7L306.5 224.1L306.7 221.8L307 216.5L307.2 213.3L307.5 207.5L307.7 206.4L308 203.5L308.2 204.9L308.4 203.7L308.7 206.2L308.9 206.5L309.2 209.3L309.4 209.3L309.7 213.1L309.9 213.9L310.2 216.8L310.4 218.2L310.7 220.9L310.9 222.2L311.2 224.8L311.4 224.7L311.7 227.1L311.9 226.9L312.2 228.9L312.4 229L312.6 229.9L312.9 229.9L313.1 231.1L313.4 230.3L313.6 231.7L313.9 231.1L314.1 232.1L314.4 231.4L314.6 232.5L314.9 232.1L315.1 232.9L315.4 232.5L315.6 233.2L315.9 232.6L316.1 233.6L316.4 233.3L316.6 233.7L316.8 233.5L317.1 234.3L317.3 234L317.6 234.7L317.8 234.1L318.1 234.9L318.3 234.7L318.6 235.5L318.8 234.9L319.1 235.5L319.3 235.3L319.6 235.9L319.8 235.5L320.1 236.2L320.3 235.8L320.6 236.4L320.8 236.3L321 236.6L321.3 236.4L321.5 236.9L321.8 236.7L322 237.1L322.3 236.7L322.5 237.1L322.8 237.4" stroke="#000000" stroke-width="1.2" fill="none" stroke-linejoin="round"/>
<path d="M304.7 234.1L305 233.7L305.2 233.8L305.5 232.8L305.7 232.4L306 230L306.2 228.7L306.5 224.7L306.7 221.7L307 216.6L307.2 212.9L307.5 208.2L307.7 206.3L308 203.4L308.2 205L308.4 203.8L308.7 206.4L308.9 205.9L309.2 209.3L309.4 209.9L309.7 212.7L309.9 213.8L310.2 216.9L310.4 217.7L310.7 221.2L310.9 221.8L311.2 224.9L311.4 224.8L311.7 227.2L311.9 227.3L312.2 228.8L312.4 228.8L312.6 230.3L312.9 229.9L313.1 230.7L313.4 230.8L313.6 231.6L313.9 231.3L314.1 232.3L314.4 231.3L314.6 232.5L314.9 231.9L315.1 232.7L315.4 232.3L315.6 233.1L315.9 232.9L316.1 233.7L316.4 233L316.6 233.9L316.8 233.5L317.1 234.1L317.3 233.7L317.6 234.6L317.8 234.3L318.1 234.8L318.3 234.6L318.6 235.2L318.8 235.1L319.1 235.7L319.3 235.5L319.6 236L319.8 235.6L320.1 236.1L320.3 236L320.6 236.4L320.8 236.1L321 236.7L321.3 236.4L321.5 236.8L321.8 236.6L322 237.1L322.3 236.9L322.5 237.4L322.8 237.4" stroke="#000000" stroke-width="1.2" fill="none" stroke-linejoin="round"/>
<path d="M301.6 239.3L301.8 239.3L302.1 238.3L302.3 238.3L302.6 236.3L302.8 236.3L303.1 233.9L303.3 233.2L303.6 228.2L303.8 227.7L304.1 222.6L304.3 220.9L304.6 214.9L304.8 213.6L305 209.6L305.3 209.5L305.5 207.2L305.8 209.7L306 208.7L306.3 210.8L306.5 209.1L306.8 212.8L307 211.5L307.3 215.5L307.5 213.5L307.8 218.3L308 217.8L308.3 221.1L308.5 219.8L308.8 223.3L309 222.8L309.2 225.8L309.5 225.6L309.7 229L310 228L310.2 230.6L310.5 229.3L310.7 231.9L311 231.1L311.2 234.1L311.5 232.7L311.7 234.4L312 234.3L312.2 235.1L312.5 234.8L312.7 235.9L313 235.1L313.2 236.6L313.4 236.4L313.7 237.9L313.9 236.9L314.2 238L314.4 236.9L314.7 238.8L314.9 237.6L315.2 238.4L315.4 237.9L315.7 239.6L315.9 238.1L316.2 240L316.4 239.1L316.7 239.7L316.9 239.1L317.2 240.4L317.4 239.9L317.6 240.6L317.9 240.3L318.1 241.5L318.4 240.6L318.6 241.3L318.9 240.7L319.1 242L319.4 241.3L319.6 241.8L319.9 241.2L320.1 242.3L320.4 241.6L320.6 242.6L320.9 242.1L321.1 242.7L321.4 242.1L321.6 243L321.8 242.3L322.1 243.1" stroke="#f29a38" stroke-width="1.12" fill="none" stroke-linejoin="round"/>
<path d="M301.6 239.3L301.8 239.3L302.1 238.3L302.3 238.3L302.6 236.3L302.8 236.6L303.1 232.9L303.3 233.5L303.6 228.2L303.8 228L304.1 222.4L304.3 220.9L304.6 215.2L304.8 213.5L305 209.6L305.3 210.6L305.5 208.1L305.8 209L306 208.3L306.3 211.4L306.5 209.2L306.8 213L307 212L307.3 214.7L307.5 214.3L307.8 217.1L308 217.3L308.3 220.6L308.5 219.9L308.8 223.4L309 222.4L309.2 226.3L309.5 224.9L309.7 228.4L310 227.5L310.2 231.3L310.5 230.3L310.7 232.8L311 231.6L311.2 233.4L311.5 232.1L311.7 235.5L312 233.3L312.2 235.5L312.5 234.2L312.7 235.9L313 235.2L313.2 236.7L313.4 235.8L313.7 237.5L313.9 236.8L314.2 237.6L314.4 236.6L314.7 238.4L314.9 237.9L315.2 238.5L315.4 237.9L315.7 239.6L315.9 238.3L316.2 239.3L316.4 239L316.7 239.7L316.9 239.2L317.2 240.3L317.4 239.9L317.6 240.5L317.9 240.5L318.1 241.2L318.4 240.3L318.6 241.6L318.9 241.1L319.1 241.5L319.4 241.4L319.6 242L319.9 241.6L320.1 242.3L320.4 241.6L320.6 242.3L320.9 241.9L321.1 242.4L321.4 241.9L321.6 243L321.8 242.6L322.1 243.1" stroke="#f29a38" stroke-width="1.12" fill="none" stroke-linejoin="round"/>
<path d="M301.6 239.3L301.8 239.3L302.1 238.1L302.3 238.5L302.6 236.6L302.8 236.7L303.1 233.3L303.3 232.9L303.6 227.7L303.8 227.3L304.1 222.4L304.3 220.9L304.6 215.7L304.8 214.6L305 209L305.3 210.7L305.5 208L305.8 209.7L306 208.8L306.3 211L306.5 208.7L306.8 212.4L307 211.8L307.3 214.6L307.5 214.3L307.8 217.7L308 216.4L308.3 220.8L308.5 220.7L308.8 223.5L309 222.2L309.2 226.2L309.5 225.3L309.7 227.9L310 228.2L310.2 230.9L310.5 229.2L310.7 233.3L311 231.9L311.2 233.2L311.5 233.1L311.7 234.5L312 233.2L312.2 235.5L312.5 234.3L312.7 236.7L313 235.3L313.2 236.4L313.4 236L313.7 237.3L313.9 236.3L314.2 237.7L314.4 237.3L314.7 238.6L314.9 237.1L315.2 239L315.4 237.7L315.7 239.1L315.9 238.7L316.2 239.9L316.4 238.9L316.7 240.1L316.9 239.2L317.2 240.4L317.4 239.5L317.6 240.6L317.9 240.1L318.1 241L318.4 240.4L318.6 241.4L318.9 240.9L319.1 241.8L319.4 241.2L319.6 242.3L319.9 241.3L320.1 242.4L320.4 241.8L320.6 242.7L320.9 241.7L321.1 242.8L321.4 241.9L321.6 242.7L321.8 242.5L322.1 243.1" stroke="#f29a38" stroke-width="1.12" fill="none" stroke-linejoin="round"/>
<path d="M297.7 244.4L297.9 244.4L298.2 243.5L298.4 244L298.7 243.1L298.9 243.5L299.2 242L299.4 243.2L299.7 240.5L299.9 241.1L300.2 238.6L300.4 239L300.7 235.6L300.9 236.5L301.1 231.6L301.4 232.6L301.6 226.3L301.9 229.9L302.1 225.5L302.4 227.4L302.6 221.9L302.9 224.4L303.1 220.6L303.4 226L303.6 222.5L303.9 224.4L304.1 221.4L304.4 225.2L304.6 222.2L304.9 226.4L305.1 222.4L305.3 225.9L305.6 223.3L305.8 228.6L306.1 225.2L306.3 228.8L306.6 226.1L306.8 230.8L307.1 226.2L307.3 230.8L307.6 226.5L307.8 232.7L308.1 228.7L308.3 232.3L308.6 228.1L308.8 232L309.1 230.9L309.3 232.9L309.5 230.2L309.8 234.5L310 231.5L310.3 236L310.5 232.2L310.8 237L311 234.3L311.3 236L311.5 235.3L311.8 238.9L312 236.1L312.3 239.6L312.5 236.5L312.8 238.9L313 237.1L313.3 240.2L313.5 236.7L313.7 240.5L314 238.6L314.2 242.8L314.5 239.9L314.7 243.1L315 241.1L315.2 243.8L315.5 240.8L315.7 243.5L316 241.7L316.2 244.5L316.5 243.2L316.7 245.4L317 243.3L317.2 246.4L317.5 244.5L317.7 245.6L317.9 244.7L318.2 246.7L318.4 245.3L318.7 246.8L318.9 246.3L319.2 247.8L319.4 246.3L319.7 247.9L319.9 246.3L320.2 248.1L320.4 247.3L320.7 248.4L320.9 247.4L321.2 248.5L321.4 247.4L321.7 248.6L321.9 247.6L322.1 248.8L322.4 248.9" stroke="#3edc34" stroke-width="1.12" fill="none" stroke-linejoin="round"/>
<path d="M297.7 244.4L297.9 244.3L298.2 243.5L298.4 244.3L298.7 243.2L298.9 243.4L299.2 241.1L299.4 242.3L299.7 239.4L299.9 241.6L300.2 236.8L300.4 240L300.7 233.3L300.9 234.9L301.1 232.4L301.4 231.8L301.6 227.6L301.9 230.8L302.1 225.5L302.4 226L302.6 223.4L302.9 224.6L303.1 222.8L303.4 224.1L303.6 222.6L303.9 226.5L304.1 221.5L304.4 226.9L304.6 222.4L304.9 226.2L305.1 221.9L305.3 226.5L305.6 223.8L305.8 229.2L306.1 223.6L306.3 228.1L306.6 226.5L306.8 230.4L307.1 226.4L307.3 230.4L307.6 227.1L307.8 231.7L308.1 228.6L308.3 231.5L308.6 229.9L308.8 234.2L309.1 229.9L309.3 234.3L309.5 232.1L309.8 235.5L310 232.5L310.3 237.1L310.5 233.2L310.8 237.5L311 232.4L311.3 236.7L311.5 233L311.8 238.5L312 234.7L312.3 238.1L312.5 235.7L312.8 240.1L313 236.8L313.3 239.7L313.5 238.6L313.7 242.1L314 239.3L314.2 240.9L314.5 239L314.7 243.3L315 240.3L315.2 243.3L315.5 240.8L315.7 243.3L316 242.7L316.2 245.1L316.5 242.3L316.7 244.4L317 242.9L317.2 245.9L317.5 244.9L317.7 245.6L317.9 244.6L318.2 246.7L318.4 245.9L318.7 246.5L318.9 245.6L319.2 247.9L319.4 246.3L319.7 247.8L319.9 247.1L320.2 248.1L320.4 246.8L320.7 248.5L320.9 247.6L321.2 248.6L321.4 247.5L321.7 248.7L321.9 247.7L322.1 248.8L322.4 248.9" stroke="#3edc34" stroke-width="1.12" fill="none" stroke-linejoin="round"/>
<path d="M297.7 244.4L297.9 244.4L298.2 243.7L298.4 244.2L298.7 242.7L298.9 244.2L299.2 242.3L299.4 243.3L299.7 239.3L299.9 240.6L300.2 237.3L300.4 238.2L300.7 234.5L300.9 235.4L301.1 230.8L301.4 232.4L301.6 226.7L301.9 229.4L302.1 225.2L302.4 226.3L302.6 223.3L302.9 225.8L303.1 223.1L303.4 224.4L303.6 220.8L303.9 224.8L304.1 222.8L304.4 224.7L304.6 223.2L304.9 226.7L305.1 224.2L305.3 227.4L305.6 223.3L305.8 228.7L306.1 225.1L306.3 228.7L306.6 225.8L306.8 230.8L307.1 225.7L307.3 230.6L307.6 227L307.8 232.2L308.1 229.3L308.3 232L308.6 230.2L308.8 234L309.1 230.5L309.3 233.3L309.5 229.8L309.8 234.6L310 231.1L310.3 234.3L310.5 233.5L310.8 236.7L311 232.8L311.3 238L311.5 235.1L311.8 237.3L312 234.1L312.3 240.1L312.5 235.6L312.8 238.8L313 236.9L313.3 241.4L313.5 237.9L313.7 241.2L314 238L314.2 241.2L314.5 239.4L314.7 242.9L315 239.5L315.2 243.7L315.5 240.5L315.7 244.4L316 243L316.2 243.8L316.5 242.4L316.7 244.8L317 244.1L317.2 245.6L317.5 244.7L317.7 246L317.9 244.2L318.2 246.5L318.4 245L318.7 246.7L318.9 245.7L319.2 248L319.4 245.8L319.7 247.9L319.9 246.9L320.2 248.5L320.4 247.2L320.7 248L320.9 247.2L321.2 248.6L321.4 247.7L321.7 248.7L321.9 247.4L322.1 248.8L322.4 248.9" stroke="#3edc34" stroke-width="1.12" fill="none" stroke-linejoin="round"/>
<path d="M279.5 246.8L279.7 246.8L280 245.8L280.2 246.5L280.5 246L280.7 246.6L280.9 245.7L281.2 246.5L281.4 244.8L281.7 246.1L281.9 244.1L282.2 246.5L282.4 244.4L282.7 245.1L282.9 243.4L283.2 244.8L283.4 242.5L283.7 244.6L283.9 241.6L284.2 243.2L284.4 240.4L284.7 242.8L284.9 240.1L285.1 243.7L285.4 238.6L285.6 241.7L285.9 239.1L286.1 242.7L286.4 238.6L286.6 241.4L286.9 237.3L287.1 241L287.4 238L287.6 242L287.9 239.4L288.1 242.8L288.4 238.8L288.6 243.3L288.9 239.5L289.1 242.8L289.3 240.7L289.6 244.2L289.8 240.1L290.1 243.5L290.3 242.1L290.6 245.7L290.8 242.1L291.1 244.9L291.3 243L291.6 245.1L291.8 243.3L292.1 247.3L292.3 245.1L292.6 246.6L292.8 244.8L293.1 248.3L293.3 246L293.5 247.7L293.8 246.2L294 248.9L294.3 246.9L294.5 248.7L294.8 246.2L295 248L295.3 244.6L295.5 246.5L295.8 242.9L296 244.6L296.3 238.6L296.5 239.3L296.8 234L297 232.9L297.3 228L297.5 226.2L297.7 220.4L298 220.6L298.2 217.3L298.5 217.5L298.7 213.1L299 219.6L299.2 214L299.5 219.6L299.7 216.9L300 221.2L300.2 218.4L300.5 223L300.7 219.9L301 224L301.2 222.1L301.5 228.3L301.7 225.5L301.9 230.9L302.2 226.9L302.4 234.2L302.7 230.3L302.9 234.8L303.2 233.3L303.4 237L303.7 233.5L303.9 238.2L304.2 236L304.4 241.8L304.7 237.3L304.9 243.7L305.2 240.5L305.4 244.1L305.7 241.1L305.9 243.5L306.1 241.1L306.4 244.8L306.6 243L306.9 245.3L307.1 241.8L307.4 246.5L307.6 244.6L307.9 247.5L308.1 245.1L308.4 247.5L308.6 244.9L308.9 247.1L309.1 244.4L309.4 248.3L309.6 244.7L309.9 249L310.1 246.3L310.3 248.8L310.6 246.5L310.8 249.2L311.1 247.2L311.3 248.4L311.6 246.2L311.8 250.4L312.1 248.1L312.3 249L312.6 248.1L312.8 249.4L313.1 248L313.3 250.9L313.6 248.5L313.8 250.6L314.1 248.5L314.3 251.2L314.5 250.2L314.8 251.7L315 249.7L315.3 252L315.5 250.6L315.8 252.7L316 251.2L316.3 252.1L316.5 250.5L316.8 252.1L317 251.1L317.3 253.1L317.5 252L317.8 253.5L318 251.9L318.3 253.6L318.5 252.3L318.7 253.1L319 252.1L319.2 254L319.5 252.9L319.7 253.8L320 252.7L320.2 253.8L320.5 252.7L320.7 254.3L321 253.5L321.2 254.4L321.5 253.7L321.7 254.4L322 253.6L322.2 254.6" stroke="#1a1ae8" stroke-width="1.12" fill="none" stroke-linejoin="round"/>
<path d="M279.5 246.8L279.7 246.7L280 245.4L280.2 246.9L280.5 245.8L280.7 246.9L280.9 245.3L281.2 247.1L281.4 245.3L281.7 245.7L281.9 245.2L282.2 246.1L282.4 244.6L282.7 245.8L282.9 243.9L283.2 244.7L283.4 242.2L283.7 244.4L283.9 242L284.2 243.6L284.4 240.9L284.7 242.4L284.9 240.1L285.1 242.4L285.4 239.3L285.6 242.4L285.9 237.8L286.1 242.9L286.4 238.4L286.6 241.7L286.9 239.2L287.1 240.5L287.4 239.9L287.6 241.6L287.9 239.1L288.1 243.4L288.4 238.5L288.6 242.7L288.9 240.1L289.1 243.7L289.3 239.6L289.6 244.1L289.8 241.1L290.1 243.1L290.3 242.1L290.6 245L290.8 242.4L291.1 245.3L291.3 243.6L291.6 245.4L291.8 243.4L292.1 246.3L292.3 244.9L292.6 247.5L292.8 245.5L293.1 247.9L293.3 246.2L293.5 248.2L293.8 246.6L294 248.6L294.3 246.5L294.5 248L294.8 246.5L295 247.6L295.3 244.6L295.5 246.3L295.8 242.7L296 243.8L296.3 238.1L296.5 241.1L296.8 231.9L297 234.1L297.3 225.5L297.5 226.9L297.7 221.1L298 221.2L298.2 217.6L298.5 219.1L298.7 213.8L299 217.6L299.2 215.4L299.5 219.2L299.7 216.2L300 220.4L300.2 217.9L300.5 221.8L300.7 220.2L301 224.4L301.2 222.6L301.5 229L301.7 226.4L301.9 230.4L302.2 226.5L302.4 232.3L302.7 228.9L302.9 235.9L303.2 233.2L303.4 236.3L303.7 233.9L303.9 240.8L304.2 237L304.4 239.6L304.7 238.6L304.9 241.5L305.2 238.6L305.4 243.6L305.7 241.7L305.9 243.5L306.1 242.7L306.4 244.6L306.6 242.9L306.9 246.3L307.1 242.6L307.4 246.5L307.6 242.7L307.9 247.6L308.1 244L308.4 247.7L308.6 244.1L308.9 247.9L309.1 245.4L309.4 247.1L309.6 246.1L309.9 247.5L310.1 245.4L310.3 248.9L310.6 245.9L310.8 248.4L311.1 245.8L311.3 249.9L311.6 247.9L311.8 249.1L312.1 248.2L312.3 250.4L312.6 247.9L312.8 250.6L313.1 247.7L313.3 251L313.6 249.3L313.8 250.1L314.1 249.3L314.3 251L314.5 249L314.8 251.9L315 250L315.3 251.9L315.5 249.9L315.8 251.6L316 250.2L316.3 252.1L316.5 251.4L316.8 252.5L317 251L317.3 253.4L317.5 251.4L317.8 252.7L318 252.1L318.3 253.1L318.5 251.9L318.7 254L319 251.9L319.2 254L319.5 252.8L319.7 254.1L320 252.7L320.2 253.8L320.5 253.4L320.7 254.3L321 253.2L321.2 254.1L321.5 253.6L321.7 254.5L322 253.1L322.2 254.6" stroke="#1a1ae8" stroke-width="1.12" fill="none" stroke-linejoin="round"/>
<path d="M279.5 246.8L279.7 246.8L280 245.7L280.2 246.9L280.5 245.2L280.7 247L280.9 245.2L281.2 246.6L281.4 244.5L281.7 246.8L281.9 244.9L282.2 245.8L282.4 244L282.7 246.2L282.9 243.9L283.2 244.4L283.4 242.2L283.7 243.8L283.9 242.3L284.2 243.7L284.4 240.8L284.7 243.6L284.9 239.2L285.1 241.6L285.4 239.5L285.6 241L285.9 238L286.1 243L286.4 239.9L286.6 240.5L286.9 239.7L287.1 242.5L287.4 238.7L287.6 242.2L287.9 240L288.1 242.9L288.4 239.9L288.6 241.5L288.9 240.3L289.1 242.8L289.3 241.1L289.6 243.1L289.8 242.2L290.1 243.2L290.3 241.1L290.6 244.7L290.8 242.9L291.1 246.1L291.3 243.3L291.6 246.3L291.8 244.4L292.1 246L292.3 245L292.6 246.5L292.8 245.2L293.1 247.8L293.3 246.1L293.5 247.5L293.8 246.4L294 247.9L294.3 246.1L294.5 248.1L294.8 245.7L295 248L295.3 245.8L295.5 246L295.8 242.4L296 243.3L296.3 238.4L296.5 238.5L296.8 234L297 233.8L297.3 227.9L297.5 228.6L297.7 220.4L298 222.9L298.2 216L298.5 220L298.7 214.9L299 218.2L299.2 214.5L299.5 219.9L299.7 216.9L300 221.6L300.2 219.1L300.5 221.6L300.7 218.7L301 224.9L301.2 223.5L301.5 226.1L301.7 225.5L301.9 230.1L302.2 226.3L302.4 231.3L302.7 231.1L302.9 233.9L303.2 231.6L303.4 238.8L303.7 235.9L303.9 238.5L304.2 236.5L304.4 239.9L304.7 237.1L304.9 243.1L305.2 239.1L305.4 242.5L305.7 240.5L305.9 244.3L306.1 242.2L306.4 244.7L306.6 243.6L306.9 245.7L307.1 244.2L307.4 247.1L307.6 242.5L307.9 246.2L308.1 244L308.4 247.7L308.6 245.5L308.9 247.5L309.1 244.6L309.4 248L309.6 244.8L309.9 247.4L310.1 245.6L310.3 248.3L310.6 245.4L310.8 249L311.1 245.8L311.3 248.7L311.6 246.1L311.8 249.8L312.1 247.5L312.3 250.2L312.6 248L312.8 250.3L313.1 247.9L313.3 251.3L313.6 248.7L313.8 251.5L314.1 248.4L314.3 251.1L314.5 249.8L314.8 252.1L315 250.5L315.3 251.6L315.5 250.9L315.8 252.7L316 250.7L316.3 252.3L316.5 251.1L316.8 252.8L317 251L317.3 252.5L317.5 251.6L317.8 253.6L318 251.8L318.3 253.3L318.5 252.2L318.7 253.3L319 252.5L319.2 253.6L319.5 253L319.7 254.1L320 252.6L320.2 253.8L320.5 253.1L320.7 254.3L321 253.3L321.2 254.4L321.5 253.5L321.7 254.5L322 253.1L322.2 254.6" stroke="#1a1ae8" stroke-width="1.12" fill="none" stroke-linejoin="round"/>
<path d="M278.8 252.4L279 251.8L279.3 252.5L279.5 250.3L279.8 252.6L280 250.9L280.3 252.4L280.5 251L280.8 252.8L281 249.5L281.2 252.1L281.5 249.4L281.7 251.3L282 248L282.2 250.5L282.5 247.5L282.7 251.4L283 246.5L283.2 252.2L283.5 245.9L283.7 251L284 245.6L284.2 250.3L284.5 247L284.7 251.3L285 243.5L285.2 247.7L285.4 243L285.7 248.1L285.9 244L286.2 247.3L286.4 242.3L286.7 250.2L286.9 241.7L287.2 250.3L287.4 242.7L287.7 250.3L287.9 243.3L288.2 248.5L288.4 243.8L288.7 245.5L288.9 242.4L289.2 249.3L289.4 239.2L289.6 245L289.9 242L290.1 245.5L290.4 237.4L290.6 246.6L290.9 238.9L291.1 246.5L291.4 236.8L291.6 245L291.9 236L292.1 244.4L292.4 237.5L292.6 242.7L292.9 234.4L293.1 242.2L293.4 236.6L293.6 239.3L293.8 232.7L294.1 238.8L294.3 234.3L294.6 239.1L294.8 232.5L295.1 236.6L295.3 229.6L295.6 239.5L295.8 229.5L296.1 234.2L296.3 229L296.6 235.6L296.8 231.2L297.1 233.4L297.3 228.4L297.6 234.1L297.8 226.6L298 233.5L298.3 225.3L298.5 233.4L298.8 227.8L299 233.6L299.3 228.3L299.5 235L299.8 230L300 234.1L300.3 229.4L300.5 237.6L300.8 229.3L301 239.4L301.3 230.8L301.5 238.4L301.8 235.8L302 241.2L302.2 236.6L302.5 241.1L302.7 238.7L303 242.8L303.2 238.4L303.5 246L303.7 241.7L304 247.5L304.2 243.5L304.5 248.2L304.7 242.6L305 250.2L305.2 244.8L305.5 252.4L305.7 248.1L306 254.5L306.2 250.9L306.4 253L306.7 250.8L306.9 255L307.2 253.6L307.4 255.6L307.7 254.1L307.9 256.8L308.2 253.7L308.4 257.6L308.7 254.2L308.9 257.3L309.2 255.6L309.4 257.4L309.7 255.6L309.9 257.7L310.2 257.2L310.4 258.2L310.6 257L310.9 258.3L311.1 258.3" stroke="#e8261c" stroke-width="1.2" fill="none" stroke-linejoin="round"/>
<path d="M278.8 252.4L279 251.7L279.3 252.5L279.5 251L279.8 252.6L280 251.3L280.3 252.7L280.5 250.4L280.8 252.8L281 249.2L281.2 251.5L281.5 249.7L281.7 252.4L282 248.2L282.2 250.8L282.5 248.9L282.7 252.4L283 247.7L283.2 250L283.5 248L283.7 250.8L284 245.6L284.2 248.5L284.5 244.2L284.7 249.3L285 246.4L285.2 248.1L285.4 245.7L285.7 249.3L285.9 245.2L286.2 247.1L286.4 244.9L286.7 249.7L286.9 243L287.2 248.7L287.4 240.8L287.7 249.2L287.9 243.2L288.2 247.1L288.4 239.8L288.7 246.7L288.9 239L289.2 245.8L289.4 241.3L289.6 247.2L289.9 239.5L290.1 245.3L290.4 240.5L290.6 246.8L290.9 238.5L291.1 246.1L291.4 238.3L291.6 241.5L291.9 236.4L292.1 245.2L292.4 236.2L292.6 240.1L292.9 233.5L293.1 243.7L293.4 236.7L293.6 239.1L293.8 232.2L294.1 238L294.3 234.7L294.6 239.4L294.8 233.1L295.1 236L295.3 232.1L295.6 236.8L295.8 229.6L296.1 236.6L296.3 228.1L296.6 237.2L296.8 227.4L297.1 234.2L297.3 227L297.6 234.8L297.8 229.7L298 230.7L298.3 227.3L298.5 231.8L298.8 227.7L299 230.8L299.3 226.9L299.5 235.6L299.8 228.8L300 235.6L300.3 229L300.5 238.1L300.8 232L301 238.9L301.3 232.5L301.5 241.9L301.8 234.6L302 242.1L302.2 235.5L302.5 244.7L302.7 238.1L303 244.2L303.2 240.2L303.5 245.4L303.7 243.7L304 245.9L304.2 244.4L304.5 250.5L304.7 243.1L305 250.9L305.2 244.9L305.5 250.9L305.7 249.5L306 254.1L306.2 249.5L306.4 255.5L306.7 251.3L306.9 255.6L307.2 252.5L307.4 257L307.7 254.7L307.9 255.7L308.2 254.5L308.4 257.7L308.7 254.2L308.9 257.4L309.2 255.5L309.4 258L309.7 255.8L309.9 258.1L310.2 256L310.4 258.2L310.6 256.7L310.9 258.3L311.1 258.3" stroke="#e8261c" stroke-width="1.2" fill="none" stroke-linejoin="round"/>
<path d="M278.8 252.4L279 250.5L279.3 252.5L279.5 250.3L279.8 252.6L280 249.9L280.3 252.7L280.5 249.7L280.8 252.2L281 251L281.2 251.8L281.5 250L281.7 251.5L282 248.6L282.2 251.8L282.5 247.9L282.7 252.2L283 247.9L283.2 250.3L283.5 247.5L283.7 248.9L284 245L284.2 249.6L284.5 244.7L284.7 250.6L285 245.9L285.2 248.6L285.4 245L285.7 249.9L285.9 245.9L286.2 249.6L286.4 241.8L286.7 248.6L286.9 245.1L287.2 248.7L287.4 244.9L287.7 250.1L287.9 242.7L288.2 246.5L288.4 242.6L288.7 247.3L288.9 242.2L289.2 248.8L289.4 243.1L289.6 246.6L289.9 241.2L290.1 245.7L290.4 240.8L290.6 243.2L290.9 237.9L291.1 242.1L291.4 238L291.6 245.1L291.9 237.5L292.1 242L292.4 237L292.6 243.9L292.9 233.2L293.1 242.8L293.4 234.6L293.6 240.9L293.8 234.7L294.1 238.6L294.3 231.6L294.6 240L294.8 231.1L295.1 237L295.3 230.4L295.6 236.4L295.8 229.7L296.1 235.2L296.3 227.9L296.6 237.3L296.8 228.8L297.1 232.9L297.3 227.1L297.6 233.8L297.8 227.4L298 233.1L298.3 226.4L298.5 232.5L298.8 226L299 231.1L299.3 228L299.5 233.8L299.8 229.1L300 236.8L300.3 230.1L300.5 236.4L300.8 230.2L301 238.3L301.3 230.6L301.5 237.2L301.8 234.3L302 239.5L302.2 236.4L302.5 241.5L302.7 235.8L303 245.4L303.2 239.1L303.5 248.4L303.7 243.1L304 247.6L304.2 240.7L304.5 247.7L304.7 243.6L305 253.1L305.2 245.2L305.5 254.3L305.7 249.6L306 255.2L306.2 249.2L306.4 255.2L306.7 250L306.9 254.4L307.2 252.5L307.4 255.5L307.7 254.6L307.9 256.6L308.2 255L308.4 257.2L308.7 255.7L308.9 257.9L309.2 255.4L309.4 258L309.7 255.5L309.9 258.1L310.2 257L310.4 258L310.6 256.3L310.9 258.3L311.1 258.3" stroke="#e8261c" stroke-width="1.2" fill="none" stroke-linejoin="round"/>
<path d="M274 252.8L274.1 252.7L274.3 251L274.4 250.8L274.6 248.9L274.7 248.8L274.8 246.9L275 245.4L275.1 243.6L275.3 240.7L275.4 239.6L275.5 238.2L275.7 236.2L275.8 233.8L276 231.3L276.1 229.8L276.2 229.2L276.4 228.4L276.5 226.4L276.7 225.5L276.8 225.5L276.9 226.2L277.1 226.9L277.2 227.6L277.4 229.1L277.5 230.9L277.6 231.5L277.8 233.3L277.9 235.6L278.1 237.2L278.2 239.9L278.3 241.8L278.5 242.9L278.6 245.4L278.8 245.9L278.9 248.8L279 249.6L279.2 251L279.3 251.4L279.5 251.4L279.6 252.8 Z" fill="#d7dbdb" stroke="#d7dbdb" stroke-width=".4"/>
<path d="M335.1 203.6H344" stroke="#5b7b70" stroke-width="2"/>
<text x="345.8" y="205.05" font-size="4.4" fill="#666" font-family="'Liberation Serif',serif">6</text>
<path d="M335.1 208.4H344" stroke="#e8261c" stroke-width="2"/>
<text x="345.8" y="209.85" font-size="4.4" fill="#666" font-family="'Liberation Serif',serif">53</text>
<path d="M335.1 213.2H344" stroke="#1a1ae8" stroke-width="2"/>
<text x="345.8" y="214.65" font-size="4.4" fill="#666" font-family="'Liberation Serif',serif">25</text>
<path d="M335.1 218H344" stroke="#3edc34" stroke-width="2"/>
<text x="345.8" y="219.45" font-size="4.4" fill="#666" font-family="'Liberation Serif',serif">59</text>
<path d="M335.1 222.8H344" stroke="#f29a38" stroke-width="2"/>
<text x="345.8" y="224.25" font-size="4.4" fill="#666" font-family="'Liberation Serif',serif">12</text>
<path d="M335.1 227.6H344" stroke="#000000" stroke-width="2"/>
<text x="345.8" y="229.05" font-size="4.4" fill="#666" font-family="'Liberation Serif',serif">5</text>
<text x="295.6" y="270" font-size="8" text-anchor="middle" font-family="'Liberation Serif',serif">CX3CR1</text>
<text x="275.1" y="207.5" font-size="11" font-weight="bold" stroke="#000" stroke-width=".3">G</text>
<text x="367.2" y="178.8" font-size="11.5" font-weight="bold" stroke="#000" stroke-width=".3">H</text>
<path d="M383.8 182.8V254.9 H517" stroke="#777" stroke-width=".5" fill="none"/>
<text x="381" y="256.5" font-size="4.4" text-anchor="end" fill="#222">1</text>
<path d="M382.9 254.9h.9" stroke="#777" stroke-width=".4"/>
<text x="381" y="248.55" font-size="4.4" text-anchor="end" fill="#222">2</text>
<path d="M382.9 246.95h.9" stroke="#777" stroke-width=".4"/>
<text x="381" y="240.6" font-size="4.4" text-anchor="end" fill="#222">3</text>
<path d="M382.9 239h.9" stroke="#777" stroke-width=".4"/>
<text x="381" y="232.65" font-size="4.4" text-anchor="end" fill="#222">4</text>
<path d="M382.9 231.05h.9" stroke="#777" stroke-width=".4"/>
<text x="381" y="224.7" font-size="4.4" text-anchor="end" fill="#222">5</text>
<path d="M382.9 223.1h.9" stroke="#777" stroke-width=".4"/>
<text x="381" y="216.75" font-size="4.4" text-anchor="end" fill="#222">6</text>
<path d="M382.9 215.15h.9" stroke="#777" stroke-width=".4"/>
<text x="381" y="208.8" font-size="4.4" text-anchor="end" fill="#222">7</text>
<path d="M382.9 207.2h.9" stroke="#777" stroke-width=".4"/>
<text x="381" y="200.85" font-size="4.4" text-anchor="end" fill="#222">8</text>
<path d="M382.9 199.25h.9" stroke="#777" stroke-width=".4"/>
<text x="381" y="192.9" font-size="4.4" text-anchor="end" fill="#222">9</text>
<path d="M382.9 191.3h.9" stroke="#777" stroke-width=".4"/>
<text x="381" y="184.95" font-size="4.4" text-anchor="end" fill="#222">10</text>
<path d="M382.9 183.35h.9" stroke="#777" stroke-width=".4"/>
<text x="374.6" y="216.6" font-size="8.1" text-anchor="middle" font-family="'Liberation Serif',serif" transform="rotate(-90 374.6 216.6)">Migration Index</text>
<rect x="387.75" y="215.79" width="4.6" height="39.11" fill="#c0c0c0" stroke="#858585" stroke-width=".55"/>
<path d="M390.05 225.33V206.25M389.25 206.25h1.6M389.25 225.33h1.6" stroke="#555" stroke-width=".45" fill="none"/>
<rect x="392.35" y="251.32" width="4.6" height="3.58" fill="#5e5e5e" stroke="#444" stroke-width=".5"/>
<path d="M394.65 252.12V250.53M393.85 250.53h1.6M393.85 252.12h1.6" stroke="#333" stroke-width=".45" fill="none"/>
<rect x="403.5" y="241.31" width="4.6" height="13.59" fill="#c0c0c0" stroke="#858585" stroke-width=".55"/>
<path d="M405.8 242.9V239.72M405 239.72h1.6M405 242.9h1.6" stroke="#555" stroke-width=".45" fill="none"/>
<rect x="408.1" y="205.21" width="4.6" height="49.69" fill="#5e5e5e" stroke="#444" stroke-width=".5"/>
<path d="M410.4 216.34V194.08M409.6 194.08h1.6M409.6 216.34h1.6" stroke="#333" stroke-width=".45" fill="none"/>
<rect x="421" y="237.17" width="4.6" height="17.73" fill="#c0c0c0" stroke="#858585" stroke-width=".55"/>
<path d="M423.3 239.56V234.79M422.5 234.79h1.6M422.5 239.56h1.6" stroke="#555" stroke-width=".45" fill="none"/>
<rect x="425.6" y="195.91" width="4.6" height="58.99" fill="#5e5e5e" stroke="#444" stroke-width=".5"/>
<path d="M427.9 207.84V183.99M427.1 183.99h1.6M427.1 207.84h1.6" stroke="#333" stroke-width=".45" fill="none"/>
<rect x="436.9" y="232.64" width="4.6" height="22.26" fill="#c0c0c0" stroke="#858585" stroke-width=".55"/>
<path d="M439.2 237.41V227.87M438.4 227.87h1.6M438.4 237.41h1.6" stroke="#555" stroke-width=".45" fill="none"/>
<rect x="441.5" y="250.29" width="4.6" height="4.61" fill="#5e5e5e" stroke="#444" stroke-width=".5"/>
<path d="M443.8 251.88V248.7M443 248.7h1.6M443 251.88h1.6" stroke="#333" stroke-width=".45" fill="none"/>
<rect x="453.8" y="246.16" width="4.6" height="8.75" fill="#c0c0c0" stroke="#858585" stroke-width=".55"/>
<path d="M456.1 247.59V244.72M455.3 244.72h1.6M455.3 247.59h1.6" stroke="#555" stroke-width=".45" fill="none"/>
<rect x="458.4" y="254.42" width="4.6" height="0.5" fill="#5e5e5e" stroke="#444" stroke-width=".5"/>
<path d="M460.7 254.82V254.03M459.9 254.03h1.6M459.9 254.82h1.6" stroke="#333" stroke-width=".45" fill="none"/>
<rect x="470" y="246.71" width="4.6" height="8.19" fill="#c0c0c0" stroke="#858585" stroke-width=".55"/>
<path d="M472.3 248.3V245.12M471.5 245.12h1.6M471.5 248.3h1.6" stroke="#555" stroke-width=".45" fill="none"/>
<rect x="474.6" y="253.95" width="4.6" height="0.95" fill="#5e5e5e" stroke="#444" stroke-width=".5"/>
<path d="M476.9 254.34V253.55M476.1 253.55h1.6M476.1 254.34h1.6" stroke="#333" stroke-width=".45" fill="none"/>
<rect x="486" y="251.8" width="4.6" height="3.1" fill="#c0c0c0" stroke="#858585" stroke-width=".55"/>
<path d="M488.3 252.59V251M487.5 251h1.6M487.5 252.59h1.6" stroke="#555" stroke-width=".45" fill="none"/>
<rect x="490.6" y="254.26" width="4.6" height="0.64" fill="#5e5e5e" stroke="#444" stroke-width=".5"/>
<path d="M492.9 254.66V253.87M492.1 253.87h1.6M492.1 254.66h1.6" stroke="#333" stroke-width=".45" fill="none"/>
<rect x="503" y="239.16" width="4.6" height="15.74" fill="#c0c0c0" stroke="#858585" stroke-width=".55"/>
<path d="M505.3 243.53V234.79M504.5 234.79h1.6M504.5 243.53h1.6" stroke="#555" stroke-width=".45" fill="none"/>
<rect x="507.6" y="253.23" width="4.6" height="1.67" fill="#5e5e5e" stroke="#444" stroke-width=".5"/>
<path d="M509.9 254.03V252.44M509.1 252.44h1.6M509.1 254.03h1.6" stroke="#333" stroke-width=".45" fill="none"/>
<text x="390" y="203.8" font-size="4.7" text-anchor="middle" fill="#222">5.92</text>
<text x="396.8" y="249.6" font-size="4.7" text-anchor="middle" fill="#222">1.45</text>
<text x="404" y="237.4" font-size="4.7" text-anchor="middle" fill="#222">2.71</text>
<text x="411" y="193" font-size="4.7" text-anchor="middle" fill="#222">7.25</text>
<text x="424.2" y="232.2" font-size="4.7" text-anchor="middle" fill="#222">3.23</text>
<text x="427.6" y="181.5" font-size="4.7" text-anchor="middle" fill="#222">8.42</text>
<text x="439.4" y="226.9" font-size="4.7" text-anchor="middle" fill="#222">3.80</text>
<text x="446.6" y="246.9" font-size="4.7" text-anchor="middle" fill="#222">1.58</text>
<text x="456.3" y="243.8" font-size="4.7" text-anchor="middle" fill="#222">2.10</text>
<text x="463.5" y="252.6" font-size="4.7" text-anchor="middle" fill="#222">1.06</text>
<text x="472.6" y="243.8" font-size="4.7" text-anchor="middle" fill="#222">2.03</text>
<text x="480.6" y="252.6" font-size="4.7" text-anchor="middle" fill="#222">1.12</text>
<text x="492" y="248" font-size="4.7" text-anchor="middle" fill="#222">1.39</text>
<text x="496.6" y="253" font-size="4.7" text-anchor="middle" fill="#222">1.08</text>
<text x="506.6" y="233" font-size="4.7" text-anchor="middle" fill="#222">2.98</text>
<text x="514" y="252" font-size="4.7" text-anchor="middle" fill="#222">1.21</text>
<text x="392.35" y="261.2" font-size="4.2" text-anchor="middle" stroke="#000" stroke-width=".12">CXCL8</text>
<text x="392.35" y="266.3" font-size="2.95" text-anchor="middle" fill="#222" font-family="'Liberation Serif',serif">(100 ng/mL)</text>
<text x="392.35" y="270.4" font-size="3" text-anchor="middle" fill="#222" font-family="'Liberation Serif',serif">(CXCR1)</text>
<text x="408.1" y="261.2" font-size="4.2" text-anchor="middle" stroke="#000" stroke-width=".12">CXCL9</text>
<text x="408.1" y="266.3" font-size="2.95" text-anchor="middle" fill="#222" font-family="'Liberation Serif',serif">(250 ng/mL)</text>
<text x="408.1" y="270.4" font-size="3" text-anchor="middle" fill="#222" font-family="'Liberation Serif',serif">(CXCR3)</text>
<text x="425.6" y="261.2" font-size="4.2" text-anchor="middle" stroke="#000" stroke-width=".12">CXCL10</text>
<text x="425.6" y="266.3" font-size="2.95" text-anchor="middle" fill="#222" font-family="'Liberation Serif',serif">(150 ng/mL)</text>
<text x="425.6" y="270.4" font-size="3" text-anchor="middle" fill="#222" font-family="'Liberation Serif',serif">(CXCR3)</text>
<text x="441.5" y="261.2" font-size="4.2" text-anchor="middle" stroke="#000" stroke-width=".12">CXCL12</text>
<text x="441.5" y="266.3" font-size="2.95" text-anchor="middle" fill="#222" font-family="'Liberation Serif',serif">(125 ng/mL)</text>
<text x="441.5" y="270.4" font-size="3" text-anchor="middle" fill="#222" font-family="'Liberation Serif',serif">(CXCR4)</text>
<text x="458.4" y="261.2" font-size="4.2" text-anchor="middle" stroke="#000" stroke-width=".12">CCL2</text>
<text x="458.4" y="266.3" font-size="2.95" text-anchor="middle" fill="#222" font-family="'Liberation Serif',serif">(75 ng/mL)</text>
<text x="458.4" y="270.4" font-size="3" text-anchor="middle" fill="#222" font-family="'Liberation Serif',serif">(CCR2)</text>
<text x="474.6" y="261.2" font-size="4.2" text-anchor="middle" stroke="#000" stroke-width=".12">CCL3</text>
<text x="474.6" y="266.3" font-size="2.95" text-anchor="middle" fill="#222" font-family="'Liberation Serif',serif">(150 ng/mL)</text>
<text x="474.6" y="270.4" font-size="3" text-anchor="middle" fill="#222" font-family="'Liberation Serif',serif">(CCR5)</text>
<text x="490.6" y="261.2" font-size="4.2" text-anchor="middle" stroke="#000" stroke-width=".12">CCL11</text>
<text x="490.6" y="266.3" font-size="2.95" text-anchor="middle" fill="#222" font-family="'Liberation Serif',serif">(250 ng/mL)</text>
<text x="490.6" y="270.4" font-size="3" text-anchor="middle" fill="#222" font-family="'Liberation Serif',serif">(CCR3)</text>
<text x="507.6" y="261.2" font-size="4.2" text-anchor="middle" stroke="#000" stroke-width=".12">CCL21</text>
<text x="507.6" y="266.3" font-size="2.95" text-anchor="middle" fill="#222" font-family="'Liberation Serif',serif">(250 ng/mL)</text>
<text x="507.6" y="270.4" font-size="3" text-anchor="middle" fill="#222" font-family="'Liberation Serif',serif">(CCR7)</text>
<rect x="447" y="190" width="4.5" height="4.5" fill="#c3c3c3" stroke="#999" stroke-width=".4"/>
<rect x="447" y="204.7" width="4.5" height="4.5" fill="#5e5e5e" stroke="#444" stroke-width=".4"/>
<text x="455.4" y="192.2" font-size="4.5" font-weight="bold" font-family="'Liberation Serif',serif">Unactivated peripheral blood</text>
<text x="455.4" y="197.8" font-size="4.5" font-weight="bold" font-family="'Liberation Serif',serif">CD3-CD56<tspan font-size="2.8" dy="-1.4">+</tspan><tspan dy="1.4"> NK cells</tspan></text>
<text x="455.4" y="206.1" font-size="4.5" font-weight="bold" font-family="'Liberation Serif',serif">Peripheral blood</text>
<text x="455.4" y="211.6" font-size="4.5" font-weight="bold" font-family="'Liberation Serif',serif">CD3-CD56<tspan font-size="2.8" dy="-1.4">+</tspan><tspan dy="1.4"> CANK cells</tspan></text>
</svg>
</body></html>
